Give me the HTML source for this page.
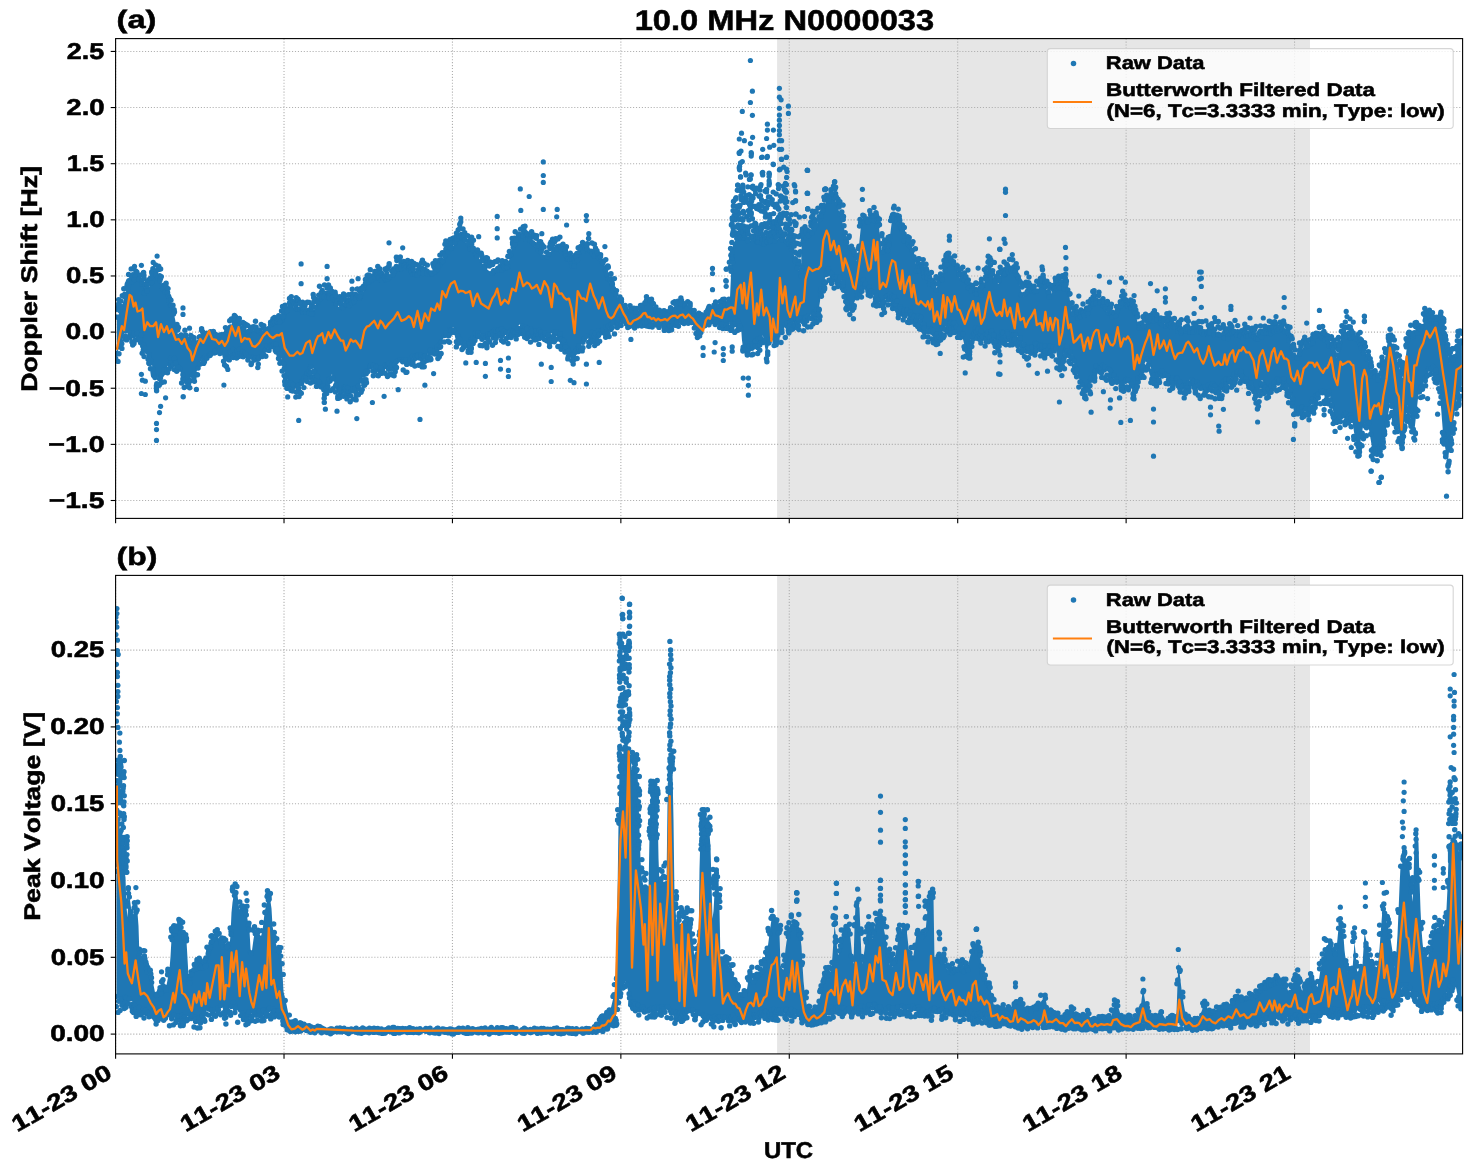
<!DOCTYPE html><html><head><meta charset="utf-8"><style>html,body{margin:0;padding:0;background:#fff;overflow:hidden}svg{display:block}</style></head><body><svg width="1472" height="1172" viewBox="0 0 1472 1172"><rect x="777.1" y="38.6" width="532.9" height="479.8" fill="#e6e6e6"/>
<g stroke="#b0b0b0" stroke-width="1.1" stroke-dasharray="1.11 1.83"><line x1="115.60" y1="38.6" x2="115.60" y2="518.4"/><line x1="284.02" y1="38.6" x2="284.02" y2="518.4"/><line x1="452.44" y1="38.6" x2="452.44" y2="518.4"/><line x1="620.86" y1="38.6" x2="620.86" y2="518.4"/><line x1="789.28" y1="38.6" x2="789.28" y2="518.4"/><line x1="957.70" y1="38.6" x2="957.70" y2="518.4"/><line x1="1126.12" y1="38.6" x2="1126.12" y2="518.4"/><line x1="1294.54" y1="38.6" x2="1294.54" y2="518.4"/><line x1="115.6" y1="51.43" x2="1462.6" y2="51.43"/><line x1="115.6" y1="107.56" x2="1462.6" y2="107.56"/><line x1="115.6" y1="163.70" x2="1462.6" y2="163.70"/><line x1="115.6" y1="219.83" x2="1462.6" y2="219.83"/><line x1="115.6" y1="275.97" x2="1462.6" y2="275.97"/><line x1="115.6" y1="332.10" x2="1462.6" y2="332.10"/><line x1="115.6" y1="388.24" x2="1462.6" y2="388.24"/><line x1="115.6" y1="444.37" x2="1462.6" y2="444.37"/><line x1="115.6" y1="500.50" x2="1462.6" y2="500.50"/></g>
<svg x="115.6" y="38.6" width="1347" height="479.8" overflow="hidden"><g transform="translate(-115.6,-38.6)">
<polygon points="116.9,318.4 117.9,316.0 118.9,313.6 119.9,311.2 120.9,308.8 121.9,306.3 122.9,302.7 123.9,299.2 124.9,295.6 125.9,292.1 126.9,288.9 127.9,287.6 128.9,286.2 129.9,284.9 130.9,283.7 131.9,282.5 132.9,281.3 133.9,280.1 134.9,279.3 135.9,279.1 136.9,279.0 137.9,278.9 138.9,278.7 139.9,278.6 140.9,278.4 141.9,279.9 142.9,283.3 143.9,286.7 144.9,290.1 145.9,293.5 146.9,293.5 147.9,290.6 148.9,287.7 149.9,284.9 150.9,282.0 151.9,279.2 152.9,276.3 153.9,275.1 154.9,274.6 155.9,274.1 156.9,273.6 157.9,275.1 158.9,277.2 159.9,279.4 160.9,281.5 161.9,283.6 162.9,285.8 163.9,287.9 164.9,290.3 165.9,292.7 166.9,295.1 167.9,297.5 168.9,299.9 169.9,302.1 170.9,304.4 171.9,306.6 172.9,309.0 173.9,313.7 174.9,318.4 175.9,323.3 176.9,329.6 177.9,334.7 178.9,336.0 179.9,337.6 180.9,339.3 181.9,341.0 182.9,342.2 183.9,342.6 184.9,342.9 185.9,343.2 186.9,343.6 187.9,343.9 188.9,344.6 189.9,345.6 190.9,345.9 191.9,346.2 192.9,346.0 193.9,345.3 194.9,344.5 195.9,343.7 196.9,342.6 197.9,341.0 198.9,339.5 199.9,338.0 200.9,336.5 201.9,335.5 202.9,335.2 203.9,335.0 204.9,334.8 205.9,334.6 206.9,334.5 207.9,334.3 208.9,334.1 209.9,333.9 210.9,334.1 211.9,334.4 212.9,334.6 213.9,334.9 214.9,335.1 215.9,335.4 216.9,335.6 217.9,335.9 218.9,336.1 219.9,336.4 220.9,336.3 221.9,336.3 222.9,336.2 223.9,336.1 224.9,334.7 225.9,333.3 226.9,331.9 227.9,330.6 228.9,329.2 229.9,327.9 230.9,326.5 231.9,325.2 232.9,324.3 233.9,323.7 234.9,324.0 235.9,324.4 236.9,324.8 237.9,325.2 238.9,325.6 239.9,326.1 240.9,326.8 241.9,327.5 242.9,328.2 243.9,328.9 244.9,329.6 245.9,330.3 246.9,331.0 247.9,331.3 248.9,331.1 249.9,331.0 250.9,330.9 251.9,330.8 252.9,330.6 253.9,330.5 254.9,330.4 255.9,330.5 256.9,330.8 257.9,331.2 258.9,331.5 259.9,331.8 260.9,332.1 261.9,332.1 262.9,331.9 263.9,331.2 264.9,330.3 265.9,329.5 266.9,328.6 267.9,328.3 268.9,328.0 269.9,327.1 270.9,326.2 271.9,325.2 272.9,324.2 273.9,323.4 274.9,322.6 275.9,322.4 276.9,322.2 277.9,322.0 278.9,321.9 279.9,321.7 280.9,321.4 281.9,319.8 282.9,317.3 283.9,314.8 284.9,312.3 285.9,309.8 286.9,307.3 287.9,304.8 288.9,303.1 289.9,303.9 290.9,304.7 291.9,305.5 292.9,306.4 293.9,307.2 294.9,308.0 295.9,308.8 296.9,309.6 297.9,310.2 298.9,310.6 299.9,310.9 300.9,311.2 301.9,311.6 302.9,311.9 303.9,312.2 304.9,312.6 305.9,312.9 306.9,313.2 307.9,313.6 308.9,313.9 309.9,314.2 310.9,314.6 311.9,314.9 312.9,313.3 313.9,310.3 314.9,307.3 315.9,304.3 316.9,301.3 317.9,299.7 318.9,299.1 319.9,298.4 320.9,297.7 321.9,297.1 322.9,296.4 323.9,295.7 324.9,295.4 325.9,296.0 326.9,296.7 327.9,297.4 328.9,298.0 329.9,298.7 330.9,299.4 331.9,300.0 332.9,301.0 333.9,302.0 334.9,303.0 335.9,304.0 336.9,305.0 337.9,306.0 338.9,307.0 339.9,307.5 340.9,307.1 341.9,306.8 342.9,306.5 343.9,306.1 344.9,305.8 345.9,305.5 346.9,305.1 347.9,304.5 348.9,303.8 349.9,303.2 350.9,302.5 351.9,301.8 352.9,301.2 353.9,300.5 354.9,299.8 355.9,299.2 356.9,298.5 357.9,297.8 358.9,297.2 359.9,296.5 360.9,295.8 361.9,295.0 362.9,292.5 363.9,290.0 364.9,287.5 365.9,285.0 366.9,282.8 367.9,282.1 368.9,281.4 369.9,280.8 370.9,280.1 371.9,279.4 372.9,278.8 373.9,278.1 374.9,278.1 375.9,278.3 376.9,278.6 377.9,278.8 378.9,279.1 379.9,279.3 380.9,279.6 381.9,279.8 382.9,280.1 383.9,280.3 384.9,279.8 385.9,279.0 386.9,278.3 387.9,277.5 388.9,276.8 389.9,276.0 390.9,275.3 391.9,274.5 392.9,273.8 393.9,273.0 394.9,272.3 395.9,271.5 396.9,270.8 397.9,270.0 398.9,269.3 399.9,268.5 400.9,267.8 401.9,267.0 402.9,266.3 403.9,265.5 404.9,266.5 405.9,267.5 406.9,268.5 407.9,269.5 408.9,270.5 409.9,271.5 410.9,272.5 411.9,273.5 412.9,274.5 413.9,275.4 414.9,275.1 415.9,274.9 416.9,274.6 417.9,274.4 418.9,274.1 419.9,273.9 420.9,273.6 421.9,273.4 422.9,273.1 423.9,273.0 424.9,273.3 425.9,273.7 426.9,274.0 427.9,274.3 428.9,274.7 429.9,275.0 430.9,275.3 431.9,274.7 432.9,273.7 433.9,272.7 434.9,271.7 435.9,270.7 436.9,269.7 437.9,268.7 438.9,267.3 439.9,265.3 440.9,263.3 441.9,261.3 442.9,259.3 443.9,257.3 444.9,255.3 445.9,253.3 446.9,252.2 447.9,251.2 448.9,250.2 449.9,249.2 450.9,248.2 451.9,247.2 452.9,246.2 453.9,245.1 454.9,243.8 455.9,242.4 456.9,241.1 457.9,239.8 458.9,238.4 459.9,237.1 460.9,235.8 461.9,237.2 462.9,238.5 463.9,239.8 464.9,241.2 465.9,242.5 466.9,243.8 467.9,245.2 468.9,246.4 469.9,247.4 470.9,248.5 471.9,249.6 472.9,250.7 473.9,251.8 474.9,252.8 475.9,253.9 476.9,255.0 477.9,256.3 478.9,258.0 479.9,259.7 480.9,261.3 481.9,263.0 482.9,264.7 483.9,266.3 484.9,268.0 485.9,268.7 486.9,269.3 487.9,270.0 488.9,270.7 489.9,271.3 490.9,272.0 491.9,272.7 492.9,272.7 493.9,272.4 494.9,272.1 495.9,271.7 496.9,271.4 497.9,271.1 498.9,270.7 499.9,270.4 500.9,270.1 501.9,269.7 502.9,269.4 503.9,269.1 504.9,268.7 505.9,268.4 506.9,268.1 507.9,265.1 508.9,261.1 509.9,257.1 510.9,253.1 511.9,249.1 512.9,246.9 513.9,245.2 514.9,243.5 515.9,241.9 516.9,240.2 517.9,238.5 518.9,236.9 519.9,236.0 520.9,236.5 521.9,237.0 522.9,237.5 523.9,238.0 524.9,238.5 525.9,239.0 526.9,239.5 527.9,240.0 528.9,240.5 529.9,241.2 530.9,242.2 531.9,243.2 532.9,244.2 533.9,245.2 534.9,246.2 535.9,247.2 536.9,248.2 537.9,249.5 538.9,250.9 539.9,252.2 540.9,253.5 541.9,254.9 542.9,256.2 543.9,257.5 544.9,257.5 545.9,256.5 546.9,255.5 547.9,254.5 548.9,253.5 549.9,252.5 550.9,251.5 551.9,250.6 552.9,250.3 553.9,249.9 554.9,249.6 555.9,249.3 556.9,248.9 557.9,248.6 558.9,248.3 559.9,249.2 560.9,250.5 561.9,251.8 562.9,253.2 563.9,254.5 564.9,255.8 565.9,257.2 566.9,258.5 567.9,259.8 568.9,261.2 569.9,262.5 570.9,263.8 571.9,265.2 572.9,266.5 573.9,267.8 574.9,265.3 575.9,262.3 576.9,259.3 577.9,256.3 578.9,253.3 579.9,252.5 580.9,251.8 581.9,251.2 582.9,250.5 583.9,249.8 584.9,249.2 585.9,248.5 586.9,248.7 587.9,249.7 588.9,250.7 589.9,251.7 590.9,252.7 591.9,253.7 592.9,254.7 593.9,255.7 594.9,256.4 595.9,257.2 596.9,257.9 597.9,258.7 598.9,259.4 599.9,260.2 600.9,260.9 601.9,261.7 602.9,262.4 603.9,263.6 604.9,267.1 605.9,270.6 606.9,274.1 607.9,277.6 608.9,280.8 609.9,282.8 610.9,284.8 611.9,286.8 612.9,288.8 613.9,290.5 614.9,292.6 615.9,294.8 616.9,297.0 617.9,298.5 618.9,299.8 619.9,301.2 620.9,302.7 621.9,303.4 622.9,304.1 623.9,304.9 624.9,305.9 625.9,306.9 626.9,307.9 627.9,308.9 628.9,309.7 629.9,310.1 630.9,310.5 631.9,310.6 632.9,310.6 633.9,310.7 634.9,310.7 635.9,310.8 636.9,310.8 637.9,310.9 638.9,310.2 639.9,308.9 640.9,307.6 641.9,306.3 642.9,305.0 643.9,303.7 644.9,302.4 645.9,301.2 646.9,301.2 647.9,301.2 648.9,301.2 649.9,301.2 650.9,301.2 651.9,301.2 652.9,304.1 653.9,307.1 654.9,310.2 655.9,311.8 656.9,312.0 657.9,312.2 658.9,312.5 659.9,312.8 660.9,313.1 661.9,313.4 662.9,313.8 663.9,314.1 664.9,314.5 665.9,314.9 666.9,315.2 667.9,314.7 668.9,313.3 669.9,311.8 670.9,310.3 671.9,308.8 672.9,307.6 673.9,306.6 674.9,305.7 675.9,304.9 676.9,304.6 677.9,304.2 678.9,303.8 679.9,303.5 680.9,303.1 681.9,302.8 682.9,303.9 683.9,304.9 684.9,306.0 685.9,307.0 686.9,306.7 687.9,306.1 688.9,305.4 689.9,305.8 690.9,307.9 691.9,310.4 692.9,313.2 693.9,314.0 694.9,314.8 695.9,315.6 696.9,316.0 697.9,316.1 698.9,316.2 699.9,316.5 700.9,317.3 701.9,318.0 702.9,318.5 703.9,319.0 704.9,317.1 705.9,315.0 706.9,312.9 707.9,310.8 708.9,309.6 709.9,309.1 710.9,308.6 711.9,308.1 712.9,307.5 713.9,307.0 714.9,306.5 715.9,306.2 716.9,305.9 717.9,305.7 718.9,305.4 719.9,305.2 720.9,304.9 721.9,304.6 722.9,304.7 723.9,304.8 724.9,305.0 725.9,305.1 726.9,305.2 727.9,305.1 728.9,300.6 729.9,300.1 730.9,277.1 731.9,259.6 732.9,243.3 733.9,242.3 734.9,241.3 735.9,240.3 736.9,239.3 737.9,238.3 738.9,237.3 739.9,237.2 740.9,237.5 741.9,237.8 742.9,238.1 743.9,238.4 744.9,238.7 745.9,239.0 746.9,239.3 747.9,239.6 748.9,239.9 749.9,240.2 750.9,240.5 751.9,240.8 752.9,241.0 753.9,241.2 754.9,241.4 755.9,241.6 756.9,241.8 757.9,242.0 758.9,242.2 759.9,242.4 760.9,242.6 761.9,242.8 762.9,243.0 763.9,243.2 764.9,243.4 765.9,243.1 766.9,242.9 767.9,242.6 768.9,242.4 769.9,242.1 770.9,241.9 771.9,241.6 772.9,241.4 773.9,241.1 774.9,240.9 775.9,240.2 776.9,239.5 777.9,238.7 778.9,238.0 779.9,237.2 780.9,237.6 781.9,238.5 782.9,239.4 783.9,240.3 784.9,241.2 785.9,242.1 786.9,243.0 787.9,243.9 788.9,244.7 789.9,245.6 790.9,246.5 791.9,247.9 792.9,251.3 793.9,254.7 794.9,258.1 795.9,261.5 796.9,264.9 797.9,268.3 798.9,271.0 799.9,273.5 800.9,276.0 801.9,237.5 802.9,240.0 803.9,240.0 804.9,238.9 805.9,237.7 806.9,236.6 807.9,235.4 808.9,234.3 809.9,233.1 810.9,232.0 811.9,230.9 812.9,229.5 813.9,228.0 814.9,226.5 815.9,225.0 816.9,223.5 817.9,222.0 818.9,220.5 819.9,219.0 820.9,217.5 821.9,216.0 822.9,213.6 823.9,210.2 824.9,206.9 825.9,203.6 826.9,201.8 827.9,201.0 828.9,200.2 829.9,199.3 830.9,198.5 831.9,197.7 832.9,196.8 833.9,196.0 834.9,198.9 835.9,201.9 836.9,204.9 837.9,207.9 838.9,210.9 839.9,213.9 840.9,216.9 841.9,220.1 842.9,223.9 843.9,227.7 844.9,231.5 845.9,235.3 846.9,239.1 847.9,242.9 848.9,245.1 849.9,247.1 850.9,249.1 851.9,251.1 852.9,253.1 853.9,255.1 854.9,257.1 855.9,259.1 856.9,260.7 857.9,256.5 858.9,246.5 859.9,236.5 860.9,226.5 861.9,221.2 862.9,221.6 863.9,221.9 864.9,222.2 865.9,222.6 866.9,222.9 867.9,223.0 868.9,222.5 869.9,222.0 870.9,221.5 871.9,221.0 872.9,220.5 873.9,220.0 874.9,219.5 875.9,219.0 876.9,218.5 877.9,218.7 878.9,226.9 879.9,235.2 880.9,243.4 881.9,251.7 882.9,251.8 883.9,251.8 884.9,251.8 885.9,251.8 886.9,251.8 887.9,251.8 888.9,245.0 889.9,237.0 890.9,229.0 891.9,221.0 892.9,219.5 893.9,220.2 894.9,220.9 895.9,221.5 896.9,222.2 897.9,222.9 898.9,224.7 899.9,227.2 900.9,229.7 901.9,232.2 902.9,234.7 903.9,237.2 904.9,239.7 905.9,242.2 906.9,244.1 907.9,245.4 908.9,246.6 909.9,247.9 910.9,249.1 911.9,250.4 912.9,251.6 913.9,252.9 914.9,255.7 915.9,263.7 916.9,270.3 917.9,270.6 918.9,270.9 919.9,271.3 920.9,271.6 921.9,271.9 922.9,272.3 923.9,273.7 924.9,275.0 925.9,276.3 926.9,277.7 927.9,279.0 928.9,280.3 929.9,282.0 930.9,283.6 931.9,285.3 932.9,287.0 933.9,288.6 934.9,290.3 935.9,289.2 936.9,287.2 937.9,285.2 938.9,283.2 939.9,281.2 940.9,279.2 941.9,276.5 942.9,273.5 943.9,270.5 944.9,267.5 945.9,264.5 946.9,261.5 947.9,260.2 948.9,260.7 949.9,261.2 950.9,261.7 951.9,262.2 952.9,262.7 953.9,263.2 954.9,263.7 955.9,265.1 956.9,268.6 957.9,272.1 958.9,275.6 959.9,278.5 960.9,278.8 961.9,279.1 962.9,279.5 963.9,279.8 964.9,280.1 965.9,280.6 966.9,282.6 967.9,284.6 968.9,286.6 969.9,288.6 970.9,290.6 971.9,292.6 972.9,293.0 973.9,293.2 974.9,293.1 975.9,292.7 976.9,293.1 977.9,293.7 978.9,294.4 979.9,294.7 980.9,292.6 981.9,289.6 982.9,286.6 983.9,283.6 984.9,280.6 985.9,277.6 986.9,273.2 987.9,267.9 988.9,262.6 989.9,262.0 990.9,266.0 991.9,270.0 992.9,274.0 993.9,278.0 994.9,280.8 995.9,281.6 996.9,282.4 997.9,283.2 998.9,284.0 999.9,277.8 1000.9,274.7 1001.9,274.7 1002.9,274.7 1003.9,274.7 1004.9,274.7 1005.9,274.7 1006.9,274.0 1007.9,273.0 1008.9,272.0 1009.9,271.0 1010.9,270.0 1011.9,269.0 1012.9,269.5 1013.9,271.2 1014.9,272.9 1015.9,274.5 1016.9,276.2 1017.9,277.9 1018.9,280.8 1019.9,285.3 1020.9,289.8 1021.9,294.3 1022.9,296.8 1023.9,295.4 1024.9,294.1 1025.9,292.8 1026.9,291.4 1027.9,290.1 1028.9,289.1 1029.9,289.3 1030.9,289.6 1031.9,289.8 1032.9,290.1 1033.9,290.3 1034.9,290.6 1035.9,290.8 1036.9,291.0 1037.9,289.4 1038.9,287.7 1039.9,286.0 1040.9,284.4 1041.9,282.7 1042.9,281.0 1043.9,283.2 1044.9,285.9 1045.9,288.5 1046.9,291.2 1047.9,293.9 1048.9,296.5 1049.9,296.0 1050.9,294.3 1051.9,292.7 1052.9,291.0 1053.9,289.3 1054.9,287.7 1055.9,287.2 1056.9,287.5 1057.9,287.9 1058.9,288.2 1059.9,288.5 1060.9,288.9 1061.9,288.7 1062.9,288.1 1063.9,287.4 1064.9,286.7 1065.9,286.1 1066.9,285.4 1067.9,287.0 1068.9,293.5 1069.9,300.0 1070.9,306.5 1071.9,311.8 1072.9,312.8 1073.9,313.8 1074.9,314.8 1075.9,315.8 1076.9,316.8 1077.9,317.7 1078.9,317.4 1079.9,317.2 1080.9,316.9 1081.9,316.7 1082.9,316.4 1083.9,316.2 1084.9,315.9 1085.9,315.7 1086.9,313.9 1087.9,311.9 1088.9,309.9 1089.9,307.9 1090.9,305.9 1091.9,303.9 1092.9,303.4 1093.9,303.4 1094.9,303.4 1095.9,303.4 1096.9,303.4 1097.9,303.4 1098.9,303.4 1099.9,303.4 1100.9,304.1 1101.9,305.5 1102.9,306.8 1103.9,308.1 1104.9,309.5 1105.9,310.8 1106.9,311.9 1107.9,312.6 1108.9,313.4 1109.9,314.1 1110.9,314.9 1111.9,315.6 1112.9,316.4 1113.9,317.1 1114.9,317.3 1115.9,315.5 1116.9,313.8 1117.9,312.0 1118.9,310.3 1119.9,308.5 1120.9,306.8 1121.9,305.0 1122.9,303.4 1123.9,304.1 1124.9,304.9 1125.9,305.6 1126.9,306.4 1127.9,307.1 1128.9,307.9 1129.9,308.6 1130.9,309.4 1131.9,309.9 1132.9,310.4 1133.9,310.9 1134.9,311.4 1135.9,315.0 1136.9,319.5 1137.9,324.0 1138.9,328.5 1139.9,329.3 1140.9,328.3 1141.9,327.3 1142.9,326.3 1143.9,325.3 1144.9,324.3 1145.9,323.3 1146.9,322.3 1147.9,321.7 1148.9,321.4 1149.9,321.2 1150.9,320.9 1151.9,320.7 1152.9,320.4 1153.9,320.2 1154.9,319.9 1155.9,320.0 1156.9,320.7 1157.9,321.5 1158.9,322.2 1159.9,323.0 1160.9,323.7 1161.9,324.5 1162.9,325.2 1163.9,325.9 1164.9,325.9 1165.9,325.9 1166.9,325.9 1167.9,325.9 1168.9,325.9 1169.9,325.9 1170.9,325.9 1171.9,325.9 1172.9,326.6 1173.9,327.3 1174.9,328.1 1175.9,328.8 1176.9,329.6 1177.9,330.3 1178.9,331.1 1179.9,331.8 1180.9,331.8 1181.9,331.6 1182.9,331.3 1183.9,331.1 1184.9,330.8 1185.9,330.6 1186.9,330.3 1187.9,330.1 1188.9,331.1 1189.9,333.3 1190.9,333.0 1191.9,332.4 1192.9,331.7 1193.9,331.0 1194.9,330.4 1195.9,329.7 1196.9,330.0 1197.9,330.7 1198.9,331.3 1199.9,332.0 1200.9,332.7 1201.9,333.3 1202.9,333.6 1203.9,333.6 1204.9,333.6 1205.9,333.6 1206.9,333.6 1207.9,333.6 1208.9,333.6 1209.9,333.6 1210.9,333.6 1211.9,333.6 1212.9,333.6 1213.9,333.6 1214.9,333.6 1215.9,333.6 1216.9,333.6 1217.9,333.6 1218.9,333.7 1219.9,334.2 1220.9,334.7 1221.9,335.2 1222.9,335.7 1223.9,336.2 1224.9,336.7 1225.9,337.2 1226.9,337.7 1227.9,336.7 1228.9,335.7 1229.9,334.7 1230.9,333.7 1231.9,332.7 1232.9,331.7 1233.9,332.2 1234.9,333.0 1235.9,333.7 1236.9,334.5 1237.9,335.1 1238.9,335.5 1239.9,336.3 1240.9,337.2 1241.9,337.5 1242.9,337.3 1243.9,337.0 1244.9,336.8 1245.9,336.5 1246.9,336.3 1247.9,336.0 1248.9,335.8 1249.9,335.9 1250.9,336.4 1251.9,336.9 1252.9,337.4 1253.9,337.9 1254.9,338.4 1255.9,338.9 1256.9,339.4 1257.9,339.4 1258.9,338.4 1259.9,337.4 1260.9,336.4 1261.9,335.4 1262.9,334.4 1263.9,333.6 1264.9,333.6 1265.9,333.6 1266.9,333.6 1267.9,333.6 1268.9,333.6 1269.9,333.6 1270.9,333.6 1271.9,333.6 1272.9,333.1 1273.9,332.6 1274.9,332.1 1275.9,331.6 1276.9,331.1 1277.9,330.6 1278.9,330.1 1279.9,329.6 1280.9,329.9 1281.9,330.4 1282.9,330.9 1283.9,331.4 1284.9,331.9 1285.9,332.4 1286.9,332.9 1287.9,333.4 1288.9,336.0 1289.9,340.0 1290.9,344.0 1291.9,348.0 1292.9,351.3 1293.9,353.8 1294.9,356.3 1295.9,358.8 1296.9,359.4 1297.9,357.4 1298.9,355.4 1299.9,353.4 1300.9,351.4 1301.9,349.4 1302.9,347.9 1303.9,347.6 1304.9,347.4 1305.9,347.1 1306.9,346.9 1307.9,346.6 1308.9,346.4 1309.9,346.1 1310.9,345.7 1311.9,344.1 1312.9,342.4 1313.9,340.7 1314.9,339.1 1315.9,337.4 1316.9,335.7 1317.9,336.1 1318.9,336.6 1319.9,337.1 1320.9,337.6 1321.9,338.1 1322.9,338.6 1323.9,339.1 1324.9,339.6 1325.9,340.9 1326.9,342.4 1327.9,343.9 1328.9,345.4 1329.9,346.9 1330.9,348.4 1331.9,349.9 1332.9,351.4 1333.9,352.9 1334.9,354.4 1335.9,355.9 1336.9,357.4 1337.9,355.3 1338.9,349.3 1339.9,343.3 1340.9,337.3 1341.9,333.8 1342.9,334.3 1343.9,334.8 1344.9,335.3 1345.9,335.8 1346.9,336.3 1347.9,336.8 1348.9,337.3 1349.9,337.7 1350.9,337.6 1351.9,337.5 1352.9,337.4 1353.9,337.3 1354.9,337.8 1355.9,339.1 1356.9,340.4 1357.9,341.8 1358.9,343.1 1359.9,344.4 1360.9,345.8 1361.9,347.4 1362.9,349.0 1363.9,350.7 1364.9,352.4 1365.9,354.0 1366.9,355.7 1367.9,357.7 1368.9,361.7 1369.9,365.7 1370.9,369.7 1371.9,373.7 1372.9,375.6 1373.9,376.6 1374.9,377.6 1375.9,378.6 1376.9,379.6 1377.9,380.6 1378.9,381.5 1379.9,378.5 1380.9,375.5 1381.9,372.5 1382.9,369.5 1383.9,364.7 1384.9,358.7 1385.9,352.7 1386.9,346.7 1387.9,340.7 1388.9,335.1 1389.9,337.9 1390.9,340.7 1391.9,343.5 1392.9,346.3 1393.9,349.1 1394.9,352.3 1395.9,355.8 1396.9,359.3 1397.9,362.8 1398.9,366.2 1399.9,369.2 1400.9,372.2 1401.9,375.2 1402.9,378.2 1403.9,373.7 1404.9,364.7 1405.9,355.7 1406.9,346.7 1407.9,339.3 1408.9,338.6 1409.9,338.0 1410.9,337.3 1411.9,336.6 1412.9,336.0 1413.9,335.3 1414.9,334.4 1415.9,333.4 1416.9,332.4 1417.9,331.4 1418.9,330.4 1419.9,329.4 1420.9,328.4 1421.9,326.6 1422.9,324.6 1423.9,322.6 1424.9,320.6 1425.9,318.6 1426.9,317.5 1427.9,318.4 1428.9,319.2 1429.9,320.1 1430.9,321.0 1431.9,321.8 1432.9,322.7 1433.9,323.5 1434.9,323.9 1435.9,323.9 1436.9,323.9 1437.9,323.9 1438.9,323.9 1439.9,323.9 1440.9,323.9 1441.9,326.7 1442.9,329.7 1443.9,332.7 1444.9,335.7 1445.9,340.1 1446.9,346.1 1447.9,352.1 1448.9,358.1 1449.9,363.8 1450.9,362.3 1451.9,360.8 1452.9,359.3 1453.9,357.8 1454.9,354.5 1455.9,350.2 1456.9,345.9 1457.9,342.8 1458.9,343.1 1459.9,343.3 1460.9,343.5 1461.9,343.8 1461.9,385.6 1460.9,388.3 1459.9,391.0 1458.9,393.7 1457.9,396.4 1456.9,399.1 1455.9,404.1 1454.9,410.6 1453.9,417.1 1452.9,423.6 1451.9,430.3 1450.9,437.8 1449.9,445.3 1448.9,452.8 1447.9,460.3 1446.9,457.9 1445.9,451.9 1444.9,445.9 1443.9,439.9 1442.9,431.8 1441.9,418.8 1440.9,405.8 1439.9,392.8 1438.9,379.8 1437.9,376.2 1436.9,374.2 1435.9,372.2 1434.9,370.2 1433.9,368.2 1432.9,366.2 1431.9,365.1 1430.9,367.1 1429.9,369.1 1428.9,371.1 1427.9,373.1 1426.9,375.1 1425.9,377.1 1424.9,379.1 1423.9,381.1 1422.9,383.1 1421.9,385.1 1420.9,387.1 1419.9,389.1 1418.9,391.1 1417.9,399.3 1416.9,408.3 1415.9,417.3 1414.9,426.3 1413.9,429.4 1412.9,425.4 1411.9,421.4 1410.9,417.4 1409.9,413.4 1408.9,409.4 1407.9,405.4 1406.9,408.9 1405.9,414.2 1404.9,419.5 1403.9,424.9 1402.9,430.2 1401.9,435.5 1400.9,439.5 1399.9,435.5 1398.9,431.5 1397.9,427.5 1396.9,423.5 1395.9,419.5 1394.9,415.5 1393.9,412.2 1392.9,409.7 1391.9,407.2 1390.9,404.7 1389.9,402.8 1388.9,409.8 1387.9,416.8 1386.9,423.8 1385.9,430.8 1384.9,434.9 1383.9,437.2 1382.9,439.5 1381.9,441.9 1380.9,444.2 1379.9,446.5 1378.9,448.9 1377.9,449.0 1376.9,449.0 1375.9,449.0 1374.9,449.0 1373.9,449.0 1372.9,449.0 1371.9,447.1 1370.9,441.1 1369.9,435.1 1368.9,429.1 1367.9,423.1 1366.9,422.8 1365.9,423.3 1364.9,423.8 1363.9,424.3 1362.9,427.2 1361.9,433.2 1360.9,439.2 1359.9,445.2 1358.9,451.2 1357.9,447.7 1356.9,444.2 1355.9,440.7 1354.9,437.2 1353.9,431.6 1352.9,424.4 1351.9,417.2 1350.9,415.9 1349.9,415.7 1348.9,415.4 1347.9,415.2 1346.9,414.9 1345.9,414.7 1344.9,414.4 1343.9,414.2 1342.9,415.2 1341.9,416.9 1340.9,418.5 1339.9,420.2 1338.9,421.9 1337.9,423.5 1336.9,422.8 1335.9,419.8 1334.9,416.8 1333.9,413.8 1332.9,409.9 1331.9,404.9 1330.9,399.9 1329.9,394.9 1328.9,391.6 1327.9,391.6 1326.9,391.6 1325.9,391.6 1324.9,391.6 1323.9,391.6 1322.9,391.6 1321.9,391.6 1320.9,391.7 1319.9,392.4 1318.9,393.2 1317.9,393.9 1316.9,394.7 1315.9,395.4 1314.9,396.2 1313.9,396.9 1312.9,397.7 1311.9,401.5 1310.9,405.5 1309.9,409.5 1308.9,413.5 1307.9,413.2 1306.9,412.2 1305.9,411.2 1304.9,410.2 1303.9,409.2 1302.9,408.2 1301.9,407.2 1300.9,406.2 1299.9,406.8 1298.9,408.1 1297.9,409.5 1296.9,410.8 1295.9,412.1 1294.9,413.5 1293.9,411.2 1292.9,405.7 1291.9,400.2 1290.9,394.7 1289.9,390.7 1288.9,388.7 1287.9,386.7 1286.9,384.7 1285.9,382.7 1284.9,380.7 1283.9,379.3 1282.9,379.3 1281.9,379.3 1280.9,379.3 1279.9,379.3 1278.9,379.3 1277.9,379.3 1276.9,379.3 1275.9,379.4 1274.9,380.7 1273.9,381.9 1272.9,383.2 1271.9,384.4 1270.9,385.7 1269.9,386.9 1268.9,388.2 1267.9,389.4 1266.9,388.0 1265.9,386.3 1264.9,384.7 1263.9,383.0 1262.9,381.3 1261.9,379.7 1260.9,383.2 1259.9,388.2 1258.9,393.2 1257.9,398.2 1256.9,397.9 1255.9,395.3 1254.9,392.6 1253.9,389.9 1252.9,387.3 1251.9,384.6 1250.9,383.0 1249.9,382.4 1248.9,381.7 1247.9,381.0 1246.9,380.4 1245.9,379.7 1244.9,378.6 1243.9,377.0 1242.9,375.3 1241.9,373.6 1240.9,372.2 1239.9,370.7 1238.9,369.8 1237.9,370.4 1236.9,371.3 1235.9,372.3 1234.9,373.3 1233.9,374.3 1232.9,375.3 1231.9,376.3 1230.9,377.3 1229.9,378.0 1228.9,378.6 1227.9,379.3 1226.9,380.0 1225.9,380.6 1224.9,381.3 1223.9,382.9 1222.9,384.6 1221.9,386.2 1220.9,387.9 1219.9,389.6 1218.9,391.2 1217.9,390.8 1216.9,389.8 1215.9,388.8 1214.9,387.8 1213.9,386.8 1212.9,385.8 1211.9,384.8 1210.9,383.8 1209.9,383.8 1208.9,384.6 1207.9,385.3 1206.9,386.1 1205.9,386.8 1204.9,387.6 1203.9,388.3 1202.9,389.1 1201.9,388.9 1200.9,387.4 1199.9,385.9 1198.9,384.4 1197.9,383.2 1196.9,382.7 1195.9,382.2 1194.9,381.7 1193.9,381.2 1192.9,380.7 1191.9,380.2 1190.9,379.7 1189.9,379.5 1188.9,381.0 1187.9,382.5 1186.9,384.0 1185.9,385.5 1184.9,387.0 1183.9,387.3 1182.9,385.7 1181.9,384.0 1180.9,382.3 1179.9,380.7 1178.9,379.0 1177.9,377.7 1176.9,377.7 1175.9,377.7 1174.9,377.7 1173.9,377.7 1172.9,377.7 1171.9,377.7 1170.9,377.7 1169.9,377.7 1168.9,376.9 1167.9,376.2 1166.9,375.4 1165.9,374.7 1164.9,373.9 1163.9,373.2 1162.9,372.4 1161.9,371.7 1160.9,372.0 1159.9,372.5 1158.9,373.0 1157.9,373.5 1156.9,374.0 1155.9,374.5 1154.9,375.0 1153.9,375.5 1152.9,373.7 1151.9,370.7 1150.9,367.7 1149.9,364.7 1148.9,361.7 1147.9,358.7 1146.9,358.5 1145.9,360.8 1144.9,363.1 1143.9,365.5 1142.9,367.8 1141.9,370.1 1140.9,372.7 1139.9,375.7 1138.9,378.7 1137.9,381.7 1136.9,384.7 1135.9,387.7 1134.9,389.6 1133.9,388.1 1132.9,386.6 1131.9,385.1 1130.9,383.6 1129.9,382.1 1128.9,380.6 1127.9,379.1 1126.9,377.8 1125.9,379.1 1124.9,380.5 1123.9,381.8 1122.9,383.1 1121.9,384.5 1120.9,385.8 1119.9,384.6 1118.9,383.2 1117.9,381.8 1116.9,380.4 1115.9,379.0 1114.9,377.6 1113.9,376.2 1112.9,374.8 1111.9,373.4 1110.9,372.0 1109.9,370.9 1108.9,369.9 1107.9,368.9 1106.9,367.9 1105.9,366.9 1104.9,365.9 1103.9,365.6 1102.9,365.8 1101.9,366.1 1100.9,366.3 1099.9,366.6 1098.9,366.8 1097.9,367.1 1096.9,367.3 1095.9,368.4 1094.9,371.1 1093.9,373.7 1092.9,376.4 1091.9,379.1 1090.9,381.7 1089.9,384.1 1088.9,385.1 1087.9,386.1 1086.9,387.1 1085.9,388.1 1084.9,389.1 1083.9,389.9 1082.9,387.5 1081.9,385.2 1080.9,382.9 1079.9,380.5 1078.9,378.2 1077.9,375.9 1076.9,372.3 1075.9,368.6 1074.9,365.0 1073.9,361.3 1072.9,357.6 1071.9,354.0 1070.9,352.4 1069.9,351.4 1068.9,350.4 1067.9,349.4 1066.9,348.4 1065.9,347.4 1064.9,349.6 1063.9,353.6 1062.9,357.6 1061.9,361.6 1060.9,365.6 1059.9,369.6 1058.9,368.4 1057.9,361.9 1056.9,355.4 1055.9,348.9 1054.9,345.1 1053.9,345.3 1052.9,345.6 1051.9,345.8 1050.9,346.1 1049.9,346.3 1048.9,346.6 1047.9,346.8 1046.9,346.9 1045.9,346.5 1044.9,346.1 1043.9,345.7 1042.9,345.3 1041.9,344.9 1040.9,344.5 1039.9,344.1 1038.9,343.7 1037.9,343.3 1036.9,342.9 1035.9,343.7 1034.9,344.4 1033.9,345.2 1032.9,345.9 1031.9,346.7 1030.9,347.4 1029.9,348.2 1028.9,348.9 1027.9,348.3 1026.9,347.3 1025.9,346.3 1024.9,345.3 1023.9,344.3 1022.9,343.3 1021.9,342.1 1020.9,340.7 1019.9,339.4 1018.9,338.1 1017.9,336.7 1016.9,335.4 1015.9,334.6 1014.9,334.4 1013.9,334.1 1012.9,333.9 1011.9,333.6 1010.9,333.4 1009.9,333.1 1008.9,332.9 1007.9,332.7 1006.9,332.7 1005.9,332.7 1004.9,332.7 1003.9,332.7 1002.9,332.7 1001.9,332.7 1000.9,332.7 999.9,337.7 998.9,347.2 997.9,345.2 996.9,343.2 995.9,341.2 994.9,339.2 993.9,337.2 992.9,335.2 991.9,333.2 990.9,331.2 989.9,330.6 988.9,331.4 987.9,332.1 986.9,332.9 985.9,333.6 984.9,334.4 983.9,335.1 982.9,335.9 981.9,335.7 980.9,333.7 979.9,331.7 978.9,329.8 977.9,328.2 976.9,326.6 975.9,325.7 974.9,328.0 973.9,330.6 972.9,333.6 971.9,336.6 970.9,339.6 969.9,342.6 968.9,344.6 967.9,346.6 966.9,348.6 965.9,350.6 964.9,346.9 963.9,342.9 962.9,338.9 961.9,334.9 960.9,332.6 959.9,330.6 958.9,328.6 957.9,326.6 956.9,324.6 955.9,322.6 954.9,322.2 953.9,322.5 952.9,322.7 951.9,323.0 950.9,323.2 949.9,323.5 948.9,323.7 947.9,324.0 946.9,324.9 945.9,326.4 944.9,327.9 943.9,329.4 942.9,330.9 941.9,332.4 940.9,333.9 939.9,335.4 938.9,336.1 937.9,335.4 936.9,334.6 935.9,333.9 934.9,333.1 933.9,332.4 932.9,331.6 931.9,330.9 930.9,330.2 929.9,329.9 928.9,329.5 927.9,329.2 926.9,328.9 925.9,328.5 924.9,328.2 923.9,326.2 922.9,324.2 921.9,322.2 920.9,320.2 919.9,318.2 918.9,316.2 917.9,315.9 916.9,315.9 915.9,315.9 914.9,315.9 913.9,315.9 912.9,315.9 911.9,315.2 910.9,314.2 909.9,313.2 908.9,312.2 907.9,311.2 906.9,310.2 905.9,309.6 904.9,309.2 903.9,308.9 902.9,308.6 901.9,308.2 900.9,307.9 899.9,307.0 898.9,305.3 897.9,303.7 896.9,302.0 895.9,300.3 894.9,298.7 893.9,297.3 892.9,296.6 891.9,296.0 890.9,295.3 889.9,294.6 888.9,294.0 887.9,293.7 886.9,295.7 885.9,297.7 884.9,299.7 883.9,301.7 882.9,303.7 881.9,305.6 880.9,303.6 879.9,301.6 878.9,299.6 877.9,297.6 876.9,296.6 875.9,295.6 874.9,294.6 873.9,293.6 872.9,292.6 871.9,291.6 870.9,290.6 869.9,289.6 868.9,288.1 867.9,286.4 866.9,284.7 865.9,283.1 864.9,281.4 863.9,279.7 862.9,280.4 861.9,282.8 860.9,285.1 859.9,287.4 858.9,289.8 857.9,292.1 856.9,295.2 855.9,297.7 854.9,300.7 853.9,303.7 852.9,306.7 851.9,309.7 850.9,311.1 849.9,308.8 848.9,306.4 847.9,304.1 846.9,301.8 845.9,299.4 844.9,296.7 843.9,292.2 842.9,287.7 841.9,283.2 840.9,279.0 839.9,278.5 838.9,278.0 837.9,277.5 836.9,277.0 835.9,276.5 834.9,276.0 833.9,275.5 832.9,275.0 831.9,273.6 830.9,272.1 829.9,270.5 828.9,269.0 827.9,267.4 826.9,270.6 825.9,274.6 824.9,278.6 823.9,282.3 822.9,285.8 821.9,289.3 820.9,292.9 819.9,301.9 818.9,308.4 817.9,309.2 816.9,310.0 815.9,310.8 814.9,311.6 813.9,312.4 812.9,313.2 811.9,314.0 810.9,314.8 809.9,315.4 808.9,315.9 807.9,316.4 806.9,316.9 805.9,317.4 804.9,317.9 803.9,318.4 802.9,318.4 801.9,318.4 800.9,318.4 799.9,318.4 798.9,318.4 797.9,318.4 796.9,318.4 795.9,318.4 794.9,318.4 793.9,318.4 792.9,319.0 791.9,319.8 790.9,320.6 789.9,321.4 788.9,322.2 787.9,323.0 786.9,323.8 785.9,324.6 784.9,325.4 783.9,326.4 782.9,327.4 781.9,328.4 780.9,329.4 779.9,330.4 778.9,331.4 777.9,332.4 776.9,333.4 775.9,334.0 774.9,334.3 773.9,334.6 772.9,335.0 771.9,335.3 770.9,337.4 769.9,341.1 768.9,344.7 767.9,348.4 766.9,352.1 765.9,352.0 764.9,346.5 763.9,341.0 762.9,335.5 761.9,336.4 760.9,337.4 759.9,338.4 758.9,339.4 757.9,340.4 756.9,341.4 755.9,342.4 754.9,342.9 753.9,343.4 752.9,343.9 751.9,344.4 750.9,344.9 749.9,345.4 748.9,345.8 747.9,346.0 746.9,346.3 745.9,346.5 744.9,346.8 743.9,347.0 742.9,347.3 741.9,339.6 740.9,324.6 739.9,321.4 738.9,320.9 737.9,320.4 736.9,319.9 735.9,319.4 734.9,318.9 733.9,318.4 732.9,318.9 731.9,319.4 730.9,319.9 729.9,320.4 728.9,325.2 727.9,326.8 726.9,327.1 725.9,326.7 724.9,326.3 723.9,325.9 722.9,325.5 721.9,325.2 720.9,324.9 719.9,324.6 718.9,324.1 717.9,323.7 716.9,323.3 715.9,322.9 714.9,322.6 713.9,322.6 712.9,322.5 711.9,322.5 710.9,322.5 709.9,322.4 708.9,322.4 707.9,322.9 706.9,324.2 705.9,325.5 704.9,326.8 703.9,328.8 702.9,330.1 701.9,331.4 700.9,331.9 699.9,331.9 698.9,332.1 697.9,332.3 696.9,332.5 695.9,331.7 694.9,329.6 693.9,327.4 692.9,325.3 691.9,322.6 690.9,320.6 689.9,320.2 688.9,320.3 687.9,320.7 686.9,321.0 685.9,321.3 684.9,321.2 683.9,321.0 682.9,320.8 681.9,320.7 680.9,320.9 679.9,321.1 678.9,321.3 677.9,321.5 676.9,321.8 675.9,322.0 674.9,322.3 673.9,322.8 672.9,323.7 671.9,324.7 670.9,325.7 669.9,326.8 668.9,327.8 667.9,328.5 666.9,328.3 665.9,327.9 664.9,327.5 663.9,327.0 662.9,326.6 661.9,326.2 660.9,325.8 659.9,325.4 658.9,324.9 657.9,324.5 656.9,324.2 655.9,324.3 654.9,324.0 653.9,323.2 652.9,322.5 651.9,321.7 650.9,321.6 649.9,321.4 648.9,321.2 647.9,321.0 646.9,320.8 645.9,320.7 644.9,321.0 643.9,321.3 642.9,321.7 641.9,322.1 640.9,322.4 639.9,322.8 638.9,323.2 637.9,323.6 636.9,324.1 635.9,324.5 634.9,325.0 633.9,325.4 632.9,325.9 631.9,326.4 630.9,326.8 629.9,325.9 628.9,325.1 627.9,324.2 626.9,323.2 625.9,322.2 624.9,321.2 623.9,320.2 622.9,319.9 621.9,320.1 620.9,320.2 619.9,320.2 618.9,320.1 617.9,320.9 616.9,321.8 615.9,322.7 614.9,323.5 613.9,324.3 612.9,324.4 611.9,324.7 610.9,325.1 609.9,325.4 608.9,325.7 607.9,326.1 606.9,326.4 605.9,326.8 604.9,327.5 603.9,328.2 602.9,328.8 601.9,329.5 600.9,330.2 599.9,330.8 598.9,331.5 597.9,331.9 596.9,332.2 595.9,332.6 594.9,332.9 593.9,333.2 592.9,333.6 591.9,333.9 590.9,334.4 589.9,335.0 588.9,335.7 587.9,336.4 586.9,337.0 585.9,337.7 584.9,338.4 583.9,339.1 582.9,340.7 581.9,342.4 580.9,344.1 579.9,345.7 578.9,347.4 577.9,349.1 576.9,350.7 575.9,352.0 574.9,353.0 573.9,354.0 572.9,355.0 571.9,356.0 570.9,355.1 569.9,353.1 568.9,351.1 567.9,349.1 566.9,347.1 565.9,345.1 564.9,343.1 563.9,341.2 562.9,339.9 561.9,338.5 560.9,337.2 559.9,335.9 558.9,334.5 557.9,333.2 556.9,331.9 555.9,331.9 554.9,332.2 553.9,332.5 552.9,332.9 551.9,333.2 550.9,333.5 549.9,333.9 548.9,333.9 547.9,333.6 546.9,333.3 545.9,332.9 544.9,332.6 543.9,332.3 542.9,331.9 541.9,331.6 540.9,331.6 539.9,331.6 538.9,331.6 537.9,331.6 536.9,331.6 535.9,331.6 534.9,331.6 533.9,331.4 532.9,331.1 531.9,330.8 530.9,330.4 529.9,330.1 528.9,329.8 527.9,329.4 526.9,329.1 525.9,328.4 524.9,327.7 523.9,327.1 522.9,326.4 521.9,325.7 520.9,325.1 519.9,324.4 518.9,325.1 517.9,326.6 516.9,328.1 515.9,329.6 514.9,331.1 513.9,331.6 512.9,331.6 511.9,331.6 510.9,331.6 509.9,331.6 508.9,331.6 507.9,331.6 506.9,331.5 505.9,331.2 504.9,330.8 503.9,330.5 502.9,330.2 501.9,329.8 500.9,329.5 499.9,329.2 498.9,329.4 497.9,329.7 496.9,330.1 495.9,330.4 494.9,330.7 493.9,331.1 492.9,331.4 491.9,331.9 490.9,332.5 489.9,333.2 488.9,333.9 487.9,334.5 486.9,335.2 485.9,335.9 484.9,336.5 483.9,335.9 482.9,335.2 481.9,334.6 480.9,333.9 479.9,333.2 478.9,332.6 477.9,331.9 476.9,332.3 475.9,333.7 474.9,335.0 473.9,336.4 472.9,337.7 471.9,339.1 470.9,340.4 469.9,341.8 468.9,343.1 467.9,343.8 466.9,343.5 465.9,343.2 464.9,342.8 463.9,342.5 462.9,342.2 461.9,341.8 460.9,341.5 459.9,339.6 458.9,337.6 457.9,335.6 456.9,333.6 455.9,331.6 454.9,329.6 453.9,327.6 452.9,327.2 451.9,328.2 450.9,329.2 449.9,330.2 448.9,331.2 447.9,332.2 446.9,333.2 445.9,334.2 444.9,335.9 443.9,337.6 442.9,339.2 441.9,340.9 440.9,342.6 439.9,344.2 438.9,345.9 437.9,346.9 436.9,347.6 435.9,348.2 434.9,348.9 433.9,349.6 432.9,350.2 431.9,350.9 430.9,351.6 429.9,352.2 428.9,352.9 427.9,353.6 426.9,354.2 425.9,354.9 424.9,355.6 423.9,356.2 422.9,356.1 421.9,355.7 420.9,355.4 419.9,355.1 418.9,354.7 417.9,354.4 416.9,354.1 415.9,354.3 414.9,355.3 413.9,356.3 412.9,357.3 411.9,358.3 410.9,359.3 409.9,360.3 408.9,361.3 407.9,361.0 406.9,360.6 405.9,360.3 404.9,360.0 403.9,359.6 402.9,359.3 401.9,359.0 400.9,359.2 399.9,359.9 398.9,360.5 397.9,361.2 396.9,361.9 395.9,362.5 394.9,363.2 393.9,363.8 392.9,363.8 391.9,363.8 390.9,363.8 389.9,363.8 388.9,363.8 387.9,363.8 386.9,363.8 385.9,364.2 384.9,364.9 383.9,365.6 382.9,366.2 381.9,366.9 380.9,367.6 379.9,368.2 378.9,368.6 377.9,367.9 376.9,367.2 375.9,366.6 374.9,365.9 373.9,365.2 372.9,364.6 371.9,363.9 370.9,364.9 369.9,366.2 368.9,367.6 367.9,368.9 366.9,370.2 365.9,371.6 364.9,372.9 363.9,374.7 362.9,377.2 361.9,379.7 360.9,382.2 359.9,384.7 358.9,386.4 357.9,387.0 356.9,387.7 355.9,388.4 354.9,389.0 353.9,389.7 352.9,390.4 351.9,391.0 350.9,390.3 349.9,389.7 348.9,389.0 347.9,388.3 346.9,387.7 345.9,387.0 344.9,386.3 343.9,386.7 342.9,387.7 341.9,388.7 340.9,389.7 339.9,390.7 338.9,391.7 337.9,392.7 336.9,392.8 335.9,388.8 334.9,384.8 333.9,380.8 332.9,376.8 331.9,374.2 330.9,376.5 329.9,378.9 328.9,381.2 327.9,383.5 326.9,385.9 325.9,388.2 324.9,390.5 323.9,389.4 322.9,387.4 321.9,385.4 320.9,383.4 319.9,381.4 318.9,379.4 317.9,377.4 316.9,375.4 315.9,373.4 314.9,371.4 313.9,369.4 312.9,367.4 311.9,366.8 310.9,368.1 309.9,369.5 308.9,370.8 307.9,372.1 306.9,373.5 305.9,374.8 304.9,376.1 303.9,377.8 302.9,379.5 301.9,381.1 300.9,382.8 299.9,384.5 298.9,386.1 297.9,387.8 296.9,388.1 295.9,387.2 294.9,386.3 293.9,385.4 292.9,384.6 291.9,383.7 290.9,382.8 289.9,382.0 288.9,381.1 287.9,379.7 286.9,378.2 285.9,376.7 284.9,375.2 283.9,370.4 282.9,364.9 281.9,359.4 280.9,354.8 279.9,352.8 278.9,350.9 277.9,349.0 276.9,347.2 275.9,345.3 274.9,343.5 273.9,343.7 272.9,344.0 271.9,344.2 270.9,344.5 269.9,344.8 268.9,345.0 267.9,345.1 266.9,345.5 265.9,347.7 264.9,349.8 263.9,352.0 262.9,354.1 261.9,356.1 260.9,357.5 259.9,357.7 258.9,357.8 257.9,358.0 256.9,358.1 255.9,358.3 254.9,358.2 253.9,357.7 252.9,357.2 251.9,356.7 250.9,356.2 249.9,355.7 248.9,355.2 247.9,354.6 246.9,354.1 245.9,353.6 244.9,353.0 243.9,352.5 242.9,351.9 241.9,351.3 240.9,350.8 239.9,350.2 238.9,350.0 237.9,349.9 236.9,349.8 235.9,349.7 234.9,349.5 233.9,349.4 232.9,349.6 231.9,349.9 230.9,351.4 229.9,353.3 228.9,355.1 227.9,356.9 226.9,358.1 225.9,359.2 224.9,360.3 223.9,361.4 222.9,357.9 221.9,354.3 220.9,350.7 219.9,347.4 218.9,348.1 217.9,348.7 216.9,349.4 215.9,350.0 214.9,350.7 213.9,351.3 212.9,352.0 211.9,352.6 210.9,353.1 209.9,353.6 208.9,354.2 207.9,354.8 206.9,355.5 205.9,356.1 204.9,356.7 203.9,357.3 202.9,358.0 201.9,359.2 200.9,361.4 199.9,363.7 198.9,366.0 197.9,368.4 196.9,370.7 195.9,372.0 194.9,372.2 193.9,372.4 192.9,372.7 191.9,374.4 190.9,377.2 189.9,380.0 188.9,383.4 187.9,384.8 186.9,384.8 185.9,384.8 184.9,384.8 183.9,382.4 182.9,379.1 181.9,376.0 180.9,373.1 179.9,370.3 178.9,367.4 177.9,365.8 176.9,363.4 175.9,361.4 174.9,360.1 173.9,358.7 172.9,357.4 171.9,358.9 170.9,360.6 169.9,362.3 168.9,363.9 167.9,365.6 166.9,367.2 165.9,368.2 164.9,369.2 163.9,370.2 162.9,371.2 161.9,372.2 160.9,373.2 159.9,374.2 158.9,375.2 157.9,376.2 156.9,377.2 155.9,378.2 154.9,377.7 153.9,373.4 152.9,369.1 151.9,364.7 150.9,360.4 149.9,356.1 148.9,352.9 147.9,351.6 146.9,350.2 145.9,348.9 144.9,347.6 143.9,346.2 142.9,344.1 141.9,341.1 140.9,338.1 139.9,335.1 138.9,333.8 137.9,333.8 136.9,333.8 135.9,333.8 134.9,333.8 133.9,333.8 132.9,333.8 131.9,333.8 130.9,333.1 129.9,332.1 128.9,331.1 127.9,330.1 126.9,329.1 125.9,328.1 124.9,330.9 123.9,334.4 122.9,338.0 121.9,341.5 120.9,344.0 119.9,346.4 118.9,348.8 117.9,351.2 116.9,353.6" fill="#1f77b4"/>
<g fill="#1f77b4"><circle cx="117.8" cy="307.6" r="2.7"/><circle cx="116.9" cy="309.2" r="2.7"/><circle cx="115.6" cy="316.9" r="2.7"/><circle cx="117.6" cy="317.2" r="2.7"/><circle cx="118.0" cy="361.4" r="2.7"/><circle cx="115.6" cy="358.3" r="2.7"/><circle cx="116.1" cy="353.4" r="2.7"/><circle cx="118.7" cy="299.6" r="2.7"/><circle cx="118.8" cy="303.7" r="2.7"/><circle cx="118.9" cy="305.5" r="2.7"/><circle cx="119.8" cy="310.5" r="2.7"/><circle cx="119.0" cy="353.8" r="2.7"/><circle cx="120.3" cy="346.8" r="2.7"/><circle cx="122.3" cy="295.8" r="2.7"/><circle cx="120.9" cy="301.1" r="2.7"/><circle cx="121.2" cy="306.4" r="2.7"/><circle cx="121.9" cy="348.4" r="2.7"/><circle cx="121.8" cy="343.8" r="2.7"/><circle cx="120.9" cy="342.0" r="2.7"/><circle cx="123.8" cy="288.7" r="2.7"/><circle cx="124.8" cy="294.1" r="2.7"/><circle cx="124.7" cy="296.7" r="2.7"/><circle cx="124.8" cy="338.9" r="2.7"/><circle cx="125.4" cy="336.3" r="2.7"/><circle cx="125.5" cy="331.0" r="2.7"/><circle cx="128.2" cy="282.1" r="2.7"/><circle cx="127.3" cy="284.2" r="2.7"/><circle cx="126.9" cy="286.7" r="2.7"/><circle cx="127.6" cy="288.8" r="2.7"/><circle cx="126.6" cy="339.9" r="2.7"/><circle cx="126.6" cy="329.9" r="2.7"/><circle cx="128.6" cy="274.5" r="2.7"/><circle cx="128.9" cy="280.6" r="2.7"/><circle cx="128.8" cy="281.8" r="2.7"/><circle cx="129.0" cy="284.4" r="2.7"/><circle cx="129.8" cy="337.9" r="2.7"/><circle cx="129.7" cy="336.0" r="2.7"/><circle cx="130.9" cy="334.4" r="2.7"/><circle cx="130.1" cy="332.8" r="2.7"/><circle cx="131.2" cy="268.9" r="2.7"/><circle cx="133.0" cy="274.8" r="2.7"/><circle cx="131.7" cy="277.8" r="2.7"/><circle cx="131.8" cy="281.7" r="2.7"/><circle cx="132.7" cy="345.0" r="2.7"/><circle cx="131.9" cy="341.9" r="2.7"/><circle cx="133.4" cy="335.7" r="2.7"/><circle cx="133.1" cy="333.6" r="2.7"/><circle cx="133.8" cy="268.6" r="2.7"/><circle cx="135.9" cy="271.1" r="2.7"/><circle cx="136.0" cy="275.8" r="2.7"/><circle cx="135.1" cy="276.7" r="2.7"/><circle cx="134.3" cy="279.7" r="2.7"/><circle cx="134.0" cy="343.5" r="2.7"/><circle cx="135.1" cy="340.3" r="2.7"/><circle cx="134.3" cy="333.4" r="2.7"/><circle cx="136.9" cy="272.3" r="2.7"/><circle cx="138.7" cy="279.3" r="2.7"/><circle cx="138.3" cy="339.7" r="2.7"/><circle cx="138.7" cy="337.7" r="2.7"/><circle cx="137.9" cy="336.9" r="2.7"/><circle cx="137.3" cy="333.3" r="2.7"/><circle cx="140.4" cy="275.3" r="2.7"/><circle cx="139.2" cy="279.5" r="2.7"/><circle cx="140.6" cy="342.7" r="2.7"/><circle cx="140.5" cy="339.0" r="2.7"/><circle cx="139.7" cy="338.3" r="2.7"/><circle cx="141.4" cy="335.0" r="2.7"/><circle cx="143.6" cy="272.5" r="2.7"/><circle cx="143.3" cy="273.1" r="2.7"/><circle cx="143.9" cy="275.3" r="2.7"/><circle cx="144.1" cy="278.5" r="2.7"/><circle cx="142.0" cy="280.4" r="2.7"/><circle cx="141.8" cy="284.3" r="2.7"/><circle cx="144.1" cy="356.6" r="2.7"/><circle cx="142.2" cy="353.3" r="2.7"/><circle cx="143.3" cy="349.9" r="2.7"/><circle cx="144.1" cy="348.2" r="2.7"/><circle cx="142.7" cy="345.9" r="2.7"/><circle cx="143.9" cy="345.2" r="2.7"/><circle cx="144.7" cy="284.5" r="2.7"/><circle cx="146.0" cy="289.3" r="2.7"/><circle cx="145.6" cy="290.7" r="2.7"/><circle cx="144.4" cy="293.0" r="2.7"/><circle cx="145.0" cy="348.5" r="2.7"/><circle cx="149.0" cy="279.9" r="2.7"/><circle cx="147.6" cy="281.4" r="2.7"/><circle cx="147.4" cy="284.8" r="2.7"/><circle cx="147.0" cy="288.4" r="2.7"/><circle cx="147.0" cy="290.9" r="2.7"/><circle cx="148.8" cy="363.1" r="2.7"/><circle cx="148.1" cy="359.2" r="2.7"/><circle cx="149.2" cy="355.4" r="2.7"/><circle cx="149.3" cy="354.7" r="2.7"/><circle cx="147.0" cy="351.6" r="2.7"/><circle cx="151.7" cy="271.9" r="2.7"/><circle cx="150.2" cy="278.4" r="2.7"/><circle cx="151.6" cy="282.6" r="2.7"/><circle cx="150.5" cy="368.8" r="2.7"/><circle cx="149.5" cy="363.8" r="2.7"/><circle cx="150.8" cy="360.5" r="2.7"/><circle cx="152.9" cy="268.8" r="2.7"/><circle cx="153.7" cy="271.5" r="2.7"/><circle cx="152.1" cy="273.6" r="2.7"/><circle cx="152.3" cy="275.7" r="2.7"/><circle cx="153.6" cy="375.4" r="2.7"/><circle cx="153.3" cy="373.7" r="2.7"/><circle cx="153.1" cy="371.8" r="2.7"/><circle cx="152.6" cy="369.0" r="2.7"/><circle cx="155.6" cy="264.9" r="2.7"/><circle cx="156.3" cy="270.7" r="2.7"/><circle cx="155.9" cy="275.0" r="2.7"/><circle cx="156.6" cy="390.7" r="2.7"/><circle cx="156.4" cy="388.3" r="2.7"/><circle cx="156.4" cy="385.7" r="2.7"/><circle cx="156.8" cy="383.8" r="2.7"/><circle cx="155.0" cy="377.6" r="2.7"/><circle cx="158.7" cy="266.2" r="2.7"/><circle cx="158.9" cy="268.5" r="2.7"/><circle cx="158.5" cy="269.4" r="2.7"/><circle cx="159.7" cy="275.6" r="2.7"/><circle cx="157.9" cy="278.2" r="2.7"/><circle cx="159.2" cy="385.3" r="2.7"/><circle cx="159.6" cy="378.7" r="2.7"/><circle cx="159.3" cy="375.1" r="2.7"/><circle cx="160.6" cy="269.0" r="2.7"/><circle cx="161.3" cy="276.6" r="2.7"/><circle cx="160.5" cy="278.6" r="2.7"/><circle cx="159.8" cy="280.8" r="2.7"/><circle cx="161.4" cy="382.8" r="2.7"/><circle cx="160.5" cy="378.0" r="2.7"/><circle cx="161.3" cy="374.9" r="2.7"/><circle cx="161.8" cy="374.0" r="2.7"/><circle cx="163.9" cy="285.3" r="2.7"/><circle cx="162.7" cy="288.7" r="2.7"/><circle cx="164.3" cy="381.9" r="2.7"/><circle cx="163.7" cy="372.7" r="2.7"/><circle cx="163.7" cy="369.9" r="2.7"/><circle cx="166.1" cy="283.3" r="2.7"/><circle cx="166.0" cy="286.4" r="2.7"/><circle cx="166.7" cy="290.1" r="2.7"/><circle cx="165.0" cy="292.2" r="2.7"/><circle cx="167.5" cy="372.8" r="2.7"/><circle cx="166.9" cy="369.4" r="2.7"/><circle cx="168.0" cy="288.6" r="2.7"/><circle cx="167.6" cy="292.7" r="2.7"/><circle cx="168.6" cy="296.1" r="2.7"/><circle cx="169.5" cy="298.5" r="2.7"/><circle cx="168.9" cy="300.5" r="2.7"/><circle cx="169.2" cy="368.9" r="2.7"/><circle cx="169.8" cy="364.6" r="2.7"/><circle cx="170.9" cy="300.2" r="2.7"/><circle cx="170.6" cy="305.1" r="2.7"/><circle cx="171.4" cy="305.6" r="2.7"/><circle cx="171.1" cy="366.3" r="2.7"/><circle cx="171.5" cy="364.6" r="2.7"/><circle cx="171.2" cy="361.7" r="2.7"/><circle cx="170.7" cy="358.2" r="2.7"/><circle cx="173.0" cy="305.2" r="2.7"/><circle cx="174.1" cy="309.6" r="2.7"/><circle cx="174.5" cy="311.9" r="2.7"/><circle cx="173.5" cy="314.0" r="2.7"/><circle cx="174.2" cy="369.6" r="2.7"/><circle cx="173.3" cy="364.5" r="2.7"/><circle cx="175.0" cy="359.9" r="2.7"/><circle cx="174.4" cy="358.3" r="2.7"/><circle cx="177.0" cy="324.4" r="2.7"/><circle cx="177.7" cy="330.1" r="2.7"/><circle cx="176.7" cy="371.3" r="2.7"/><circle cx="177.2" cy="369.7" r="2.7"/><circle cx="177.2" cy="366.1" r="2.7"/><circle cx="175.6" cy="363.2" r="2.7"/><circle cx="178.5" cy="327.5" r="2.7"/><circle cx="178.1" cy="336.5" r="2.7"/><circle cx="180.1" cy="369.0" r="2.7"/><circle cx="178.2" cy="367.2" r="2.7"/><circle cx="181.2" cy="334.9" r="2.7"/><circle cx="182.1" cy="335.8" r="2.7"/><circle cx="181.4" cy="338.9" r="2.7"/><circle cx="183.2" cy="339.9" r="2.7"/><circle cx="181.6" cy="383.0" r="2.7"/><circle cx="182.9" cy="378.9" r="2.7"/><circle cx="182.9" cy="374.8" r="2.7"/><circle cx="184.9" cy="330.2" r="2.7"/><circle cx="184.4" cy="336.8" r="2.7"/><circle cx="183.3" cy="341.4" r="2.7"/><circle cx="183.9" cy="342.0" r="2.7"/><circle cx="183.2" cy="396.8" r="2.7"/><circle cx="184.2" cy="387.5" r="2.7"/><circle cx="185.9" cy="335.3" r="2.7"/><circle cx="187.3" cy="339.1" r="2.7"/><circle cx="185.9" cy="340.9" r="2.7"/><circle cx="186.3" cy="344.5" r="2.7"/><circle cx="187.7" cy="386.5" r="2.7"/><circle cx="190.8" cy="335.4" r="2.7"/><circle cx="188.6" cy="339.7" r="2.7"/><circle cx="189.3" cy="342.4" r="2.7"/><circle cx="189.8" cy="343.3" r="2.7"/><circle cx="189.4" cy="346.1" r="2.7"/><circle cx="189.7" cy="387.8" r="2.7"/><circle cx="188.5" cy="384.1" r="2.7"/><circle cx="189.2" cy="381.3" r="2.7"/><circle cx="190.5" cy="380.8" r="2.7"/><circle cx="192.1" cy="336.9" r="2.7"/><circle cx="191.9" cy="342.6" r="2.7"/><circle cx="191.2" cy="346.6" r="2.7"/><circle cx="192.4" cy="375.3" r="2.7"/><circle cx="194.0" cy="337.8" r="2.7"/><circle cx="193.8" cy="339.9" r="2.7"/><circle cx="193.7" cy="343.1" r="2.7"/><circle cx="194.4" cy="344.0" r="2.7"/><circle cx="194.4" cy="381.3" r="2.7"/><circle cx="194.0" cy="377.5" r="2.7"/><circle cx="194.4" cy="373.3" r="2.7"/><circle cx="198.6" cy="342.0" r="2.7"/><circle cx="197.5" cy="374.8" r="2.7"/><circle cx="198.1" cy="368.1" r="2.7"/><circle cx="200.0" cy="336.6" r="2.7"/><circle cx="199.2" cy="337.1" r="2.7"/><circle cx="199.8" cy="364.2" r="2.7"/><circle cx="201.6" cy="328.7" r="2.7"/><circle cx="201.6" cy="330.2" r="2.7"/><circle cx="202.7" cy="332.0" r="2.7"/><circle cx="203.6" cy="335.5" r="2.7"/><circle cx="203.6" cy="363.4" r="2.7"/><circle cx="203.6" cy="362.8" r="2.7"/><circle cx="203.7" cy="360.4" r="2.7"/><circle cx="203.7" cy="357.8" r="2.7"/><circle cx="205.9" cy="335.6" r="2.7"/><circle cx="204.5" cy="361.5" r="2.7"/><circle cx="205.2" cy="356.5" r="2.7"/><circle cx="206.7" cy="333.2" r="2.7"/><circle cx="207.1" cy="333.8" r="2.7"/><circle cx="206.9" cy="358.2" r="2.7"/><circle cx="209.1" cy="355.0" r="2.7"/><circle cx="210.5" cy="331.7" r="2.7"/><circle cx="211.6" cy="333.9" r="2.7"/><circle cx="210.0" cy="355.6" r="2.7"/><circle cx="210.6" cy="354.2" r="2.7"/><circle cx="213.4" cy="331.4" r="2.7"/><circle cx="212.7" cy="334.4" r="2.7"/><circle cx="214.1" cy="353.0" r="2.7"/><circle cx="215.6" cy="334.4" r="2.7"/><circle cx="216.3" cy="335.3" r="2.7"/><circle cx="215.6" cy="352.5" r="2.7"/><circle cx="215.5" cy="350.5" r="2.7"/><circle cx="215.0" cy="350.9" r="2.7"/><circle cx="219.6" cy="335.3" r="2.7"/><circle cx="218.8" cy="348.6" r="2.7"/><circle cx="221.4" cy="334.7" r="2.7"/><circle cx="219.9" cy="353.5" r="2.7"/><circle cx="219.6" cy="350.1" r="2.7"/><circle cx="224.1" cy="334.4" r="2.7"/><circle cx="223.8" cy="337.3" r="2.7"/><circle cx="224.6" cy="365.0" r="2.7"/><circle cx="223.6" cy="361.2" r="2.7"/><circle cx="225.5" cy="327.6" r="2.7"/><circle cx="226.8" cy="331.6" r="2.7"/><circle cx="226.5" cy="332.3" r="2.7"/><circle cx="226.5" cy="366.4" r="2.7"/><circle cx="227.0" cy="358.2" r="2.7"/><circle cx="229.7" cy="320.7" r="2.7"/><circle cx="229.7" cy="327.8" r="2.7"/><circle cx="228.7" cy="330.2" r="2.7"/><circle cx="229.3" cy="359.9" r="2.7"/><circle cx="227.4" cy="358.8" r="2.7"/><circle cx="229.8" cy="356.2" r="2.7"/><circle cx="231.4" cy="319.0" r="2.7"/><circle cx="230.7" cy="327.0" r="2.7"/><circle cx="230.5" cy="356.5" r="2.7"/><circle cx="232.5" cy="354.0" r="2.7"/><circle cx="230.4" cy="351.2" r="2.7"/><circle cx="234.4" cy="315.4" r="2.7"/><circle cx="233.5" cy="318.4" r="2.7"/><circle cx="234.1" cy="320.3" r="2.7"/><circle cx="234.4" cy="323.7" r="2.7"/><circle cx="233.4" cy="357.6" r="2.7"/><circle cx="233.4" cy="349.4" r="2.7"/><circle cx="235.5" cy="316.6" r="2.7"/><circle cx="235.4" cy="320.0" r="2.7"/><circle cx="237.0" cy="324.2" r="2.7"/><circle cx="236.6" cy="358.1" r="2.7"/><circle cx="235.2" cy="353.5" r="2.7"/><circle cx="236.8" cy="351.2" r="2.7"/><circle cx="236.9" cy="350.9" r="2.7"/><circle cx="239.3" cy="318.5" r="2.7"/><circle cx="238.6" cy="320.0" r="2.7"/><circle cx="239.8" cy="323.6" r="2.7"/><circle cx="238.0" cy="326.1" r="2.7"/><circle cx="238.6" cy="356.6" r="2.7"/><circle cx="237.9" cy="353.9" r="2.7"/><circle cx="240.2" cy="352.7" r="2.7"/><circle cx="239.5" cy="349.4" r="2.7"/><circle cx="242.8" cy="322.5" r="2.7"/><circle cx="242.6" cy="327.7" r="2.7"/><circle cx="242.1" cy="356.3" r="2.7"/><circle cx="241.8" cy="353.8" r="2.7"/><circle cx="242.7" cy="351.7" r="2.7"/><circle cx="244.3" cy="323.5" r="2.7"/><circle cx="244.1" cy="326.7" r="2.7"/><circle cx="243.7" cy="328.9" r="2.7"/><circle cx="243.2" cy="356.7" r="2.7"/><circle cx="244.4" cy="354.8" r="2.7"/><circle cx="244.9" cy="352.9" r="2.7"/><circle cx="246.4" cy="324.7" r="2.7"/><circle cx="247.9" cy="325.6" r="2.7"/><circle cx="247.8" cy="331.8" r="2.7"/><circle cx="247.9" cy="360.0" r="2.7"/><circle cx="246.7" cy="355.4" r="2.7"/><circle cx="246.3" cy="354.5" r="2.7"/><circle cx="250.6" cy="329.6" r="2.7"/><circle cx="249.2" cy="331.2" r="2.7"/><circle cx="249.3" cy="356.7" r="2.7"/><circle cx="252.0" cy="327.1" r="2.7"/><circle cx="250.8" cy="329.7" r="2.7"/><circle cx="251.1" cy="364.5" r="2.7"/><circle cx="251.5" cy="363.0" r="2.7"/><circle cx="252.9" cy="357.4" r="2.7"/><circle cx="255.5" cy="321.2" r="2.7"/><circle cx="253.8" cy="326.8" r="2.7"/><circle cx="255.7" cy="330.0" r="2.7"/><circle cx="254.5" cy="360.0" r="2.7"/><circle cx="255.5" cy="358.0" r="2.7"/><circle cx="256.1" cy="327.1" r="2.7"/><circle cx="257.6" cy="330.8" r="2.7"/><circle cx="257.8" cy="367.6" r="2.7"/><circle cx="258.3" cy="364.1" r="2.7"/><circle cx="257.8" cy="359.2" r="2.7"/><circle cx="258.5" cy="358.5" r="2.7"/><circle cx="259.9" cy="329.9" r="2.7"/><circle cx="259.1" cy="331.6" r="2.7"/><circle cx="259.0" cy="357.4" r="2.7"/><circle cx="261.2" cy="324.5" r="2.7"/><circle cx="263.2" cy="328.0" r="2.7"/><circle cx="261.6" cy="333.0" r="2.7"/><circle cx="262.2" cy="356.5" r="2.7"/><circle cx="263.5" cy="354.2" r="2.7"/><circle cx="263.8" cy="325.8" r="2.7"/><circle cx="265.5" cy="330.0" r="2.7"/><circle cx="265.8" cy="356.2" r="2.7"/><circle cx="265.3" cy="349.9" r="2.7"/><circle cx="268.3" cy="328.8" r="2.7"/><circle cx="267.0" cy="345.8" r="2.7"/><circle cx="270.6" cy="322.3" r="2.7"/><circle cx="270.6" cy="324.8" r="2.7"/><circle cx="269.0" cy="350.4" r="2.7"/><circle cx="269.7" cy="346.8" r="2.7"/><circle cx="271.5" cy="345.3" r="2.7"/><circle cx="273.0" cy="318.7" r="2.7"/><circle cx="272.7" cy="320.7" r="2.7"/><circle cx="272.6" cy="323.5" r="2.7"/><circle cx="272.0" cy="346.8" r="2.7"/><circle cx="273.6" cy="344.2" r="2.7"/><circle cx="274.5" cy="317.5" r="2.7"/><circle cx="274.9" cy="320.2" r="2.7"/><circle cx="274.5" cy="321.8" r="2.7"/><circle cx="276.3" cy="352.0" r="2.7"/><circle cx="275.3" cy="350.6" r="2.7"/><circle cx="275.6" cy="347.2" r="2.7"/><circle cx="275.8" cy="344.3" r="2.7"/><circle cx="278.7" cy="315.6" r="2.7"/><circle cx="277.1" cy="320.1" r="2.7"/><circle cx="277.4" cy="321.8" r="2.7"/><circle cx="278.5" cy="358.4" r="2.7"/><circle cx="279.0" cy="354.5" r="2.7"/><circle cx="278.2" cy="350.1" r="2.7"/><circle cx="277.3" cy="348.9" r="2.7"/><circle cx="281.5" cy="310.9" r="2.7"/><circle cx="279.5" cy="317.9" r="2.7"/><circle cx="281.5" cy="320.4" r="2.7"/><circle cx="279.6" cy="322.3" r="2.7"/><circle cx="279.9" cy="363.3" r="2.7"/><circle cx="281.7" cy="361.7" r="2.7"/><circle cx="281.8" cy="356.0" r="2.7"/><circle cx="280.0" cy="353.6" r="2.7"/><circle cx="282.5" cy="306.4" r="2.7"/><circle cx="283.6" cy="309.8" r="2.7"/><circle cx="283.7" cy="313.7" r="2.7"/><circle cx="284.2" cy="316.1" r="2.7"/><circle cx="283.1" cy="316.8" r="2.7"/><circle cx="284.1" cy="375.6" r="2.7"/><circle cx="282.1" cy="371.1" r="2.7"/><circle cx="284.4" cy="368.2" r="2.7"/><circle cx="283.7" cy="363.8" r="2.7"/><circle cx="285.1" cy="305.2" r="2.7"/><circle cx="285.1" cy="307.2" r="2.7"/><circle cx="287.1" cy="310.5" r="2.7"/><circle cx="286.9" cy="388.2" r="2.7"/><circle cx="285.0" cy="384.7" r="2.7"/><circle cx="284.7" cy="381.4" r="2.7"/><circle cx="285.6" cy="377.9" r="2.7"/><circle cx="289.5" cy="298.4" r="2.7"/><circle cx="289.5" cy="303.0" r="2.7"/><circle cx="287.6" cy="388.3" r="2.7"/><circle cx="289.4" cy="384.1" r="2.7"/><circle cx="288.3" cy="382.3" r="2.7"/><circle cx="291.3" cy="296.6" r="2.7"/><circle cx="290.7" cy="302.5" r="2.7"/><circle cx="291.3" cy="304.7" r="2.7"/><circle cx="291.1" cy="390.5" r="2.7"/><circle cx="290.2" cy="387.1" r="2.7"/><circle cx="292.1" cy="384.3" r="2.7"/><circle cx="290.6" cy="382.9" r="2.7"/><circle cx="292.5" cy="301.5" r="2.7"/><circle cx="294.5" cy="304.3" r="2.7"/><circle cx="292.8" cy="391.1" r="2.7"/><circle cx="292.6" cy="387.2" r="2.7"/><circle cx="293.1" cy="384.8" r="2.7"/><circle cx="296.2" cy="297.8" r="2.7"/><circle cx="297.2" cy="300.7" r="2.7"/><circle cx="295.8" cy="305.2" r="2.7"/><circle cx="296.1" cy="308.5" r="2.7"/><circle cx="295.8" cy="397.1" r="2.7"/><circle cx="296.5" cy="392.2" r="2.7"/><circle cx="297.5" cy="386.5" r="2.7"/><circle cx="297.9" cy="299.2" r="2.7"/><circle cx="298.3" cy="300.5" r="2.7"/><circle cx="300.1" cy="303.2" r="2.7"/><circle cx="298.1" cy="309.3" r="2.7"/><circle cx="300.1" cy="309.4" r="2.7"/><circle cx="299.0" cy="396.6" r="2.7"/><circle cx="299.7" cy="392.0" r="2.7"/><circle cx="298.1" cy="390.3" r="2.7"/><circle cx="298.5" cy="388.2" r="2.7"/><circle cx="298.1" cy="385.4" r="2.7"/><circle cx="302.6" cy="302.1" r="2.7"/><circle cx="300.2" cy="303.4" r="2.7"/><circle cx="301.8" cy="307.3" r="2.7"/><circle cx="302.0" cy="311.2" r="2.7"/><circle cx="301.3" cy="393.2" r="2.7"/><circle cx="301.6" cy="383.5" r="2.7"/><circle cx="301.9" cy="381.3" r="2.7"/><circle cx="304.9" cy="305.7" r="2.7"/><circle cx="304.2" cy="308.3" r="2.7"/><circle cx="303.4" cy="309.4" r="2.7"/><circle cx="302.9" cy="312.1" r="2.7"/><circle cx="303.9" cy="387.6" r="2.7"/><circle cx="303.8" cy="380.0" r="2.7"/><circle cx="303.7" cy="378.5" r="2.7"/><circle cx="307.3" cy="302.2" r="2.7"/><circle cx="305.4" cy="303.6" r="2.7"/><circle cx="305.6" cy="312.3" r="2.7"/><circle cx="307.2" cy="381.5" r="2.7"/><circle cx="306.0" cy="379.2" r="2.7"/><circle cx="305.8" cy="376.4" r="2.7"/><circle cx="306.9" cy="373.1" r="2.7"/><circle cx="309.1" cy="302.4" r="2.7"/><circle cx="308.5" cy="310.3" r="2.7"/><circle cx="309.6" cy="311.9" r="2.7"/><circle cx="309.0" cy="313.2" r="2.7"/><circle cx="310.5" cy="383.0" r="2.7"/><circle cx="309.8" cy="377.3" r="2.7"/><circle cx="309.7" cy="374.3" r="2.7"/><circle cx="309.4" cy="374.0" r="2.7"/><circle cx="308.8" cy="371.1" r="2.7"/><circle cx="312.0" cy="305.1" r="2.7"/><circle cx="311.4" cy="306.9" r="2.7"/><circle cx="311.9" cy="311.1" r="2.7"/><circle cx="312.5" cy="313.7" r="2.7"/><circle cx="311.5" cy="314.2" r="2.7"/><circle cx="311.9" cy="378.4" r="2.7"/><circle cx="313.0" cy="377.2" r="2.7"/><circle cx="310.6" cy="372.7" r="2.7"/><circle cx="310.6" cy="366.9" r="2.7"/><circle cx="313.2" cy="294.5" r="2.7"/><circle cx="313.7" cy="297.5" r="2.7"/><circle cx="313.8" cy="301.9" r="2.7"/><circle cx="314.6" cy="307.1" r="2.7"/><circle cx="314.2" cy="381.9" r="2.7"/><circle cx="314.8" cy="381.3" r="2.7"/><circle cx="313.6" cy="379.4" r="2.7"/><circle cx="315.2" cy="377.0" r="2.7"/><circle cx="315.3" cy="372.9" r="2.7"/><circle cx="313.9" cy="371.1" r="2.7"/><circle cx="316.3" cy="299.5" r="2.7"/><circle cx="318.2" cy="302.0" r="2.7"/><circle cx="316.5" cy="386.4" r="2.7"/><circle cx="315.9" cy="381.8" r="2.7"/><circle cx="316.7" cy="380.0" r="2.7"/><circle cx="317.4" cy="376.3" r="2.7"/><circle cx="319.5" cy="286.2" r="2.7"/><circle cx="318.7" cy="295.1" r="2.7"/><circle cx="320.7" cy="298.5" r="2.7"/><circle cx="319.6" cy="385.7" r="2.7"/><circle cx="319.6" cy="382.6" r="2.7"/><circle cx="318.8" cy="381.6" r="2.7"/><circle cx="322.2" cy="290.4" r="2.7"/><circle cx="321.2" cy="292.7" r="2.7"/><circle cx="322.6" cy="294.0" r="2.7"/><circle cx="321.8" cy="296.9" r="2.7"/><circle cx="321.2" cy="387.0" r="2.7"/><circle cx="323.5" cy="386.0" r="2.7"/><circle cx="324.5" cy="284.9" r="2.7"/><circle cx="325.2" cy="293.4" r="2.7"/><circle cx="323.9" cy="296.4" r="2.7"/><circle cx="324.3" cy="402.4" r="2.7"/><circle cx="324.2" cy="398.3" r="2.7"/><circle cx="324.6" cy="394.8" r="2.7"/><circle cx="326.0" cy="393.3" r="2.7"/><circle cx="323.8" cy="389.7" r="2.7"/><circle cx="328.5" cy="284.9" r="2.7"/><circle cx="327.0" cy="288.1" r="2.7"/><circle cx="328.5" cy="292.8" r="2.7"/><circle cx="328.4" cy="295.2" r="2.7"/><circle cx="327.5" cy="297.0" r="2.7"/><circle cx="326.7" cy="393.4" r="2.7"/><circle cx="326.7" cy="389.7" r="2.7"/><circle cx="326.3" cy="387.8" r="2.7"/><circle cx="327.9" cy="386.7" r="2.7"/><circle cx="327.8" cy="382.8" r="2.7"/><circle cx="330.3" cy="287.9" r="2.7"/><circle cx="329.6" cy="294.0" r="2.7"/><circle cx="328.9" cy="296.1" r="2.7"/><circle cx="329.1" cy="297.7" r="2.7"/><circle cx="330.7" cy="390.6" r="2.7"/><circle cx="330.0" cy="381.0" r="2.7"/><circle cx="328.9" cy="379.2" r="2.7"/><circle cx="331.8" cy="291.3" r="2.7"/><circle cx="333.5" cy="293.4" r="2.7"/><circle cx="332.6" cy="297.4" r="2.7"/><circle cx="333.0" cy="297.6" r="2.7"/><circle cx="333.8" cy="300.3" r="2.7"/><circle cx="333.1" cy="388.6" r="2.7"/><circle cx="332.3" cy="378.9" r="2.7"/><circle cx="332.8" cy="377.7" r="2.7"/><circle cx="335.1" cy="292.2" r="2.7"/><circle cx="335.9" cy="295.4" r="2.7"/><circle cx="335.3" cy="300.8" r="2.7"/><circle cx="336.4" cy="303.7" r="2.7"/><circle cx="335.4" cy="391.9" r="2.7"/><circle cx="335.5" cy="386.1" r="2.7"/><circle cx="336.1" cy="384.7" r="2.7"/><circle cx="336.8" cy="299.6" r="2.7"/><circle cx="337.0" cy="301.2" r="2.7"/><circle cx="337.8" cy="398.4" r="2.7"/><circle cx="338.8" cy="396.2" r="2.7"/><circle cx="337.9" cy="396.2" r="2.7"/><circle cx="339.9" cy="296.7" r="2.7"/><circle cx="339.6" cy="298.9" r="2.7"/><circle cx="340.6" cy="302.3" r="2.7"/><circle cx="340.6" cy="304.0" r="2.7"/><circle cx="341.7" cy="307.4" r="2.7"/><circle cx="339.6" cy="397.8" r="2.7"/><circle cx="340.2" cy="394.7" r="2.7"/><circle cx="340.8" cy="391.8" r="2.7"/><circle cx="340.3" cy="390.5" r="2.7"/><circle cx="343.6" cy="293.9" r="2.7"/><circle cx="342.2" cy="299.4" r="2.7"/><circle cx="342.3" cy="305.3" r="2.7"/><circle cx="342.8" cy="307.5" r="2.7"/><circle cx="343.3" cy="396.2" r="2.7"/><circle cx="343.8" cy="391.3" r="2.7"/><circle cx="344.0" cy="387.5" r="2.7"/><circle cx="344.5" cy="296.1" r="2.7"/><circle cx="345.7" cy="300.0" r="2.7"/><circle cx="345.5" cy="304.1" r="2.7"/><circle cx="345.6" cy="304.6" r="2.7"/><circle cx="346.9" cy="398.9" r="2.7"/><circle cx="346.5" cy="395.6" r="2.7"/><circle cx="346.7" cy="393.0" r="2.7"/><circle cx="344.5" cy="390.8" r="2.7"/><circle cx="345.2" cy="388.8" r="2.7"/><circle cx="345.6" cy="386.9" r="2.7"/><circle cx="348.5" cy="294.8" r="2.7"/><circle cx="348.2" cy="299.7" r="2.7"/><circle cx="348.4" cy="302.3" r="2.7"/><circle cx="349.1" cy="305.6" r="2.7"/><circle cx="348.5" cy="392.9" r="2.7"/><circle cx="348.0" cy="390.7" r="2.7"/><circle cx="347.6" cy="387.6" r="2.7"/><circle cx="351.6" cy="294.2" r="2.7"/><circle cx="352.0" cy="297.5" r="2.7"/><circle cx="351.1" cy="300.6" r="2.7"/><circle cx="351.6" cy="303.4" r="2.7"/><circle cx="350.2" cy="401.7" r="2.7"/><circle cx="350.6" cy="395.9" r="2.7"/><circle cx="351.6" cy="391.1" r="2.7"/><circle cx="352.3" cy="289.2" r="2.7"/><circle cx="353.3" cy="296.6" r="2.7"/><circle cx="353.2" cy="297.4" r="2.7"/><circle cx="354.1" cy="301.7" r="2.7"/><circle cx="353.3" cy="399.1" r="2.7"/><circle cx="352.7" cy="388.9" r="2.7"/><circle cx="357.3" cy="289.0" r="2.7"/><circle cx="355.1" cy="294.1" r="2.7"/><circle cx="356.6" cy="296.4" r="2.7"/><circle cx="355.7" cy="298.4" r="2.7"/><circle cx="356.1" cy="399.9" r="2.7"/><circle cx="356.2" cy="395.5" r="2.7"/><circle cx="355.7" cy="392.1" r="2.7"/><circle cx="354.9" cy="388.3" r="2.7"/><circle cx="359.7" cy="291.3" r="2.7"/><circle cx="357.5" cy="295.6" r="2.7"/><circle cx="359.4" cy="297.9" r="2.7"/><circle cx="358.4" cy="394.7" r="2.7"/><circle cx="359.1" cy="389.1" r="2.7"/><circle cx="358.3" cy="386.0" r="2.7"/><circle cx="361.4" cy="288.2" r="2.7"/><circle cx="360.6" cy="290.1" r="2.7"/><circle cx="361.2" cy="293.8" r="2.7"/><circle cx="360.1" cy="296.6" r="2.7"/><circle cx="361.1" cy="392.2" r="2.7"/><circle cx="362.2" cy="389.6" r="2.7"/><circle cx="361.5" cy="381.1" r="2.7"/><circle cx="363.5" cy="286.2" r="2.7"/><circle cx="364.2" cy="287.6" r="2.7"/><circle cx="362.6" cy="289.2" r="2.7"/><circle cx="363.8" cy="385.2" r="2.7"/><circle cx="364.6" cy="385.1" r="2.7"/><circle cx="363.8" cy="381.9" r="2.7"/><circle cx="364.0" cy="379.8" r="2.7"/><circle cx="364.0" cy="374.5" r="2.7"/><circle cx="367.1" cy="275.7" r="2.7"/><circle cx="366.7" cy="279.0" r="2.7"/><circle cx="365.4" cy="279.5" r="2.7"/><circle cx="365.5" cy="283.1" r="2.7"/><circle cx="366.5" cy="382.8" r="2.7"/><circle cx="366.0" cy="379.8" r="2.7"/><circle cx="366.2" cy="373.8" r="2.7"/><circle cx="365.9" cy="372.8" r="2.7"/><circle cx="365.9" cy="371.4" r="2.7"/><circle cx="370.3" cy="269.8" r="2.7"/><circle cx="368.2" cy="275.0" r="2.7"/><circle cx="369.3" cy="276.0" r="2.7"/><circle cx="369.5" cy="279.7" r="2.7"/><circle cx="368.8" cy="281.9" r="2.7"/><circle cx="367.9" cy="371.4" r="2.7"/><circle cx="369.9" cy="367.0" r="2.7"/><circle cx="370.6" cy="276.0" r="2.7"/><circle cx="371.5" cy="280.0" r="2.7"/><circle cx="372.9" cy="370.9" r="2.7"/><circle cx="370.5" cy="366.1" r="2.7"/><circle cx="371.1" cy="365.0" r="2.7"/><circle cx="374.8" cy="271.4" r="2.7"/><circle cx="374.8" cy="274.5" r="2.7"/><circle cx="374.6" cy="275.8" r="2.7"/><circle cx="374.7" cy="277.3" r="2.7"/><circle cx="373.3" cy="375.7" r="2.7"/><circle cx="375.0" cy="371.4" r="2.7"/><circle cx="375.2" cy="368.9" r="2.7"/><circle cx="374.8" cy="367.7" r="2.7"/><circle cx="373.3" cy="365.4" r="2.7"/><circle cx="377.8" cy="266.4" r="2.7"/><circle cx="377.2" cy="271.1" r="2.7"/><circle cx="376.7" cy="274.7" r="2.7"/><circle cx="377.6" cy="275.1" r="2.7"/><circle cx="377.7" cy="278.4" r="2.7"/><circle cx="377.9" cy="375.4" r="2.7"/><circle cx="378.0" cy="369.2" r="2.7"/><circle cx="376.4" cy="366.5" r="2.7"/><circle cx="380.0" cy="268.9" r="2.7"/><circle cx="380.0" cy="273.3" r="2.7"/><circle cx="379.0" cy="277.7" r="2.7"/><circle cx="380.8" cy="280.3" r="2.7"/><circle cx="378.3" cy="375.8" r="2.7"/><circle cx="380.4" cy="372.0" r="2.7"/><circle cx="380.5" cy="368.7" r="2.7"/><circle cx="381.4" cy="273.0" r="2.7"/><circle cx="381.7" cy="275.5" r="2.7"/><circle cx="383.1" cy="277.3" r="2.7"/><circle cx="381.9" cy="280.4" r="2.7"/><circle cx="381.1" cy="373.4" r="2.7"/><circle cx="382.4" cy="370.8" r="2.7"/><circle cx="382.3" cy="368.7" r="2.7"/><circle cx="381.0" cy="367.6" r="2.7"/><circle cx="385.2" cy="268.9" r="2.7"/><circle cx="385.1" cy="276.1" r="2.7"/><circle cx="384.6" cy="278.1" r="2.7"/><circle cx="385.5" cy="279.5" r="2.7"/><circle cx="384.9" cy="373.3" r="2.7"/><circle cx="385.6" cy="366.6" r="2.7"/><circle cx="385.5" cy="364.7" r="2.7"/><circle cx="387.7" cy="267.6" r="2.7"/><circle cx="387.6" cy="268.6" r="2.7"/><circle cx="386.2" cy="270.2" r="2.7"/><circle cx="386.8" cy="273.7" r="2.7"/><circle cx="388.2" cy="276.8" r="2.7"/><circle cx="387.6" cy="279.2" r="2.7"/><circle cx="387.5" cy="376.6" r="2.7"/><circle cx="388.6" cy="369.2" r="2.7"/><circle cx="386.8" cy="364.9" r="2.7"/><circle cx="388.2" cy="364.5" r="2.7"/><circle cx="389.2" cy="263.6" r="2.7"/><circle cx="389.1" cy="265.9" r="2.7"/><circle cx="389.4" cy="277.0" r="2.7"/><circle cx="388.7" cy="374.7" r="2.7"/><circle cx="389.1" cy="368.7" r="2.7"/><circle cx="390.6" cy="366.0" r="2.7"/><circle cx="388.8" cy="363.1" r="2.7"/><circle cx="393.6" cy="269.0" r="2.7"/><circle cx="391.7" cy="270.8" r="2.7"/><circle cx="392.7" cy="274.8" r="2.7"/><circle cx="392.1" cy="374.9" r="2.7"/><circle cx="391.2" cy="373.7" r="2.7"/><circle cx="391.4" cy="368.3" r="2.7"/><circle cx="391.8" cy="367.0" r="2.7"/><circle cx="391.7" cy="364.8" r="2.7"/><circle cx="396.3" cy="266.5" r="2.7"/><circle cx="395.0" cy="270.8" r="2.7"/><circle cx="393.8" cy="271.4" r="2.7"/><circle cx="394.1" cy="375.8" r="2.7"/><circle cx="395.2" cy="371.7" r="2.7"/><circle cx="394.5" cy="369.6" r="2.7"/><circle cx="396.0" cy="367.9" r="2.7"/><circle cx="394.5" cy="364.7" r="2.7"/><circle cx="394.8" cy="364.2" r="2.7"/><circle cx="396.4" cy="257.3" r="2.7"/><circle cx="396.9" cy="260.5" r="2.7"/><circle cx="398.5" cy="268.6" r="2.7"/><circle cx="398.2" cy="269.1" r="2.7"/><circle cx="396.5" cy="367.4" r="2.7"/><circle cx="396.4" cy="361.4" r="2.7"/><circle cx="400.3" cy="257.0" r="2.7"/><circle cx="399.2" cy="259.2" r="2.7"/><circle cx="401.2" cy="262.5" r="2.7"/><circle cx="401.1" cy="264.7" r="2.7"/><circle cx="400.5" cy="266.1" r="2.7"/><circle cx="401.1" cy="268.7" r="2.7"/><circle cx="399.8" cy="359.8" r="2.7"/><circle cx="403.8" cy="261.5" r="2.7"/><circle cx="404.2" cy="266.4" r="2.7"/><circle cx="403.2" cy="370.0" r="2.7"/><circle cx="402.7" cy="361.8" r="2.7"/><circle cx="403.6" cy="360.3" r="2.7"/><circle cx="405.5" cy="263.8" r="2.7"/><circle cx="404.9" cy="265.4" r="2.7"/><circle cx="406.4" cy="266.6" r="2.7"/><circle cx="406.0" cy="372.4" r="2.7"/><circle cx="406.7" cy="364.4" r="2.7"/><circle cx="404.2" cy="361.6" r="2.7"/><circle cx="405.9" cy="359.6" r="2.7"/><circle cx="407.7" cy="260.5" r="2.7"/><circle cx="408.9" cy="264.8" r="2.7"/><circle cx="408.9" cy="267.3" r="2.7"/><circle cx="409.2" cy="268.4" r="2.7"/><circle cx="406.9" cy="372.1" r="2.7"/><circle cx="409.0" cy="362.7" r="2.7"/><circle cx="411.6" cy="261.4" r="2.7"/><circle cx="410.7" cy="263.0" r="2.7"/><circle cx="410.4" cy="267.1" r="2.7"/><circle cx="410.8" cy="270.5" r="2.7"/><circle cx="411.5" cy="271.8" r="2.7"/><circle cx="411.6" cy="364.2" r="2.7"/><circle cx="410.4" cy="361.6" r="2.7"/><circle cx="410.2" cy="360.3" r="2.7"/><circle cx="414.1" cy="263.5" r="2.7"/><circle cx="413.1" cy="266.0" r="2.7"/><circle cx="413.3" cy="269.1" r="2.7"/><circle cx="412.7" cy="274.1" r="2.7"/><circle cx="412.9" cy="362.0" r="2.7"/><circle cx="412.6" cy="356.1" r="2.7"/><circle cx="416.9" cy="264.8" r="2.7"/><circle cx="414.6" cy="273.3" r="2.7"/><circle cx="415.0" cy="274.6" r="2.7"/><circle cx="414.8" cy="366.0" r="2.7"/><circle cx="414.7" cy="358.8" r="2.7"/><circle cx="415.1" cy="356.8" r="2.7"/><circle cx="416.9" cy="355.2" r="2.7"/><circle cx="419.3" cy="267.0" r="2.7"/><circle cx="418.3" cy="270.0" r="2.7"/><circle cx="418.3" cy="271.3" r="2.7"/><circle cx="417.3" cy="275.3" r="2.7"/><circle cx="418.7" cy="365.2" r="2.7"/><circle cx="419.0" cy="357.9" r="2.7"/><circle cx="417.7" cy="355.8" r="2.7"/><circle cx="421.4" cy="263.0" r="2.7"/><circle cx="422.0" cy="268.1" r="2.7"/><circle cx="421.0" cy="271.8" r="2.7"/><circle cx="420.0" cy="273.3" r="2.7"/><circle cx="422.1" cy="366.9" r="2.7"/><circle cx="422.0" cy="363.4" r="2.7"/><circle cx="421.4" cy="358.4" r="2.7"/><circle cx="421.2" cy="355.3" r="2.7"/><circle cx="422.4" cy="260.3" r="2.7"/><circle cx="424.2" cy="263.5" r="2.7"/><circle cx="424.9" cy="269.4" r="2.7"/><circle cx="423.4" cy="269.7" r="2.7"/><circle cx="423.0" cy="273.5" r="2.7"/><circle cx="424.2" cy="366.7" r="2.7"/><circle cx="424.4" cy="361.7" r="2.7"/><circle cx="423.5" cy="356.4" r="2.7"/><circle cx="427.3" cy="265.1" r="2.7"/><circle cx="427.1" cy="271.2" r="2.7"/><circle cx="426.7" cy="273.5" r="2.7"/><circle cx="427.3" cy="360.2" r="2.7"/><circle cx="427.0" cy="356.9" r="2.7"/><circle cx="425.1" cy="355.9" r="2.7"/><circle cx="429.1" cy="272.9" r="2.7"/><circle cx="430.1" cy="274.1" r="2.7"/><circle cx="430.0" cy="359.7" r="2.7"/><circle cx="428.0" cy="357.3" r="2.7"/><circle cx="429.9" cy="353.3" r="2.7"/><circle cx="431.2" cy="272.9" r="2.7"/><circle cx="432.1" cy="273.8" r="2.7"/><circle cx="430.9" cy="359.6" r="2.7"/><circle cx="430.5" cy="358.3" r="2.7"/><circle cx="432.6" cy="353.1" r="2.7"/><circle cx="430.3" cy="349.9" r="2.7"/><circle cx="432.9" cy="263.8" r="2.7"/><circle cx="433.8" cy="266.5" r="2.7"/><circle cx="435.0" cy="269.0" r="2.7"/><circle cx="434.9" cy="271.8" r="2.7"/><circle cx="434.9" cy="354.0" r="2.7"/><circle cx="434.8" cy="352.3" r="2.7"/><circle cx="435.0" cy="350.6" r="2.7"/><circle cx="435.4" cy="260.6" r="2.7"/><circle cx="435.6" cy="263.6" r="2.7"/><circle cx="436.1" cy="264.6" r="2.7"/><circle cx="437.4" cy="269.6" r="2.7"/><circle cx="437.9" cy="358.5" r="2.7"/><circle cx="437.7" cy="353.3" r="2.7"/><circle cx="437.2" cy="348.9" r="2.7"/><circle cx="437.1" cy="347.0" r="2.7"/><circle cx="439.9" cy="255.1" r="2.7"/><circle cx="438.6" cy="260.7" r="2.7"/><circle cx="440.2" cy="262.4" r="2.7"/><circle cx="439.7" cy="264.9" r="2.7"/><circle cx="438.3" cy="266.3" r="2.7"/><circle cx="439.3" cy="356.8" r="2.7"/><circle cx="440.1" cy="354.6" r="2.7"/><circle cx="440.2" cy="354.1" r="2.7"/><circle cx="440.0" cy="347.3" r="2.7"/><circle cx="438.7" cy="345.2" r="2.7"/><circle cx="442.3" cy="252.8" r="2.7"/><circle cx="441.3" cy="259.8" r="2.7"/><circle cx="442.5" cy="261.5" r="2.7"/><circle cx="441.1" cy="353.5" r="2.7"/><circle cx="440.6" cy="346.6" r="2.7"/><circle cx="441.2" cy="341.9" r="2.7"/><circle cx="445.0" cy="244.2" r="2.7"/><circle cx="445.7" cy="251.7" r="2.7"/><circle cx="444.0" cy="253.7" r="2.7"/><circle cx="444.7" cy="255.8" r="2.7"/><circle cx="444.1" cy="341.9" r="2.7"/><circle cx="444.4" cy="335.5" r="2.7"/><circle cx="445.8" cy="240.9" r="2.7"/><circle cx="447.7" cy="245.9" r="2.7"/><circle cx="448.0" cy="247.4" r="2.7"/><circle cx="445.9" cy="249.1" r="2.7"/><circle cx="448.0" cy="252.2" r="2.7"/><circle cx="447.8" cy="341.1" r="2.7"/><circle cx="446.3" cy="335.0" r="2.7"/><circle cx="445.9" cy="332.7" r="2.7"/><circle cx="450.1" cy="239.5" r="2.7"/><circle cx="449.2" cy="241.9" r="2.7"/><circle cx="449.2" cy="245.6" r="2.7"/><circle cx="449.7" cy="246.4" r="2.7"/><circle cx="450.4" cy="248.8" r="2.7"/><circle cx="449.4" cy="342.2" r="2.7"/><circle cx="448.8" cy="335.7" r="2.7"/><circle cx="449.9" cy="333.6" r="2.7"/><circle cx="449.7" cy="329.7" r="2.7"/><circle cx="452.6" cy="238.4" r="2.7"/><circle cx="451.0" cy="239.7" r="2.7"/><circle cx="452.1" cy="243.1" r="2.7"/><circle cx="451.1" cy="243.8" r="2.7"/><circle cx="451.4" cy="248.0" r="2.7"/><circle cx="453.0" cy="332.3" r="2.7"/><circle cx="451.1" cy="330.2" r="2.7"/><circle cx="454.7" cy="237.8" r="2.7"/><circle cx="455.1" cy="241.4" r="2.7"/><circle cx="454.9" cy="242.8" r="2.7"/><circle cx="456.0" cy="333.1" r="2.7"/><circle cx="453.8" cy="329.9" r="2.7"/><circle cx="458.2" cy="229.9" r="2.7"/><circle cx="456.4" cy="233.1" r="2.7"/><circle cx="457.0" cy="236.9" r="2.7"/><circle cx="456.6" cy="239.2" r="2.7"/><circle cx="456.3" cy="346.9" r="2.7"/><circle cx="457.5" cy="343.7" r="2.7"/><circle cx="456.4" cy="341.7" r="2.7"/><circle cx="458.2" cy="338.3" r="2.7"/><circle cx="457.6" cy="336.1" r="2.7"/><circle cx="459.8" cy="224.3" r="2.7"/><circle cx="459.9" cy="228.1" r="2.7"/><circle cx="461.2" cy="234.5" r="2.7"/><circle cx="459.2" cy="236.1" r="2.7"/><circle cx="460.3" cy="342.7" r="2.7"/><circle cx="459.5" cy="339.0" r="2.7"/><circle cx="463.0" cy="228.9" r="2.7"/><circle cx="461.9" cy="234.7" r="2.7"/><circle cx="461.4" cy="235.5" r="2.7"/><circle cx="462.2" cy="237.7" r="2.7"/><circle cx="462.0" cy="349.5" r="2.7"/><circle cx="463.4" cy="347.7" r="2.7"/><circle cx="463.8" cy="344.0" r="2.7"/><circle cx="462.4" cy="343.0" r="2.7"/><circle cx="464.7" cy="232.8" r="2.7"/><circle cx="464.4" cy="234.4" r="2.7"/><circle cx="464.1" cy="236.0" r="2.7"/><circle cx="464.5" cy="239.7" r="2.7"/><circle cx="464.8" cy="240.0" r="2.7"/><circle cx="464.9" cy="343.1" r="2.7"/><circle cx="467.7" cy="235.6" r="2.7"/><circle cx="468.5" cy="241.0" r="2.7"/><circle cx="468.4" cy="244.3" r="2.7"/><circle cx="468.2" cy="352.2" r="2.7"/><circle cx="468.4" cy="350.5" r="2.7"/><circle cx="466.8" cy="345.8" r="2.7"/><circle cx="468.7" cy="344.7" r="2.7"/><circle cx="471.6" cy="237.1" r="2.7"/><circle cx="470.5" cy="239.7" r="2.7"/><circle cx="471.7" cy="244.0" r="2.7"/><circle cx="469.9" cy="247.0" r="2.7"/><circle cx="470.0" cy="249.0" r="2.7"/><circle cx="471.0" cy="352.3" r="2.7"/><circle cx="471.3" cy="348.7" r="2.7"/><circle cx="471.2" cy="347.7" r="2.7"/><circle cx="470.2" cy="345.9" r="2.7"/><circle cx="469.3" cy="342.8" r="2.7"/><circle cx="470.9" cy="339.8" r="2.7"/><circle cx="473.4" cy="240.2" r="2.7"/><circle cx="473.3" cy="248.1" r="2.7"/><circle cx="473.1" cy="249.9" r="2.7"/><circle cx="473.2" cy="343.4" r="2.7"/><circle cx="472.1" cy="341.0" r="2.7"/><circle cx="472.7" cy="337.6" r="2.7"/><circle cx="476.8" cy="252.8" r="2.7"/><circle cx="475.6" cy="254.3" r="2.7"/><circle cx="474.9" cy="340.6" r="2.7"/><circle cx="474.9" cy="338.6" r="2.7"/><circle cx="476.5" cy="335.0" r="2.7"/><circle cx="475.5" cy="333.0" r="2.7"/><circle cx="477.5" cy="249.9" r="2.7"/><circle cx="477.7" cy="251.0" r="2.7"/><circle cx="478.9" cy="253.6" r="2.7"/><circle cx="477.2" cy="256.4" r="2.7"/><circle cx="478.3" cy="336.5" r="2.7"/><circle cx="478.1" cy="335.2" r="2.7"/><circle cx="478.1" cy="333.0" r="2.7"/><circle cx="481.2" cy="253.2" r="2.7"/><circle cx="481.8" cy="255.6" r="2.7"/><circle cx="481.8" cy="260.6" r="2.7"/><circle cx="480.2" cy="345.5" r="2.7"/><circle cx="482.0" cy="339.3" r="2.7"/><circle cx="479.7" cy="336.0" r="2.7"/><circle cx="482.7" cy="258.2" r="2.7"/><circle cx="484.0" cy="260.4" r="2.7"/><circle cx="484.3" cy="265.7" r="2.7"/><circle cx="482.5" cy="345.8" r="2.7"/><circle cx="482.4" cy="338.3" r="2.7"/><circle cx="483.6" cy="335.7" r="2.7"/><circle cx="486.2" cy="257.8" r="2.7"/><circle cx="487.2" cy="262.7" r="2.7"/><circle cx="487.3" cy="263.3" r="2.7"/><circle cx="487.0" cy="265.3" r="2.7"/><circle cx="484.8" cy="268.0" r="2.7"/><circle cx="486.9" cy="347.8" r="2.7"/><circle cx="486.8" cy="345.8" r="2.7"/><circle cx="485.2" cy="343.4" r="2.7"/><circle cx="485.6" cy="337.8" r="2.7"/><circle cx="487.4" cy="258.3" r="2.7"/><circle cx="489.4" cy="266.1" r="2.7"/><circle cx="489.7" cy="342.0" r="2.7"/><circle cx="488.1" cy="339.4" r="2.7"/><circle cx="488.4" cy="335.7" r="2.7"/><circle cx="488.0" cy="333.9" r="2.7"/><circle cx="490.0" cy="261.9" r="2.7"/><circle cx="492.4" cy="272.9" r="2.7"/><circle cx="492.5" cy="345.3" r="2.7"/><circle cx="490.3" cy="334.0" r="2.7"/><circle cx="492.5" cy="331.8" r="2.7"/><circle cx="494.9" cy="261.7" r="2.7"/><circle cx="492.7" cy="262.6" r="2.7"/><circle cx="492.6" cy="264.6" r="2.7"/><circle cx="493.8" cy="270.6" r="2.7"/><circle cx="493.4" cy="271.5" r="2.7"/><circle cx="493.3" cy="338.0" r="2.7"/><circle cx="493.2" cy="334.2" r="2.7"/><circle cx="494.6" cy="330.1" r="2.7"/><circle cx="497.2" cy="261.5" r="2.7"/><circle cx="497.7" cy="268.4" r="2.7"/><circle cx="496.8" cy="270.6" r="2.7"/><circle cx="495.4" cy="342.6" r="2.7"/><circle cx="496.1" cy="338.4" r="2.7"/><circle cx="495.7" cy="335.4" r="2.7"/><circle cx="497.2" cy="332.9" r="2.7"/><circle cx="496.1" cy="331.0" r="2.7"/><circle cx="498.0" cy="260.0" r="2.7"/><circle cx="500.4" cy="265.9" r="2.7"/><circle cx="499.5" cy="267.8" r="2.7"/><circle cx="498.7" cy="270.3" r="2.7"/><circle cx="500.1" cy="336.0" r="2.7"/><circle cx="498.1" cy="331.3" r="2.7"/><circle cx="498.6" cy="329.8" r="2.7"/><circle cx="502.2" cy="260.7" r="2.7"/><circle cx="501.9" cy="261.7" r="2.7"/><circle cx="501.9" cy="268.5" r="2.7"/><circle cx="501.8" cy="269.9" r="2.7"/><circle cx="501.6" cy="340.4" r="2.7"/><circle cx="502.3" cy="335.4" r="2.7"/><circle cx="500.7" cy="333.3" r="2.7"/><circle cx="501.5" cy="328.8" r="2.7"/><circle cx="504.8" cy="263.7" r="2.7"/><circle cx="503.6" cy="266.8" r="2.7"/><circle cx="504.4" cy="268.3" r="2.7"/><circle cx="503.5" cy="342.1" r="2.7"/><circle cx="503.0" cy="332.9" r="2.7"/><circle cx="503.8" cy="331.1" r="2.7"/><circle cx="507.9" cy="256.3" r="2.7"/><circle cx="505.7" cy="261.5" r="2.7"/><circle cx="507.2" cy="263.0" r="2.7"/><circle cx="508.1" cy="266.6" r="2.7"/><circle cx="506.6" cy="267.6" r="2.7"/><circle cx="508.0" cy="343.5" r="2.7"/><circle cx="506.1" cy="338.8" r="2.7"/><circle cx="507.9" cy="337.2" r="2.7"/><circle cx="506.3" cy="332.4" r="2.7"/><circle cx="509.4" cy="251.4" r="2.7"/><circle cx="510.7" cy="255.3" r="2.7"/><circle cx="508.7" cy="256.6" r="2.7"/><circle cx="510.4" cy="334.5" r="2.7"/><circle cx="510.6" cy="330.4" r="2.7"/><circle cx="512.1" cy="238.5" r="2.7"/><circle cx="512.6" cy="242.5" r="2.7"/><circle cx="512.6" cy="244.1" r="2.7"/><circle cx="513.2" cy="247.5" r="2.7"/><circle cx="511.1" cy="337.5" r="2.7"/><circle cx="511.2" cy="336.4" r="2.7"/><circle cx="512.1" cy="334.9" r="2.7"/><circle cx="513.2" cy="331.1" r="2.7"/><circle cx="515.2" cy="231.8" r="2.7"/><circle cx="514.3" cy="238.2" r="2.7"/><circle cx="514.6" cy="244.5" r="2.7"/><circle cx="515.6" cy="334.7" r="2.7"/><circle cx="515.1" cy="332.1" r="2.7"/><circle cx="518.3" cy="235.0" r="2.7"/><circle cx="517.8" cy="238.7" r="2.7"/><circle cx="516.0" cy="240.0" r="2.7"/><circle cx="516.2" cy="338.9" r="2.7"/><circle cx="518.0" cy="334.4" r="2.7"/><circle cx="516.7" cy="332.3" r="2.7"/><circle cx="517.9" cy="329.9" r="2.7"/><circle cx="517.8" cy="328.3" r="2.7"/><circle cx="520.6" cy="229.1" r="2.7"/><circle cx="518.7" cy="234.0" r="2.7"/><circle cx="521.1" cy="235.5" r="2.7"/><circle cx="521.1" cy="328.5" r="2.7"/><circle cx="523.3" cy="226.8" r="2.7"/><circle cx="523.7" cy="227.9" r="2.7"/><circle cx="523.3" cy="229.7" r="2.7"/><circle cx="523.7" cy="231.7" r="2.7"/><circle cx="522.6" cy="235.0" r="2.7"/><circle cx="523.3" cy="236.3" r="2.7"/><circle cx="521.5" cy="333.5" r="2.7"/><circle cx="522.2" cy="331.0" r="2.7"/><circle cx="522.7" cy="329.5" r="2.7"/><circle cx="522.6" cy="325.7" r="2.7"/><circle cx="525.0" cy="226.3" r="2.7"/><circle cx="524.9" cy="231.6" r="2.7"/><circle cx="526.1" cy="235.3" r="2.7"/><circle cx="525.9" cy="239.4" r="2.7"/><circle cx="524.7" cy="337.2" r="2.7"/><circle cx="525.5" cy="335.6" r="2.7"/><circle cx="524.6" cy="333.3" r="2.7"/><circle cx="524.0" cy="330.6" r="2.7"/><circle cx="525.3" cy="326.7" r="2.7"/><circle cx="527.3" cy="233.7" r="2.7"/><circle cx="527.6" cy="234.6" r="2.7"/><circle cx="528.5" cy="236.5" r="2.7"/><circle cx="528.1" cy="239.1" r="2.7"/><circle cx="527.0" cy="338.6" r="2.7"/><circle cx="528.7" cy="336.4" r="2.7"/><circle cx="528.0" cy="334.7" r="2.7"/><circle cx="528.1" cy="332.2" r="2.7"/><circle cx="527.1" cy="328.5" r="2.7"/><circle cx="531.0" cy="236.4" r="2.7"/><circle cx="530.0" cy="239.2" r="2.7"/><circle cx="529.9" cy="240.5" r="2.7"/><circle cx="530.5" cy="342.1" r="2.7"/><circle cx="531.0" cy="335.1" r="2.7"/><circle cx="529.1" cy="333.2" r="2.7"/><circle cx="530.7" cy="329.1" r="2.7"/><circle cx="531.6" cy="231.6" r="2.7"/><circle cx="533.8" cy="235.0" r="2.7"/><circle cx="534.2" cy="237.1" r="2.7"/><circle cx="532.5" cy="242.7" r="2.7"/><circle cx="533.7" cy="338.1" r="2.7"/><circle cx="531.6" cy="336.1" r="2.7"/><circle cx="533.6" cy="333.7" r="2.7"/><circle cx="531.7" cy="331.5" r="2.7"/><circle cx="536.7" cy="235.6" r="2.7"/><circle cx="536.3" cy="238.2" r="2.7"/><circle cx="534.3" cy="244.1" r="2.7"/><circle cx="534.6" cy="339.9" r="2.7"/><circle cx="535.9" cy="339.6" r="2.7"/><circle cx="535.5" cy="337.2" r="2.7"/><circle cx="536.5" cy="334.3" r="2.7"/><circle cx="536.2" cy="330.8" r="2.7"/><circle cx="539.2" cy="241.9" r="2.7"/><circle cx="538.4" cy="244.4" r="2.7"/><circle cx="537.6" cy="246.9" r="2.7"/><circle cx="538.2" cy="250.6" r="2.7"/><circle cx="538.9" cy="344.4" r="2.7"/><circle cx="537.0" cy="339.2" r="2.7"/><circle cx="538.4" cy="335.3" r="2.7"/><circle cx="539.3" cy="330.4" r="2.7"/><circle cx="540.6" cy="241.6" r="2.7"/><circle cx="541.9" cy="244.4" r="2.7"/><circle cx="541.4" cy="249.2" r="2.7"/><circle cx="541.2" cy="251.8" r="2.7"/><circle cx="540.6" cy="252.5" r="2.7"/><circle cx="539.5" cy="338.4" r="2.7"/><circle cx="541.5" cy="334.8" r="2.7"/><circle cx="541.0" cy="331.9" r="2.7"/><circle cx="542.5" cy="245.6" r="2.7"/><circle cx="544.1" cy="247.0" r="2.7"/><circle cx="542.8" cy="257.0" r="2.7"/><circle cx="544.5" cy="339.6" r="2.7"/><circle cx="542.8" cy="337.3" r="2.7"/><circle cx="542.9" cy="335.2" r="2.7"/><circle cx="546.6" cy="252.3" r="2.7"/><circle cx="547.0" cy="257.0" r="2.7"/><circle cx="546.8" cy="340.8" r="2.7"/><circle cx="544.7" cy="334.6" r="2.7"/><circle cx="544.9" cy="332.7" r="2.7"/><circle cx="549.7" cy="246.6" r="2.7"/><circle cx="549.0" cy="254.1" r="2.7"/><circle cx="549.6" cy="346.5" r="2.7"/><circle cx="549.4" cy="343.0" r="2.7"/><circle cx="549.4" cy="338.6" r="2.7"/><circle cx="548.4" cy="337.1" r="2.7"/><circle cx="548.4" cy="334.9" r="2.7"/><circle cx="551.1" cy="242.0" r="2.7"/><circle cx="550.3" cy="243.6" r="2.7"/><circle cx="550.9" cy="246.3" r="2.7"/><circle cx="550.0" cy="248.5" r="2.7"/><circle cx="551.9" cy="341.6" r="2.7"/><circle cx="550.1" cy="340.3" r="2.7"/><circle cx="552.2" cy="338.2" r="2.7"/><circle cx="552.6" cy="239.1" r="2.7"/><circle cx="553.6" cy="241.0" r="2.7"/><circle cx="554.6" cy="241.8" r="2.7"/><circle cx="552.5" cy="244.7" r="2.7"/><circle cx="553.8" cy="249.3" r="2.7"/><circle cx="554.3" cy="341.8" r="2.7"/><circle cx="553.7" cy="338.1" r="2.7"/><circle cx="553.5" cy="335.9" r="2.7"/><circle cx="554.4" cy="332.3" r="2.7"/><circle cx="555.7" cy="238.8" r="2.7"/><circle cx="555.3" cy="240.3" r="2.7"/><circle cx="557.2" cy="246.6" r="2.7"/><circle cx="557.0" cy="248.5" r="2.7"/><circle cx="555.9" cy="339.4" r="2.7"/><circle cx="556.9" cy="333.9" r="2.7"/><circle cx="556.0" cy="331.7" r="2.7"/><circle cx="559.9" cy="237.1" r="2.7"/><circle cx="557.9" cy="238.9" r="2.7"/><circle cx="559.1" cy="246.2" r="2.7"/><circle cx="559.7" cy="247.9" r="2.7"/><circle cx="557.9" cy="346.5" r="2.7"/><circle cx="559.6" cy="337.3" r="2.7"/><circle cx="560.2" cy="333.8" r="2.7"/><circle cx="561.8" cy="245.7" r="2.7"/><circle cx="560.4" cy="246.6" r="2.7"/><circle cx="561.4" cy="248.4" r="2.7"/><circle cx="561.5" cy="251.4" r="2.7"/><circle cx="561.2" cy="349.2" r="2.7"/><circle cx="561.4" cy="345.6" r="2.7"/><circle cx="562.6" cy="342.4" r="2.7"/><circle cx="560.6" cy="339.8" r="2.7"/><circle cx="561.0" cy="339.1" r="2.7"/><circle cx="563.0" cy="244.1" r="2.7"/><circle cx="563.5" cy="249.4" r="2.7"/><circle cx="565.0" cy="253.1" r="2.7"/><circle cx="564.7" cy="253.6" r="2.7"/><circle cx="564.9" cy="352.1" r="2.7"/><circle cx="564.9" cy="347.6" r="2.7"/><circle cx="565.3" cy="344.9" r="2.7"/><circle cx="563.5" cy="340.4" r="2.7"/><circle cx="566.4" cy="246.8" r="2.7"/><circle cx="565.4" cy="250.2" r="2.7"/><circle cx="565.7" cy="253.0" r="2.7"/><circle cx="565.8" cy="255.7" r="2.7"/><circle cx="567.4" cy="258.9" r="2.7"/><circle cx="567.8" cy="358.9" r="2.7"/><circle cx="566.6" cy="351.5" r="2.7"/><circle cx="567.8" cy="349.0" r="2.7"/><circle cx="565.6" cy="346.8" r="2.7"/><circle cx="570.3" cy="253.2" r="2.7"/><circle cx="570.3" cy="256.5" r="2.7"/><circle cx="568.2" cy="259.1" r="2.7"/><circle cx="570.2" cy="260.2" r="2.7"/><circle cx="568.3" cy="356.7" r="2.7"/><circle cx="569.1" cy="354.0" r="2.7"/><circle cx="568.4" cy="351.2" r="2.7"/><circle cx="572.2" cy="257.3" r="2.7"/><circle cx="572.2" cy="260.3" r="2.7"/><circle cx="571.6" cy="263.6" r="2.7"/><circle cx="571.7" cy="265.8" r="2.7"/><circle cx="571.8" cy="360.6" r="2.7"/><circle cx="572.2" cy="355.1" r="2.7"/><circle cx="575.2" cy="255.3" r="2.7"/><circle cx="574.0" cy="259.6" r="2.7"/><circle cx="574.8" cy="261.9" r="2.7"/><circle cx="574.2" cy="266.2" r="2.7"/><circle cx="573.2" cy="364.0" r="2.7"/><circle cx="574.2" cy="359.5" r="2.7"/><circle cx="573.5" cy="357.8" r="2.7"/><circle cx="573.5" cy="354.5" r="2.7"/><circle cx="575.5" cy="352.3" r="2.7"/><circle cx="578.2" cy="247.7" r="2.7"/><circle cx="576.9" cy="253.5" r="2.7"/><circle cx="576.4" cy="256.7" r="2.7"/><circle cx="577.4" cy="260.4" r="2.7"/><circle cx="577.1" cy="358.5" r="2.7"/><circle cx="576.1" cy="350.8" r="2.7"/><circle cx="580.7" cy="246.5" r="2.7"/><circle cx="580.9" cy="249.2" r="2.7"/><circle cx="579.5" cy="252.3" r="2.7"/><circle cx="578.4" cy="351.6" r="2.7"/><circle cx="579.2" cy="349.7" r="2.7"/><circle cx="578.6" cy="347.3" r="2.7"/><circle cx="579.0" cy="345.6" r="2.7"/><circle cx="582.6" cy="242.5" r="2.7"/><circle cx="581.1" cy="249.2" r="2.7"/><circle cx="583.3" cy="251.4" r="2.7"/><circle cx="582.2" cy="350.9" r="2.7"/><circle cx="581.2" cy="350.4" r="2.7"/><circle cx="583.0" cy="347.7" r="2.7"/><circle cx="583.0" cy="342.3" r="2.7"/><circle cx="584.5" cy="245.7" r="2.7"/><circle cx="585.2" cy="248.4" r="2.7"/><circle cx="584.2" cy="339.5" r="2.7"/><circle cx="584.2" cy="338.7" r="2.7"/><circle cx="588.6" cy="238.4" r="2.7"/><circle cx="587.5" cy="243.7" r="2.7"/><circle cx="586.4" cy="244.2" r="2.7"/><circle cx="586.6" cy="246.2" r="2.7"/><circle cx="587.3" cy="249.3" r="2.7"/><circle cx="588.7" cy="342.1" r="2.7"/><circle cx="586.8" cy="336.3" r="2.7"/><circle cx="590.4" cy="251.1" r="2.7"/><circle cx="588.8" cy="346.3" r="2.7"/><circle cx="589.6" cy="343.2" r="2.7"/><circle cx="589.4" cy="342.5" r="2.7"/><circle cx="590.6" cy="340.7" r="2.7"/><circle cx="590.3" cy="336.6" r="2.7"/><circle cx="590.7" cy="335.7" r="2.7"/><circle cx="591.9" cy="243.0" r="2.7"/><circle cx="591.6" cy="251.4" r="2.7"/><circle cx="592.3" cy="253.8" r="2.7"/><circle cx="592.1" cy="341.4" r="2.7"/><circle cx="593.5" cy="337.3" r="2.7"/><circle cx="592.4" cy="335.8" r="2.7"/><circle cx="591.9" cy="332.5" r="2.7"/><circle cx="594.4" cy="244.2" r="2.7"/><circle cx="595.5" cy="248.3" r="2.7"/><circle cx="595.0" cy="250.8" r="2.7"/><circle cx="595.2" cy="254.5" r="2.7"/><circle cx="594.5" cy="256.0" r="2.7"/><circle cx="594.7" cy="345.6" r="2.7"/><circle cx="595.5" cy="343.2" r="2.7"/><circle cx="594.8" cy="338.9" r="2.7"/><circle cx="596.4" cy="337.5" r="2.7"/><circle cx="594.1" cy="335.7" r="2.7"/><circle cx="595.3" cy="333.5" r="2.7"/><circle cx="597.0" cy="250.8" r="2.7"/><circle cx="597.5" cy="253.3" r="2.7"/><circle cx="597.7" cy="256.2" r="2.7"/><circle cx="598.7" cy="257.7" r="2.7"/><circle cx="597.6" cy="343.2" r="2.7"/><circle cx="598.5" cy="335.5" r="2.7"/><circle cx="598.5" cy="331.2" r="2.7"/><circle cx="600.6" cy="254.8" r="2.7"/><circle cx="600.5" cy="256.8" r="2.7"/><circle cx="601.7" cy="261.5" r="2.7"/><circle cx="599.6" cy="341.2" r="2.7"/><circle cx="599.3" cy="333.8" r="2.7"/><circle cx="601.5" cy="331.2" r="2.7"/><circle cx="603.7" cy="261.1" r="2.7"/><circle cx="602.8" cy="263.0" r="2.7"/><circle cx="602.3" cy="332.6" r="2.7"/><circle cx="604.2" cy="332.3" r="2.7"/><circle cx="602.9" cy="329.9" r="2.7"/><circle cx="605.8" cy="259.6" r="2.7"/><circle cx="606.4" cy="267.3" r="2.7"/><circle cx="605.6" cy="270.3" r="2.7"/><circle cx="605.7" cy="337.2" r="2.7"/><circle cx="605.1" cy="333.7" r="2.7"/><circle cx="606.8" cy="330.2" r="2.7"/><circle cx="605.7" cy="326.7" r="2.7"/><circle cx="607.9" cy="266.0" r="2.7"/><circle cx="608.3" cy="267.2" r="2.7"/><circle cx="607.2" cy="274.8" r="2.7"/><circle cx="608.4" cy="278.8" r="2.7"/><circle cx="609.1" cy="336.6" r="2.7"/><circle cx="607.9" cy="333.4" r="2.7"/><circle cx="608.3" cy="326.0" r="2.7"/><circle cx="611.0" cy="273.8" r="2.7"/><circle cx="611.0" cy="278.6" r="2.7"/><circle cx="610.3" cy="280.0" r="2.7"/><circle cx="611.8" cy="282.0" r="2.7"/><circle cx="612.1" cy="285.9" r="2.7"/><circle cx="610.9" cy="329.4" r="2.7"/><circle cx="611.0" cy="324.0" r="2.7"/><circle cx="614.4" cy="278.6" r="2.7"/><circle cx="612.4" cy="283.9" r="2.7"/><circle cx="613.5" cy="288.7" r="2.7"/><circle cx="612.9" cy="290.7" r="2.7"/><circle cx="614.5" cy="333.9" r="2.7"/><circle cx="612.3" cy="327.6" r="2.7"/><circle cx="612.6" cy="323.2" r="2.7"/><circle cx="616.5" cy="290.6" r="2.7"/><circle cx="615.9" cy="294.4" r="2.7"/><circle cx="617.3" cy="327.6" r="2.7"/><circle cx="616.8" cy="325.2" r="2.7"/><circle cx="617.0" cy="322.2" r="2.7"/><circle cx="619.9" cy="296.9" r="2.7"/><circle cx="619.6" cy="298.7" r="2.7"/><circle cx="618.2" cy="322.6" r="2.7"/><circle cx="618.6" cy="319.8" r="2.7"/><circle cx="621.4" cy="299.2" r="2.7"/><circle cx="621.5" cy="301.8" r="2.7"/><circle cx="621.1" cy="325.5" r="2.7"/><circle cx="622.0" cy="319.9" r="2.7"/><circle cx="623.1" cy="321.3" r="2.7"/><circle cx="623.5" cy="320.0" r="2.7"/><circle cx="625.2" cy="305.5" r="2.7"/><circle cx="625.8" cy="308.9" r="2.7"/><circle cx="626.5" cy="323.9" r="2.7"/><circle cx="626.7" cy="323.7" r="2.7"/><circle cx="630.1" cy="305.8" r="2.7"/><circle cx="629.3" cy="310.7" r="2.7"/><circle cx="627.8" cy="327.6" r="2.7"/><circle cx="629.9" cy="326.2" r="2.7"/><circle cx="629.9" cy="324.5" r="2.7"/><circle cx="631.4" cy="309.8" r="2.7"/><circle cx="630.5" cy="325.5" r="2.7"/><circle cx="633.9" cy="308.3" r="2.7"/><circle cx="635.3" cy="311.8" r="2.7"/><circle cx="634.6" cy="328.1" r="2.7"/><circle cx="635.6" cy="324.9" r="2.7"/><circle cx="636.2" cy="308.5" r="2.7"/><circle cx="636.1" cy="312.0" r="2.7"/><circle cx="637.7" cy="325.9" r="2.7"/><circle cx="638.0" cy="324.6" r="2.7"/><circle cx="640.5" cy="305.5" r="2.7"/><circle cx="639.2" cy="308.2" r="2.7"/><circle cx="639.0" cy="323.7" r="2.7"/><circle cx="639.3" cy="322.9" r="2.7"/><circle cx="642.3" cy="305.3" r="2.7"/><circle cx="641.8" cy="326.0" r="2.7"/><circle cx="642.1" cy="324.6" r="2.7"/><circle cx="643.0" cy="322.3" r="2.7"/><circle cx="645.0" cy="302.8" r="2.7"/><circle cx="645.4" cy="325.5" r="2.7"/><circle cx="644.5" cy="321.7" r="2.7"/><circle cx="646.5" cy="296.8" r="2.7"/><circle cx="647.7" cy="299.1" r="2.7"/><circle cx="646.6" cy="300.1" r="2.7"/><circle cx="647.0" cy="326.1" r="2.7"/><circle cx="646.7" cy="322.8" r="2.7"/><circle cx="646.8" cy="321.7" r="2.7"/><circle cx="650.2" cy="299.6" r="2.7"/><circle cx="650.3" cy="300.9" r="2.7"/><circle cx="649.2" cy="326.6" r="2.7"/><circle cx="650.6" cy="323.9" r="2.7"/><circle cx="650.3" cy="320.5" r="2.7"/><circle cx="651.5" cy="299.2" r="2.7"/><circle cx="652.2" cy="302.8" r="2.7"/><circle cx="653.4" cy="303.6" r="2.7"/><circle cx="652.2" cy="327.0" r="2.7"/><circle cx="651.4" cy="325.2" r="2.7"/><circle cx="655.9" cy="307.0" r="2.7"/><circle cx="655.8" cy="309.9" r="2.7"/><circle cx="655.9" cy="311.1" r="2.7"/><circle cx="655.0" cy="324.4" r="2.7"/><circle cx="656.1" cy="325.0" r="2.7"/><circle cx="658.3" cy="312.0" r="2.7"/><circle cx="656.5" cy="323.8" r="2.7"/><circle cx="659.4" cy="310.3" r="2.7"/><circle cx="660.3" cy="313.8" r="2.7"/><circle cx="659.0" cy="327.4" r="2.7"/><circle cx="659.5" cy="324.2" r="2.7"/><circle cx="663.9" cy="310.6" r="2.7"/><circle cx="662.3" cy="313.8" r="2.7"/><circle cx="663.8" cy="326.5" r="2.7"/><circle cx="664.7" cy="311.1" r="2.7"/><circle cx="665.0" cy="314.5" r="2.7"/><circle cx="664.3" cy="330.4" r="2.7"/><circle cx="664.6" cy="328.9" r="2.7"/><circle cx="668.6" cy="311.6" r="2.7"/><circle cx="669.3" cy="313.2" r="2.7"/><circle cx="667.3" cy="314.8" r="2.7"/><circle cx="668.9" cy="330.5" r="2.7"/><circle cx="669.2" cy="330.1" r="2.7"/><circle cx="667.6" cy="329.7" r="2.7"/><circle cx="670.6" cy="307.6" r="2.7"/><circle cx="669.9" cy="310.5" r="2.7"/><circle cx="671.6" cy="329.8" r="2.7"/><circle cx="670.0" cy="325.7" r="2.7"/><circle cx="673.1" cy="302.6" r="2.7"/><circle cx="672.1" cy="325.6" r="2.7"/><circle cx="673.6" cy="324.1" r="2.7"/><circle cx="674.7" cy="301.7" r="2.7"/><circle cx="675.8" cy="302.7" r="2.7"/><circle cx="675.6" cy="304.0" r="2.7"/><circle cx="675.2" cy="325.3" r="2.7"/><circle cx="676.3" cy="325.1" r="2.7"/><circle cx="676.6" cy="321.5" r="2.7"/><circle cx="678.0" cy="301.1" r="2.7"/><circle cx="679.7" cy="302.7" r="2.7"/><circle cx="678.4" cy="326.3" r="2.7"/><circle cx="677.2" cy="322.4" r="2.7"/><circle cx="680.9" cy="297.9" r="2.7"/><circle cx="681.6" cy="300.8" r="2.7"/><circle cx="680.7" cy="304.1" r="2.7"/><circle cx="682.0" cy="322.4" r="2.7"/><circle cx="681.0" cy="321.2" r="2.7"/><circle cx="684.9" cy="303.6" r="2.7"/><circle cx="684.9" cy="306.1" r="2.7"/><circle cx="684.0" cy="323.6" r="2.7"/><circle cx="684.2" cy="321.0" r="2.7"/><circle cx="685.1" cy="305.5" r="2.7"/><circle cx="687.1" cy="308.1" r="2.7"/><circle cx="685.9" cy="320.9" r="2.7"/><circle cx="687.7" cy="301.8" r="2.7"/><circle cx="690.1" cy="303.4" r="2.7"/><circle cx="690.1" cy="306.0" r="2.7"/><circle cx="688.2" cy="323.2" r="2.7"/><circle cx="690.0" cy="320.8" r="2.7"/><circle cx="691.9" cy="310.5" r="2.7"/><circle cx="691.7" cy="322.6" r="2.7"/><circle cx="694.2" cy="310.5" r="2.7"/><circle cx="694.6" cy="314.3" r="2.7"/><circle cx="694.3" cy="328.1" r="2.7"/><circle cx="697.4" cy="314.9" r="2.7"/><circle cx="697.4" cy="337.6" r="2.7"/><circle cx="697.6" cy="333.4" r="2.7"/><circle cx="696.0" cy="333.5" r="2.7"/><circle cx="698.9" cy="313.2" r="2.7"/><circle cx="699.3" cy="315.3" r="2.7"/><circle cx="699.6" cy="335.9" r="2.7"/><circle cx="699.1" cy="332.4" r="2.7"/><circle cx="701.5" cy="314.7" r="2.7"/><circle cx="703.1" cy="316.3" r="2.7"/><circle cx="701.6" cy="317.9" r="2.7"/><circle cx="700.9" cy="332.4" r="2.7"/><circle cx="705.2" cy="316.5" r="2.7"/><circle cx="704.1" cy="316.0" r="2.7"/><circle cx="704.8" cy="325.7" r="2.7"/><circle cx="707.7" cy="310.3" r="2.7"/><circle cx="706.1" cy="312.2" r="2.7"/><circle cx="706.2" cy="323.5" r="2.7"/><circle cx="709.2" cy="306.5" r="2.7"/><circle cx="709.9" cy="308.3" r="2.7"/><circle cx="708.5" cy="308.2" r="2.7"/><circle cx="708.9" cy="324.8" r="2.7"/><circle cx="709.7" cy="322.5" r="2.7"/><circle cx="712.8" cy="308.2" r="2.7"/><circle cx="712.4" cy="321.6" r="2.7"/><circle cx="715.6" cy="301.9" r="2.7"/><circle cx="714.0" cy="305.1" r="2.7"/><circle cx="715.9" cy="306.8" r="2.7"/><circle cx="715.2" cy="324.5" r="2.7"/><circle cx="715.9" cy="321.8" r="2.7"/><circle cx="717.3" cy="306.1" r="2.7"/><circle cx="718.2" cy="323.1" r="2.7"/><circle cx="720.4" cy="301.5" r="2.7"/><circle cx="719.0" cy="306.0" r="2.7"/><circle cx="719.6" cy="327.6" r="2.7"/><circle cx="720.4" cy="324.1" r="2.7"/><circle cx="722.7" cy="299.4" r="2.7"/><circle cx="723.4" cy="301.2" r="2.7"/><circle cx="721.6" cy="302.9" r="2.7"/><circle cx="721.5" cy="305.6" r="2.7"/><circle cx="722.8" cy="328.6" r="2.7"/><circle cx="722.3" cy="324.5" r="2.7"/><circle cx="724.4" cy="299.1" r="2.7"/><circle cx="725.7" cy="304.0" r="2.7"/><circle cx="724.9" cy="305.8" r="2.7"/><circle cx="726.2" cy="328.4" r="2.7"/><circle cx="726.3" cy="325.4" r="2.7"/><circle cx="728.9" cy="299.2" r="2.7"/><circle cx="728.1" cy="303.2" r="2.7"/><circle cx="728.5" cy="304.9" r="2.7"/><circle cx="727.4" cy="328.3" r="2.7"/><circle cx="728.7" cy="328.0" r="2.7"/><circle cx="731.4" cy="225.0" r="2.7"/><circle cx="730.6" cy="248.5" r="2.7"/><circle cx="730.9" cy="255.2" r="2.7"/><circle cx="731.6" cy="256.8" r="2.7"/><circle cx="731.7" cy="259.2" r="2.7"/><circle cx="729.4" cy="262.3" r="2.7"/><circle cx="730.2" cy="267.3" r="2.7"/><circle cx="731.1" cy="271.2" r="2.7"/><circle cx="730.8" cy="330.4" r="2.7"/><circle cx="731.3" cy="326.4" r="2.7"/><circle cx="731.7" cy="322.7" r="2.7"/><circle cx="729.7" cy="319.2" r="2.7"/><circle cx="733.5" cy="201.4" r="2.7"/><circle cx="733.4" cy="205.9" r="2.7"/><circle cx="733.1" cy="210.6" r="2.7"/><circle cx="734.3" cy="215.3" r="2.7"/><circle cx="732.4" cy="219.8" r="2.7"/><circle cx="732.1" cy="223.9" r="2.7"/><circle cx="733.1" cy="227.8" r="2.7"/><circle cx="733.3" cy="231.2" r="2.7"/><circle cx="732.9" cy="233.3" r="2.7"/><circle cx="733.0" cy="235.2" r="2.7"/><circle cx="731.9" cy="242.4" r="2.7"/><circle cx="732.1" cy="329.9" r="2.7"/><circle cx="732.7" cy="325.6" r="2.7"/><circle cx="733.4" cy="319.2" r="2.7"/><circle cx="736.1" cy="197.8" r="2.7"/><circle cx="735.4" cy="199.3" r="2.7"/><circle cx="735.4" cy="211.6" r="2.7"/><circle cx="736.4" cy="215.2" r="2.7"/><circle cx="736.4" cy="217.0" r="2.7"/><circle cx="735.3" cy="219.8" r="2.7"/><circle cx="735.4" cy="226.9" r="2.7"/><circle cx="736.1" cy="233.0" r="2.7"/><circle cx="735.7" cy="234.8" r="2.7"/><circle cx="736.8" cy="238.4" r="2.7"/><circle cx="736.5" cy="324.7" r="2.7"/><circle cx="735.1" cy="322.6" r="2.7"/><circle cx="735.3" cy="318.8" r="2.7"/><circle cx="737.4" cy="190.3" r="2.7"/><circle cx="738.3" cy="205.9" r="2.7"/><circle cx="738.0" cy="211.9" r="2.7"/><circle cx="739.2" cy="213.4" r="2.7"/><circle cx="739.0" cy="219.2" r="2.7"/><circle cx="738.1" cy="225.0" r="2.7"/><circle cx="738.8" cy="227.8" r="2.7"/><circle cx="739.0" cy="233.4" r="2.7"/><circle cx="737.2" cy="330.5" r="2.7"/><circle cx="738.7" cy="327.6" r="2.7"/><circle cx="739.0" cy="324.2" r="2.7"/><circle cx="737.9" cy="321.3" r="2.7"/><circle cx="740.7" cy="191.1" r="2.7"/><circle cx="741.0" cy="195.7" r="2.7"/><circle cx="740.0" cy="205.3" r="2.7"/><circle cx="740.2" cy="218.6" r="2.7"/><circle cx="742.0" cy="219.6" r="2.7"/><circle cx="741.3" cy="225.4" r="2.7"/><circle cx="741.1" cy="231.0" r="2.7"/><circle cx="740.6" cy="231.5" r="2.7"/><circle cx="739.6" cy="234.2" r="2.7"/><circle cx="740.5" cy="237.5" r="2.7"/><circle cx="740.3" cy="329.2" r="2.7"/><circle cx="741.3" cy="328.1" r="2.7"/><circle cx="739.8" cy="325.7" r="2.7"/><circle cx="742.8" cy="185.3" r="2.7"/><circle cx="743.7" cy="192.1" r="2.7"/><circle cx="744.5" cy="198.2" r="2.7"/><circle cx="743.1" cy="200.0" r="2.7"/><circle cx="743.8" cy="202.4" r="2.7"/><circle cx="743.3" cy="211.4" r="2.7"/><circle cx="743.5" cy="213.3" r="2.7"/><circle cx="742.7" cy="218.6" r="2.7"/><circle cx="742.8" cy="220.2" r="2.7"/><circle cx="743.5" cy="226.0" r="2.7"/><circle cx="742.3" cy="227.4" r="2.7"/><circle cx="744.4" cy="231.6" r="2.7"/><circle cx="742.8" cy="232.3" r="2.7"/><circle cx="744.2" cy="236.3" r="2.7"/><circle cx="743.6" cy="237.8" r="2.7"/><circle cx="742.9" cy="351.0" r="2.7"/><circle cx="743.0" cy="349.5" r="2.7"/><circle cx="743.2" cy="347.1" r="2.7"/><circle cx="746.0" cy="195.7" r="2.7"/><circle cx="745.9" cy="199.2" r="2.7"/><circle cx="746.7" cy="216.8" r="2.7"/><circle cx="746.9" cy="226.9" r="2.7"/><circle cx="746.9" cy="229.0" r="2.7"/><circle cx="746.2" cy="232.1" r="2.7"/><circle cx="745.9" cy="233.7" r="2.7"/><circle cx="744.9" cy="235.4" r="2.7"/><circle cx="746.7" cy="238.9" r="2.7"/><circle cx="747.3" cy="355.1" r="2.7"/><circle cx="747.1" cy="353.0" r="2.7"/><circle cx="745.4" cy="349.3" r="2.7"/><circle cx="747.1" cy="346.7" r="2.7"/><circle cx="749.2" cy="194.6" r="2.7"/><circle cx="747.8" cy="202.6" r="2.7"/><circle cx="748.4" cy="210.7" r="2.7"/><circle cx="749.1" cy="215.0" r="2.7"/><circle cx="748.9" cy="220.0" r="2.7"/><circle cx="748.4" cy="227.6" r="2.7"/><circle cx="747.8" cy="231.0" r="2.7"/><circle cx="748.3" cy="234.1" r="2.7"/><circle cx="747.7" cy="240.7" r="2.7"/><circle cx="748.1" cy="354.2" r="2.7"/><circle cx="748.8" cy="349.5" r="2.7"/><circle cx="747.9" cy="348.4" r="2.7"/><circle cx="749.2" cy="346.0" r="2.7"/><circle cx="751.7" cy="187.2" r="2.7"/><circle cx="751.5" cy="196.4" r="2.7"/><circle cx="751.6" cy="200.9" r="2.7"/><circle cx="751.4" cy="205.2" r="2.7"/><circle cx="750.3" cy="208.8" r="2.7"/><circle cx="751.2" cy="212.7" r="2.7"/><circle cx="751.1" cy="214.5" r="2.7"/><circle cx="752.4" cy="218.8" r="2.7"/><circle cx="750.9" cy="225.9" r="2.7"/><circle cx="751.6" cy="236.3" r="2.7"/><circle cx="750.7" cy="238.1" r="2.7"/><circle cx="751.7" cy="354.9" r="2.7"/><circle cx="751.9" cy="348.2" r="2.7"/><circle cx="751.8" cy="343.8" r="2.7"/><circle cx="755.1" cy="190.0" r="2.7"/><circle cx="753.0" cy="197.9" r="2.7"/><circle cx="754.2" cy="206.4" r="2.7"/><circle cx="755.1" cy="223.1" r="2.7"/><circle cx="753.4" cy="225.4" r="2.7"/><circle cx="753.6" cy="230.8" r="2.7"/><circle cx="753.7" cy="236.1" r="2.7"/><circle cx="753.0" cy="237.7" r="2.7"/><circle cx="753.4" cy="241.4" r="2.7"/><circle cx="753.0" cy="354.2" r="2.7"/><circle cx="753.2" cy="346.9" r="2.7"/><circle cx="753.0" cy="345.6" r="2.7"/><circle cx="754.9" cy="342.2" r="2.7"/><circle cx="756.8" cy="188.2" r="2.7"/><circle cx="755.4" cy="206.5" r="2.7"/><circle cx="756.7" cy="208.5" r="2.7"/><circle cx="755.9" cy="224.3" r="2.7"/><circle cx="755.6" cy="227.8" r="2.7"/><circle cx="756.9" cy="229.7" r="2.7"/><circle cx="756.3" cy="232.5" r="2.7"/><circle cx="756.3" cy="236.9" r="2.7"/><circle cx="756.4" cy="239.9" r="2.7"/><circle cx="757.3" cy="242.0" r="2.7"/><circle cx="757.7" cy="353.5" r="2.7"/><circle cx="757.6" cy="347.5" r="2.7"/><circle cx="755.3" cy="346.2" r="2.7"/><circle cx="757.5" cy="342.8" r="2.7"/><circle cx="755.3" cy="341.0" r="2.7"/><circle cx="759.2" cy="196.2" r="2.7"/><circle cx="758.9" cy="204.7" r="2.7"/><circle cx="758.7" cy="208.2" r="2.7"/><circle cx="759.3" cy="209.6" r="2.7"/><circle cx="758.3" cy="227.9" r="2.7"/><circle cx="757.9" cy="229.1" r="2.7"/><circle cx="758.9" cy="232.1" r="2.7"/><circle cx="758.3" cy="235.6" r="2.7"/><circle cx="758.0" cy="238.0" r="2.7"/><circle cx="759.5" cy="238.9" r="2.7"/><circle cx="758.3" cy="242.0" r="2.7"/><circle cx="759.8" cy="350.2" r="2.7"/><circle cx="759.8" cy="345.1" r="2.7"/><circle cx="759.7" cy="341.1" r="2.7"/><circle cx="757.9" cy="338.8" r="2.7"/><circle cx="760.5" cy="195.7" r="2.7"/><circle cx="761.3" cy="211.1" r="2.7"/><circle cx="761.7" cy="224.8" r="2.7"/><circle cx="761.7" cy="226.7" r="2.7"/><circle cx="761.3" cy="229.4" r="2.7"/><circle cx="761.1" cy="233.3" r="2.7"/><circle cx="762.9" cy="234.9" r="2.7"/><circle cx="762.4" cy="238.9" r="2.7"/><circle cx="762.3" cy="239.3" r="2.7"/><circle cx="761.6" cy="243.6" r="2.7"/><circle cx="761.7" cy="342.4" r="2.7"/><circle cx="761.4" cy="340.4" r="2.7"/><circle cx="760.5" cy="337.9" r="2.7"/><circle cx="765.2" cy="202.5" r="2.7"/><circle cx="764.7" cy="208.0" r="2.7"/><circle cx="763.9" cy="211.2" r="2.7"/><circle cx="764.9" cy="212.6" r="2.7"/><circle cx="765.4" cy="216.9" r="2.7"/><circle cx="764.6" cy="223.8" r="2.7"/><circle cx="764.8" cy="224.9" r="2.7"/><circle cx="764.6" cy="237.6" r="2.7"/><circle cx="764.9" cy="239.8" r="2.7"/><circle cx="764.2" cy="244.0" r="2.7"/><circle cx="763.2" cy="342.5" r="2.7"/><circle cx="764.5" cy="340.3" r="2.7"/><circle cx="766.6" cy="189.5" r="2.7"/><circle cx="765.9" cy="201.4" r="2.7"/><circle cx="768.0" cy="202.4" r="2.7"/><circle cx="766.7" cy="214.9" r="2.7"/><circle cx="766.3" cy="225.4" r="2.7"/><circle cx="766.0" cy="226.9" r="2.7"/><circle cx="766.1" cy="232.4" r="2.7"/><circle cx="767.9" cy="234.8" r="2.7"/><circle cx="767.2" cy="238.7" r="2.7"/><circle cx="768.0" cy="240.2" r="2.7"/><circle cx="767.0" cy="241.7" r="2.7"/><circle cx="766.9" cy="361.7" r="2.7"/><circle cx="766.5" cy="358.7" r="2.7"/><circle cx="767.7" cy="354.8" r="2.7"/><circle cx="767.7" cy="352.0" r="2.7"/><circle cx="768.5" cy="197.0" r="2.7"/><circle cx="768.3" cy="202.6" r="2.7"/><circle cx="768.2" cy="204.8" r="2.7"/><circle cx="770.0" cy="214.7" r="2.7"/><circle cx="769.7" cy="217.5" r="2.7"/><circle cx="769.9" cy="220.4" r="2.7"/><circle cx="768.2" cy="223.1" r="2.7"/><circle cx="768.3" cy="227.6" r="2.7"/><circle cx="769.9" cy="232.7" r="2.7"/><circle cx="769.5" cy="233.9" r="2.7"/><circle cx="768.9" cy="236.2" r="2.7"/><circle cx="768.7" cy="239.8" r="2.7"/><circle cx="770.1" cy="241.5" r="2.7"/><circle cx="768.8" cy="343.0" r="2.7"/><circle cx="769.1" cy="341.7" r="2.7"/><circle cx="773.2" cy="192.1" r="2.7"/><circle cx="772.2" cy="199.6" r="2.7"/><circle cx="773.2" cy="204.4" r="2.7"/><circle cx="772.1" cy="224.0" r="2.7"/><circle cx="771.8" cy="227.0" r="2.7"/><circle cx="772.9" cy="229.8" r="2.7"/><circle cx="772.6" cy="231.9" r="2.7"/><circle cx="770.9" cy="235.3" r="2.7"/><circle cx="773.0" cy="237.8" r="2.7"/><circle cx="770.9" cy="240.5" r="2.7"/><circle cx="773.0" cy="337.8" r="2.7"/><circle cx="771.0" cy="336.1" r="2.7"/><circle cx="775.3" cy="207.0" r="2.7"/><circle cx="773.6" cy="213.6" r="2.7"/><circle cx="773.9" cy="221.7" r="2.7"/><circle cx="774.4" cy="222.8" r="2.7"/><circle cx="775.8" cy="226.8" r="2.7"/><circle cx="773.6" cy="227.6" r="2.7"/><circle cx="774.4" cy="231.7" r="2.7"/><circle cx="773.8" cy="232.6" r="2.7"/><circle cx="775.2" cy="235.5" r="2.7"/><circle cx="774.7" cy="241.0" r="2.7"/><circle cx="774.1" cy="345.6" r="2.7"/><circle cx="775.9" cy="343.4" r="2.7"/><circle cx="775.1" cy="342.0" r="2.7"/><circle cx="775.2" cy="339.5" r="2.7"/><circle cx="775.3" cy="337.2" r="2.7"/><circle cx="773.9" cy="333.9" r="2.7"/><circle cx="776.2" cy="193.9" r="2.7"/><circle cx="776.8" cy="204.2" r="2.7"/><circle cx="777.5" cy="207.0" r="2.7"/><circle cx="778.5" cy="209.0" r="2.7"/><circle cx="778.6" cy="217.3" r="2.7"/><circle cx="777.5" cy="219.1" r="2.7"/><circle cx="776.9" cy="222.7" r="2.7"/><circle cx="777.4" cy="223.9" r="2.7"/><circle cx="777.2" cy="229.1" r="2.7"/><circle cx="778.1" cy="232.3" r="2.7"/><circle cx="778.5" cy="235.5" r="2.7"/><circle cx="776.4" cy="237.1" r="2.7"/><circle cx="776.1" cy="344.7" r="2.7"/><circle cx="777.0" cy="342.3" r="2.7"/><circle cx="777.0" cy="339.1" r="2.7"/><circle cx="777.9" cy="335.4" r="2.7"/><circle cx="776.0" cy="334.1" r="2.7"/><circle cx="780.6" cy="196.0" r="2.7"/><circle cx="780.3" cy="201.1" r="2.7"/><circle cx="780.3" cy="214.5" r="2.7"/><circle cx="781.1" cy="218.2" r="2.7"/><circle cx="779.9" cy="220.0" r="2.7"/><circle cx="780.2" cy="221.4" r="2.7"/><circle cx="778.6" cy="225.0" r="2.7"/><circle cx="779.5" cy="229.3" r="2.7"/><circle cx="779.4" cy="232.6" r="2.7"/><circle cx="779.4" cy="234.6" r="2.7"/><circle cx="781.0" cy="342.5" r="2.7"/><circle cx="780.2" cy="332.5" r="2.7"/><circle cx="778.9" cy="330.4" r="2.7"/><circle cx="783.1" cy="186.1" r="2.7"/><circle cx="783.4" cy="213.2" r="2.7"/><circle cx="781.3" cy="217.0" r="2.7"/><circle cx="781.3" cy="223.6" r="2.7"/><circle cx="781.2" cy="232.0" r="2.7"/><circle cx="782.6" cy="236.9" r="2.7"/><circle cx="782.7" cy="240.2" r="2.7"/><circle cx="782.0" cy="332.6" r="2.7"/><circle cx="781.8" cy="330.1" r="2.7"/><circle cx="781.6" cy="326.9" r="2.7"/><circle cx="784.3" cy="189.6" r="2.7"/><circle cx="785.7" cy="191.8" r="2.7"/><circle cx="785.3" cy="198.0" r="2.7"/><circle cx="785.1" cy="200.3" r="2.7"/><circle cx="785.2" cy="202.5" r="2.7"/><circle cx="785.3" cy="215.2" r="2.7"/><circle cx="785.7" cy="224.3" r="2.7"/><circle cx="785.7" cy="228.2" r="2.7"/><circle cx="785.1" cy="233.7" r="2.7"/><circle cx="784.1" cy="235.1" r="2.7"/><circle cx="786.3" cy="241.5" r="2.7"/><circle cx="785.3" cy="337.5" r="2.7"/><circle cx="785.1" cy="324.7" r="2.7"/><circle cx="786.7" cy="201.8" r="2.7"/><circle cx="786.7" cy="213.4" r="2.7"/><circle cx="788.3" cy="218.7" r="2.7"/><circle cx="787.8" cy="225.9" r="2.7"/><circle cx="786.6" cy="228.2" r="2.7"/><circle cx="788.8" cy="230.2" r="2.7"/><circle cx="788.9" cy="236.8" r="2.7"/><circle cx="788.0" cy="239.4" r="2.7"/><circle cx="788.8" cy="244.5" r="2.7"/><circle cx="788.8" cy="332.9" r="2.7"/><circle cx="788.4" cy="330.4" r="2.7"/><circle cx="788.1" cy="327.0" r="2.7"/><circle cx="787.4" cy="326.1" r="2.7"/><circle cx="787.0" cy="322.9" r="2.7"/><circle cx="791.2" cy="214.8" r="2.7"/><circle cx="789.3" cy="219.5" r="2.7"/><circle cx="789.9" cy="223.6" r="2.7"/><circle cx="791.4" cy="229.3" r="2.7"/><circle cx="789.4" cy="229.6" r="2.7"/><circle cx="789.8" cy="234.3" r="2.7"/><circle cx="789.4" cy="236.7" r="2.7"/><circle cx="790.7" cy="238.9" r="2.7"/><circle cx="791.0" cy="240.9" r="2.7"/><circle cx="789.0" cy="243.8" r="2.7"/><circle cx="791.0" cy="245.3" r="2.7"/><circle cx="789.1" cy="331.6" r="2.7"/><circle cx="791.0" cy="327.6" r="2.7"/><circle cx="789.5" cy="326.1" r="2.7"/><circle cx="790.4" cy="324.5" r="2.7"/><circle cx="790.4" cy="321.7" r="2.7"/><circle cx="792.8" cy="202.6" r="2.7"/><circle cx="794.1" cy="221.6" r="2.7"/><circle cx="791.8" cy="230.1" r="2.7"/><circle cx="791.6" cy="234.4" r="2.7"/><circle cx="793.6" cy="235.8" r="2.7"/><circle cx="791.7" cy="238.0" r="2.7"/><circle cx="793.1" cy="240.2" r="2.7"/><circle cx="792.6" cy="244.9" r="2.7"/><circle cx="793.1" cy="245.9" r="2.7"/><circle cx="791.6" cy="248.9" r="2.7"/><circle cx="792.5" cy="329.3" r="2.7"/><circle cx="793.9" cy="325.7" r="2.7"/><circle cx="791.7" cy="320.4" r="2.7"/><circle cx="793.2" cy="319.3" r="2.7"/><circle cx="796.0" cy="223.4" r="2.7"/><circle cx="795.6" cy="225.4" r="2.7"/><circle cx="795.4" cy="236.2" r="2.7"/><circle cx="796.4" cy="243.2" r="2.7"/><circle cx="794.2" cy="245.9" r="2.7"/><circle cx="794.9" cy="252.3" r="2.7"/><circle cx="796.6" cy="253.3" r="2.7"/><circle cx="795.3" cy="258.6" r="2.7"/><circle cx="795.3" cy="261.4" r="2.7"/><circle cx="795.7" cy="327.1" r="2.7"/><circle cx="795.2" cy="324.4" r="2.7"/><circle cx="795.8" cy="321.9" r="2.7"/><circle cx="796.6" cy="320.5" r="2.7"/><circle cx="796.1" cy="318.8" r="2.7"/><circle cx="799.4" cy="217.1" r="2.7"/><circle cx="798.7" cy="236.8" r="2.7"/><circle cx="797.8" cy="243.6" r="2.7"/><circle cx="798.8" cy="253.4" r="2.7"/><circle cx="799.2" cy="255.1" r="2.7"/><circle cx="798.7" cy="261.1" r="2.7"/><circle cx="798.3" cy="263.7" r="2.7"/><circle cx="799.2" cy="264.7" r="2.7"/><circle cx="797.0" cy="268.3" r="2.7"/><circle cx="799.0" cy="329.6" r="2.7"/><circle cx="797.3" cy="327.9" r="2.7"/><circle cx="798.4" cy="325.4" r="2.7"/><circle cx="797.2" cy="322.1" r="2.7"/><circle cx="798.6" cy="320.8" r="2.7"/><circle cx="798.3" cy="319.2" r="2.7"/><circle cx="800.8" cy="235.3" r="2.7"/><circle cx="800.2" cy="244.2" r="2.7"/><circle cx="800.3" cy="251.8" r="2.7"/><circle cx="801.7" cy="267.7" r="2.7"/><circle cx="801.0" cy="270.9" r="2.7"/><circle cx="801.0" cy="273.5" r="2.7"/><circle cx="801.3" cy="276.0" r="2.7"/><circle cx="801.9" cy="317.8" r="2.7"/><circle cx="802.4" cy="228.9" r="2.7"/><circle cx="802.1" cy="231.7" r="2.7"/><circle cx="803.3" cy="235.3" r="2.7"/><circle cx="803.3" cy="237.2" r="2.7"/><circle cx="803.2" cy="240.8" r="2.7"/><circle cx="803.6" cy="330.8" r="2.7"/><circle cx="804.6" cy="324.3" r="2.7"/><circle cx="802.7" cy="321.4" r="2.7"/><circle cx="804.0" cy="317.5" r="2.7"/><circle cx="805.0" cy="226.7" r="2.7"/><circle cx="807.2" cy="230.0" r="2.7"/><circle cx="806.2" cy="232.0" r="2.7"/><circle cx="806.8" cy="235.1" r="2.7"/><circle cx="806.2" cy="238.2" r="2.7"/><circle cx="806.6" cy="320.9" r="2.7"/><circle cx="804.9" cy="318.5" r="2.7"/><circle cx="805.2" cy="318.0" r="2.7"/><circle cx="809.7" cy="231.7" r="2.7"/><circle cx="808.5" cy="235.5" r="2.7"/><circle cx="807.7" cy="327.0" r="2.7"/><circle cx="808.2" cy="317.7" r="2.7"/><circle cx="807.7" cy="316.3" r="2.7"/><circle cx="810.8" cy="222.3" r="2.7"/><circle cx="811.0" cy="225.6" r="2.7"/><circle cx="811.9" cy="233.0" r="2.7"/><circle cx="810.9" cy="326.8" r="2.7"/><circle cx="811.6" cy="318.4" r="2.7"/><circle cx="810.0" cy="318.1" r="2.7"/><circle cx="812.9" cy="215.5" r="2.7"/><circle cx="813.4" cy="219.7" r="2.7"/><circle cx="813.9" cy="219.8" r="2.7"/><circle cx="814.3" cy="222.8" r="2.7"/><circle cx="812.6" cy="226.6" r="2.7"/><circle cx="813.9" cy="229.1" r="2.7"/><circle cx="812.9" cy="323.9" r="2.7"/><circle cx="813.2" cy="319.3" r="2.7"/><circle cx="814.2" cy="316.5" r="2.7"/><circle cx="813.4" cy="315.6" r="2.7"/><circle cx="814.5" cy="311.7" r="2.7"/><circle cx="815.0" cy="219.6" r="2.7"/><circle cx="815.2" cy="221.5" r="2.7"/><circle cx="815.5" cy="225.4" r="2.7"/><circle cx="816.7" cy="322.4" r="2.7"/><circle cx="817.1" cy="321.0" r="2.7"/><circle cx="815.6" cy="316.5" r="2.7"/><circle cx="815.0" cy="313.7" r="2.7"/><circle cx="816.5" cy="310.1" r="2.7"/><circle cx="817.9" cy="208.1" r="2.7"/><circle cx="819.1" cy="216.6" r="2.7"/><circle cx="819.6" cy="219.8" r="2.7"/><circle cx="819.5" cy="319.9" r="2.7"/><circle cx="820.0" cy="316.5" r="2.7"/><circle cx="818.6" cy="313.9" r="2.7"/><circle cx="819.1" cy="310.0" r="2.7"/><circle cx="819.1" cy="309.2" r="2.7"/><circle cx="821.5" cy="205.5" r="2.7"/><circle cx="821.6" cy="212.9" r="2.7"/><circle cx="821.2" cy="216.2" r="2.7"/><circle cx="821.4" cy="296.3" r="2.7"/><circle cx="821.0" cy="294.5" r="2.7"/><circle cx="820.5" cy="291.4" r="2.7"/><circle cx="821.0" cy="289.0" r="2.7"/><circle cx="824.6" cy="200.1" r="2.7"/><circle cx="824.0" cy="205.4" r="2.7"/><circle cx="822.8" cy="208.2" r="2.7"/><circle cx="822.9" cy="210.1" r="2.7"/><circle cx="823.5" cy="291.0" r="2.7"/><circle cx="824.6" cy="289.1" r="2.7"/><circle cx="824.6" cy="287.6" r="2.7"/><circle cx="823.7" cy="284.6" r="2.7"/><circle cx="823.9" cy="281.4" r="2.7"/><circle cx="825.8" cy="189.1" r="2.7"/><circle cx="826.7" cy="195.1" r="2.7"/><circle cx="826.7" cy="197.3" r="2.7"/><circle cx="827.9" cy="200.8" r="2.7"/><circle cx="825.4" cy="282.8" r="2.7"/><circle cx="825.7" cy="274.6" r="2.7"/><circle cx="827.9" cy="273.8" r="2.7"/><circle cx="827.0" cy="270.6" r="2.7"/><circle cx="828.1" cy="198.9" r="2.7"/><circle cx="829.2" cy="201.2" r="2.7"/><circle cx="829.0" cy="280.2" r="2.7"/><circle cx="828.5" cy="271.6" r="2.7"/><circle cx="828.4" cy="269.0" r="2.7"/><circle cx="830.9" cy="189.7" r="2.7"/><circle cx="831.1" cy="192.9" r="2.7"/><circle cx="831.2" cy="195.4" r="2.7"/><circle cx="831.6" cy="196.6" r="2.7"/><circle cx="831.6" cy="283.5" r="2.7"/><circle cx="832.4" cy="279.8" r="2.7"/><circle cx="832.3" cy="277.1" r="2.7"/><circle cx="831.5" cy="273.4" r="2.7"/><circle cx="833.5" cy="186.2" r="2.7"/><circle cx="834.8" cy="189.3" r="2.7"/><circle cx="835.6" cy="193.8" r="2.7"/><circle cx="834.3" cy="197.5" r="2.7"/><circle cx="835.4" cy="198.1" r="2.7"/><circle cx="834.1" cy="288.1" r="2.7"/><circle cx="834.0" cy="279.2" r="2.7"/><circle cx="834.3" cy="277.0" r="2.7"/><circle cx="836.3" cy="197.0" r="2.7"/><circle cx="838.0" cy="199.1" r="2.7"/><circle cx="838.1" cy="202.0" r="2.7"/><circle cx="837.5" cy="204.2" r="2.7"/><circle cx="837.8" cy="286.6" r="2.7"/><circle cx="836.9" cy="282.8" r="2.7"/><circle cx="837.9" cy="280.1" r="2.7"/><circle cx="836.6" cy="276.9" r="2.7"/><circle cx="839.9" cy="201.6" r="2.7"/><circle cx="839.9" cy="204.8" r="2.7"/><circle cx="839.1" cy="207.1" r="2.7"/><circle cx="839.7" cy="214.1" r="2.7"/><circle cx="839.4" cy="284.8" r="2.7"/><circle cx="838.8" cy="284.3" r="2.7"/><circle cx="839.0" cy="280.2" r="2.7"/><circle cx="840.2" cy="277.5" r="2.7"/><circle cx="841.8" cy="212.0" r="2.7"/><circle cx="843.5" cy="216.4" r="2.7"/><circle cx="842.5" cy="216.9" r="2.7"/><circle cx="843.2" cy="219.5" r="2.7"/><circle cx="843.5" cy="290.3" r="2.7"/><circle cx="842.2" cy="288.0" r="2.7"/><circle cx="842.6" cy="285.6" r="2.7"/><circle cx="843.3" cy="282.4" r="2.7"/><circle cx="844.0" cy="225.8" r="2.7"/><circle cx="845.2" cy="232.7" r="2.7"/><circle cx="845.9" cy="308.7" r="2.7"/><circle cx="845.7" cy="301.4" r="2.7"/><circle cx="844.1" cy="296.8" r="2.7"/><circle cx="846.3" cy="239.5" r="2.7"/><circle cx="846.5" cy="242.5" r="2.7"/><circle cx="846.7" cy="309.7" r="2.7"/><circle cx="846.9" cy="307.3" r="2.7"/><circle cx="847.1" cy="303.0" r="2.7"/><circle cx="849.2" cy="235.9" r="2.7"/><circle cx="848.8" cy="237.6" r="2.7"/><circle cx="850.3" cy="247.5" r="2.7"/><circle cx="849.8" cy="314.5" r="2.7"/><circle cx="849.6" cy="308.0" r="2.7"/><circle cx="851.5" cy="246.1" r="2.7"/><circle cx="852.8" cy="249.3" r="2.7"/><circle cx="853.5" cy="251.1" r="2.7"/><circle cx="853.8" cy="253.6" r="2.7"/><circle cx="853.4" cy="318.8" r="2.7"/><circle cx="852.4" cy="310.2" r="2.7"/><circle cx="853.9" cy="307.9" r="2.7"/><circle cx="853.8" cy="306.1" r="2.7"/><circle cx="854.2" cy="251.8" r="2.7"/><circle cx="856.4" cy="257.6" r="2.7"/><circle cx="854.2" cy="305.6" r="2.7"/><circle cx="859.0" cy="246.1" r="2.7"/><circle cx="858.3" cy="248.5" r="2.7"/><circle cx="858.2" cy="255.1" r="2.7"/><circle cx="857.4" cy="255.7" r="2.7"/><circle cx="857.1" cy="297.9" r="2.7"/><circle cx="858.0" cy="295.4" r="2.7"/><circle cx="856.8" cy="291.4" r="2.7"/><circle cx="860.0" cy="219.4" r="2.7"/><circle cx="860.5" cy="223.1" r="2.7"/><circle cx="859.5" cy="226.1" r="2.7"/><circle cx="861.5" cy="297.1" r="2.7"/><circle cx="859.8" cy="293.8" r="2.7"/><circle cx="860.8" cy="290.3" r="2.7"/><circle cx="860.5" cy="288.2" r="2.7"/><circle cx="861.7" cy="284.3" r="2.7"/><circle cx="862.8" cy="215.1" r="2.7"/><circle cx="864.1" cy="216.0" r="2.7"/><circle cx="863.9" cy="221.4" r="2.7"/><circle cx="861.9" cy="291.3" r="2.7"/><circle cx="862.3" cy="287.9" r="2.7"/><circle cx="862.8" cy="283.2" r="2.7"/><circle cx="863.3" cy="279.6" r="2.7"/><circle cx="865.0" cy="218.6" r="2.7"/><circle cx="866.9" cy="221.9" r="2.7"/><circle cx="866.8" cy="287.6" r="2.7"/><circle cx="864.8" cy="286.5" r="2.7"/><circle cx="865.3" cy="283.9" r="2.7"/><circle cx="868.1" cy="219.0" r="2.7"/><circle cx="869.5" cy="219.5" r="2.7"/><circle cx="867.8" cy="222.0" r="2.7"/><circle cx="868.2" cy="295.0" r="2.7"/><circle cx="869.0" cy="294.2" r="2.7"/><circle cx="868.1" cy="291.4" r="2.7"/><circle cx="868.0" cy="289.8" r="2.7"/><circle cx="869.3" cy="286.8" r="2.7"/><circle cx="869.8" cy="210.7" r="2.7"/><circle cx="870.6" cy="214.5" r="2.7"/><circle cx="871.7" cy="218.3" r="2.7"/><circle cx="871.5" cy="220.3" r="2.7"/><circle cx="870.5" cy="296.1" r="2.7"/><circle cx="870.1" cy="293.4" r="2.7"/><circle cx="871.0" cy="291.3" r="2.7"/><circle cx="874.0" cy="207.4" r="2.7"/><circle cx="874.4" cy="215.5" r="2.7"/><circle cx="873.4" cy="217.0" r="2.7"/><circle cx="873.6" cy="220.6" r="2.7"/><circle cx="873.6" cy="304.9" r="2.7"/><circle cx="874.0" cy="292.4" r="2.7"/><circle cx="876.0" cy="212.6" r="2.7"/><circle cx="876.1" cy="214.4" r="2.7"/><circle cx="876.7" cy="216.1" r="2.7"/><circle cx="877.2" cy="219.7" r="2.7"/><circle cx="876.5" cy="306.1" r="2.7"/><circle cx="875.3" cy="302.4" r="2.7"/><circle cx="875.5" cy="299.0" r="2.7"/><circle cx="875.8" cy="297.4" r="2.7"/><circle cx="876.0" cy="295.8" r="2.7"/><circle cx="878.5" cy="218.7" r="2.7"/><circle cx="879.4" cy="219.3" r="2.7"/><circle cx="878.5" cy="223.4" r="2.7"/><circle cx="879.5" cy="224.7" r="2.7"/><circle cx="877.4" cy="226.3" r="2.7"/><circle cx="879.2" cy="305.6" r="2.7"/><circle cx="877.6" cy="305.3" r="2.7"/><circle cx="877.6" cy="301.1" r="2.7"/><circle cx="878.1" cy="299.7" r="2.7"/><circle cx="882.0" cy="233.6" r="2.7"/><circle cx="881.7" cy="235.9" r="2.7"/><circle cx="881.4" cy="243.7" r="2.7"/><circle cx="881.9" cy="314.5" r="2.7"/><circle cx="882.2" cy="305.4" r="2.7"/><circle cx="882.4" cy="302.9" r="2.7"/><circle cx="884.6" cy="239.9" r="2.7"/><circle cx="884.0" cy="243.9" r="2.7"/><circle cx="884.3" cy="248.3" r="2.7"/><circle cx="883.1" cy="251.9" r="2.7"/><circle cx="884.5" cy="312.4" r="2.7"/><circle cx="883.6" cy="308.4" r="2.7"/><circle cx="882.9" cy="304.0" r="2.7"/><circle cx="884.1" cy="302.2" r="2.7"/><circle cx="887.5" cy="240.7" r="2.7"/><circle cx="887.2" cy="245.2" r="2.7"/><circle cx="887.2" cy="250.5" r="2.7"/><circle cx="887.7" cy="250.6" r="2.7"/><circle cx="886.8" cy="296.9" r="2.7"/><circle cx="886.6" cy="296.5" r="2.7"/><circle cx="890.2" cy="236.5" r="2.7"/><circle cx="888.3" cy="237.3" r="2.7"/><circle cx="888.7" cy="243.1" r="2.7"/><circle cx="888.6" cy="245.3" r="2.7"/><circle cx="887.9" cy="304.9" r="2.7"/><circle cx="888.1" cy="299.7" r="2.7"/><circle cx="889.0" cy="299.7" r="2.7"/><circle cx="890.1" cy="296.2" r="2.7"/><circle cx="889.6" cy="294.2" r="2.7"/><circle cx="892.5" cy="215.0" r="2.7"/><circle cx="891.6" cy="217.5" r="2.7"/><circle cx="890.6" cy="220.6" r="2.7"/><circle cx="892.6" cy="308.5" r="2.7"/><circle cx="892.1" cy="304.6" r="2.7"/><circle cx="893.0" cy="300.8" r="2.7"/><circle cx="891.9" cy="297.8" r="2.7"/><circle cx="892.1" cy="296.4" r="2.7"/><circle cx="893.6" cy="208.1" r="2.7"/><circle cx="893.6" cy="214.1" r="2.7"/><circle cx="893.8" cy="215.7" r="2.7"/><circle cx="893.7" cy="218.1" r="2.7"/><circle cx="894.3" cy="221.3" r="2.7"/><circle cx="894.4" cy="304.4" r="2.7"/><circle cx="894.5" cy="303.0" r="2.7"/><circle cx="895.4" cy="299.2" r="2.7"/><circle cx="894.3" cy="296.6" r="2.7"/><circle cx="897.0" cy="215.3" r="2.7"/><circle cx="897.9" cy="217.9" r="2.7"/><circle cx="897.1" cy="219.2" r="2.7"/><circle cx="897.2" cy="221.5" r="2.7"/><circle cx="897.8" cy="310.8" r="2.7"/><circle cx="896.2" cy="308.8" r="2.7"/><circle cx="896.9" cy="305.7" r="2.7"/><circle cx="895.6" cy="304.2" r="2.7"/><circle cx="897.0" cy="301.1" r="2.7"/><circle cx="899.2" cy="216.3" r="2.7"/><circle cx="899.1" cy="218.8" r="2.7"/><circle cx="899.8" cy="220.2" r="2.7"/><circle cx="899.5" cy="222.8" r="2.7"/><circle cx="898.4" cy="224.5" r="2.7"/><circle cx="899.9" cy="226.9" r="2.7"/><circle cx="898.3" cy="317.7" r="2.7"/><circle cx="898.6" cy="314.2" r="2.7"/><circle cx="900.0" cy="306.6" r="2.7"/><circle cx="902.4" cy="224.9" r="2.7"/><circle cx="901.3" cy="228.1" r="2.7"/><circle cx="902.3" cy="229.5" r="2.7"/><circle cx="902.4" cy="231.4" r="2.7"/><circle cx="903.2" cy="319.9" r="2.7"/><circle cx="901.8" cy="314.0" r="2.7"/><circle cx="901.2" cy="312.2" r="2.7"/><circle cx="903.2" cy="311.4" r="2.7"/><circle cx="901.1" cy="308.6" r="2.7"/><circle cx="904.3" cy="227.4" r="2.7"/><circle cx="904.1" cy="233.9" r="2.7"/><circle cx="904.7" cy="238.0" r="2.7"/><circle cx="904.0" cy="240.8" r="2.7"/><circle cx="904.6" cy="316.3" r="2.7"/><circle cx="903.9" cy="314.0" r="2.7"/><circle cx="904.7" cy="312.1" r="2.7"/><circle cx="903.9" cy="310.1" r="2.7"/><circle cx="907.7" cy="236.6" r="2.7"/><circle cx="908.3" cy="242.1" r="2.7"/><circle cx="908.2" cy="244.3" r="2.7"/><circle cx="907.7" cy="322.3" r="2.7"/><circle cx="907.0" cy="314.0" r="2.7"/><circle cx="907.3" cy="310.3" r="2.7"/><circle cx="909.2" cy="237.6" r="2.7"/><circle cx="908.7" cy="240.0" r="2.7"/><circle cx="910.8" cy="243.9" r="2.7"/><circle cx="909.6" cy="246.6" r="2.7"/><circle cx="909.1" cy="322.6" r="2.7"/><circle cx="909.6" cy="319.1" r="2.7"/><circle cx="911.1" cy="316.8" r="2.7"/><circle cx="910.9" cy="316.4" r="2.7"/><circle cx="910.2" cy="312.0" r="2.7"/><circle cx="913.0" cy="241.6" r="2.7"/><circle cx="911.9" cy="243.9" r="2.7"/><circle cx="912.2" cy="250.5" r="2.7"/><circle cx="912.1" cy="250.6" r="2.7"/><circle cx="911.5" cy="322.1" r="2.7"/><circle cx="912.9" cy="320.9" r="2.7"/><circle cx="911.6" cy="317.0" r="2.7"/><circle cx="912.1" cy="314.8" r="2.7"/><circle cx="915.4" cy="248.7" r="2.7"/><circle cx="914.0" cy="256.9" r="2.7"/><circle cx="915.3" cy="324.4" r="2.7"/><circle cx="916.3" cy="320.9" r="2.7"/><circle cx="916.1" cy="318.1" r="2.7"/><circle cx="914.0" cy="316.3" r="2.7"/><circle cx="918.5" cy="258.8" r="2.7"/><circle cx="917.4" cy="260.4" r="2.7"/><circle cx="918.4" cy="264.4" r="2.7"/><circle cx="917.9" cy="267.8" r="2.7"/><circle cx="916.5" cy="271.2" r="2.7"/><circle cx="917.7" cy="326.5" r="2.7"/><circle cx="916.6" cy="319.8" r="2.7"/><circle cx="917.5" cy="317.1" r="2.7"/><circle cx="918.7" cy="315.9" r="2.7"/><circle cx="919.4" cy="259.0" r="2.7"/><circle cx="920.8" cy="264.8" r="2.7"/><circle cx="920.0" cy="267.3" r="2.7"/><circle cx="921.2" cy="269.9" r="2.7"/><circle cx="919.1" cy="270.7" r="2.7"/><circle cx="919.5" cy="329.1" r="2.7"/><circle cx="919.1" cy="324.7" r="2.7"/><circle cx="920.3" cy="321.6" r="2.7"/><circle cx="920.7" cy="317.3" r="2.7"/><circle cx="923.2" cy="259.6" r="2.7"/><circle cx="922.1" cy="264.2" r="2.7"/><circle cx="922.2" cy="266.8" r="2.7"/><circle cx="923.0" cy="269.8" r="2.7"/><circle cx="923.9" cy="272.9" r="2.7"/><circle cx="923.1" cy="336.9" r="2.7"/><circle cx="924.0" cy="330.8" r="2.7"/><circle cx="921.8" cy="329.5" r="2.7"/><circle cx="922.6" cy="326.6" r="2.7"/><circle cx="923.8" cy="324.5" r="2.7"/><circle cx="926.0" cy="264.2" r="2.7"/><circle cx="926.3" cy="268.6" r="2.7"/><circle cx="925.8" cy="272.5" r="2.7"/><circle cx="924.3" cy="276.8" r="2.7"/><circle cx="924.6" cy="336.4" r="2.7"/><circle cx="924.5" cy="332.0" r="2.7"/><circle cx="924.5" cy="327.9" r="2.7"/><circle cx="926.9" cy="270.6" r="2.7"/><circle cx="927.1" cy="273.2" r="2.7"/><circle cx="929.2" cy="275.5" r="2.7"/><circle cx="927.2" cy="277.9" r="2.7"/><circle cx="928.0" cy="341.9" r="2.7"/><circle cx="928.0" cy="337.0" r="2.7"/><circle cx="928.2" cy="331.8" r="2.7"/><circle cx="928.8" cy="329.0" r="2.7"/><circle cx="931.4" cy="272.5" r="2.7"/><circle cx="929.8" cy="278.2" r="2.7"/><circle cx="930.2" cy="280.6" r="2.7"/><circle cx="929.6" cy="284.2" r="2.7"/><circle cx="931.8" cy="339.0" r="2.7"/><circle cx="931.0" cy="332.1" r="2.7"/><circle cx="931.6" cy="329.4" r="2.7"/><circle cx="932.9" cy="280.7" r="2.7"/><circle cx="934.5" cy="283.4" r="2.7"/><circle cx="932.9" cy="285.0" r="2.7"/><circle cx="933.5" cy="286.4" r="2.7"/><circle cx="933.3" cy="342.7" r="2.7"/><circle cx="933.6" cy="340.2" r="2.7"/><circle cx="933.7" cy="333.5" r="2.7"/><circle cx="932.9" cy="330.4" r="2.7"/><circle cx="936.1" cy="278.2" r="2.7"/><circle cx="936.3" cy="290.3" r="2.7"/><circle cx="936.1" cy="344.5" r="2.7"/><circle cx="935.0" cy="342.8" r="2.7"/><circle cx="935.5" cy="338.3" r="2.7"/><circle cx="935.7" cy="337.0" r="2.7"/><circle cx="937.0" cy="334.0" r="2.7"/><circle cx="938.7" cy="278.2" r="2.7"/><circle cx="939.5" cy="279.9" r="2.7"/><circle cx="937.5" cy="283.8" r="2.7"/><circle cx="937.7" cy="343.9" r="2.7"/><circle cx="939.1" cy="340.5" r="2.7"/><circle cx="937.3" cy="338.5" r="2.7"/><circle cx="938.8" cy="337.1" r="2.7"/><circle cx="941.0" cy="267.1" r="2.7"/><circle cx="940.6" cy="273.9" r="2.7"/><circle cx="940.5" cy="277.9" r="2.7"/><circle cx="942.3" cy="279.6" r="2.7"/><circle cx="940.6" cy="339.9" r="2.7"/><circle cx="941.2" cy="334.1" r="2.7"/><circle cx="944.0" cy="260.5" r="2.7"/><circle cx="944.5" cy="264.7" r="2.7"/><circle cx="944.9" cy="267.3" r="2.7"/><circle cx="945.0" cy="270.6" r="2.7"/><circle cx="943.2" cy="337.7" r="2.7"/><circle cx="944.0" cy="336.2" r="2.7"/><circle cx="944.0" cy="335.2" r="2.7"/><circle cx="942.4" cy="328.5" r="2.7"/><circle cx="947.5" cy="253.4" r="2.7"/><circle cx="946.1" cy="254.9" r="2.7"/><circle cx="946.1" cy="256.6" r="2.7"/><circle cx="945.7" cy="259.4" r="2.7"/><circle cx="946.7" cy="261.3" r="2.7"/><circle cx="946.9" cy="264.6" r="2.7"/><circle cx="947.2" cy="332.1" r="2.7"/><circle cx="945.0" cy="329.4" r="2.7"/><circle cx="948.8" cy="253.1" r="2.7"/><circle cx="947.9" cy="255.4" r="2.7"/><circle cx="950.1" cy="334.6" r="2.7"/><circle cx="950.0" cy="333.3" r="2.7"/><circle cx="947.7" cy="330.3" r="2.7"/><circle cx="948.7" cy="327.3" r="2.7"/><circle cx="948.5" cy="325.7" r="2.7"/><circle cx="949.7" cy="322.9" r="2.7"/><circle cx="950.9" cy="258.0" r="2.7"/><circle cx="950.5" cy="259.2" r="2.7"/><circle cx="951.4" cy="261.3" r="2.7"/><circle cx="950.9" cy="330.5" r="2.7"/><circle cx="951.1" cy="328.3" r="2.7"/><circle cx="950.3" cy="324.7" r="2.7"/><circle cx="950.6" cy="322.5" r="2.7"/><circle cx="954.6" cy="255.9" r="2.7"/><circle cx="953.5" cy="261.8" r="2.7"/><circle cx="953.9" cy="263.6" r="2.7"/><circle cx="953.8" cy="332.5" r="2.7"/><circle cx="953.8" cy="327.8" r="2.7"/><circle cx="952.9" cy="323.7" r="2.7"/><circle cx="954.4" cy="323.0" r="2.7"/><circle cx="957.3" cy="265.7" r="2.7"/><circle cx="956.9" cy="268.3" r="2.7"/><circle cx="957.6" cy="337.4" r="2.7"/><circle cx="955.5" cy="332.3" r="2.7"/><circle cx="957.7" cy="329.8" r="2.7"/><circle cx="956.3" cy="326.8" r="2.7"/><circle cx="959.4" cy="269.7" r="2.7"/><circle cx="960.0" cy="274.3" r="2.7"/><circle cx="959.1" cy="274.4" r="2.7"/><circle cx="960.5" cy="337.5" r="2.7"/><circle cx="960.1" cy="336.2" r="2.7"/><circle cx="959.2" cy="333.7" r="2.7"/><circle cx="960.0" cy="331.5" r="2.7"/><circle cx="959.5" cy="329.1" r="2.7"/><circle cx="962.8" cy="267.1" r="2.7"/><circle cx="960.9" cy="268.9" r="2.7"/><circle cx="960.9" cy="274.2" r="2.7"/><circle cx="961.8" cy="278.8" r="2.7"/><circle cx="963.0" cy="333.9" r="2.7"/><circle cx="964.4" cy="273.0" r="2.7"/><circle cx="963.3" cy="275.1" r="2.7"/><circle cx="963.3" cy="278.2" r="2.7"/><circle cx="964.5" cy="279.9" r="2.7"/><circle cx="963.3" cy="357.1" r="2.7"/><circle cx="964.7" cy="349.0" r="2.7"/><circle cx="964.1" cy="346.8" r="2.7"/><circle cx="967.9" cy="270.1" r="2.7"/><circle cx="965.9" cy="276.8" r="2.7"/><circle cx="968.3" cy="280.0" r="2.7"/><circle cx="967.3" cy="281.9" r="2.7"/><circle cx="968.4" cy="357.8" r="2.7"/><circle cx="965.8" cy="356.2" r="2.7"/><circle cx="967.6" cy="351.8" r="2.7"/><circle cx="966.4" cy="349.4" r="2.7"/><circle cx="969.8" cy="284.7" r="2.7"/><circle cx="969.5" cy="287.4" r="2.7"/><circle cx="968.4" cy="288.3" r="2.7"/><circle cx="969.5" cy="354.5" r="2.7"/><circle cx="969.7" cy="351.8" r="2.7"/><circle cx="969.8" cy="348.1" r="2.7"/><circle cx="969.2" cy="345.9" r="2.7"/><circle cx="969.0" cy="343.7" r="2.7"/><circle cx="972.8" cy="285.4" r="2.7"/><circle cx="972.2" cy="288.7" r="2.7"/><circle cx="971.5" cy="291.1" r="2.7"/><circle cx="971.8" cy="346.6" r="2.7"/><circle cx="971.1" cy="343.0" r="2.7"/><circle cx="971.9" cy="342.1" r="2.7"/><circle cx="973.5" cy="338.8" r="2.7"/><circle cx="972.5" cy="335.9" r="2.7"/><circle cx="975.9" cy="283.0" r="2.7"/><circle cx="975.8" cy="289.5" r="2.7"/><circle cx="975.3" cy="291.5" r="2.7"/><circle cx="975.6" cy="293.0" r="2.7"/><circle cx="974.1" cy="334.5" r="2.7"/><circle cx="974.5" cy="333.0" r="2.7"/><circle cx="974.8" cy="329.6" r="2.7"/><circle cx="975.9" cy="327.6" r="2.7"/><circle cx="976.4" cy="283.5" r="2.7"/><circle cx="977.2" cy="291.0" r="2.7"/><circle cx="976.7" cy="293.9" r="2.7"/><circle cx="977.1" cy="338.2" r="2.7"/><circle cx="978.6" cy="335.4" r="2.7"/><circle cx="976.4" cy="331.7" r="2.7"/><circle cx="978.6" cy="331.6" r="2.7"/><circle cx="978.3" cy="329.2" r="2.7"/><circle cx="981.2" cy="282.7" r="2.7"/><circle cx="980.0" cy="288.2" r="2.7"/><circle cx="980.4" cy="290.7" r="2.7"/><circle cx="980.8" cy="292.8" r="2.7"/><circle cx="981.4" cy="295.4" r="2.7"/><circle cx="980.9" cy="343.1" r="2.7"/><circle cx="979.8" cy="339.6" r="2.7"/><circle cx="980.4" cy="336.8" r="2.7"/><circle cx="980.5" cy="334.6" r="2.7"/><circle cx="981.2" cy="330.9" r="2.7"/><circle cx="981.5" cy="279.3" r="2.7"/><circle cx="983.1" cy="285.4" r="2.7"/><circle cx="981.5" cy="286.4" r="2.7"/><circle cx="981.8" cy="338.5" r="2.7"/><circle cx="982.6" cy="336.7" r="2.7"/><circle cx="984.4" cy="269.6" r="2.7"/><circle cx="986.2" cy="272.4" r="2.7"/><circle cx="985.7" cy="276.6" r="2.7"/><circle cx="986.5" cy="279.6" r="2.7"/><circle cx="985.1" cy="346.1" r="2.7"/><circle cx="986.3" cy="341.8" r="2.7"/><circle cx="985.8" cy="339.1" r="2.7"/><circle cx="986.0" cy="336.5" r="2.7"/><circle cx="985.7" cy="334.2" r="2.7"/><circle cx="988.2" cy="256.3" r="2.7"/><circle cx="988.5" cy="261.4" r="2.7"/><circle cx="988.1" cy="262.3" r="2.7"/><circle cx="986.8" cy="267.6" r="2.7"/><circle cx="988.2" cy="341.8" r="2.7"/><circle cx="988.3" cy="336.0" r="2.7"/><circle cx="986.9" cy="334.3" r="2.7"/><circle cx="988.2" cy="331.6" r="2.7"/><circle cx="989.9" cy="257.7" r="2.7"/><circle cx="990.9" cy="260.3" r="2.7"/><circle cx="990.5" cy="265.1" r="2.7"/><circle cx="990.0" cy="337.6" r="2.7"/><circle cx="989.8" cy="336.9" r="2.7"/><circle cx="991.4" cy="332.7" r="2.7"/><circle cx="991.4" cy="330.7" r="2.7"/><circle cx="994.3" cy="262.4" r="2.7"/><circle cx="992.7" cy="270.6" r="2.7"/><circle cx="992.6" cy="274.0" r="2.7"/><circle cx="994.2" cy="343.3" r="2.7"/><circle cx="991.9" cy="340.9" r="2.7"/><circle cx="993.8" cy="336.9" r="2.7"/><circle cx="993.7" cy="334.9" r="2.7"/><circle cx="996.5" cy="276.7" r="2.7"/><circle cx="995.4" cy="279.4" r="2.7"/><circle cx="994.9" cy="281.2" r="2.7"/><circle cx="994.8" cy="352.8" r="2.7"/><circle cx="995.3" cy="346.4" r="2.7"/><circle cx="995.7" cy="342.8" r="2.7"/><circle cx="995.6" cy="341.4" r="2.7"/><circle cx="998.6" cy="272.8" r="2.7"/><circle cx="997.3" cy="276.4" r="2.7"/><circle cx="998.7" cy="277.7" r="2.7"/><circle cx="998.9" cy="280.7" r="2.7"/><circle cx="998.8" cy="351.1" r="2.7"/><circle cx="997.7" cy="348.3" r="2.7"/><circle cx="999.1" cy="346.2" r="2.7"/><circle cx="1000.2" cy="267.1" r="2.7"/><circle cx="1001.1" cy="270.4" r="2.7"/><circle cx="1001.4" cy="272.9" r="2.7"/><circle cx="1000.5" cy="341.4" r="2.7"/><circle cx="1002.1" cy="339.5" r="2.7"/><circle cx="1000.7" cy="336.9" r="2.7"/><circle cx="1001.9" cy="335.7" r="2.7"/><circle cx="1002.0" cy="332.0" r="2.7"/><circle cx="1004.1" cy="262.0" r="2.7"/><circle cx="1004.5" cy="269.7" r="2.7"/><circle cx="1002.4" cy="272.5" r="2.7"/><circle cx="1004.3" cy="274.5" r="2.7"/><circle cx="1004.4" cy="343.5" r="2.7"/><circle cx="1002.8" cy="342.8" r="2.7"/><circle cx="1003.1" cy="336.5" r="2.7"/><circle cx="1002.7" cy="334.5" r="2.7"/><circle cx="1003.4" cy="332.9" r="2.7"/><circle cx="1006.8" cy="264.1" r="2.7"/><circle cx="1007.2" cy="265.6" r="2.7"/><circle cx="1005.9" cy="270.4" r="2.7"/><circle cx="1005.1" cy="273.0" r="2.7"/><circle cx="1004.9" cy="273.7" r="2.7"/><circle cx="1005.9" cy="344.8" r="2.7"/><circle cx="1004.9" cy="339.8" r="2.7"/><circle cx="1005.7" cy="337.7" r="2.7"/><circle cx="1005.6" cy="336.2" r="2.7"/><circle cx="1007.2" cy="332.3" r="2.7"/><circle cx="1009.6" cy="259.2" r="2.7"/><circle cx="1007.5" cy="265.9" r="2.7"/><circle cx="1008.1" cy="270.6" r="2.7"/><circle cx="1008.1" cy="271.7" r="2.7"/><circle cx="1009.9" cy="345.0" r="2.7"/><circle cx="1007.5" cy="339.4" r="2.7"/><circle cx="1009.3" cy="337.6" r="2.7"/><circle cx="1009.1" cy="336.3" r="2.7"/><circle cx="1007.7" cy="333.6" r="2.7"/><circle cx="1010.9" cy="268.3" r="2.7"/><circle cx="1011.1" cy="270.5" r="2.7"/><circle cx="1012.5" cy="344.7" r="2.7"/><circle cx="1011.4" cy="342.4" r="2.7"/><circle cx="1012.2" cy="340.2" r="2.7"/><circle cx="1011.8" cy="334.8" r="2.7"/><circle cx="1012.7" cy="259.7" r="2.7"/><circle cx="1014.2" cy="266.7" r="2.7"/><circle cx="1014.9" cy="267.7" r="2.7"/><circle cx="1013.2" cy="270.2" r="2.7"/><circle cx="1014.3" cy="340.0" r="2.7"/><circle cx="1014.1" cy="337.6" r="2.7"/><circle cx="1013.0" cy="335.3" r="2.7"/><circle cx="1013.7" cy="334.8" r="2.7"/><circle cx="1016.2" cy="263.6" r="2.7"/><circle cx="1017.3" cy="267.7" r="2.7"/><circle cx="1015.6" cy="271.0" r="2.7"/><circle cx="1016.8" cy="274.7" r="2.7"/><circle cx="1016.5" cy="275.4" r="2.7"/><circle cx="1015.9" cy="343.6" r="2.7"/><circle cx="1016.0" cy="343.5" r="2.7"/><circle cx="1015.2" cy="338.4" r="2.7"/><circle cx="1015.6" cy="334.6" r="2.7"/><circle cx="1018.2" cy="276.7" r="2.7"/><circle cx="1018.5" cy="278.6" r="2.7"/><circle cx="1019.7" cy="281.1" r="2.7"/><circle cx="1018.5" cy="350.5" r="2.7"/><circle cx="1017.8" cy="345.7" r="2.7"/><circle cx="1019.8" cy="342.5" r="2.7"/><circle cx="1019.0" cy="339.3" r="2.7"/><circle cx="1020.3" cy="337.9" r="2.7"/><circle cx="1020.7" cy="282.6" r="2.7"/><circle cx="1022.1" cy="287.0" r="2.7"/><circle cx="1021.2" cy="294.7" r="2.7"/><circle cx="1021.9" cy="352.6" r="2.7"/><circle cx="1021.9" cy="352.1" r="2.7"/><circle cx="1022.8" cy="349.7" r="2.7"/><circle cx="1022.1" cy="346.7" r="2.7"/><circle cx="1022.3" cy="344.9" r="2.7"/><circle cx="1023.1" cy="283.9" r="2.7"/><circle cx="1023.7" cy="285.1" r="2.7"/><circle cx="1024.6" cy="294.2" r="2.7"/><circle cx="1024.5" cy="356.6" r="2.7"/><circle cx="1024.4" cy="345.4" r="2.7"/><circle cx="1024.1" cy="344.8" r="2.7"/><circle cx="1026.0" cy="282.1" r="2.7"/><circle cx="1027.8" cy="283.8" r="2.7"/><circle cx="1027.0" cy="286.1" r="2.7"/><circle cx="1027.3" cy="291.5" r="2.7"/><circle cx="1026.8" cy="359.0" r="2.7"/><circle cx="1026.4" cy="351.2" r="2.7"/><circle cx="1025.8" cy="350.0" r="2.7"/><circle cx="1027.6" cy="347.0" r="2.7"/><circle cx="1029.0" cy="277.1" r="2.7"/><circle cx="1028.7" cy="282.8" r="2.7"/><circle cx="1030.3" cy="285.1" r="2.7"/><circle cx="1028.8" cy="286.9" r="2.7"/><circle cx="1030.3" cy="289.3" r="2.7"/><circle cx="1028.4" cy="357.8" r="2.7"/><circle cx="1030.3" cy="351.7" r="2.7"/><circle cx="1029.3" cy="351.6" r="2.7"/><circle cx="1028.4" cy="347.7" r="2.7"/><circle cx="1032.3" cy="290.9" r="2.7"/><circle cx="1031.0" cy="353.3" r="2.7"/><circle cx="1032.1" cy="352.3" r="2.7"/><circle cx="1032.8" cy="349.6" r="2.7"/><circle cx="1032.0" cy="347.2" r="2.7"/><circle cx="1034.2" cy="286.3" r="2.7"/><circle cx="1033.4" cy="288.0" r="2.7"/><circle cx="1034.5" cy="291.6" r="2.7"/><circle cx="1034.9" cy="355.0" r="2.7"/><circle cx="1035.9" cy="350.9" r="2.7"/><circle cx="1035.9" cy="350.1" r="2.7"/><circle cx="1035.7" cy="345.5" r="2.7"/><circle cx="1035.3" cy="343.3" r="2.7"/><circle cx="1036.8" cy="281.2" r="2.7"/><circle cx="1036.5" cy="290.9" r="2.7"/><circle cx="1037.4" cy="346.6" r="2.7"/><circle cx="1036.3" cy="346.4" r="2.7"/><circle cx="1036.4" cy="344.0" r="2.7"/><circle cx="1040.4" cy="278.4" r="2.7"/><circle cx="1039.8" cy="282.2" r="2.7"/><circle cx="1039.3" cy="284.9" r="2.7"/><circle cx="1040.7" cy="355.9" r="2.7"/><circle cx="1040.3" cy="349.5" r="2.7"/><circle cx="1039.0" cy="345.9" r="2.7"/><circle cx="1040.3" cy="344.9" r="2.7"/><circle cx="1042.5" cy="269.8" r="2.7"/><circle cx="1043.1" cy="275.2" r="2.7"/><circle cx="1042.8" cy="277.4" r="2.7"/><circle cx="1043.3" cy="278.8" r="2.7"/><circle cx="1042.2" cy="281.3" r="2.7"/><circle cx="1043.4" cy="352.5" r="2.7"/><circle cx="1043.6" cy="349.5" r="2.7"/><circle cx="1042.1" cy="347.3" r="2.7"/><circle cx="1042.0" cy="345.6" r="2.7"/><circle cx="1044.9" cy="282.0" r="2.7"/><circle cx="1045.4" cy="282.6" r="2.7"/><circle cx="1045.6" cy="286.7" r="2.7"/><circle cx="1044.7" cy="357.9" r="2.7"/><circle cx="1044.0" cy="355.3" r="2.7"/><circle cx="1045.7" cy="354.2" r="2.7"/><circle cx="1045.3" cy="351.2" r="2.7"/><circle cx="1045.2" cy="345.9" r="2.7"/><circle cx="1046.9" cy="281.1" r="2.7"/><circle cx="1048.9" cy="284.1" r="2.7"/><circle cx="1048.2" cy="291.6" r="2.7"/><circle cx="1048.9" cy="293.2" r="2.7"/><circle cx="1048.4" cy="353.3" r="2.7"/><circle cx="1048.9" cy="352.5" r="2.7"/><circle cx="1048.4" cy="349.3" r="2.7"/><circle cx="1048.9" cy="346.3" r="2.7"/><circle cx="1050.9" cy="285.4" r="2.7"/><circle cx="1050.0" cy="288.0" r="2.7"/><circle cx="1049.0" cy="297.2" r="2.7"/><circle cx="1050.3" cy="352.1" r="2.7"/><circle cx="1051.6" cy="350.8" r="2.7"/><circle cx="1051.5" cy="347.5" r="2.7"/><circle cx="1050.2" cy="346.3" r="2.7"/><circle cx="1052.7" cy="285.6" r="2.7"/><circle cx="1053.7" cy="289.8" r="2.7"/><circle cx="1052.3" cy="356.1" r="2.7"/><circle cx="1051.9" cy="355.6" r="2.7"/><circle cx="1052.8" cy="348.7" r="2.7"/><circle cx="1053.2" cy="346.7" r="2.7"/><circle cx="1055.2" cy="278.1" r="2.7"/><circle cx="1055.7" cy="280.6" r="2.7"/><circle cx="1055.3" cy="284.1" r="2.7"/><circle cx="1055.5" cy="287.8" r="2.7"/><circle cx="1056.2" cy="359.9" r="2.7"/><circle cx="1054.2" cy="351.0" r="2.7"/><circle cx="1055.9" cy="348.1" r="2.7"/><circle cx="1058.7" cy="276.3" r="2.7"/><circle cx="1059.0" cy="279.0" r="2.7"/><circle cx="1056.9" cy="281.2" r="2.7"/><circle cx="1056.8" cy="283.3" r="2.7"/><circle cx="1058.3" cy="284.7" r="2.7"/><circle cx="1056.8" cy="288.4" r="2.7"/><circle cx="1056.9" cy="368.0" r="2.7"/><circle cx="1058.3" cy="362.0" r="2.7"/><circle cx="1061.7" cy="276.9" r="2.7"/><circle cx="1060.7" cy="283.7" r="2.7"/><circle cx="1061.3" cy="287.2" r="2.7"/><circle cx="1059.6" cy="288.1" r="2.7"/><circle cx="1061.8" cy="375.6" r="2.7"/><circle cx="1059.8" cy="369.7" r="2.7"/><circle cx="1059.4" cy="368.7" r="2.7"/><circle cx="1060.8" cy="364.8" r="2.7"/><circle cx="1062.4" cy="275.7" r="2.7"/><circle cx="1062.1" cy="282.0" r="2.7"/><circle cx="1062.6" cy="284.6" r="2.7"/><circle cx="1064.2" cy="285.3" r="2.7"/><circle cx="1064.2" cy="289.1" r="2.7"/><circle cx="1064.5" cy="368.7" r="2.7"/><circle cx="1062.2" cy="366.7" r="2.7"/><circle cx="1062.0" cy="365.5" r="2.7"/><circle cx="1063.4" cy="361.5" r="2.7"/><circle cx="1064.0" cy="358.2" r="2.7"/><circle cx="1065.6" cy="274.1" r="2.7"/><circle cx="1065.2" cy="277.4" r="2.7"/><circle cx="1065.3" cy="279.2" r="2.7"/><circle cx="1066.4" cy="281.0" r="2.7"/><circle cx="1066.0" cy="283.5" r="2.7"/><circle cx="1065.7" cy="285.0" r="2.7"/><circle cx="1065.5" cy="355.4" r="2.7"/><circle cx="1064.9" cy="351.1" r="2.7"/><circle cx="1066.3" cy="349.1" r="2.7"/><circle cx="1066.8" cy="346.5" r="2.7"/><circle cx="1067.8" cy="289.9" r="2.7"/><circle cx="1069.6" cy="294.0" r="2.7"/><circle cx="1068.8" cy="361.5" r="2.7"/><circle cx="1069.1" cy="355.6" r="2.7"/><circle cx="1069.3" cy="353.7" r="2.7"/><circle cx="1067.4" cy="350.6" r="2.7"/><circle cx="1069.9" cy="293.8" r="2.7"/><circle cx="1072.1" cy="302.7" r="2.7"/><circle cx="1069.9" cy="303.8" r="2.7"/><circle cx="1070.4" cy="363.6" r="2.7"/><circle cx="1071.4" cy="358.5" r="2.7"/><circle cx="1071.5" cy="357.5" r="2.7"/><circle cx="1070.3" cy="352.0" r="2.7"/><circle cx="1072.9" cy="307.6" r="2.7"/><circle cx="1074.1" cy="308.5" r="2.7"/><circle cx="1074.6" cy="311.6" r="2.7"/><circle cx="1073.3" cy="314.1" r="2.7"/><circle cx="1074.9" cy="372.8" r="2.7"/><circle cx="1073.4" cy="370.3" r="2.7"/><circle cx="1074.5" cy="366.3" r="2.7"/><circle cx="1074.2" cy="361.0" r="2.7"/><circle cx="1076.2" cy="306.5" r="2.7"/><circle cx="1077.4" cy="311.8" r="2.7"/><circle cx="1077.2" cy="312.6" r="2.7"/><circle cx="1076.8" cy="316.3" r="2.7"/><circle cx="1076.6" cy="376.7" r="2.7"/><circle cx="1076.5" cy="371.5" r="2.7"/><circle cx="1076.9" cy="369.2" r="2.7"/><circle cx="1077.7" cy="312.5" r="2.7"/><circle cx="1078.8" cy="314.7" r="2.7"/><circle cx="1077.9" cy="318.1" r="2.7"/><circle cx="1078.8" cy="387.1" r="2.7"/><circle cx="1080.0" cy="381.9" r="2.7"/><circle cx="1081.0" cy="310.0" r="2.7"/><circle cx="1082.1" cy="312.7" r="2.7"/><circle cx="1081.3" cy="313.6" r="2.7"/><circle cx="1080.3" cy="316.6" r="2.7"/><circle cx="1082.3" cy="393.4" r="2.7"/><circle cx="1082.2" cy="384.9" r="2.7"/><circle cx="1083.0" cy="304.0" r="2.7"/><circle cx="1084.1" cy="311.4" r="2.7"/><circle cx="1083.3" cy="312.9" r="2.7"/><circle cx="1084.1" cy="315.4" r="2.7"/><circle cx="1084.7" cy="397.8" r="2.7"/><circle cx="1085.1" cy="395.7" r="2.7"/><circle cx="1083.5" cy="391.3" r="2.7"/><circle cx="1083.6" cy="390.0" r="2.7"/><circle cx="1086.5" cy="308.1" r="2.7"/><circle cx="1087.2" cy="308.3" r="2.7"/><circle cx="1086.6" cy="310.9" r="2.7"/><circle cx="1087.7" cy="313.4" r="2.7"/><circle cx="1086.0" cy="398.8" r="2.7"/><circle cx="1085.5" cy="390.5" r="2.7"/><circle cx="1087.0" cy="387.5" r="2.7"/><circle cx="1088.1" cy="301.9" r="2.7"/><circle cx="1090.1" cy="306.5" r="2.7"/><circle cx="1088.5" cy="309.0" r="2.7"/><circle cx="1090.5" cy="393.7" r="2.7"/><circle cx="1089.9" cy="391.7" r="2.7"/><circle cx="1088.1" cy="388.5" r="2.7"/><circle cx="1090.0" cy="385.8" r="2.7"/><circle cx="1092.8" cy="291.4" r="2.7"/><circle cx="1093.2" cy="296.6" r="2.7"/><circle cx="1091.1" cy="299.2" r="2.7"/><circle cx="1090.7" cy="300.6" r="2.7"/><circle cx="1092.2" cy="302.7" r="2.7"/><circle cx="1090.6" cy="380.2" r="2.7"/><circle cx="1090.8" cy="378.5" r="2.7"/><circle cx="1094.1" cy="290.8" r="2.7"/><circle cx="1094.6" cy="295.4" r="2.7"/><circle cx="1094.8" cy="299.5" r="2.7"/><circle cx="1093.3" cy="300.0" r="2.7"/><circle cx="1093.3" cy="304.1" r="2.7"/><circle cx="1094.6" cy="381.0" r="2.7"/><circle cx="1094.8" cy="378.1" r="2.7"/><circle cx="1094.5" cy="376.4" r="2.7"/><circle cx="1094.8" cy="373.2" r="2.7"/><circle cx="1095.4" cy="370.7" r="2.7"/><circle cx="1096.2" cy="300.2" r="2.7"/><circle cx="1095.8" cy="303.1" r="2.7"/><circle cx="1097.7" cy="370.8" r="2.7"/><circle cx="1098.3" cy="369.0" r="2.7"/><circle cx="1096.3" cy="366.3" r="2.7"/><circle cx="1098.9" cy="292.3" r="2.7"/><circle cx="1098.7" cy="295.5" r="2.7"/><circle cx="1100.2" cy="301.0" r="2.7"/><circle cx="1100.5" cy="303.3" r="2.7"/><circle cx="1099.9" cy="371.8" r="2.7"/><circle cx="1099.3" cy="368.4" r="2.7"/><circle cx="1100.0" cy="367.7" r="2.7"/><circle cx="1103.0" cy="298.7" r="2.7"/><circle cx="1103.4" cy="303.6" r="2.7"/><circle cx="1103.4" cy="305.7" r="2.7"/><circle cx="1101.7" cy="377.4" r="2.7"/><circle cx="1101.4" cy="373.1" r="2.7"/><circle cx="1101.2" cy="368.3" r="2.7"/><circle cx="1102.5" cy="365.4" r="2.7"/><circle cx="1103.8" cy="302.2" r="2.7"/><circle cx="1105.0" cy="306.9" r="2.7"/><circle cx="1106.0" cy="308.8" r="2.7"/><circle cx="1104.3" cy="377.9" r="2.7"/><circle cx="1104.2" cy="370.1" r="2.7"/><circle cx="1105.7" cy="368.6" r="2.7"/><circle cx="1104.9" cy="366.9" r="2.7"/><circle cx="1107.4" cy="301.4" r="2.7"/><circle cx="1107.0" cy="302.2" r="2.7"/><circle cx="1107.7" cy="307.0" r="2.7"/><circle cx="1108.4" cy="313.2" r="2.7"/><circle cx="1106.5" cy="380.2" r="2.7"/><circle cx="1106.9" cy="375.2" r="2.7"/><circle cx="1108.6" cy="368.7" r="2.7"/><circle cx="1108.8" cy="304.4" r="2.7"/><circle cx="1110.6" cy="307.5" r="2.7"/><circle cx="1109.1" cy="310.6" r="2.7"/><circle cx="1111.2" cy="314.0" r="2.7"/><circle cx="1111.1" cy="381.4" r="2.7"/><circle cx="1110.4" cy="378.2" r="2.7"/><circle cx="1110.7" cy="375.2" r="2.7"/><circle cx="1111.2" cy="372.1" r="2.7"/><circle cx="1110.3" cy="370.2" r="2.7"/><circle cx="1111.4" cy="304.3" r="2.7"/><circle cx="1112.4" cy="312.1" r="2.7"/><circle cx="1112.0" cy="317.2" r="2.7"/><circle cx="1111.9" cy="383.3" r="2.7"/><circle cx="1112.5" cy="382.7" r="2.7"/><circle cx="1112.3" cy="380.4" r="2.7"/><circle cx="1113.8" cy="375.5" r="2.7"/><circle cx="1116.5" cy="306.4" r="2.7"/><circle cx="1114.3" cy="313.6" r="2.7"/><circle cx="1115.7" cy="316.2" r="2.7"/><circle cx="1115.8" cy="388.6" r="2.7"/><circle cx="1116.3" cy="378.8" r="2.7"/><circle cx="1118.1" cy="308.2" r="2.7"/><circle cx="1117.4" cy="310.3" r="2.7"/><circle cx="1117.2" cy="311.2" r="2.7"/><circle cx="1116.9" cy="382.3" r="2.7"/><circle cx="1121.7" cy="296.3" r="2.7"/><circle cx="1120.3" cy="301.7" r="2.7"/><circle cx="1120.7" cy="304.2" r="2.7"/><circle cx="1120.7" cy="305.9" r="2.7"/><circle cx="1119.6" cy="397.9" r="2.7"/><circle cx="1121.4" cy="390.1" r="2.7"/><circle cx="1121.6" cy="388.9" r="2.7"/><circle cx="1121.1" cy="386.2" r="2.7"/><circle cx="1122.7" cy="291.2" r="2.7"/><circle cx="1123.1" cy="295.8" r="2.7"/><circle cx="1123.6" cy="298.8" r="2.7"/><circle cx="1123.9" cy="301.1" r="2.7"/><circle cx="1122.4" cy="303.4" r="2.7"/><circle cx="1123.6" cy="391.2" r="2.7"/><circle cx="1122.7" cy="388.3" r="2.7"/><circle cx="1122.4" cy="385.4" r="2.7"/><circle cx="1121.9" cy="383.2" r="2.7"/><circle cx="1124.7" cy="294.6" r="2.7"/><circle cx="1125.6" cy="299.8" r="2.7"/><circle cx="1126.2" cy="300.6" r="2.7"/><circle cx="1126.9" cy="302.3" r="2.7"/><circle cx="1126.5" cy="304.6" r="2.7"/><circle cx="1126.7" cy="386.9" r="2.7"/><circle cx="1125.4" cy="381.3" r="2.7"/><circle cx="1126.0" cy="379.4" r="2.7"/><circle cx="1127.9" cy="304.3" r="2.7"/><circle cx="1127.8" cy="306.4" r="2.7"/><circle cx="1128.5" cy="389.8" r="2.7"/><circle cx="1127.3" cy="387.8" r="2.7"/><circle cx="1129.5" cy="381.1" r="2.7"/><circle cx="1127.9" cy="379.7" r="2.7"/><circle cx="1130.6" cy="300.0" r="2.7"/><circle cx="1132.0" cy="303.4" r="2.7"/><circle cx="1130.0" cy="305.0" r="2.7"/><circle cx="1130.6" cy="307.4" r="2.7"/><circle cx="1131.3" cy="308.2" r="2.7"/><circle cx="1131.1" cy="385.9" r="2.7"/><circle cx="1131.5" cy="384.1" r="2.7"/><circle cx="1133.3" cy="301.2" r="2.7"/><circle cx="1132.2" cy="303.9" r="2.7"/><circle cx="1133.4" cy="305.3" r="2.7"/><circle cx="1133.6" cy="308.5" r="2.7"/><circle cx="1134.1" cy="311.5" r="2.7"/><circle cx="1134.0" cy="398.9" r="2.7"/><circle cx="1133.0" cy="398.3" r="2.7"/><circle cx="1133.6" cy="395.6" r="2.7"/><circle cx="1133.1" cy="393.7" r="2.7"/><circle cx="1134.7" cy="390.2" r="2.7"/><circle cx="1134.0" cy="387.0" r="2.7"/><circle cx="1134.9" cy="306.3" r="2.7"/><circle cx="1135.8" cy="309.9" r="2.7"/><circle cx="1135.3" cy="312.9" r="2.7"/><circle cx="1137.2" cy="313.8" r="2.7"/><circle cx="1135.3" cy="391.5" r="2.7"/><circle cx="1136.2" cy="388.9" r="2.7"/><circle cx="1137.3" cy="386.5" r="2.7"/><circle cx="1137.5" cy="316.7" r="2.7"/><circle cx="1139.2" cy="323.9" r="2.7"/><circle cx="1138.7" cy="327.2" r="2.7"/><circle cx="1139.6" cy="328.0" r="2.7"/><circle cx="1138.2" cy="381.9" r="2.7"/><circle cx="1138.0" cy="377.9" r="2.7"/><circle cx="1142.1" cy="323.0" r="2.7"/><circle cx="1142.5" cy="328.1" r="2.7"/><circle cx="1140.6" cy="377.6" r="2.7"/><circle cx="1142.4" cy="375.8" r="2.7"/><circle cx="1141.5" cy="371.8" r="2.7"/><circle cx="1143.0" cy="316.8" r="2.7"/><circle cx="1144.4" cy="319.9" r="2.7"/><circle cx="1143.6" cy="326.4" r="2.7"/><circle cx="1144.0" cy="377.4" r="2.7"/><circle cx="1143.4" cy="370.0" r="2.7"/><circle cx="1143.8" cy="367.2" r="2.7"/><circle cx="1143.4" cy="366.4" r="2.7"/><circle cx="1145.5" cy="314.3" r="2.7"/><circle cx="1147.4" cy="317.6" r="2.7"/><circle cx="1147.7" cy="321.9" r="2.7"/><circle cx="1146.1" cy="370.0" r="2.7"/><circle cx="1146.3" cy="368.9" r="2.7"/><circle cx="1147.1" cy="359.2" r="2.7"/><circle cx="1150.3" cy="315.5" r="2.7"/><circle cx="1150.0" cy="315.8" r="2.7"/><circle cx="1147.9" cy="318.0" r="2.7"/><circle cx="1149.6" cy="320.5" r="2.7"/><circle cx="1147.8" cy="368.9" r="2.7"/><circle cx="1148.5" cy="365.0" r="2.7"/><circle cx="1149.0" cy="360.9" r="2.7"/><circle cx="1152.9" cy="313.5" r="2.7"/><circle cx="1153.0" cy="316.5" r="2.7"/><circle cx="1150.7" cy="319.4" r="2.7"/><circle cx="1150.9" cy="382.6" r="2.7"/><circle cx="1151.8" cy="379.2" r="2.7"/><circle cx="1152.6" cy="378.1" r="2.7"/><circle cx="1152.8" cy="374.7" r="2.7"/><circle cx="1152.1" cy="373.3" r="2.7"/><circle cx="1151.5" cy="371.1" r="2.7"/><circle cx="1154.4" cy="310.8" r="2.7"/><circle cx="1154.4" cy="312.3" r="2.7"/><circle cx="1155.4" cy="314.4" r="2.7"/><circle cx="1154.5" cy="318.6" r="2.7"/><circle cx="1153.7" cy="321.2" r="2.7"/><circle cx="1153.8" cy="383.6" r="2.7"/><circle cx="1154.7" cy="382.7" r="2.7"/><circle cx="1153.0" cy="381.3" r="2.7"/><circle cx="1154.7" cy="377.8" r="2.7"/><circle cx="1153.9" cy="375.3" r="2.7"/><circle cx="1156.9" cy="314.8" r="2.7"/><circle cx="1157.4" cy="317.5" r="2.7"/><circle cx="1157.2" cy="319.6" r="2.7"/><circle cx="1156.5" cy="385.9" r="2.7"/><circle cx="1156.7" cy="382.9" r="2.7"/><circle cx="1157.8" cy="380.4" r="2.7"/><circle cx="1156.8" cy="376.3" r="2.7"/><circle cx="1158.0" cy="374.2" r="2.7"/><circle cx="1159.8" cy="322.7" r="2.7"/><circle cx="1159.5" cy="382.5" r="2.7"/><circle cx="1159.0" cy="379.9" r="2.7"/><circle cx="1159.8" cy="374.2" r="2.7"/><circle cx="1160.6" cy="372.7" r="2.7"/><circle cx="1160.9" cy="317.9" r="2.7"/><circle cx="1161.4" cy="320.0" r="2.7"/><circle cx="1160.8" cy="323.0" r="2.7"/><circle cx="1162.1" cy="324.6" r="2.7"/><circle cx="1162.2" cy="376.0" r="2.7"/><circle cx="1161.9" cy="370.8" r="2.7"/><circle cx="1164.3" cy="318.4" r="2.7"/><circle cx="1163.8" cy="320.9" r="2.7"/><circle cx="1165.9" cy="325.9" r="2.7"/><circle cx="1165.4" cy="375.4" r="2.7"/><circle cx="1165.4" cy="374.5" r="2.7"/><circle cx="1166.9" cy="313.6" r="2.7"/><circle cx="1168.4" cy="317.0" r="2.7"/><circle cx="1167.6" cy="317.9" r="2.7"/><circle cx="1168.4" cy="320.7" r="2.7"/><circle cx="1167.3" cy="322.4" r="2.7"/><circle cx="1168.4" cy="324.8" r="2.7"/><circle cx="1167.6" cy="383.6" r="2.7"/><circle cx="1166.0" cy="383.5" r="2.7"/><circle cx="1168.5" cy="380.0" r="2.7"/><circle cx="1168.0" cy="376.0" r="2.7"/><circle cx="1169.5" cy="313.2" r="2.7"/><circle cx="1169.3" cy="324.7" r="2.7"/><circle cx="1170.8" cy="326.5" r="2.7"/><circle cx="1169.8" cy="390.3" r="2.7"/><circle cx="1168.6" cy="383.8" r="2.7"/><circle cx="1170.4" cy="381.5" r="2.7"/><circle cx="1170.6" cy="378.7" r="2.7"/><circle cx="1171.9" cy="319.3" r="2.7"/><circle cx="1171.8" cy="323.1" r="2.7"/><circle cx="1171.4" cy="323.7" r="2.7"/><circle cx="1172.8" cy="326.0" r="2.7"/><circle cx="1172.6" cy="388.2" r="2.7"/><circle cx="1172.7" cy="387.0" r="2.7"/><circle cx="1173.3" cy="384.8" r="2.7"/><circle cx="1173.1" cy="381.4" r="2.7"/><circle cx="1171.5" cy="379.8" r="2.7"/><circle cx="1172.6" cy="377.9" r="2.7"/><circle cx="1174.4" cy="318.5" r="2.7"/><circle cx="1174.2" cy="325.0" r="2.7"/><circle cx="1174.7" cy="327.4" r="2.7"/><circle cx="1176.2" cy="379.3" r="2.7"/><circle cx="1178.1" cy="322.8" r="2.7"/><circle cx="1178.8" cy="325.0" r="2.7"/><circle cx="1178.4" cy="327.8" r="2.7"/><circle cx="1177.8" cy="331.4" r="2.7"/><circle cx="1178.3" cy="386.0" r="2.7"/><circle cx="1177.1" cy="382.5" r="2.7"/><circle cx="1177.8" cy="379.7" r="2.7"/><circle cx="1177.1" cy="378.2" r="2.7"/><circle cx="1181.3" cy="319.8" r="2.7"/><circle cx="1179.1" cy="322.0" r="2.7"/><circle cx="1179.4" cy="323.7" r="2.7"/><circle cx="1180.1" cy="328.3" r="2.7"/><circle cx="1180.4" cy="329.1" r="2.7"/><circle cx="1181.3" cy="332.7" r="2.7"/><circle cx="1180.2" cy="392.1" r="2.7"/><circle cx="1180.3" cy="388.9" r="2.7"/><circle cx="1179.9" cy="388.1" r="2.7"/><circle cx="1181.5" cy="385.0" r="2.7"/><circle cx="1179.1" cy="383.9" r="2.7"/><circle cx="1179.7" cy="381.6" r="2.7"/><circle cx="1184.1" cy="329.1" r="2.7"/><circle cx="1181.7" cy="330.8" r="2.7"/><circle cx="1183.7" cy="392.8" r="2.7"/><circle cx="1182.3" cy="386.4" r="2.7"/><circle cx="1186.4" cy="319.4" r="2.7"/><circle cx="1185.5" cy="327.2" r="2.7"/><circle cx="1186.2" cy="331.2" r="2.7"/><circle cx="1184.2" cy="397.9" r="2.7"/><circle cx="1185.6" cy="393.5" r="2.7"/><circle cx="1185.6" cy="388.4" r="2.7"/><circle cx="1185.7" cy="385.4" r="2.7"/><circle cx="1187.2" cy="318.0" r="2.7"/><circle cx="1188.3" cy="321.3" r="2.7"/><circle cx="1187.5" cy="325.9" r="2.7"/><circle cx="1187.6" cy="328.4" r="2.7"/><circle cx="1187.7" cy="329.4" r="2.7"/><circle cx="1188.9" cy="391.6" r="2.7"/><circle cx="1189.0" cy="387.9" r="2.7"/><circle cx="1187.6" cy="385.9" r="2.7"/><circle cx="1188.7" cy="382.9" r="2.7"/><circle cx="1189.9" cy="331.9" r="2.7"/><circle cx="1191.4" cy="383.7" r="2.7"/><circle cx="1191.9" cy="379.6" r="2.7"/><circle cx="1193.6" cy="323.1" r="2.7"/><circle cx="1192.4" cy="328.0" r="2.7"/><circle cx="1194.2" cy="328.2" r="2.7"/><circle cx="1193.1" cy="332.3" r="2.7"/><circle cx="1193.9" cy="386.9" r="2.7"/><circle cx="1193.4" cy="384.2" r="2.7"/><circle cx="1194.2" cy="384.1" r="2.7"/><circle cx="1193.6" cy="381.4" r="2.7"/><circle cx="1196.0" cy="323.1" r="2.7"/><circle cx="1195.0" cy="324.6" r="2.7"/><circle cx="1197.0" cy="330.6" r="2.7"/><circle cx="1195.4" cy="393.0" r="2.7"/><circle cx="1195.5" cy="392.0" r="2.7"/><circle cx="1195.3" cy="390.1" r="2.7"/><circle cx="1194.8" cy="387.5" r="2.7"/><circle cx="1197.2" cy="382.2" r="2.7"/><circle cx="1198.9" cy="321.5" r="2.7"/><circle cx="1198.5" cy="327.1" r="2.7"/><circle cx="1199.4" cy="328.6" r="2.7"/><circle cx="1199.1" cy="331.9" r="2.7"/><circle cx="1198.3" cy="395.2" r="2.7"/><circle cx="1199.4" cy="386.7" r="2.7"/><circle cx="1198.8" cy="385.5" r="2.7"/><circle cx="1202.0" cy="321.8" r="2.7"/><circle cx="1200.6" cy="327.8" r="2.7"/><circle cx="1201.1" cy="331.3" r="2.7"/><circle cx="1202.0" cy="332.8" r="2.7"/><circle cx="1200.2" cy="398.5" r="2.7"/><circle cx="1200.5" cy="388.3" r="2.7"/><circle cx="1203.9" cy="331.6" r="2.7"/><circle cx="1203.7" cy="334.4" r="2.7"/><circle cx="1203.6" cy="395.1" r="2.7"/><circle cx="1205.0" cy="392.4" r="2.7"/><circle cx="1202.5" cy="388.0" r="2.7"/><circle cx="1205.9" cy="320.9" r="2.7"/><circle cx="1207.0" cy="331.7" r="2.7"/><circle cx="1207.1" cy="333.7" r="2.7"/><circle cx="1205.2" cy="394.9" r="2.7"/><circle cx="1206.4" cy="390.9" r="2.7"/><circle cx="1206.2" cy="389.1" r="2.7"/><circle cx="1205.1" cy="386.7" r="2.7"/><circle cx="1208.4" cy="325.2" r="2.7"/><circle cx="1209.5" cy="327.8" r="2.7"/><circle cx="1210.0" cy="329.6" r="2.7"/><circle cx="1208.0" cy="332.1" r="2.7"/><circle cx="1208.9" cy="332.9" r="2.7"/><circle cx="1208.7" cy="396.7" r="2.7"/><circle cx="1210.1" cy="389.6" r="2.7"/><circle cx="1209.8" cy="387.6" r="2.7"/><circle cx="1207.8" cy="385.3" r="2.7"/><circle cx="1211.7" cy="323.8" r="2.7"/><circle cx="1211.4" cy="326.7" r="2.7"/><circle cx="1211.5" cy="329.4" r="2.7"/><circle cx="1212.1" cy="331.6" r="2.7"/><circle cx="1210.2" cy="332.5" r="2.7"/><circle cx="1211.3" cy="397.1" r="2.7"/><circle cx="1212.5" cy="390.9" r="2.7"/><circle cx="1211.0" cy="388.8" r="2.7"/><circle cx="1211.2" cy="387.0" r="2.7"/><circle cx="1212.6" cy="383.9" r="2.7"/><circle cx="1215.3" cy="321.4" r="2.7"/><circle cx="1214.9" cy="329.1" r="2.7"/><circle cx="1213.7" cy="331.2" r="2.7"/><circle cx="1213.8" cy="334.6" r="2.7"/><circle cx="1215.0" cy="398.8" r="2.7"/><circle cx="1214.6" cy="391.1" r="2.7"/><circle cx="1214.6" cy="385.6" r="2.7"/><circle cx="1217.9" cy="334.6" r="2.7"/><circle cx="1216.1" cy="392.7" r="2.7"/><circle cx="1216.0" cy="389.7" r="2.7"/><circle cx="1218.4" cy="321.5" r="2.7"/><circle cx="1218.1" cy="326.8" r="2.7"/><circle cx="1220.2" cy="328.2" r="2.7"/><circle cx="1218.3" cy="334.1" r="2.7"/><circle cx="1219.2" cy="398.4" r="2.7"/><circle cx="1219.5" cy="396.5" r="2.7"/><circle cx="1219.2" cy="392.0" r="2.7"/><circle cx="1220.7" cy="335.3" r="2.7"/><circle cx="1221.6" cy="398.6" r="2.7"/><circle cx="1222.1" cy="395.7" r="2.7"/><circle cx="1220.7" cy="387.8" r="2.7"/><circle cx="1221.6" cy="385.6" r="2.7"/><circle cx="1223.2" cy="324.7" r="2.7"/><circle cx="1223.6" cy="327.3" r="2.7"/><circle cx="1225.4" cy="329.6" r="2.7"/><circle cx="1224.8" cy="332.2" r="2.7"/><circle cx="1223.5" cy="334.6" r="2.7"/><circle cx="1224.4" cy="337.8" r="2.7"/><circle cx="1224.5" cy="390.1" r="2.7"/><circle cx="1225.2" cy="386.5" r="2.7"/><circle cx="1223.7" cy="384.8" r="2.7"/><circle cx="1223.5" cy="381.4" r="2.7"/><circle cx="1227.0" cy="329.0" r="2.7"/><circle cx="1227.1" cy="330.3" r="2.7"/><circle cx="1227.4" cy="332.5" r="2.7"/><circle cx="1228.3" cy="336.1" r="2.7"/><circle cx="1228.0" cy="338.6" r="2.7"/><circle cx="1226.6" cy="391.0" r="2.7"/><circle cx="1227.1" cy="388.2" r="2.7"/><circle cx="1226.8" cy="386.7" r="2.7"/><circle cx="1225.9" cy="384.1" r="2.7"/><circle cx="1226.6" cy="382.3" r="2.7"/><circle cx="1226.0" cy="379.3" r="2.7"/><circle cx="1229.7" cy="323.8" r="2.7"/><circle cx="1230.6" cy="324.5" r="2.7"/><circle cx="1230.0" cy="328.2" r="2.7"/><circle cx="1230.7" cy="332.3" r="2.7"/><circle cx="1230.4" cy="334.3" r="2.7"/><circle cx="1229.6" cy="381.5" r="2.7"/><circle cx="1229.2" cy="380.7" r="2.7"/><circle cx="1228.9" cy="379.1" r="2.7"/><circle cx="1232.0" cy="326.7" r="2.7"/><circle cx="1232.3" cy="332.9" r="2.7"/><circle cx="1231.5" cy="387.2" r="2.7"/><circle cx="1231.5" cy="382.8" r="2.7"/><circle cx="1231.7" cy="381.3" r="2.7"/><circle cx="1233.4" cy="376.7" r="2.7"/><circle cx="1235.0" cy="320.4" r="2.7"/><circle cx="1233.9" cy="331.2" r="2.7"/><circle cx="1233.8" cy="332.1" r="2.7"/><circle cx="1233.6" cy="385.0" r="2.7"/><circle cx="1235.2" cy="382.5" r="2.7"/><circle cx="1233.9" cy="378.1" r="2.7"/><circle cx="1234.9" cy="375.2" r="2.7"/><circle cx="1233.7" cy="374.4" r="2.7"/><circle cx="1237.7" cy="325.6" r="2.7"/><circle cx="1237.6" cy="331.6" r="2.7"/><circle cx="1236.6" cy="335.2" r="2.7"/><circle cx="1236.2" cy="379.1" r="2.7"/><circle cx="1237.3" cy="374.4" r="2.7"/><circle cx="1237.0" cy="371.9" r="2.7"/><circle cx="1237.9" cy="371.4" r="2.7"/><circle cx="1240.1" cy="332.8" r="2.7"/><circle cx="1240.8" cy="334.5" r="2.7"/><circle cx="1240.3" cy="336.3" r="2.7"/><circle cx="1240.2" cy="383.0" r="2.7"/><circle cx="1241.2" cy="376.3" r="2.7"/><circle cx="1240.8" cy="375.5" r="2.7"/><circle cx="1240.2" cy="372.6" r="2.7"/><circle cx="1240.8" cy="371.4" r="2.7"/><circle cx="1241.7" cy="330.7" r="2.7"/><circle cx="1243.1" cy="332.7" r="2.7"/><circle cx="1243.7" cy="335.6" r="2.7"/><circle cx="1243.1" cy="338.4" r="2.7"/><circle cx="1241.4" cy="380.6" r="2.7"/><circle cx="1243.2" cy="377.4" r="2.7"/><circle cx="1242.3" cy="376.4" r="2.7"/><circle cx="1244.8" cy="324.2" r="2.7"/><circle cx="1245.0" cy="328.4" r="2.7"/><circle cx="1244.7" cy="330.5" r="2.7"/><circle cx="1244.6" cy="333.5" r="2.7"/><circle cx="1246.3" cy="336.2" r="2.7"/><circle cx="1244.4" cy="381.3" r="2.7"/><circle cx="1246.0" cy="378.7" r="2.7"/><circle cx="1247.6" cy="327.6" r="2.7"/><circle cx="1248.3" cy="327.9" r="2.7"/><circle cx="1247.5" cy="333.5" r="2.7"/><circle cx="1248.0" cy="336.3" r="2.7"/><circle cx="1248.6" cy="393.4" r="2.7"/><circle cx="1248.9" cy="387.2" r="2.7"/><circle cx="1248.5" cy="384.6" r="2.7"/><circle cx="1248.2" cy="382.5" r="2.7"/><circle cx="1246.9" cy="381.6" r="2.7"/><circle cx="1250.9" cy="329.3" r="2.7"/><circle cx="1251.7" cy="332.1" r="2.7"/><circle cx="1251.1" cy="335.5" r="2.7"/><circle cx="1251.2" cy="388.2" r="2.7"/><circle cx="1249.6" cy="384.8" r="2.7"/><circle cx="1251.0" cy="383.0" r="2.7"/><circle cx="1252.2" cy="328.3" r="2.7"/><circle cx="1253.0" cy="329.6" r="2.7"/><circle cx="1253.9" cy="334.1" r="2.7"/><circle cx="1253.5" cy="336.6" r="2.7"/><circle cx="1253.8" cy="391.4" r="2.7"/><circle cx="1253.1" cy="389.2" r="2.7"/><circle cx="1251.9" cy="387.8" r="2.7"/><circle cx="1256.0" cy="326.4" r="2.7"/><circle cx="1254.7" cy="329.4" r="2.7"/><circle cx="1256.3" cy="337.7" r="2.7"/><circle cx="1255.9" cy="338.8" r="2.7"/><circle cx="1256.0" cy="403.0" r="2.7"/><circle cx="1254.7" cy="398.4" r="2.7"/><circle cx="1255.6" cy="395.6" r="2.7"/><circle cx="1258.8" cy="333.4" r="2.7"/><circle cx="1259.3" cy="335.2" r="2.7"/><circle cx="1259.5" cy="337.1" r="2.7"/><circle cx="1258.0" cy="339.0" r="2.7"/><circle cx="1257.4" cy="409.0" r="2.7"/><circle cx="1258.4" cy="406.3" r="2.7"/><circle cx="1259.1" cy="401.6" r="2.7"/><circle cx="1260.5" cy="326.0" r="2.7"/><circle cx="1260.2" cy="331.5" r="2.7"/><circle cx="1259.6" cy="335.1" r="2.7"/><circle cx="1261.5" cy="336.7" r="2.7"/><circle cx="1260.1" cy="395.5" r="2.7"/><circle cx="1260.7" cy="391.0" r="2.7"/><circle cx="1261.5" cy="385.4" r="2.7"/><circle cx="1261.1" cy="383.7" r="2.7"/><circle cx="1262.7" cy="331.3" r="2.7"/><circle cx="1263.5" cy="333.2" r="2.7"/><circle cx="1264.0" cy="393.5" r="2.7"/><circle cx="1264.0" cy="388.7" r="2.7"/><circle cx="1264.2" cy="385.1" r="2.7"/><circle cx="1263.0" cy="384.2" r="2.7"/><circle cx="1264.9" cy="326.3" r="2.7"/><circle cx="1265.0" cy="330.2" r="2.7"/><circle cx="1266.5" cy="333.3" r="2.7"/><circle cx="1266.8" cy="398.0" r="2.7"/><circle cx="1265.8" cy="391.8" r="2.7"/><circle cx="1265.1" cy="389.4" r="2.7"/><circle cx="1265.1" cy="387.5" r="2.7"/><circle cx="1269.3" cy="321.1" r="2.7"/><circle cx="1268.2" cy="327.4" r="2.7"/><circle cx="1268.9" cy="331.3" r="2.7"/><circle cx="1268.7" cy="333.2" r="2.7"/><circle cx="1268.5" cy="397.1" r="2.7"/><circle cx="1268.7" cy="393.0" r="2.7"/><circle cx="1269.8" cy="390.4" r="2.7"/><circle cx="1268.3" cy="388.7" r="2.7"/><circle cx="1271.8" cy="322.2" r="2.7"/><circle cx="1270.3" cy="327.4" r="2.7"/><circle cx="1271.5" cy="331.3" r="2.7"/><circle cx="1270.7" cy="333.6" r="2.7"/><circle cx="1271.1" cy="392.3" r="2.7"/><circle cx="1272.3" cy="389.0" r="2.7"/><circle cx="1271.3" cy="386.1" r="2.7"/><circle cx="1274.8" cy="321.8" r="2.7"/><circle cx="1273.4" cy="325.6" r="2.7"/><circle cx="1273.0" cy="327.9" r="2.7"/><circle cx="1272.9" cy="330.7" r="2.7"/><circle cx="1274.1" cy="331.5" r="2.7"/><circle cx="1274.1" cy="386.8" r="2.7"/><circle cx="1274.0" cy="383.5" r="2.7"/><circle cx="1274.5" cy="382.3" r="2.7"/><circle cx="1275.8" cy="324.0" r="2.7"/><circle cx="1277.4" cy="327.3" r="2.7"/><circle cx="1276.0" cy="328.1" r="2.7"/><circle cx="1277.0" cy="331.3" r="2.7"/><circle cx="1276.7" cy="390.7" r="2.7"/><circle cx="1277.5" cy="382.5" r="2.7"/><circle cx="1277.5" cy="378.7" r="2.7"/><circle cx="1280.2" cy="322.3" r="2.7"/><circle cx="1279.0" cy="326.9" r="2.7"/><circle cx="1278.8" cy="329.4" r="2.7"/><circle cx="1279.4" cy="389.5" r="2.7"/><circle cx="1278.3" cy="383.0" r="2.7"/><circle cx="1279.3" cy="382.0" r="2.7"/><circle cx="1279.2" cy="380.2" r="2.7"/><circle cx="1281.7" cy="326.0" r="2.7"/><circle cx="1281.7" cy="327.3" r="2.7"/><circle cx="1282.6" cy="330.0" r="2.7"/><circle cx="1282.3" cy="387.3" r="2.7"/><circle cx="1282.7" cy="382.5" r="2.7"/><circle cx="1281.7" cy="379.9" r="2.7"/><circle cx="1283.5" cy="321.0" r="2.7"/><circle cx="1284.1" cy="323.9" r="2.7"/><circle cx="1284.7" cy="331.7" r="2.7"/><circle cx="1283.6" cy="387.4" r="2.7"/><circle cx="1283.7" cy="384.4" r="2.7"/><circle cx="1283.9" cy="381.0" r="2.7"/><circle cx="1283.6" cy="378.6" r="2.7"/><circle cx="1287.6" cy="326.4" r="2.7"/><circle cx="1288.1" cy="328.9" r="2.7"/><circle cx="1286.8" cy="331.3" r="2.7"/><circle cx="1288.0" cy="332.8" r="2.7"/><circle cx="1287.0" cy="395.5" r="2.7"/><circle cx="1287.2" cy="392.6" r="2.7"/><circle cx="1285.8" cy="388.6" r="2.7"/><circle cx="1286.5" cy="385.7" r="2.7"/><circle cx="1290.0" cy="327.2" r="2.7"/><circle cx="1289.5" cy="335.5" r="2.7"/><circle cx="1288.8" cy="340.4" r="2.7"/><circle cx="1288.6" cy="402.8" r="2.7"/><circle cx="1289.0" cy="396.5" r="2.7"/><circle cx="1288.3" cy="394.9" r="2.7"/><circle cx="1289.6" cy="392.4" r="2.7"/><circle cx="1290.5" cy="389.9" r="2.7"/><circle cx="1291.2" cy="336.1" r="2.7"/><circle cx="1292.2" cy="338.7" r="2.7"/><circle cx="1292.7" cy="346.4" r="2.7"/><circle cx="1292.0" cy="347.7" r="2.7"/><circle cx="1292.3" cy="406.0" r="2.7"/><circle cx="1292.5" cy="402.0" r="2.7"/><circle cx="1292.6" cy="399.0" r="2.7"/><circle cx="1293.5" cy="344.5" r="2.7"/><circle cx="1293.7" cy="347.1" r="2.7"/><circle cx="1295.1" cy="349.9" r="2.7"/><circle cx="1293.7" cy="355.3" r="2.7"/><circle cx="1294.7" cy="426.1" r="2.7"/><circle cx="1294.7" cy="423.8" r="2.7"/><circle cx="1293.7" cy="414.6" r="2.7"/><circle cx="1294.7" cy="413.7" r="2.7"/><circle cx="1296.8" cy="357.4" r="2.7"/><circle cx="1297.3" cy="358.2" r="2.7"/><circle cx="1297.4" cy="413.9" r="2.7"/><circle cx="1298.5" cy="410.4" r="2.7"/><circle cx="1299.5" cy="342.9" r="2.7"/><circle cx="1301.0" cy="346.6" r="2.7"/><circle cx="1299.6" cy="350.3" r="2.7"/><circle cx="1299.5" cy="353.9" r="2.7"/><circle cx="1299.4" cy="411.6" r="2.7"/><circle cx="1299.9" cy="408.4" r="2.7"/><circle cx="1299.2" cy="408.0" r="2.7"/><circle cx="1303.6" cy="340.4" r="2.7"/><circle cx="1301.7" cy="342.7" r="2.7"/><circle cx="1302.2" cy="417.6" r="2.7"/><circle cx="1301.7" cy="414.0" r="2.7"/><circle cx="1302.9" cy="413.4" r="2.7"/><circle cx="1301.4" cy="410.0" r="2.7"/><circle cx="1302.0" cy="407.3" r="2.7"/><circle cx="1304.7" cy="337.1" r="2.7"/><circle cx="1305.4" cy="343.8" r="2.7"/><circle cx="1306.2" cy="345.3" r="2.7"/><circle cx="1306.2" cy="346.7" r="2.7"/><circle cx="1304.1" cy="416.3" r="2.7"/><circle cx="1304.8" cy="414.5" r="2.7"/><circle cx="1305.6" cy="409.0" r="2.7"/><circle cx="1306.8" cy="340.7" r="2.7"/><circle cx="1306.4" cy="343.4" r="2.7"/><circle cx="1308.3" cy="346.1" r="2.7"/><circle cx="1309.0" cy="419.7" r="2.7"/><circle cx="1308.3" cy="415.1" r="2.7"/><circle cx="1306.8" cy="413.6" r="2.7"/><circle cx="1309.3" cy="339.9" r="2.7"/><circle cx="1311.1" cy="344.1" r="2.7"/><circle cx="1311.3" cy="411.4" r="2.7"/><circle cx="1309.9" cy="408.5" r="2.7"/><circle cx="1313.0" cy="334.4" r="2.7"/><circle cx="1312.2" cy="338.1" r="2.7"/><circle cx="1313.2" cy="340.2" r="2.7"/><circle cx="1312.8" cy="343.3" r="2.7"/><circle cx="1313.4" cy="410.2" r="2.7"/><circle cx="1313.1" cy="406.8" r="2.7"/><circle cx="1311.6" cy="401.7" r="2.7"/><circle cx="1312.6" cy="398.6" r="2.7"/><circle cx="1316.0" cy="333.2" r="2.7"/><circle cx="1314.4" cy="335.4" r="2.7"/><circle cx="1315.1" cy="336.4" r="2.7"/><circle cx="1315.1" cy="407.5" r="2.7"/><circle cx="1316.4" cy="403.6" r="2.7"/><circle cx="1315.6" cy="402.5" r="2.7"/><circle cx="1315.6" cy="400.5" r="2.7"/><circle cx="1316.1" cy="398.1" r="2.7"/><circle cx="1315.6" cy="395.5" r="2.7"/><circle cx="1317.8" cy="333.5" r="2.7"/><circle cx="1318.9" cy="335.0" r="2.7"/><circle cx="1318.3" cy="397.8" r="2.7"/><circle cx="1316.8" cy="395.4" r="2.7"/><circle cx="1318.3" cy="393.9" r="2.7"/><circle cx="1319.4" cy="327.0" r="2.7"/><circle cx="1319.5" cy="327.5" r="2.7"/><circle cx="1321.5" cy="333.7" r="2.7"/><circle cx="1320.4" cy="335.6" r="2.7"/><circle cx="1321.2" cy="337.1" r="2.7"/><circle cx="1320.4" cy="403.8" r="2.7"/><circle cx="1321.3" cy="391.2" r="2.7"/><circle cx="1322.6" cy="326.4" r="2.7"/><circle cx="1323.9" cy="331.4" r="2.7"/><circle cx="1323.2" cy="333.3" r="2.7"/><circle cx="1324.4" cy="336.9" r="2.7"/><circle cx="1322.0" cy="337.9" r="2.7"/><circle cx="1324.6" cy="403.6" r="2.7"/><circle cx="1324.1" cy="401.5" r="2.7"/><circle cx="1322.5" cy="392.8" r="2.7"/><circle cx="1323.5" cy="391.2" r="2.7"/><circle cx="1324.7" cy="333.7" r="2.7"/><circle cx="1325.6" cy="338.7" r="2.7"/><circle cx="1324.9" cy="340.2" r="2.7"/><circle cx="1324.8" cy="403.4" r="2.7"/><circle cx="1326.4" cy="399.4" r="2.7"/><circle cx="1327.1" cy="395.5" r="2.7"/><circle cx="1326.4" cy="393.2" r="2.7"/><circle cx="1326.4" cy="392.0" r="2.7"/><circle cx="1327.6" cy="335.7" r="2.7"/><circle cx="1327.5" cy="339.0" r="2.7"/><circle cx="1327.6" cy="342.5" r="2.7"/><circle cx="1328.9" cy="345.9" r="2.7"/><circle cx="1328.4" cy="403.7" r="2.7"/><circle cx="1328.8" cy="394.3" r="2.7"/><circle cx="1329.3" cy="391.1" r="2.7"/><circle cx="1331.4" cy="336.6" r="2.7"/><circle cx="1331.2" cy="338.7" r="2.7"/><circle cx="1331.9" cy="344.0" r="2.7"/><circle cx="1331.5" cy="346.7" r="2.7"/><circle cx="1332.2" cy="347.4" r="2.7"/><circle cx="1330.3" cy="411.3" r="2.7"/><circle cx="1331.5" cy="406.3" r="2.7"/><circle cx="1332.0" cy="404.9" r="2.7"/><circle cx="1330.2" cy="399.9" r="2.7"/><circle cx="1334.1" cy="340.2" r="2.7"/><circle cx="1334.1" cy="343.3" r="2.7"/><circle cx="1333.1" cy="345.2" r="2.7"/><circle cx="1334.0" cy="347.4" r="2.7"/><circle cx="1333.1" cy="350.0" r="2.7"/><circle cx="1333.9" cy="353.2" r="2.7"/><circle cx="1333.2" cy="423.6" r="2.7"/><circle cx="1334.6" cy="420.5" r="2.7"/><circle cx="1333.4" cy="417.5" r="2.7"/><circle cx="1333.5" cy="416.6" r="2.7"/><circle cx="1332.5" cy="413.9" r="2.7"/><circle cx="1336.2" cy="344.4" r="2.7"/><circle cx="1337.1" cy="346.8" r="2.7"/><circle cx="1337.3" cy="355.0" r="2.7"/><circle cx="1335.1" cy="431.4" r="2.7"/><circle cx="1336.6" cy="422.4" r="2.7"/><circle cx="1337.1" cy="420.7" r="2.7"/><circle cx="1338.5" cy="337.5" r="2.7"/><circle cx="1337.8" cy="339.0" r="2.7"/><circle cx="1339.7" cy="343.0" r="2.7"/><circle cx="1338.9" cy="345.6" r="2.7"/><circle cx="1339.3" cy="346.2" r="2.7"/><circle cx="1338.3" cy="349.6" r="2.7"/><circle cx="1340.0" cy="427.6" r="2.7"/><circle cx="1338.5" cy="421.3" r="2.7"/><circle cx="1342.0" cy="325.7" r="2.7"/><circle cx="1341.4" cy="331.2" r="2.7"/><circle cx="1340.4" cy="421.7" r="2.7"/><circle cx="1340.5" cy="417.2" r="2.7"/><circle cx="1345.3" cy="322.1" r="2.7"/><circle cx="1344.4" cy="327.3" r="2.7"/><circle cx="1343.6" cy="330.8" r="2.7"/><circle cx="1343.0" cy="332.7" r="2.7"/><circle cx="1343.5" cy="335.0" r="2.7"/><circle cx="1345.1" cy="424.7" r="2.7"/><circle cx="1344.2" cy="415.8" r="2.7"/><circle cx="1344.6" cy="413.4" r="2.7"/><circle cx="1347.5" cy="327.5" r="2.7"/><circle cx="1346.0" cy="334.5" r="2.7"/><circle cx="1345.7" cy="336.5" r="2.7"/><circle cx="1345.4" cy="422.0" r="2.7"/><circle cx="1346.3" cy="420.4" r="2.7"/><circle cx="1347.9" cy="416.1" r="2.7"/><circle cx="1345.8" cy="414.0" r="2.7"/><circle cx="1348.7" cy="326.6" r="2.7"/><circle cx="1350.3" cy="326.9" r="2.7"/><circle cx="1349.2" cy="332.9" r="2.7"/><circle cx="1349.8" cy="334.1" r="2.7"/><circle cx="1350.4" cy="337.9" r="2.7"/><circle cx="1348.5" cy="423.0" r="2.7"/><circle cx="1348.5" cy="419.1" r="2.7"/><circle cx="1348.7" cy="416.8" r="2.7"/><circle cx="1350.5" cy="414.7" r="2.7"/><circle cx="1351.3" cy="330.4" r="2.7"/><circle cx="1351.8" cy="335.1" r="2.7"/><circle cx="1350.9" cy="337.9" r="2.7"/><circle cx="1351.2" cy="426.7" r="2.7"/><circle cx="1351.4" cy="420.4" r="2.7"/><circle cx="1351.0" cy="418.1" r="2.7"/><circle cx="1353.2" cy="332.9" r="2.7"/><circle cx="1353.6" cy="336.9" r="2.7"/><circle cx="1353.9" cy="439.4" r="2.7"/><circle cx="1353.7" cy="436.4" r="2.7"/><circle cx="1357.8" cy="334.8" r="2.7"/><circle cx="1356.5" cy="339.3" r="2.7"/><circle cx="1357.8" cy="456.1" r="2.7"/><circle cx="1355.9" cy="451.9" r="2.7"/><circle cx="1358.3" cy="446.8" r="2.7"/><circle cx="1356.7" cy="444.0" r="2.7"/><circle cx="1360.1" cy="332.4" r="2.7"/><circle cx="1360.2" cy="339.0" r="2.7"/><circle cx="1359.5" cy="342.4" r="2.7"/><circle cx="1360.5" cy="344.8" r="2.7"/><circle cx="1358.8" cy="455.8" r="2.7"/><circle cx="1359.0" cy="455.2" r="2.7"/><circle cx="1359.5" cy="452.0" r="2.7"/><circle cx="1359.1" cy="450.8" r="2.7"/><circle cx="1359.4" cy="448.2" r="2.7"/><circle cx="1359.8" cy="444.3" r="2.7"/><circle cx="1361.5" cy="340.1" r="2.7"/><circle cx="1363.1" cy="344.3" r="2.7"/><circle cx="1361.1" cy="348.2" r="2.7"/><circle cx="1362.0" cy="445.7" r="2.7"/><circle cx="1363.4" cy="438.8" r="2.7"/><circle cx="1361.4" cy="435.8" r="2.7"/><circle cx="1362.2" cy="433.3" r="2.7"/><circle cx="1364.6" cy="342.8" r="2.7"/><circle cx="1365.2" cy="346.4" r="2.7"/><circle cx="1365.4" cy="346.6" r="2.7"/><circle cx="1363.9" cy="349.5" r="2.7"/><circle cx="1363.6" cy="353.2" r="2.7"/><circle cx="1365.0" cy="426.1" r="2.7"/><circle cx="1368.4" cy="351.6" r="2.7"/><circle cx="1368.3" cy="355.5" r="2.7"/><circle cx="1367.4" cy="358.9" r="2.7"/><circle cx="1366.3" cy="435.7" r="2.7"/><circle cx="1366.5" cy="427.8" r="2.7"/><circle cx="1366.5" cy="425.1" r="2.7"/><circle cx="1368.8" cy="423.2" r="2.7"/><circle cx="1370.2" cy="358.6" r="2.7"/><circle cx="1370.9" cy="362.2" r="2.7"/><circle cx="1371.2" cy="365.3" r="2.7"/><circle cx="1370.7" cy="434.3" r="2.7"/><circle cx="1371.5" cy="366.4" r="2.7"/><circle cx="1371.9" cy="371.7" r="2.7"/><circle cx="1373.6" cy="373.2" r="2.7"/><circle cx="1371.4" cy="376.2" r="2.7"/><circle cx="1373.2" cy="459.6" r="2.7"/><circle cx="1371.5" cy="456.2" r="2.7"/><circle cx="1373.2" cy="453.9" r="2.7"/><circle cx="1371.5" cy="450.2" r="2.7"/><circle cx="1373.2" cy="448.7" r="2.7"/><circle cx="1375.0" cy="370.8" r="2.7"/><circle cx="1375.1" cy="372.1" r="2.7"/><circle cx="1374.7" cy="376.4" r="2.7"/><circle cx="1375.1" cy="377.1" r="2.7"/><circle cx="1375.2" cy="451.0" r="2.7"/><circle cx="1376.2" cy="448.9" r="2.7"/><circle cx="1378.3" cy="375.5" r="2.7"/><circle cx="1378.1" cy="377.7" r="2.7"/><circle cx="1377.8" cy="380.3" r="2.7"/><circle cx="1377.2" cy="460.8" r="2.7"/><circle cx="1377.0" cy="454.3" r="2.7"/><circle cx="1378.5" cy="451.3" r="2.7"/><circle cx="1377.8" cy="448.6" r="2.7"/><circle cx="1379.3" cy="364.9" r="2.7"/><circle cx="1380.1" cy="365.9" r="2.7"/><circle cx="1381.1" cy="372.7" r="2.7"/><circle cx="1381.1" cy="455.5" r="2.7"/><circle cx="1380.1" cy="451.5" r="2.7"/><circle cx="1380.1" cy="448.2" r="2.7"/><circle cx="1379.7" cy="446.8" r="2.7"/><circle cx="1381.3" cy="444.6" r="2.7"/><circle cx="1382.0" cy="357.2" r="2.7"/><circle cx="1382.4" cy="360.9" r="2.7"/><circle cx="1382.4" cy="361.5" r="2.7"/><circle cx="1383.3" cy="364.0" r="2.7"/><circle cx="1382.5" cy="367.0" r="2.7"/><circle cx="1382.4" cy="368.8" r="2.7"/><circle cx="1382.4" cy="447.8" r="2.7"/><circle cx="1383.6" cy="447.1" r="2.7"/><circle cx="1383.0" cy="443.2" r="2.7"/><circle cx="1383.2" cy="441.7" r="2.7"/><circle cx="1382.9" cy="438.7" r="2.7"/><circle cx="1384.7" cy="348.6" r="2.7"/><circle cx="1386.2" cy="349.9" r="2.7"/><circle cx="1385.5" cy="352.4" r="2.7"/><circle cx="1384.5" cy="434.4" r="2.7"/><circle cx="1384.6" cy="433.8" r="2.7"/><circle cx="1384.5" cy="431.2" r="2.7"/><circle cx="1388.4" cy="335.6" r="2.7"/><circle cx="1388.3" cy="338.0" r="2.7"/><circle cx="1388.9" cy="340.9" r="2.7"/><circle cx="1387.3" cy="425.1" r="2.7"/><circle cx="1387.2" cy="422.5" r="2.7"/><circle cx="1387.9" cy="417.9" r="2.7"/><circle cx="1389.0" cy="417.0" r="2.7"/><circle cx="1390.1" cy="329.2" r="2.7"/><circle cx="1390.8" cy="334.9" r="2.7"/><circle cx="1390.6" cy="335.6" r="2.7"/><circle cx="1389.7" cy="339.5" r="2.7"/><circle cx="1390.6" cy="339.8" r="2.7"/><circle cx="1391.5" cy="415.4" r="2.7"/><circle cx="1392.0" cy="412.5" r="2.7"/><circle cx="1391.6" cy="406.3" r="2.7"/><circle cx="1391.9" cy="404.6" r="2.7"/><circle cx="1392.8" cy="336.8" r="2.7"/><circle cx="1394.3" cy="339.9" r="2.7"/><circle cx="1393.1" cy="346.2" r="2.7"/><circle cx="1392.9" cy="350.2" r="2.7"/><circle cx="1394.0" cy="423.3" r="2.7"/><circle cx="1394.5" cy="419.5" r="2.7"/><circle cx="1393.7" cy="416.0" r="2.7"/><circle cx="1394.0" cy="414.7" r="2.7"/><circle cx="1392.3" cy="412.4" r="2.7"/><circle cx="1395.0" cy="346.6" r="2.7"/><circle cx="1396.8" cy="347.9" r="2.7"/><circle cx="1396.7" cy="354.0" r="2.7"/><circle cx="1396.2" cy="356.5" r="2.7"/><circle cx="1395.0" cy="432.1" r="2.7"/><circle cx="1396.5" cy="427.6" r="2.7"/><circle cx="1394.9" cy="424.0" r="2.7"/><circle cx="1397.4" cy="422.8" r="2.7"/><circle cx="1395.2" cy="418.3" r="2.7"/><circle cx="1399.3" cy="355.6" r="2.7"/><circle cx="1399.9" cy="360.6" r="2.7"/><circle cx="1398.4" cy="364.4" r="2.7"/><circle cx="1399.0" cy="365.1" r="2.7"/><circle cx="1398.1" cy="441.4" r="2.7"/><circle cx="1399.3" cy="438.4" r="2.7"/><circle cx="1397.5" cy="431.6" r="2.7"/><circle cx="1401.2" cy="363.8" r="2.7"/><circle cx="1402.5" cy="364.9" r="2.7"/><circle cx="1402.2" cy="367.2" r="2.7"/><circle cx="1402.3" cy="372.7" r="2.7"/><circle cx="1402.1" cy="448.6" r="2.7"/><circle cx="1402.2" cy="447.4" r="2.7"/><circle cx="1401.5" cy="444.8" r="2.7"/><circle cx="1402.3" cy="442.6" r="2.7"/><circle cx="1402.3" cy="439.5" r="2.7"/><circle cx="1402.8" cy="362.6" r="2.7"/><circle cx="1403.5" cy="363.4" r="2.7"/><circle cx="1402.6" cy="370.0" r="2.7"/><circle cx="1403.2" cy="370.2" r="2.7"/><circle cx="1403.7" cy="374.2" r="2.7"/><circle cx="1403.5" cy="436.5" r="2.7"/><circle cx="1403.3" cy="431.4" r="2.7"/><circle cx="1404.3" cy="430.0" r="2.7"/><circle cx="1404.9" cy="427.6" r="2.7"/><circle cx="1404.7" cy="426.0" r="2.7"/><circle cx="1406.1" cy="338.7" r="2.7"/><circle cx="1407.3" cy="341.2" r="2.7"/><circle cx="1406.0" cy="345.2" r="2.7"/><circle cx="1406.4" cy="346.9" r="2.7"/><circle cx="1407.1" cy="421.2" r="2.7"/><circle cx="1405.4" cy="418.9" r="2.7"/><circle cx="1407.3" cy="416.3" r="2.7"/><circle cx="1405.7" cy="410.1" r="2.7"/><circle cx="1407.6" cy="409.1" r="2.7"/><circle cx="1409.1" cy="332.3" r="2.7"/><circle cx="1408.4" cy="333.5" r="2.7"/><circle cx="1410.0" cy="336.1" r="2.7"/><circle cx="1407.9" cy="339.2" r="2.7"/><circle cx="1408.1" cy="417.6" r="2.7"/><circle cx="1408.6" cy="416.3" r="2.7"/><circle cx="1408.4" cy="411.6" r="2.7"/><circle cx="1408.2" cy="408.7" r="2.7"/><circle cx="1410.8" cy="325.3" r="2.7"/><circle cx="1410.8" cy="333.2" r="2.7"/><circle cx="1412.9" cy="336.6" r="2.7"/><circle cx="1411.8" cy="431.8" r="2.7"/><circle cx="1411.0" cy="426.2" r="2.7"/><circle cx="1410.6" cy="423.3" r="2.7"/><circle cx="1411.5" cy="420.7" r="2.7"/><circle cx="1415.1" cy="322.9" r="2.7"/><circle cx="1415.4" cy="325.9" r="2.7"/><circle cx="1414.3" cy="332.6" r="2.7"/><circle cx="1413.0" cy="334.5" r="2.7"/><circle cx="1414.7" cy="440.0" r="2.7"/><circle cx="1413.8" cy="438.1" r="2.7"/><circle cx="1415.4" cy="433.8" r="2.7"/><circle cx="1415.2" cy="432.8" r="2.7"/><circle cx="1413.3" cy="429.2" r="2.7"/><circle cx="1416.4" cy="322.4" r="2.7"/><circle cx="1416.6" cy="324.8" r="2.7"/><circle cx="1415.9" cy="326.8" r="2.7"/><circle cx="1417.8" cy="331.0" r="2.7"/><circle cx="1417.6" cy="333.1" r="2.7"/><circle cx="1416.9" cy="416.2" r="2.7"/><circle cx="1415.7" cy="412.8" r="2.7"/><circle cx="1417.9" cy="410.6" r="2.7"/><circle cx="1416.0" cy="409.0" r="2.7"/><circle cx="1418.7" cy="325.2" r="2.7"/><circle cx="1420.2" cy="328.2" r="2.7"/><circle cx="1420.2" cy="328.9" r="2.7"/><circle cx="1420.6" cy="397.6" r="2.7"/><circle cx="1419.4" cy="392.1" r="2.7"/><circle cx="1420.1" cy="389.9" r="2.7"/><circle cx="1421.7" cy="326.4" r="2.7"/><circle cx="1422.8" cy="396.7" r="2.7"/><circle cx="1422.4" cy="389.3" r="2.7"/><circle cx="1421.2" cy="386.9" r="2.7"/><circle cx="1422.5" cy="385.8" r="2.7"/><circle cx="1424.8" cy="308.4" r="2.7"/><circle cx="1423.5" cy="313.7" r="2.7"/><circle cx="1424.7" cy="314.8" r="2.7"/><circle cx="1425.8" cy="318.5" r="2.7"/><circle cx="1425.2" cy="320.4" r="2.7"/><circle cx="1425.6" cy="385.7" r="2.7"/><circle cx="1425.3" cy="380.7" r="2.7"/><circle cx="1424.8" cy="378.3" r="2.7"/><circle cx="1426.5" cy="311.4" r="2.7"/><circle cx="1427.3" cy="314.1" r="2.7"/><circle cx="1427.9" cy="315.8" r="2.7"/><circle cx="1426.1" cy="318.2" r="2.7"/><circle cx="1426.7" cy="376.2" r="2.7"/><circle cx="1427.3" cy="375.6" r="2.7"/><circle cx="1429.4" cy="310.3" r="2.7"/><circle cx="1429.2" cy="315.6" r="2.7"/><circle cx="1429.9" cy="318.3" r="2.7"/><circle cx="1431.0" cy="319.9" r="2.7"/><circle cx="1430.4" cy="374.2" r="2.7"/><circle cx="1428.6" cy="368.9" r="2.7"/><circle cx="1432.5" cy="312.7" r="2.7"/><circle cx="1433.0" cy="317.2" r="2.7"/><circle cx="1431.2" cy="320.6" r="2.7"/><circle cx="1431.7" cy="323.4" r="2.7"/><circle cx="1431.8" cy="370.3" r="2.7"/><circle cx="1431.4" cy="368.5" r="2.7"/><circle cx="1433.4" cy="366.5" r="2.7"/><circle cx="1436.2" cy="317.3" r="2.7"/><circle cx="1436.0" cy="319.7" r="2.7"/><circle cx="1433.9" cy="321.8" r="2.7"/><circle cx="1433.8" cy="323.6" r="2.7"/><circle cx="1435.3" cy="382.2" r="2.7"/><circle cx="1434.2" cy="378.7" r="2.7"/><circle cx="1435.9" cy="377.1" r="2.7"/><circle cx="1434.7" cy="374.2" r="2.7"/><circle cx="1435.7" cy="372.9" r="2.7"/><circle cx="1435.8" cy="370.0" r="2.7"/><circle cx="1436.9" cy="317.7" r="2.7"/><circle cx="1438.2" cy="320.2" r="2.7"/><circle cx="1436.7" cy="321.3" r="2.7"/><circle cx="1436.4" cy="323.8" r="2.7"/><circle cx="1438.7" cy="388.8" r="2.7"/><circle cx="1437.1" cy="383.0" r="2.7"/><circle cx="1437.0" cy="380.1" r="2.7"/><circle cx="1438.8" cy="379.1" r="2.7"/><circle cx="1437.5" cy="377.4" r="2.7"/><circle cx="1440.9" cy="312.2" r="2.7"/><circle cx="1440.5" cy="314.6" r="2.7"/><circle cx="1441.2" cy="317.3" r="2.7"/><circle cx="1440.4" cy="320.1" r="2.7"/><circle cx="1441.0" cy="321.8" r="2.7"/><circle cx="1441.2" cy="324.8" r="2.7"/><circle cx="1439.9" cy="403.2" r="2.7"/><circle cx="1441.0" cy="396.9" r="2.7"/><circle cx="1439.9" cy="392.1" r="2.7"/><circle cx="1442.9" cy="318.5" r="2.7"/><circle cx="1443.7" cy="319.2" r="2.7"/><circle cx="1443.7" cy="321.7" r="2.7"/><circle cx="1442.1" cy="325.0" r="2.7"/><circle cx="1444.1" cy="328.1" r="2.7"/><circle cx="1442.5" cy="330.8" r="2.7"/><circle cx="1444.1" cy="444.0" r="2.7"/><circle cx="1442.5" cy="442.1" r="2.7"/><circle cx="1442.4" cy="439.6" r="2.7"/><circle cx="1444.1" cy="436.5" r="2.7"/><circle cx="1443.6" cy="433.9" r="2.7"/><circle cx="1442.5" cy="432.4" r="2.7"/><circle cx="1444.3" cy="333.5" r="2.7"/><circle cx="1445.4" cy="335.8" r="2.7"/><circle cx="1445.2" cy="338.3" r="2.7"/><circle cx="1446.0" cy="339.7" r="2.7"/><circle cx="1445.6" cy="456.8" r="2.7"/><circle cx="1445.2" cy="452.8" r="2.7"/><circle cx="1447.7" cy="344.5" r="2.7"/><circle cx="1447.3" cy="347.3" r="2.7"/><circle cx="1448.4" cy="350.2" r="2.7"/><circle cx="1448.4" cy="353.2" r="2.7"/><circle cx="1448.1" cy="471.7" r="2.7"/><circle cx="1448.0" cy="466.2" r="2.7"/><circle cx="1448.1" cy="464.6" r="2.7"/><circle cx="1448.8" cy="463.6" r="2.7"/><circle cx="1449.1" cy="461.1" r="2.7"/><circle cx="1450.3" cy="352.4" r="2.7"/><circle cx="1450.9" cy="357.3" r="2.7"/><circle cx="1451.7" cy="359.3" r="2.7"/><circle cx="1451.3" cy="361.8" r="2.7"/><circle cx="1451.2" cy="450.4" r="2.7"/><circle cx="1449.8" cy="447.1" r="2.7"/><circle cx="1450.7" cy="444.3" r="2.7"/><circle cx="1451.6" cy="443.4" r="2.7"/><circle cx="1451.2" cy="440.2" r="2.7"/><circle cx="1450.5" cy="437.8" r="2.7"/><circle cx="1452.3" cy="348.7" r="2.7"/><circle cx="1452.6" cy="348.9" r="2.7"/><circle cx="1454.4" cy="356.8" r="2.7"/><circle cx="1453.1" cy="359.8" r="2.7"/><circle cx="1453.1" cy="433.2" r="2.7"/><circle cx="1452.8" cy="430.2" r="2.7"/><circle cx="1454.5" cy="429.1" r="2.7"/><circle cx="1453.1" cy="425.4" r="2.7"/><circle cx="1453.9" cy="422.8" r="2.7"/><circle cx="1457.2" cy="346.1" r="2.7"/><circle cx="1455.6" cy="347.9" r="2.7"/><circle cx="1456.7" cy="349.3" r="2.7"/><circle cx="1456.8" cy="413.9" r="2.7"/><circle cx="1456.0" cy="408.2" r="2.7"/><circle cx="1455.4" cy="406.0" r="2.7"/><circle cx="1457.2" cy="403.7" r="2.7"/><circle cx="1458.0" cy="331.5" r="2.7"/><circle cx="1457.8" cy="335.7" r="2.7"/><circle cx="1457.3" cy="340.7" r="2.7"/><circle cx="1459.3" cy="342.0" r="2.7"/><circle cx="1458.8" cy="405.5" r="2.7"/><circle cx="1459.0" cy="403.4" r="2.7"/><circle cx="1459.1" cy="400.0" r="2.7"/><circle cx="1457.5" cy="397.1" r="2.7"/><circle cx="1457.5" cy="393.8" r="2.7"/><circle cx="1460.0" cy="331.0" r="2.7"/><circle cx="1461.9" cy="333.3" r="2.7"/><circle cx="1461.0" cy="340.9" r="2.7"/><circle cx="1461.6" cy="342.7" r="2.7"/><circle cx="1461.4" cy="396.1" r="2.7"/><circle cx="1462.2" cy="389.8" r="2.7"/><circle cx="1461.0" cy="389.3" r="2.7"/></g>
<g fill="#1f77b4"><circle cx="141.4" cy="374.3" r="2.6"/><circle cx="142.4" cy="380.2" r="2.6"/><circle cx="145.3" cy="381.2" r="2.6"/><circle cx="141.4" cy="393.5" r="2.6"/><circle cx="145.3" cy="394.5" r="2.6"/><circle cx="160.6" cy="406.3" r="2.6"/><circle cx="159.5" cy="412.6" r="2.6"/><circle cx="156.5" cy="423.4" r="2.6"/><circle cx="156.5" cy="429.6" r="2.6"/><circle cx="156.5" cy="440.4" r="2.6"/><circle cx="183.0" cy="307.9" r="2.6"/><circle cx="183.0" cy="314.4" r="2.6"/><circle cx="189.5" cy="328.2" r="2.6"/><circle cx="196.4" cy="389.4" r="2.6"/><circle cx="223.9" cy="385.1" r="2.6"/><circle cx="227.8" cy="369.4" r="2.6"/><circle cx="287.7" cy="396.9" r="2.6"/><circle cx="165.6" cy="397.8" r="2.6"/><circle cx="157.1" cy="256.1" r="2.6"/><circle cx="153.2" cy="262.4" r="2.6"/><circle cx="141.4" cy="265.3" r="2.6"/><circle cx="134.5" cy="266.3" r="2.6"/><circle cx="301.1" cy="263.9" r="2.6"/><circle cx="327.1" cy="266.4" r="2.6"/><circle cx="389.0" cy="242.8" r="2.6"/><circle cx="402.7" cy="247.8" r="2.6"/><circle cx="460.8" cy="218.1" r="2.6"/><circle cx="460.8" cy="221.8" r="2.6"/><circle cx="298.7" cy="420.4" r="2.6"/><circle cx="325.4" cy="409.2" r="2.6"/><circle cx="337.0" cy="411.2" r="2.6"/><circle cx="356.8" cy="418.6" r="2.6"/><circle cx="372.4" cy="402.5" r="2.6"/><circle cx="384.1" cy="396.3" r="2.6"/><circle cx="398.2" cy="389.7" r="2.6"/><circle cx="420.0" cy="419.4" r="2.6"/><circle cx="424.9" cy="385.2" r="2.6"/><circle cx="433.6" cy="373.6" r="2.6"/><circle cx="465.8" cy="362.9" r="2.6"/><circle cx="301.1" cy="283.7" r="2.6"/><circle cx="327.1" cy="278.7" r="2.6"/><circle cx="358.1" cy="278.7" r="2.6"/><circle cx="351.9" cy="281.2" r="2.6"/><circle cx="543.3" cy="161.9" r="2.6"/><circle cx="543.3" cy="175.5" r="2.6"/><circle cx="543.3" cy="182.4" r="2.6"/><circle cx="520.3" cy="188.9" r="2.6"/><circle cx="529.2" cy="196.5" r="2.6"/><circle cx="520.8" cy="210.4" r="2.6"/><circle cx="497.2" cy="216.4" r="2.6"/><circle cx="497.2" cy="228.7" r="2.6"/><circle cx="543.3" cy="209.4" r="2.6"/><circle cx="557.2" cy="209.4" r="2.6"/><circle cx="586.4" cy="215.6" r="2.6"/><circle cx="586.4" cy="220.6" r="2.6"/><circle cx="566.6" cy="225.0" r="2.6"/><circle cx="476.2" cy="362.4" r="2.6"/><circle cx="485.4" cy="363.4" r="2.6"/><circle cx="485.4" cy="376.3" r="2.6"/><circle cx="500.5" cy="360.4" r="2.6"/><circle cx="500.5" cy="369.1" r="2.6"/><circle cx="508.4" cy="358.0" r="2.6"/><circle cx="508.4" cy="370.4" r="2.6"/><circle cx="508.4" cy="376.5" r="2.6"/><circle cx="541.3" cy="364.2" r="2.6"/><circle cx="551.2" cy="367.4" r="2.6"/><circle cx="551.2" cy="381.5" r="2.6"/><circle cx="570.3" cy="380.3" r="2.6"/><circle cx="574.0" cy="382.7" r="2.6"/><circle cx="586.4" cy="384.0" r="2.6"/><circle cx="586.4" cy="364.2" r="2.6"/><circle cx="599.2" cy="362.4" r="2.6"/><circle cx="630.9" cy="339.4" r="2.6"/><circle cx="497.2" cy="237.9" r="2.6"/><circle cx="478.7" cy="236.7" r="2.6"/><circle cx="541.8" cy="233.7" r="2.6"/><circle cx="556.7" cy="216.8" r="2.6"/><circle cx="588.8" cy="233.7" r="2.6"/><circle cx="604.9" cy="246.6" r="2.6"/><circle cx="750.4" cy="60.5" r="2.6"/><circle cx="752.4" cy="91.2" r="2.6"/><circle cx="750.4" cy="102.5" r="2.6"/><circle cx="752.4" cy="115.3" r="2.6"/><circle cx="742.3" cy="111.4" r="2.6"/><circle cx="779.4" cy="88.3" r="2.6"/><circle cx="779.4" cy="97.2" r="2.6"/><circle cx="781.1" cy="99.8" r="2.6"/><circle cx="788.4" cy="106.2" r="2.6"/><circle cx="788.4" cy="113.4" r="2.6"/><circle cx="779.4" cy="108.3" r="2.6"/><circle cx="779.4" cy="115.1" r="2.6"/><circle cx="779.4" cy="120.2" r="2.6"/><circle cx="779.4" cy="125.4" r="2.6"/><circle cx="779.4" cy="130.5" r="2.6"/><circle cx="779.4" cy="134.8" r="2.6"/><circle cx="779.4" cy="140.7" r="2.6"/><circle cx="781.6" cy="140.7" r="2.6"/><circle cx="779.4" cy="149.3" r="2.6"/><circle cx="781.6" cy="149.3" r="2.6"/><circle cx="767.4" cy="124.2" r="2.6"/><circle cx="767.4" cy="130.1" r="2.6"/><circle cx="773.4" cy="130.1" r="2.6"/><circle cx="741.5" cy="133.2" r="2.6"/><circle cx="739.3" cy="139.0" r="2.6"/><circle cx="744.4" cy="140.7" r="2.6"/><circle cx="752.6" cy="137.3" r="2.6"/><circle cx="750.4" cy="143.6" r="2.6"/><circle cx="766.6" cy="138.5" r="2.6"/><circle cx="769.7" cy="147.2" r="2.6"/><circle cx="773.8" cy="145.3" r="2.6"/><circle cx="762.7" cy="149.3" r="2.6"/><circle cx="741.0" cy="151.0" r="2.6"/><circle cx="739.3" cy="153.5" r="2.6"/><circle cx="751.2" cy="152.7" r="2.6"/><circle cx="751.2" cy="156.1" r="2.6"/><circle cx="761.5" cy="157.5" r="2.6"/><circle cx="766.9" cy="157.5" r="2.6"/><circle cx="742.3" cy="161.6" r="2.6"/><circle cx="739.6" cy="166.3" r="2.6"/><circle cx="739.6" cy="169.8" r="2.6"/><circle cx="773.4" cy="164.6" r="2.6"/><circle cx="786.2" cy="157.5" r="2.6"/><circle cx="781.6" cy="159.5" r="2.6"/><circle cx="779.4" cy="169.8" r="2.6"/><circle cx="783.7" cy="167.2" r="2.6"/><circle cx="787.1" cy="171.5" r="2.6"/><circle cx="807.2" cy="170.3" r="2.6"/><circle cx="740.6" cy="176.9" r="2.6"/><circle cx="746.1" cy="174.9" r="2.6"/><circle cx="751.2" cy="174.9" r="2.6"/><circle cx="750.4" cy="179.1" r="2.6"/><circle cx="762.7" cy="172.3" r="2.6"/><circle cx="762.7" cy="174.9" r="2.6"/><circle cx="769.1" cy="173.2" r="2.6"/><circle cx="769.1" cy="176.6" r="2.6"/><circle cx="769.1" cy="180.9" r="2.6"/><circle cx="769.1" cy="185.1" r="2.6"/><circle cx="786.6" cy="177.4" r="2.6"/><circle cx="778.5" cy="185.1" r="2.6"/><circle cx="785.4" cy="183.4" r="2.6"/><circle cx="794.8" cy="186.0" r="2.6"/><circle cx="807.2" cy="193.3" r="2.6"/><circle cx="834.5" cy="182.1" r="2.6"/><circle cx="825.5" cy="188.9" r="2.6"/><circle cx="835.7" cy="187.2" r="2.6"/><circle cx="737.6" cy="185.1" r="2.6"/><circle cx="741.0" cy="188.5" r="2.6"/><circle cx="747.8" cy="186.8" r="2.6"/><circle cx="752.9" cy="186.0" r="2.6"/><circle cx="760.6" cy="186.0" r="2.6"/><circle cx="759.8" cy="190.2" r="2.6"/><circle cx="766.6" cy="192.0" r="2.6"/><circle cx="778.5" cy="188.5" r="2.6"/><circle cx="785.4" cy="190.2" r="2.6"/><circle cx="795.6" cy="192.0" r="2.6"/><circle cx="795.6" cy="200.5" r="2.6"/><circle cx="783.7" cy="200.5" r="2.6"/><circle cx="782.0" cy="197.1" r="2.6"/><circle cx="770.0" cy="197.1" r="2.6"/><circle cx="773.4" cy="203.9" r="2.6"/><circle cx="761.5" cy="199.6" r="2.6"/><circle cx="755.5" cy="193.7" r="2.6"/><circle cx="741.0" cy="199.6" r="2.6"/><circle cx="751.2" cy="199.6" r="2.6"/><circle cx="749.5" cy="204.8" r="2.6"/><circle cx="761.5" cy="205.6" r="2.6"/><circle cx="766.6" cy="208.2" r="2.6"/><circle cx="786.2" cy="207.3" r="2.6"/><circle cx="807.6" cy="209.0" r="2.6"/><circle cx="815.2" cy="211.6" r="2.6"/><circle cx="823.8" cy="197.1" r="2.6"/><circle cx="831.5" cy="193.7" r="2.6"/><circle cx="795.6" cy="214.2" r="2.6"/><circle cx="732.4" cy="218.4" r="2.6"/><circle cx="732.4" cy="234.6" r="2.6"/><circle cx="739.3" cy="207.3" r="2.6"/><circle cx="735.9" cy="210.7" r="2.6"/><circle cx="739.2" cy="152.6" r="2.6"/><circle cx="751.4" cy="153.8" r="2.6"/><circle cx="762.2" cy="157.0" r="2.6"/><circle cx="767.4" cy="156.4" r="2.6"/><circle cx="740.5" cy="162.8" r="2.6"/><circle cx="739.2" cy="167.9" r="2.6"/><circle cx="773.1" cy="164.1" r="2.6"/><circle cx="781.4" cy="159.0" r="2.6"/><circle cx="786.5" cy="157.0" r="2.6"/><circle cx="780.1" cy="169.2" r="2.6"/><circle cx="786.5" cy="169.2" r="2.6"/><circle cx="745.6" cy="173.0" r="2.6"/><circle cx="750.7" cy="175.0" r="2.6"/><circle cx="762.2" cy="173.0" r="2.6"/><circle cx="769.3" cy="174.3" r="2.6"/><circle cx="740.5" cy="176.9" r="2.6"/><circle cx="749.4" cy="179.4" r="2.6"/><circle cx="769.3" cy="183.3" r="2.6"/><circle cx="761.0" cy="184.6" r="2.6"/><circle cx="737.9" cy="185.2" r="2.6"/><circle cx="743.0" cy="188.4" r="2.6"/><circle cx="753.3" cy="188.4" r="2.6"/><circle cx="764.8" cy="191.0" r="2.6"/><circle cx="778.2" cy="184.6" r="2.6"/><circle cx="786.5" cy="184.6" r="2.6"/><circle cx="794.2" cy="184.6" r="2.6"/><circle cx="786.5" cy="192.2" r="2.6"/><circle cx="781.4" cy="197.4" r="2.6"/><circle cx="795.5" cy="191.0" r="2.6"/><circle cx="795.5" cy="201.2" r="2.6"/><circle cx="807.7" cy="170.5" r="2.6"/><circle cx="807.7" cy="193.5" r="2.6"/><circle cx="834.5" cy="182.0" r="2.6"/><circle cx="824.9" cy="189.0" r="2.6"/><circle cx="741.8" cy="198.6" r="2.6"/><circle cx="750.7" cy="198.6" r="2.6"/><circle cx="762.2" cy="201.2" r="2.6"/><circle cx="771.2" cy="202.5" r="2.6"/><circle cx="736.6" cy="206.3" r="2.6"/><circle cx="732.2" cy="217.8" r="2.6"/><circle cx="786.5" cy="207.6" r="2.6"/><circle cx="778.9" cy="208.9" r="2.6"/><circle cx="807.7" cy="208.9" r="2.6"/><circle cx="814.7" cy="211.4" r="2.6"/><circle cx="842.9" cy="205.0" r="2.6"/><circle cx="796.1" cy="214.0" r="2.6"/><circle cx="804.5" cy="216.5" r="2.6"/><circle cx="811.5" cy="217.2" r="2.6"/><circle cx="726.4" cy="269.0" r="2.6"/><circle cx="725.8" cy="280.5" r="2.6"/><circle cx="732.2" cy="252.4" r="2.6"/><circle cx="732.8" cy="262.6" r="2.6"/><circle cx="712.5" cy="268.4" r="2.6"/><circle cx="712.5" cy="273.5" r="2.6"/><circle cx="726.2" cy="269.2" r="2.6"/><circle cx="712.5" cy="289.7" r="2.6"/><circle cx="703.1" cy="347.7" r="2.6"/><circle cx="703.1" cy="355.4" r="2.6"/><circle cx="715.1" cy="342.6" r="2.6"/><circle cx="714.2" cy="352.0" r="2.6"/><circle cx="723.3" cy="348.6" r="2.6"/><circle cx="723.3" cy="354.6" r="2.6"/><circle cx="723.3" cy="360.5" r="2.6"/><circle cx="732.2" cy="346.9" r="2.6"/><circle cx="732.2" cy="351.2" r="2.6"/><circle cx="743.2" cy="378.1" r="2.6"/><circle cx="748.4" cy="378.1" r="2.6"/><circle cx="748.4" cy="385.3" r="2.6"/><circle cx="748.4" cy="395.2" r="2.6"/><circle cx="734.7" cy="332.4" r="2.6"/><circle cx="726.2" cy="281.2" r="2.6"/><circle cx="726.2" cy="286.3" r="2.6"/><circle cx="807.4" cy="170.2" r="2.6"/><circle cx="807.4" cy="193.2" r="2.6"/><circle cx="807.8" cy="208.7" r="2.6"/><circle cx="862.4" cy="189.3" r="2.6"/><circle cx="862.4" cy="199.5" r="2.6"/><circle cx="949.4" cy="236.2" r="2.6"/><circle cx="949.4" cy="240.2" r="2.6"/><circle cx="989.4" cy="238.8" r="2.6"/><circle cx="978.1" cy="268.1" r="2.6"/><circle cx="936.1" cy="276.7" r="2.6"/><circle cx="999.6" cy="249.0" r="2.6"/><circle cx="940.2" cy="353.4" r="2.6"/><circle cx="965.2" cy="372.9" r="2.6"/><circle cx="998.6" cy="373.9" r="2.6"/><circle cx="969.9" cy="358.2" r="2.6"/><circle cx="812.3" cy="211.2" r="2.6"/><circle cx="816.4" cy="212.2" r="2.6"/><circle cx="824.6" cy="189.7" r="2.6"/><circle cx="834.8" cy="181.5" r="2.6"/><circle cx="843.0" cy="205.0" r="2.6"/><circle cx="894.2" cy="206.1" r="2.6"/><circle cx="898.3" cy="209.1" r="2.6"/><circle cx="1004.1" cy="239.2" r="2.6"/><circle cx="1005.1" cy="243.3" r="2.6"/><circle cx="1000.0" cy="249.4" r="2.6"/><circle cx="1065.5" cy="247.4" r="2.6"/><circle cx="1065.9" cy="257.6" r="2.6"/><circle cx="1065.9" cy="268.9" r="2.6"/><circle cx="1099.3" cy="276.1" r="2.6"/><circle cx="1109.5" cy="282.2" r="2.6"/><circle cx="1121.4" cy="278.1" r="2.6"/><circle cx="1125.3" cy="282.2" r="2.6"/><circle cx="1150.5" cy="283.6" r="2.6"/><circle cx="1157.2" cy="290.8" r="2.6"/><circle cx="1165.4" cy="288.8" r="2.6"/><circle cx="1165.4" cy="297.6" r="2.6"/><circle cx="1165.4" cy="302.1" r="2.6"/><circle cx="1194.5" cy="298.6" r="2.6"/><circle cx="1199.6" cy="272.0" r="2.6"/><circle cx="1199.6" cy="279.1" r="2.6"/><circle cx="1078.8" cy="296.1" r="2.6"/><circle cx="1134.1" cy="295.5" r="2.6"/><circle cx="1000.0" cy="354.9" r="2.6"/><circle cx="1000.0" cy="362.0" r="2.6"/><circle cx="1000.0" cy="374.3" r="2.6"/><circle cx="1028.7" cy="365.1" r="2.6"/><circle cx="1037.3" cy="373.3" r="2.6"/><circle cx="1047.5" cy="371.2" r="2.6"/><circle cx="1059.4" cy="402.0" r="2.6"/><circle cx="1091.1" cy="412.2" r="2.6"/><circle cx="1110.1" cy="408.1" r="2.6"/><circle cx="1120.8" cy="422.4" r="2.6"/><circle cx="1130.4" cy="420.4" r="2.6"/><circle cx="1153.5" cy="409.1" r="2.6"/><circle cx="1153.5" cy="422.0" r="2.6"/><circle cx="1153.5" cy="456.2" r="2.6"/><circle cx="1103.4" cy="391.7" r="2.6"/><circle cx="1110.5" cy="399.9" r="2.6"/><circle cx="1012.3" cy="254.6" r="2.6"/><circle cx="1042.0" cy="266.8" r="2.6"/><circle cx="1026.6" cy="273.0" r="2.6"/><circle cx="1201.3" cy="272.1" r="2.6"/><circle cx="1201.3" cy="278.2" r="2.6"/><circle cx="1201.3" cy="286.4" r="2.6"/><circle cx="1194.1" cy="298.7" r="2.6"/><circle cx="1201.3" cy="307.3" r="2.6"/><circle cx="1230.9" cy="306.3" r="2.6"/><circle cx="1230.9" cy="309.4" r="2.6"/><circle cx="1284.2" cy="297.5" r="2.6"/><circle cx="1284.2" cy="307.3" r="2.6"/><circle cx="1319.4" cy="310.4" r="2.6"/><circle cx="1346.2" cy="311.4" r="2.6"/><circle cx="1347.0" cy="316.5" r="2.6"/><circle cx="1364.4" cy="316.5" r="2.6"/><circle cx="1364.4" cy="321.6" r="2.6"/><circle cx="1306.7" cy="323.1" r="2.6"/><circle cx="1250.0" cy="318.0" r="2.6"/><circle cx="1263.3" cy="318.0" r="2.6"/><circle cx="1210.5" cy="407.2" r="2.6"/><circle cx="1210.5" cy="414.8" r="2.6"/><circle cx="1218.7" cy="426.0" r="2.6"/><circle cx="1219.1" cy="431.2" r="2.6"/><circle cx="1223.4" cy="409.3" r="2.6"/><circle cx="1236.7" cy="390.2" r="2.6"/><circle cx="1257.6" cy="422.0" r="2.6"/><circle cx="1293.4" cy="439.4" r="2.6"/><circle cx="1324.1" cy="409.7" r="2.6"/><circle cx="1324.1" cy="414.8" r="2.6"/><circle cx="1313.8" cy="413.2" r="2.6"/><circle cx="1347.6" cy="438.3" r="2.6"/><circle cx="1351.3" cy="447.5" r="2.6"/><circle cx="1371.2" cy="471.1" r="2.6"/><circle cx="1381.4" cy="477.2" r="2.6"/><circle cx="1379.4" cy="482.3" r="2.6"/><circle cx="1194.1" cy="313.5" r="2.6"/><circle cx="1214.6" cy="317.6" r="2.6"/><circle cx="1276.0" cy="316.5" r="2.6"/><circle cx="1364.4" cy="316.1" r="2.6"/><circle cx="1364.4" cy="321.0" r="2.6"/><circle cx="1371.1" cy="471.2" r="2.6"/><circle cx="1381.1" cy="477.4" r="2.6"/><circle cx="1378.8" cy="482.5" r="2.6"/><circle cx="1446.5" cy="496.2" r="2.6"/><circle cx="1427.6" cy="398.6" r="2.6"/><circle cx="1437.6" cy="414.2" r="2.6"/><circle cx="1350.0" cy="318.8" r="2.6"/><circle cx="1353.3" cy="322.1" r="2.6"/><circle cx="1005.5" cy="189.2" r="2.6"/><circle cx="1005.5" cy="192.3" r="2.6"/><circle cx="1005.5" cy="215.5" r="2.6"/></g>
<polyline points="116.9,349.7 118.8,339.9 121.8,326.2 124.1,330.1 126.7,312.4 129.6,294.8 131.6,296.7 133.6,306.6 135.5,302.6 137.5,311.5 140.4,310.5 142.4,308.5 144.4,330.1 147.3,322.3 150.2,326.2 153.2,326.2 156.1,322.3 158.1,337.0 161.0,324.2 164.0,332.1 166.9,326.2 168.9,333.1 171.8,329.1 175.8,339.9 178.7,339.0 181.7,343.9 184.6,339.0 187.5,347.8 190.5,351.7 192.4,360.5 196.4,347.8 200.3,339.0 203.2,342.9 206.2,337.0 209.1,331.1 212.1,339.0 216.0,339.9 219.0,343.9 221.9,340.9 224.8,345.8 227.8,340.9 231.7,326.2 235.6,336.0 238.6,327.2 241.5,341.9 244.5,338.0 246.9,339.0 249.4,339.0 252.3,345.8 255.3,346.8 259.2,342.9 263.1,336.0 267.0,332.1 270.0,336.1 272.9,338.0 276.9,335.0 279.3,335.3 281.8,333.1 284.7,347.8 287.7,352.7 289.7,355.6 291.7,355.6 293.7,355.5 297.4,351.8 299.9,354.3 302.4,353.0 306.1,343.1 309.8,340.6 312.3,353.0 316.0,340.6 318.1,336.1 320.1,335.5 322.2,333.2 324.7,343.1 328.4,332.0 330.9,338.2 334.6,329.5 338.3,336.9 340.8,340.7 343.2,340.6 345.7,350.5 348.2,345.6 350.7,339.4 353.1,341.8 355.6,340.6 359.3,345.6 360.6,348.1 364.3,330.7 366.8,326.6 369.2,325.8 371.7,323.2 374.2,320.8 377.9,328.3 380.4,320.8 382.8,323.4 385.3,328.3 389.0,323.3 391.5,321.0 394.0,318.4 397.7,312.2 401.4,320.8 403.9,319.9 406.4,318.4 408.8,316.2 411.3,318.4 413.8,327.0 417.5,310.9 421.2,328.3 424.9,313.4 428.6,320.8 431.1,308.5 434.8,310.9 437.3,303.5 439.8,309.7 442.3,291.1 446.0,297.3 448.5,289.3 450.9,283.7 454.6,281.2 458.4,292.4 460.8,290.8 463.3,291.1 465.5,293.0 467.8,292.3 470.0,291.1 473.0,306.0 475.2,298.3 477.4,293.6 481.1,303.5 484.9,306.0 488.6,308.5 492.3,298.6 494.8,294.9 497.2,288.6 500.9,304.7 504.7,299.8 508.4,303.5 512.1,288.6 515.8,291.1 519.5,272.6 523.2,286.2 526.9,282.5 529.4,284.0 531.9,288.6 534.4,287.3 536.8,284.9 540.6,293.6 544.3,281.2 548.0,287.4 551.7,307.2 554.2,283.7 556.7,287.0 559.1,293.6 561.6,293.3 564.1,297.3 566.6,299.6 569.0,298.6 571.5,308.5 574.5,333.2 577.7,291.1 581.4,298.6 583.9,298.5 586.4,301.0 590.1,283.7 593.8,296.1 596.3,301.0 598.7,308.5 602.5,297.3 606.2,310.9 608.6,316.8 611.1,318.4 613.6,316.3 616.1,310.9 619.8,304.7 623.5,313.4 626.0,317.4 628.5,323.3 630.9,324.1 633.4,320.8 635.9,319.8 638.4,318.4 640.8,316.7 643.3,313.4 645.4,313.0 647.4,317.1 649.5,316.9 651.6,319.0 653.7,317.9 655.9,320.5 658.2,318.7 660.5,320.4 662.8,319.8 665.0,319.0 667.3,320.4 670.7,317.0 673.0,315.8 675.3,315.7 677.5,317.9 680.1,315.3 682.7,314.5 685.2,317.9 688.6,314.5 690.8,317.1 692.9,318.7 696.3,323.9 699.7,327.3 703.1,330.7 705.7,320.4 707.8,317.4 710.0,318.7 712.5,310.2 715.1,315.3 718.5,316.2 721.9,317.9 724.5,309.4 726.6,309.7 728.7,308.5 730.9,307.4 733.0,307.6 734.7,313.6 737.3,289.7 740.7,284.6 742.4,303.4 744.1,282.9 746.7,308.5 748.8,289.7 750.9,272.7 754.3,323.9 756.9,303.4 758.6,315.3 761.2,289.7 763.7,315.3 766.3,307.6 769.7,317.0 771.4,340.9 773.1,318.7 775.7,332.4 777.4,332.4 779.9,277.8 782.5,303.4 785.1,286.3 787.6,310.2 790.2,317.0 792.7,306.8 795.3,296.6 797.0,315.3 800.4,303.4 803.8,301.7 805.5,279.5 808.9,267.5 812.4,271.0 815.8,269.2 818.3,268.9 820.9,265.8 823.4,240.2 826.6,230.6 828.7,235.7 830.7,250.1 833.8,240.9 836.8,254.2 838.9,246.0 840.9,256.2 843.0,270.5 845.0,258.3 847.1,264.3 849.1,270.5 851.2,277.9 853.2,286.9 855.3,289.0 857.3,276.7 859.9,259.2 862.4,241.9 865.5,256.2 868.6,270.5 870.6,268.5 873.7,239.8 875.7,260.3 877.4,241.9 879.8,289.0 882.9,282.8 886.0,286.9 888.0,278.9 890.1,267.2 892.1,260.3 895.2,262.4 898.3,280.8 900.3,289.0 902.4,270.5 904.4,293.1 906.4,284.9 909.5,276.7 911.6,297.2 913.6,284.9 916.7,303.3 918.7,304.4 920.8,301.2 922.8,303.3 925.9,306.4 927.9,301.2 930.0,309.4 932.0,299.2 934.1,321.7 937.2,311.5 940.2,323.8 943.3,295.1 945.3,317.6 947.4,297.2 950.5,303.3 951.5,311.5 954.6,296.1 957.6,309.4 959.7,310.4 961.7,315.6 964.8,323.8 966.8,318.7 968.9,311.5 970.9,307.9 973.0,301.2 976.0,315.6 978.1,303.3 981.2,323.8 984.2,317.6 986.8,302.7 989.4,292.0 991.4,302.0 993.4,309.4 996.5,315.6 1000.0,311.9 1002.0,316.0 1004.1,299.6 1007.2,316.0 1010.2,307.8 1012.3,318.0 1014.7,328.3 1017.4,303.7 1020.5,320.1 1023.5,318.0 1025.6,327.2 1028.7,320.1 1031.7,316.0 1034.8,309.8 1036.8,325.2 1038.9,323.6 1040.9,323.1 1043.0,330.3 1045.4,311.9 1048.1,330.3 1050.2,318.0 1052.8,330.3 1055.3,318.0 1057.7,320.1 1059.4,344.6 1062.4,332.4 1065.5,306.8 1068.6,328.3 1070.6,324.2 1073.7,342.6 1075.7,340.9 1077.8,338.5 1080.9,334.4 1083.9,350.8 1086.0,342.0 1088.0,337.5 1090.1,348.7 1092.1,338.5 1094.2,332.4 1096.2,329.9 1098.3,330.3 1100.3,342.5 1102.4,350.8 1104.4,341.3 1106.4,334.4 1108.5,340.6 1110.5,344.6 1112.6,345.5 1114.6,342.6 1117.7,327.2 1120.8,346.7 1123.8,338.5 1125.9,339.4 1127.9,336.4 1130.0,339.9 1132.0,344.6 1134.1,369.2 1137.2,354.9 1139.2,363.1 1141.2,355.3 1143.3,348.7 1145.3,342.7 1147.4,337.7 1149.4,330.3 1151.5,340.9 1153.5,354.9 1155.6,345.7 1157.6,334.4 1159.7,348.7 1161.7,345.9 1163.8,340.5 1166.8,350.8 1169.9,340.5 1172.5,351.3 1175.0,359.0 1177.6,353.9 1180.1,352.8 1182.2,352.7 1184.2,348.7 1186.3,343.3 1188.3,341.6 1190.0,344.2 1192.0,347.6 1194.1,352.4 1197.2,348.3 1200.2,358.5 1203.3,363.6 1206.4,356.4 1208.8,346.2 1211.5,356.4 1214.6,365.7 1216.6,364.1 1218.7,361.6 1220.7,364.9 1222.8,364.6 1224.8,354.4 1226.8,364.6 1229.9,354.4 1233.0,350.3 1235.0,361.6 1237.1,355.2 1239.1,350.3 1241.2,350.6 1243.2,347.2 1246.3,352.4 1249.4,352.4 1251.4,356.6 1253.5,360.5 1256.5,377.9 1259.6,356.4 1262.7,350.3 1265.7,360.5 1268.2,370.8 1271.9,352.4 1274.3,348.3 1277.0,362.6 1279.0,356.1 1281.1,351.3 1284.2,358.5 1286.2,358.7 1288.3,360.5 1291.3,376.9 1294.4,381.0 1297.5,370.8 1300.5,384.1 1303.6,368.7 1306.7,365.7 1308.7,362.7 1310.8,362.6 1312.8,362.8 1314.9,366.7 1316.9,362.6 1320.0,368.7 1323.1,372.8 1325.1,368.7 1327.2,367.7 1329.2,363.4 1331.2,357.5 1334.3,376.9 1337.4,385.1 1340.5,361.6 1342.5,364.8 1344.6,363.6 1347.6,361.6 1349.7,361.6 1351.7,364.6 1353.3,365.4 1355.5,387.5 1359.3,420.8 1362.2,378.7 1364.4,369.8 1366.6,376.4 1370.0,418.6 1372.2,409.9 1374.4,405.3 1376.6,406.3 1378.8,403.1 1381.1,414.2 1383.3,396.4 1386.6,378.7 1389.9,347.6 1393.3,365.4 1396.6,392.0 1398.8,396.4 1401.5,429.7 1404.3,383.1 1406.6,356.5 1408.8,380.9 1411.0,383.1 1412.1,396.4 1414.3,365.4 1416.5,365.4 1419.9,349.8 1423.2,343.2 1426.5,331.0 1429.9,337.6 1432.6,332.8 1435.4,327.6 1438.7,343.2 1440.9,358.3 1443.2,374.2 1445.4,387.5 1447.6,403.1 1450.9,420.8 1454.3,392.0 1456.5,369.8 1459.4,368.0 1462.2,365.4" fill="none" stroke="#ff7f0e" stroke-width="2.3" stroke-linejoin="round"/>
</g></svg>
<rect x="115.6" y="38.6" width="1347.0" height="479.8" fill="none" stroke="#000" stroke-width="1.1"/>
<g stroke="#000" stroke-width="1.1"><line x1="115.60" y1="518.4" x2="115.60" y2="523.3"/><line x1="284.02" y1="518.4" x2="284.02" y2="523.3"/><line x1="452.44" y1="518.4" x2="452.44" y2="523.3"/><line x1="620.86" y1="518.4" x2="620.86" y2="523.3"/><line x1="789.28" y1="518.4" x2="789.28" y2="523.3"/><line x1="957.70" y1="518.4" x2="957.70" y2="523.3"/><line x1="1126.12" y1="518.4" x2="1126.12" y2="523.3"/><line x1="1294.54" y1="518.4" x2="1294.54" y2="523.3"/><line x1="110.7" y1="51.43" x2="115.6" y2="51.43"/><line x1="110.7" y1="107.56" x2="115.6" y2="107.56"/><line x1="110.7" y1="163.70" x2="115.6" y2="163.70"/><line x1="110.7" y1="219.83" x2="115.6" y2="219.83"/><line x1="110.7" y1="275.97" x2="115.6" y2="275.97"/><line x1="110.7" y1="332.10" x2="115.6" y2="332.10"/><line x1="110.7" y1="388.24" x2="115.6" y2="388.24"/><line x1="110.7" y1="444.37" x2="115.6" y2="444.37"/><line x1="110.7" y1="500.50" x2="115.6" y2="500.50"/></g>
<rect x="1047.3" y="48.60" width="405.9" height="79.9" rx="3.2" ry="3.2" fill="#fff" fill-opacity="0.8" stroke="#cccccc" stroke-opacity="0.8" stroke-width="1.1"/>
<circle cx="1073.5" cy="63.50" r="2.75" fill="#1f77b4"/>
<line x1="1052.9" y1="102.00" x2="1092.0" y2="102.00" stroke="#ff7f0e" stroke-width="2.15"/>
<rect x="777.1" y="575.4" width="532.9" height="478.5" fill="#e6e6e6"/>
<g stroke="#b0b0b0" stroke-width="1.1" stroke-dasharray="1.11 1.83"><line x1="115.60" y1="575.4" x2="115.60" y2="1053.9"/><line x1="284.02" y1="575.4" x2="284.02" y2="1053.9"/><line x1="452.44" y1="575.4" x2="452.44" y2="1053.9"/><line x1="620.86" y1="575.4" x2="620.86" y2="1053.9"/><line x1="789.28" y1="575.4" x2="789.28" y2="1053.9"/><line x1="957.70" y1="575.4" x2="957.70" y2="1053.9"/><line x1="1126.12" y1="575.4" x2="1126.12" y2="1053.9"/><line x1="1294.54" y1="575.4" x2="1294.54" y2="1053.9"/><line x1="115.6" y1="1034.10" x2="1462.6" y2="1034.10"/><line x1="115.6" y1="957.30" x2="1462.6" y2="957.30"/><line x1="115.6" y1="880.50" x2="1462.6" y2="880.50"/><line x1="115.6" y1="803.70" x2="1462.6" y2="803.70"/><line x1="115.6" y1="726.90" x2="1462.6" y2="726.90"/><line x1="115.6" y1="650.10" x2="1462.6" y2="650.10"/></g>
<svg x="115.6" y="575.4" width="1347" height="478.5" overflow="hidden"><g transform="translate(-115.6,-575.4)">
<polygon points="116.5,791.0 117.5,811.0 118.5,831.0 119.5,842.8 120.5,848.6 121.5,854.3 122.5,860.0 123.5,865.7 124.5,871.4 125.5,877.4 126.5,907.2 127.5,917.2 128.5,895.7 129.5,896.2 130.5,903.8 131.5,911.4 132.5,919.0 133.5,915.1 134.5,908.1 135.5,901.1 136.5,903.1 137.5,912.4 138.5,926.1 139.5,958.1 140.5,958.8 141.5,959.4 142.5,960.1 143.5,960.8 144.5,962.5 145.5,965.5 146.5,968.4 147.5,970.9 148.5,973.5 149.5,975.8 150.5,978.1 151.5,980.4 152.5,982.6 153.5,984.9 154.5,989.7 155.5,994.9 156.5,995.0 157.5,995.0 158.5,995.0 159.5,995.0 160.5,992.9 161.5,983.9 162.5,982.7 163.5,986.4 164.5,990.1 165.5,990.4 166.5,985.2 167.5,980.1 168.5,974.9 169.5,969.1 170.5,956.7 171.5,938.7 172.5,935.9 173.5,934.9 174.5,933.9 175.5,932.9 176.5,931.9 177.5,928.9 178.5,925.9 179.5,922.9 180.5,919.9 181.5,926.7 182.5,933.7 183.5,937.5 184.5,938.7 185.5,939.9 186.5,941.1 187.5,958.6 188.5,975.7 189.5,983.1 190.5,979.0 191.5,974.9 192.5,970.1 193.5,969.0 194.5,968.6 195.5,968.3 196.5,968.0 197.5,967.6 198.5,967.9 199.5,968.1 200.5,968.4 201.5,968.6 202.5,968.9 203.5,969.1 204.5,967.1 205.5,962.6 206.5,958.1 207.5,954.1 208.5,951.8 209.5,949.4 210.5,947.1 211.5,944.8 212.5,942.3 213.5,939.5 214.5,936.7 215.5,933.9 216.5,932.7 217.5,935.1 218.5,937.5 219.5,939.9 220.5,942.1 221.5,943.4 222.5,944.7 223.5,946.1 224.5,947.4 225.5,948.0 226.5,947.7 227.5,947.4 228.5,947.0 229.5,946.7 230.5,934.5 231.5,912.5 232.5,902.6 233.5,896.1 234.5,895.3 235.5,894.5 236.5,893.7 237.5,895.1 238.5,903.1 239.5,911.1 240.5,912.5 241.5,912.5 242.5,912.5 243.5,912.5 244.5,912.5 245.5,912.5 246.5,914.2 247.5,919.2 248.5,924.2 249.5,930.5 250.5,948.5 251.5,954.3 252.5,946.8 253.5,939.3 254.5,933.8 255.5,934.8 256.5,935.8 257.5,936.8 258.5,939.8 259.5,940.6 260.5,937.6 261.5,934.6 262.5,930.8 263.5,922.1 264.5,913.5 265.5,907.9 266.5,903.7 267.5,899.4 268.5,897.9 269.5,899.7 270.5,901.4 271.5,908.5 272.5,926.1 273.5,931.6 274.5,937.1 275.5,942.3 276.5,945.8 277.5,949.3 278.5,952.8 279.5,954.4 280.5,955.9 281.5,957.4 282.5,973.5 283.5,991.6 284.5,995.9 285.5,1000.2 286.5,1004.5 287.5,1009.4 288.5,1014.5 289.5,1019.4 290.5,1021.8 291.5,1021.8 292.5,1021.8 293.5,1021.8 294.5,1021.8 295.5,1021.8 296.5,1021.8 297.5,1021.8 298.5,1021.8 299.5,1021.8 300.5,1022.4 301.5,1023.1 302.5,1023.7 303.5,1024.4 304.5,1025.1 305.5,1025.3 306.5,1025.4 307.5,1025.6 308.5,1025.8 309.5,1026.0 310.5,1026.2 311.5,1026.3 312.5,1026.5 313.5,1026.7 314.5,1026.9 315.5,1027.1 316.5,1027.2 317.5,1027.4 318.5,1027.6 319.5,1027.8 320.5,1028.0 321.5,1028.1 322.5,1028.3 323.5,1028.5 324.5,1028.7 325.5,1028.8 326.5,1029.0 327.5,1029.2 328.5,1029.4 329.5,1029.5 330.5,1029.5 331.5,1029.4 332.5,1029.4 333.5,1029.4 334.5,1029.4 335.5,1029.4 336.5,1029.4 337.5,1029.4 338.5,1029.4 339.5,1029.4 340.5,1029.4 341.5,1029.3 342.5,1029.3 343.5,1029.3 344.5,1029.3 345.5,1029.3 346.5,1029.3 347.5,1029.3 348.5,1029.3 349.5,1029.3 350.5,1029.3 351.5,1029.2 352.5,1029.2 353.5,1029.2 354.5,1029.2 355.5,1029.2 356.5,1029.2 357.5,1029.2 358.5,1029.2 359.5,1029.2 360.5,1029.2 361.5,1029.1 362.5,1029.1 363.5,1029.1 364.5,1029.1 365.5,1029.1 366.5,1029.1 367.5,1029.1 368.5,1029.1 369.5,1029.1 370.5,1029.1 371.5,1029.0 372.5,1029.0 373.5,1029.0 374.5,1029.0 375.5,1029.0 376.5,1029.0 377.5,1029.0 378.5,1029.0 379.5,1029.0 380.5,1029.0 381.5,1029.0 382.5,1029.0 383.5,1029.0 384.5,1029.0 385.5,1029.1 386.5,1029.1 387.5,1029.1 388.5,1029.1 389.5,1029.1 390.5,1029.1 391.5,1029.1 392.5,1029.1 393.5,1029.1 394.5,1029.1 395.5,1029.2 396.5,1029.2 397.5,1029.2 398.5,1029.2 399.5,1029.2 400.5,1029.2 401.5,1029.2 402.5,1029.2 403.5,1029.2 404.5,1029.2 405.5,1029.3 406.5,1029.3 407.5,1029.3 408.5,1029.3 409.5,1029.3 410.5,1029.3 411.5,1029.3 412.5,1029.3 413.5,1029.3 414.5,1029.3 415.5,1029.4 416.5,1029.4 417.5,1029.4 418.5,1029.4 419.5,1029.4 420.5,1029.4 421.5,1029.4 422.5,1029.4 423.5,1029.4 424.5,1029.4 425.5,1029.5 426.5,1029.5 427.5,1029.5 428.5,1029.4 429.5,1029.4 430.5,1029.4 431.5,1029.4 432.5,1029.4 433.5,1029.4 434.5,1029.3 435.5,1029.3 436.5,1029.3 437.5,1029.3 438.5,1029.3 439.5,1029.3 440.5,1029.3 441.5,1029.2 442.5,1029.2 443.5,1029.2 444.5,1029.2 445.5,1029.2 446.5,1029.2 447.5,1029.2 448.5,1029.1 449.5,1029.1 450.5,1029.1 451.5,1029.1 452.5,1029.1 453.5,1029.1 454.5,1029.0 455.5,1029.0 456.5,1029.0 457.5,1029.0 458.5,1029.0 459.5,1029.0 460.5,1029.0 461.5,1028.9 462.5,1028.9 463.5,1028.9 464.5,1028.9 465.5,1028.9 466.5,1028.9 467.5,1028.9 468.5,1028.8 469.5,1028.8 470.5,1028.8 471.5,1028.8 472.5,1028.8 473.5,1028.8 474.5,1028.7 475.5,1028.7 476.5,1028.7 477.5,1028.7 478.5,1028.7 479.5,1028.8 480.5,1028.8 481.5,1028.8 482.5,1028.8 483.5,1028.8 484.5,1028.8 485.5,1028.8 486.5,1028.8 487.5,1028.8 488.5,1028.8 489.5,1028.8 490.5,1028.8 491.5,1028.8 492.5,1028.8 493.5,1028.8 494.5,1028.8 495.5,1028.8 496.5,1028.8 497.5,1028.8 498.5,1028.8 499.5,1028.9 500.5,1028.9 501.5,1028.9 502.5,1028.9 503.5,1028.9 504.5,1028.9 505.5,1028.9 506.5,1028.9 507.5,1028.9 508.5,1028.9 509.5,1028.9 510.5,1028.9 511.5,1028.9 512.5,1028.9 513.5,1028.9 514.5,1028.9 515.5,1028.9 516.5,1028.9 517.5,1028.9 518.5,1028.9 519.5,1029.0 520.5,1029.0 521.5,1029.0 522.5,1029.0 523.5,1029.0 524.5,1029.0 525.5,1029.0 526.5,1029.0 527.5,1029.0 528.5,1029.0 529.5,1029.0 530.5,1029.0 531.5,1029.0 532.5,1029.1 533.5,1029.1 534.5,1029.1 535.5,1029.1 536.5,1029.1 537.5,1029.1 538.5,1029.1 539.5,1029.1 540.5,1029.1 541.5,1029.1 542.5,1029.2 543.5,1029.2 544.5,1029.2 545.5,1029.2 546.5,1029.2 547.5,1029.2 548.5,1029.2 549.5,1029.2 550.5,1029.2 551.5,1029.2 552.5,1029.3 553.5,1029.3 554.5,1029.3 555.5,1029.3 556.5,1029.3 557.5,1029.3 558.5,1029.3 559.5,1029.3 560.5,1029.3 561.5,1029.3 562.5,1029.4 563.5,1029.4 564.5,1029.4 565.5,1029.4 566.5,1029.4 567.5,1029.4 568.5,1029.4 569.5,1029.4 570.5,1029.4 571.5,1029.4 572.5,1029.5 573.5,1029.5 574.5,1029.5 575.5,1029.5 576.5,1029.5 577.5,1029.5 578.5,1029.5 579.5,1029.5 580.5,1029.5 581.5,1029.5 582.5,1029.5 583.5,1029.5 584.5,1029.5 585.5,1029.5 586.5,1029.5 587.5,1029.5 588.5,1029.5 589.5,1029.5 590.5,1029.5 591.5,1029.5 592.5,1029.5 593.5,1028.8 594.5,1027.4 595.5,1025.9 596.5,1024.4 597.5,1023.0 598.5,1021.5 599.5,1020.2 600.5,1019.1 601.5,1018.2 602.5,1017.4 603.5,1016.5 604.5,1015.6 605.5,1014.7 606.5,1013.8 607.5,1013.0 608.5,1012.1 609.5,1011.2 610.5,1009.5 611.5,1005.4 612.5,1001.2 613.5,997.1 614.5,992.9 615.5,984.3 616.5,936.6 617.5,895.1 618.5,823.7 619.5,772.0 620.5,772.0 621.5,772.0 622.5,772.0 623.5,772.0 624.5,772.0 625.5,772.0 626.5,772.0 627.5,772.0 628.5,772.0 629.5,772.0 630.5,772.0 631.5,772.0 632.5,772.0 633.5,772.0 634.5,772.0 635.5,772.0 636.5,772.0 637.5,772.0 638.5,799.7 639.5,829.7 640.5,859.7 641.5,876.8 642.5,881.5 643.5,886.1 644.5,890.8 645.5,892.4 646.5,892.4 647.5,892.4 648.5,892.4 649.5,834.4 650.5,802.7 651.5,802.7 652.5,802.7 653.5,802.7 654.5,802.7 655.5,802.7 656.5,802.7 657.5,802.7 658.5,858.1 659.5,884.5 660.5,884.1 661.5,883.8 662.5,883.5 663.5,883.1 664.5,882.8 665.5,882.5 666.5,882.1 667.5,804.6 668.5,772.0 669.5,772.0 670.5,772.0 671.5,772.0 672.5,772.0 673.5,820.0 674.5,897.5 675.5,909.5 676.5,921.5 677.5,925.6 678.5,925.6 679.5,925.6 680.5,925.6 681.5,925.6 682.5,925.1 683.5,924.1 684.5,923.1 685.5,922.1 686.5,921.1 687.5,920.5 688.5,920.5 689.5,920.5 690.5,920.5 691.5,926.6 692.5,937.3 693.5,948.0 694.5,958.6 695.5,959.5 696.5,956.9 697.5,954.2 698.5,951.5 699.5,869.2 700.5,833.5 701.5,833.5 702.5,833.5 703.5,833.5 704.5,833.5 705.5,833.5 706.5,833.5 707.5,833.5 708.5,833.5 709.5,833.5 710.5,846.7 711.5,882.7 712.5,918.7 713.5,911.1 714.5,893.1 715.5,879.6 716.5,879.6 717.5,879.6 718.5,879.6 719.5,908.7 720.5,961.8 721.5,962.1 722.5,962.5 723.5,962.8 724.5,963.1 725.5,963.5 726.5,963.8 727.5,964.1 728.5,965.2 729.5,967.2 730.5,969.2 731.5,971.2 732.5,973.2 733.5,975.5 734.5,979.1 735.5,982.6 736.5,986.2 737.5,989.8 738.5,993.4 739.5,996.9 740.5,996.9 741.5,996.5 742.5,996.2 743.5,995.8 744.5,995.5 745.5,995.1 746.5,991.9 747.5,985.8 748.5,979.8 749.5,973.8 750.5,973.6 751.5,976.4 752.5,979.1 753.5,981.8 754.5,981.1 755.5,979.7 756.5,978.3 757.5,976.9 758.5,975.5 759.5,974.2 760.5,972.8 761.5,971.2 762.5,968.5 763.5,965.5 764.5,962.5 765.5,959.5 766.5,956.4 767.5,948.9 768.5,941.4 769.5,933.9 770.5,926.4 771.5,918.9 772.5,918.5 773.5,918.8 774.5,919.2 775.5,919.5 776.5,919.8 777.5,920.2 778.5,920.5 779.5,934.0 780.5,965.4 781.5,967.4 782.5,969.0 783.5,969.8 784.5,959.8 785.5,949.1 786.5,941.7 787.5,937.3 788.5,932.9 789.5,928.5 790.5,925.1 791.5,925.1 792.5,925.1 793.5,925.1 794.5,925.1 795.5,925.1 796.5,925.1 797.5,925.1 798.5,925.1 799.5,930.4 800.5,937.7 801.5,946.6 802.5,964.6 803.5,981.0 804.5,990.7 805.5,996.8 806.5,1003.0 807.5,1008.1 808.5,1008.5 809.5,1008.8 810.5,1009.2 811.5,1009.6 812.5,1010.0 813.5,1010.4 814.5,1010.0 815.5,1008.1 816.5,1006.2 817.5,1004.3 818.5,1002.4 819.5,999.8 820.5,995.2 821.5,990.5 822.5,985.9 823.5,981.2 824.5,977.0 825.5,976.4 826.5,975.8 827.5,975.1 828.5,974.5 829.5,973.9 830.5,973.2 831.5,969.2 832.5,955.3 833.5,940.3 834.5,925.3 835.5,932.2 836.5,942.2 837.5,952.2 838.5,955.3 839.5,950.3 840.5,945.3 841.5,940.4 842.5,938.4 843.5,936.4 844.5,934.4 845.5,933.7 846.5,933.7 847.5,933.7 848.5,933.7 849.5,933.7 850.5,938.8 851.5,948.8 852.5,958.8 853.5,963.9 854.5,926.9 855.5,904.7 856.5,904.7 857.5,904.7 858.5,904.7 859.5,907.9 860.5,932.6 861.5,957.2 862.5,963.8 863.5,956.8 864.5,949.8 865.5,942.3 866.5,932.3 867.5,928.1 868.5,930.7 869.5,933.4 870.5,936.1 871.5,938.7 872.5,938.7 873.5,933.2 874.5,927.7 875.5,922.2 876.5,921.7 877.5,921.7 878.5,921.7 879.5,921.7 880.5,921.7 881.5,921.7 882.5,922.2 883.5,927.2 884.5,932.2 885.5,937.2 886.5,943.9 887.5,951.4 888.5,958.9 889.5,964.7 890.5,965.6 891.5,966.4 892.5,967.2 893.5,963.5 894.5,958.5 895.5,953.5 896.5,948.7 897.5,944.2 898.5,939.7 899.5,935.4 900.5,935.4 901.5,935.4 902.5,935.4 903.5,933.8 904.5,931.3 905.5,928.8 906.5,928.7 907.5,937.7 908.5,946.7 909.5,955.7 910.5,957.6 911.5,957.6 912.5,957.6 913.5,954.9 914.5,947.9 915.5,940.9 916.5,933.9 917.5,934.2 918.5,934.7 919.5,935.2 920.5,935.6 921.5,935.9 922.5,936.2 923.5,936.6 924.5,936.9 925.5,932.1 926.5,920.6 927.5,909.1 928.5,897.8 929.5,897.8 930.5,897.8 931.5,897.8 932.5,897.8 933.5,897.8 934.5,961.0 935.5,961.0 936.5,961.0 937.5,961.0 938.5,961.0 939.5,961.0 940.5,961.0 941.5,961.0 942.5,961.0 943.5,961.0 944.5,962.7 945.5,965.4 946.5,967.9 947.5,970.1 948.5,972.3 949.5,973.2 950.5,972.9 951.5,972.6 952.5,972.3 953.5,971.9 954.5,971.6 955.5,971.3 956.5,971.0 957.5,970.7 958.5,970.1 959.5,969.5 960.5,969.5 961.5,970.1 962.5,970.7 963.5,971.2 964.5,971.8 965.5,972.3 966.5,970.6 967.5,966.9 968.5,962.9 969.5,958.9 970.5,954.9 971.5,952.3 972.5,950.3 973.5,948.3 974.5,946.3 975.5,944.3 976.5,942.3 977.5,945.4 978.5,949.8 979.5,954.2 980.5,958.6 981.5,963.0 982.5,975.5 983.5,976.8 984.5,978.1 985.5,979.3 986.5,980.8 987.5,982.5 988.5,984.3 989.5,986.0 990.5,988.1 991.5,993.9 992.5,999.5 993.5,1003.6 994.5,1007.2 995.5,1007.2 996.5,1007.2 997.5,1007.3 998.5,1007.3 999.5,1007.3 1000.5,1007.3 1001.5,1007.3 1002.5,1007.2 1003.5,1007.2 1004.5,1007.2 1005.5,1007.2 1006.5,1007.2 1007.5,1007.4 1008.5,1008.0 1009.5,1008.7 1010.5,1009.4 1011.5,1010.1 1012.5,1009.0 1013.5,1005.8 1014.5,1002.5 1015.5,1001.0 1016.5,1001.1 1017.5,1001.1 1018.5,1001.2 1019.5,1001.2 1020.5,1001.2 1021.5,1002.1 1022.5,1003.5 1023.5,1004.8 1024.5,1006.2 1025.5,1007.6 1026.5,1008.9 1027.5,1009.5 1028.5,1009.7 1029.5,1010.0 1030.5,1010.3 1031.5,1010.6 1032.5,1010.8 1033.5,1010.2 1034.5,1009.3 1035.5,1008.5 1036.5,1007.7 1037.5,1006.4 1038.5,1005.0 1039.5,1003.6 1040.5,1002.3 1041.5,1000.9 1042.5,999.6 1043.5,999.0 1044.5,998.5 1045.5,998.5 1046.5,1003.4 1047.5,1008.4 1048.5,1012.5 1049.5,1012.5 1050.5,1012.5 1051.5,1012.5 1052.5,1012.5 1053.5,1012.5 1054.5,1012.5 1055.5,1012.5 1056.5,1012.9 1057.5,1014.1 1058.5,1015.3 1059.5,1016.6 1060.5,1017.2 1061.5,1016.7 1062.5,1016.2 1063.5,1015.8 1064.5,1015.3 1065.5,1014.9 1066.5,1014.4 1067.5,1013.2 1068.5,1011.2 1069.5,1009.2 1070.5,1007.3 1071.5,1005.3 1072.5,1006.6 1073.5,1009.9 1074.5,1013.1 1075.5,1014.7 1076.5,1015.4 1077.5,1016.1 1078.5,1016.9 1079.5,1017.6 1080.5,1018.3 1081.5,1019.1 1082.5,1017.8 1083.5,1016.2 1084.5,1014.6 1085.5,1012.9 1086.5,1011.3 1087.5,1009.7 1088.5,1012.5 1089.5,1015.8 1090.5,1019.1 1091.5,1019.3 1092.5,1019.3 1093.5,1019.3 1094.5,1019.3 1095.5,1019.3 1096.5,1019.3 1097.5,1019.2 1098.5,1018.8 1099.5,1018.4 1100.5,1018.0 1101.5,1017.6 1102.5,1017.1 1103.5,1016.7 1104.5,1016.3 1105.5,1016.0 1106.5,1016.3 1107.5,1016.6 1108.5,1016.8 1109.5,1017.1 1110.5,1017.4 1111.5,1016.1 1112.5,1012.0 1113.5,1007.9 1114.5,1003.8 1115.5,1002.1 1116.5,1003.7 1117.5,1005.4 1118.5,1007.8 1119.5,1011.1 1120.5,1014.4 1121.5,1017.7 1122.5,1018.9 1123.5,1018.2 1124.5,1017.7 1125.5,1017.2 1126.5,1016.6 1127.5,1016.1 1128.5,1016.3 1129.5,1017.0 1130.5,1017.6 1131.5,1018.3 1132.5,1019.1 1133.5,1018.3 1134.5,1017.2 1135.5,1016.1 1136.5,1015.0 1137.5,1013.9 1138.5,1012.7 1139.5,1012.6 1140.5,1008.6 1141.5,1000.4 1142.5,992.1 1143.5,991.6 1144.5,997.6 1145.5,1003.5 1146.5,1007.1 1147.5,1009.0 1148.5,1010.9 1149.5,1012.8 1150.5,1014.7 1151.5,1016.6 1152.5,1017.1 1153.5,1016.8 1154.5,1016.6 1155.5,1016.3 1156.5,1016.1 1157.5,1015.9 1158.5,1015.2 1159.5,1014.4 1160.5,1013.6 1161.5,1012.7 1162.5,1014.1 1163.5,1015.7 1164.5,1017.4 1165.5,1019.2 1166.5,1018.6 1167.5,1018.0 1168.5,1017.4 1169.5,1016.8 1170.5,1016.3 1171.5,1015.8 1172.5,1016.1 1173.5,1016.4 1174.5,1016.8 1175.5,1017.1 1176.5,1012.5 1177.5,984.6 1178.5,961.7 1179.5,971.7 1180.5,980.7 1181.5,988.9 1182.5,996.5 1183.5,1002.5 1184.5,1008.6 1185.5,1012.9 1186.5,1014.0 1187.5,1015.1 1188.5,1016.2 1189.5,1017.3 1190.5,1018.5 1191.5,1019.3 1192.5,1019.3 1193.5,1019.3 1194.5,1019.3 1195.5,1019.3 1196.5,1019.3 1197.5,1019.3 1198.5,1019.3 1199.5,1017.4 1200.5,1014.5 1201.5,1011.6 1202.5,1008.7 1203.5,1006.7 1204.5,1005.0 1205.5,1003.4 1206.5,1005.3 1207.5,1008.6 1208.5,1011.9 1209.5,1012.3 1210.5,1012.0 1211.5,1011.6 1212.5,1011.3 1213.5,1011.0 1214.5,1010.6 1215.5,1010.3 1216.5,1009.9 1217.5,1009.6 1218.5,1009.3 1219.5,1008.9 1220.5,1008.6 1221.5,1008.2 1222.5,1007.9 1223.5,1007.5 1224.5,1007.2 1225.5,1006.9 1226.5,1006.5 1227.5,1006.2 1228.5,1005.7 1229.5,1004.9 1230.5,1004.1 1231.5,1003.2 1232.5,1002.1 1233.5,1000.0 1234.5,998.0 1235.5,995.9 1236.5,994.8 1237.5,996.0 1238.5,997.3 1239.5,998.5 1240.5,999.2 1241.5,999.2 1242.5,999.2 1243.5,999.2 1244.5,999.1 1245.5,999.1 1246.5,999.1 1247.5,999.0 1248.5,998.7 1249.5,998.5 1250.5,998.2 1251.5,998.0 1252.5,997.7 1253.5,997.5 1254.5,996.6 1255.5,995.5 1256.5,994.4 1257.5,993.3 1258.5,992.2 1259.5,991.1 1260.5,990.4 1261.5,989.7 1262.5,989.1 1263.5,988.5 1264.5,987.9 1265.5,987.2 1266.5,986.6 1267.5,986.0 1268.5,985.6 1269.5,985.1 1270.5,984.7 1271.5,984.3 1272.5,983.9 1273.5,983.5 1274.5,983.0 1275.5,982.7 1276.5,982.9 1277.5,983.2 1278.5,983.5 1279.5,983.7 1280.5,984.0 1281.5,984.3 1282.5,984.6 1283.5,984.9 1284.5,985.2 1285.5,985.5 1286.5,986.5 1287.5,989.2 1288.5,991.9 1289.5,992.9 1290.5,990.2 1291.5,987.4 1292.5,984.7 1293.5,982.0 1294.5,979.2 1295.5,978.0 1296.5,978.8 1297.5,979.6 1298.5,980.4 1299.5,982.5 1300.5,985.7 1301.5,989.0 1302.5,992.3 1303.5,992.0 1304.5,989.1 1305.5,986.2 1306.5,983.4 1307.5,982.1 1308.5,981.7 1309.5,981.3 1310.5,980.8 1311.5,982.2 1312.5,984.2 1313.5,986.3 1314.5,988.3 1315.5,988.1 1316.5,987.3 1317.5,986.5 1318.5,982.4 1319.5,975.9 1320.5,969.3 1321.5,964.6 1322.5,960.2 1323.5,955.8 1324.5,951.4 1325.5,948.5 1326.5,947.9 1327.5,947.4 1328.5,946.8 1329.5,946.2 1330.5,945.7 1331.5,945.5 1332.5,947.9 1333.5,950.3 1334.5,952.7 1335.5,955.1 1336.5,949.0 1337.5,938.5 1338.5,928.0 1339.5,918.5 1340.5,921.5 1341.5,924.5 1342.5,927.5 1343.5,935.9 1344.5,949.9 1345.5,958.6 1346.5,965.1 1347.5,971.0 1348.5,975.6 1349.5,975.5 1350.5,975.4 1351.5,975.3 1352.5,969.1 1353.5,956.0 1354.5,942.0 1355.5,951.6 1356.5,965.4 1357.5,975.0 1358.5,974.7 1359.5,974.4 1360.5,974.0 1361.5,973.7 1362.5,964.7 1363.5,948.8 1364.5,932.8 1365.5,937.1 1366.5,941.6 1367.5,946.1 1368.5,950.8 1369.5,955.8 1370.5,960.8 1371.5,965.7 1372.5,968.3 1373.5,970.6 1374.5,972.9 1375.5,973.5 1376.5,968.9 1377.5,964.2 1378.5,959.5 1379.5,948.8 1380.5,935.3 1381.5,921.8 1382.5,909.6 1383.5,912.6 1384.5,915.6 1385.5,918.6 1386.5,921.8 1387.5,925.3 1388.5,928.8 1389.5,932.3 1390.5,938.5 1391.5,945.0 1392.5,951.5 1393.5,959.2 1394.5,967.5 1395.5,964.3 1396.5,950.3 1397.5,935.0 1398.5,911.7 1399.5,887.0 1400.5,866.1 1401.5,864.5 1402.5,862.9 1403.5,861.3 1404.5,859.7 1405.5,860.5 1406.5,862.5 1407.5,864.5 1408.5,866.5 1409.5,870.3 1410.5,880.8 1411.5,891.3 1412.5,901.8 1413.5,880.9 1414.5,840.9 1415.5,834.1 1416.5,834.1 1417.5,834.1 1418.5,843.2 1419.5,880.2 1420.5,909.5 1421.5,929.5 1422.5,942.2 1423.5,951.2 1424.5,954.9 1425.5,957.9 1426.5,960.9 1427.5,961.3 1428.5,955.3 1429.5,949.3 1430.5,943.3 1431.5,938.8 1432.5,934.8 1433.5,930.8 1434.5,927.4 1435.5,928.4 1436.5,929.4 1437.5,930.4 1438.5,930.8 1439.5,930.8 1440.5,930.8 1441.5,930.8 1442.5,930.8 1443.5,929.7 1444.5,922.7 1445.5,915.7 1446.5,908.7 1447.5,888.3 1448.5,858.3 1449.5,852.0 1450.5,852.0 1451.5,852.0 1452.5,852.0 1453.5,852.0 1454.5,852.0 1455.5,852.0 1456.5,852.0 1457.5,852.0 1458.5,852.0 1459.5,852.0 1460.5,852.0 1461.5,852.0 1461.5,1000.8 1460.5,999.7 1459.5,998.5 1458.5,997.4 1457.5,995.5 1456.5,990.0 1455.5,984.5 1454.5,979.0 1453.5,978.1 1452.5,980.4 1451.5,982.7 1450.5,985.1 1449.5,987.4 1448.5,989.6 1447.5,991.3 1446.5,993.1 1445.5,994.8 1444.5,996.6 1443.5,998.3 1442.5,1000.1 1441.5,1001.8 1440.5,1002.0 1439.5,1002.3 1438.5,1002.5 1437.5,1002.8 1436.5,1003.0 1435.5,1003.3 1434.5,1003.5 1433.5,1004.2 1432.5,1005.0 1431.5,1005.7 1430.5,1006.5 1429.5,1007.2 1428.5,1008.0 1427.5,1008.7 1426.5,1008.2 1425.5,1007.2 1424.5,1006.2 1423.5,1005.2 1422.5,1004.2 1421.5,1002.9 1420.5,1000.9 1419.5,998.9 1418.5,996.9 1417.5,994.9 1416.5,992.9 1415.5,993.8 1414.5,994.8 1413.5,995.8 1412.5,995.6 1411.5,993.6 1410.5,991.6 1409.5,989.6 1408.5,987.6 1407.5,985.6 1406.5,985.1 1405.5,984.6 1404.5,984.1 1403.5,984.7 1402.5,986.7 1401.5,988.7 1400.5,990.7 1399.5,992.7 1398.5,994.7 1397.5,996.7 1396.5,998.7 1395.5,1002.1 1394.5,1004.3 1393.5,1004.7 1392.5,1006.7 1391.5,1006.5 1390.5,1005.6 1389.5,1004.8 1388.5,1003.9 1387.5,1003.1 1386.5,1002.2 1385.5,1001.6 1384.5,1001.3 1383.5,1000.9 1382.5,1000.6 1381.5,1000.3 1380.5,1000.1 1379.5,1001.0 1378.5,1002.0 1377.5,1003.7 1376.5,1005.4 1375.5,1007.1 1374.5,1007.7 1373.5,1007.9 1372.5,1008.1 1371.5,1008.1 1370.5,1007.9 1369.5,1007.8 1368.5,1007.7 1367.5,1007.6 1366.5,1007.5 1365.5,1007.4 1364.5,1007.3 1363.5,1007.2 1362.5,1007.2 1361.5,1009.2 1360.5,1009.2 1359.5,1009.3 1358.5,1009.4 1357.5,1009.5 1356.5,1007.3 1355.5,1007.1 1354.5,1007.1 1353.5,1007.3 1352.5,1008.8 1351.5,1010.6 1350.5,1011.1 1349.5,1011.6 1348.5,1012.1 1347.5,1011.5 1346.5,1011.5 1345.5,1012.1 1344.5,1012.4 1343.5,1012.0 1342.5,1011.6 1341.5,1011.2 1340.5,1010.8 1339.5,1010.4 1338.5,1010.0 1337.5,1009.6 1336.5,1009.2 1335.5,1009.0 1334.5,1009.2 1333.5,1009.4 1332.5,1009.6 1331.5,1009.8 1330.5,1010.0 1329.5,1010.2 1328.5,1010.4 1327.5,1010.6 1326.5,1010.8 1325.5,1010.9 1324.5,1011.0 1323.5,1011.1 1322.5,1011.2 1321.5,1011.3 1320.5,1011.5 1319.5,1013.0 1318.5,1014.5 1317.5,1015.6 1316.5,1016.1 1315.5,1016.3 1314.5,1016.3 1313.5,1015.9 1312.5,1015.5 1311.5,1015.1 1310.5,1014.9 1309.5,1015.0 1308.5,1015.1 1307.5,1015.3 1306.5,1015.6 1305.5,1016.2 1304.5,1016.9 1303.5,1017.6 1302.5,1017.7 1301.5,1017.0 1300.5,1016.3 1299.5,1015.6 1298.5,1015.2 1297.5,1015.1 1296.5,1015.0 1295.5,1014.8 1294.5,1015.1 1293.5,1015.8 1292.5,1016.4 1291.5,1017.1 1290.5,1017.7 1289.5,1018.3 1288.5,1018.2 1287.5,1017.6 1286.5,1017.0 1285.5,1016.9 1284.5,1016.8 1283.5,1016.8 1282.5,1016.8 1281.5,1016.7 1280.5,1016.7 1279.5,1016.7 1278.5,1016.7 1277.5,1016.7 1276.5,1016.6 1275.5,1016.6 1274.5,1016.7 1273.5,1016.9 1272.5,1017.0 1271.5,1017.1 1270.5,1017.3 1269.5,1017.4 1268.5,1017.5 1267.5,1017.7 1266.5,1017.8 1265.5,1018.0 1264.5,1018.2 1263.5,1018.4 1262.5,1018.6 1261.5,1018.7 1260.5,1018.9 1259.5,1019.1 1258.5,1019.4 1257.5,1019.7 1256.5,1020.0 1255.5,1020.3 1254.5,1020.6 1253.5,1020.9 1252.5,1021.0 1251.5,1021.2 1250.5,1021.3 1249.5,1021.4 1248.5,1021.6 1247.5,1021.7 1246.5,1021.8 1245.5,1021.9 1244.5,1022.0 1243.5,1022.1 1242.5,1022.1 1241.5,1022.2 1240.5,1022.3 1239.5,1022.2 1238.5,1022.0 1237.5,1021.8 1236.5,1021.7 1235.5,1022.0 1234.5,1022.5 1233.5,1023.0 1232.5,1023.6 1231.5,1023.9 1230.5,1024.1 1229.5,1024.4 1228.5,1024.7 1227.5,1024.8 1226.5,1025.0 1225.5,1025.1 1224.5,1025.3 1223.5,1025.5 1222.5,1025.6 1221.5,1025.8 1220.5,1025.9 1219.5,1026.1 1218.5,1026.2 1217.5,1026.3 1216.5,1026.5 1215.5,1026.6 1214.5,1026.7 1213.5,1026.8 1212.5,1026.9 1211.5,1027.0 1210.5,1027.1 1209.5,1027.2 1208.5,1027.2 1207.5,1026.5 1206.5,1025.8 1205.5,1025.4 1204.5,1025.8 1203.5,1026.2 1202.5,1026.7 1201.5,1027.4 1200.5,1028.1 1199.5,1028.7 1198.5,1029.0 1197.5,1028.9 1196.5,1028.9 1195.5,1028.8 1194.5,1028.8 1193.5,1028.7 1192.5,1028.7 1191.5,1028.6 1190.5,1028.6 1189.5,1028.4 1188.5,1028.1 1187.5,1027.8 1186.5,1027.5 1185.5,1027.3 1184.5,1026.3 1183.5,1024.9 1182.5,1023.6 1181.5,1021.8 1180.5,1020.0 1179.5,1019.0 1178.5,1019.0 1177.5,1020.9 1176.5,1027.0 1175.5,1028.1 1174.5,1028.1 1173.5,1028.0 1172.5,1028.0 1171.5,1028.0 1170.5,1028.1 1169.5,1028.3 1168.5,1028.4 1167.5,1028.6 1166.5,1028.6 1165.5,1028.7 1164.5,1028.6 1163.5,1028.3 1162.5,1027.9 1161.5,1027.7 1160.5,1027.9 1159.5,1028.1 1158.5,1028.1 1157.5,1028.1 1156.5,1028.0 1155.5,1027.9 1154.5,1027.8 1153.5,1027.7 1152.5,1027.5 1151.5,1027.3 1150.5,1026.8 1149.5,1026.3 1148.5,1026.0 1147.5,1025.7 1146.5,1025.4 1145.5,1024.7 1144.5,1023.5 1143.5,1022.3 1142.5,1022.6 1141.5,1024.5 1140.5,1026.4 1139.5,1027.4 1138.5,1027.5 1137.5,1027.9 1136.5,1028.2 1135.5,1028.5 1134.5,1028.7 1133.5,1029.0 1132.5,1029.0 1131.5,1029.0 1130.5,1028.8 1129.5,1028.7 1128.5,1028.5 1127.5,1028.5 1126.5,1028.6 1125.5,1028.7 1124.5,1028.8 1123.5,1029.0 1122.5,1029.0 1121.5,1028.8 1120.5,1028.1 1119.5,1027.4 1118.5,1026.7 1117.5,1026.1 1116.5,1025.8 1115.5,1025.5 1114.5,1025.9 1113.5,1026.8 1112.5,1027.8 1111.5,1028.7 1110.5,1029.0 1109.5,1029.0 1108.5,1029.0 1107.5,1029.0 1106.5,1028.9 1105.5,1028.9 1104.5,1029.0 1103.5,1029.2 1102.5,1029.3 1101.5,1029.4 1100.5,1029.5 1099.5,1029.7 1098.5,1029.8 1097.5,1029.9 1096.5,1029.9 1095.5,1029.9 1094.5,1029.8 1093.5,1029.8 1092.5,1029.7 1091.5,1029.7 1090.5,1029.6 1089.5,1028.9 1088.5,1028.1 1087.5,1027.5 1086.5,1027.8 1085.5,1028.1 1084.5,1028.4 1083.5,1028.7 1082.5,1029.1 1081.5,1029.2 1080.5,1029.1 1079.5,1028.9 1078.5,1028.7 1077.5,1028.5 1076.5,1028.3 1075.5,1028.1 1074.5,1027.7 1073.5,1026.9 1072.5,1026.2 1071.5,1025.9 1070.5,1026.3 1069.5,1026.7 1068.5,1027.1 1067.5,1027.4 1066.5,1027.7 1065.5,1027.7 1064.5,1027.8 1063.5,1027.9 1062.5,1027.9 1061.5,1028.0 1060.5,1028.0 1059.5,1027.9 1058.5,1027.6 1057.5,1027.3 1056.5,1027.0 1055.5,1026.9 1054.5,1026.9 1053.5,1026.9 1052.5,1026.9 1051.5,1026.9 1050.5,1026.9 1049.5,1026.9 1048.5,1026.9 1047.5,1026.0 1046.5,1024.9 1045.5,1023.9 1044.5,1023.9 1043.5,1024.0 1042.5,1024.1 1041.5,1024.4 1040.5,1024.7 1039.5,1025.0 1038.5,1025.3 1037.5,1025.6 1036.5,1025.9 1035.5,1026.1 1034.5,1026.2 1033.5,1026.4 1032.5,1026.6 1031.5,1026.5 1030.5,1026.4 1029.5,1026.4 1028.5,1026.3 1027.5,1026.3 1026.5,1026.1 1025.5,1025.8 1024.5,1025.5 1023.5,1025.2 1022.5,1024.9 1021.5,1024.6 1020.5,1024.5 1019.5,1024.5 1018.5,1024.4 1017.5,1024.1 1016.5,1023.9 1015.5,1023.6 1014.5,1023.7 1013.5,1024.2 1012.5,1024.7 1011.5,1024.7 1010.5,1024.3 1009.5,1023.9 1008.5,1023.7 1007.5,1023.6 1006.5,1023.7 1005.5,1023.7 1004.5,1023.8 1003.5,1023.9 1002.5,1024.0 1001.5,1024.1 1000.5,1024.2 999.5,1024.2 998.5,1024.2 997.5,1024.1 996.5,1024.0 995.5,1023.9 994.5,1023.8 993.5,1022.9 992.5,1021.9 991.5,1020.6 990.5,1018.8 989.5,1017.8 988.5,1016.9 987.5,1016.0 986.5,1015.1 985.5,1014.3 984.5,1014.2 983.5,1014.1 982.5,1014.0 981.5,1013.1 980.5,1013.4 979.5,1013.6 978.5,1013.9 977.5,1014.0 976.5,1013.8 975.5,1013.5 974.5,1013.3 973.5,1013.0 972.5,1012.8 971.5,1012.5 970.5,1012.3 969.5,1012.1 968.5,1012.1 967.5,1012.0 966.5,1012.2 965.5,1012.5 964.5,1012.3 963.5,1012.1 962.5,1011.9 961.5,1011.7 960.5,1011.5 959.5,1011.5 958.5,1011.5 957.5,1011.5 956.5,1011.5 955.5,1011.5 954.5,1011.5 953.5,1011.5 952.5,1011.5 951.5,1011.5 950.5,1011.5 949.5,1011.5 948.5,1011.2 947.5,1010.6 946.5,1010.1 945.5,1009.8 944.5,1009.7 943.5,1009.6 942.5,1009.5 941.5,1009.4 940.5,1009.3 939.5,1009.2 938.5,1009.1 937.5,1009.0 936.5,1008.9 935.5,1008.8 934.5,1008.7 933.5,1008.7 932.5,1009.2 931.5,1009.7 930.5,1010.2 929.5,1010.7 928.5,1011.2 927.5,1011.7 926.5,1011.9 925.5,1011.4 924.5,1010.9 923.5,1010.4 922.5,1009.9 921.5,1009.4 920.5,1008.9 919.5,1008.4 918.5,1007.9 917.5,1007.4 916.5,1006.9 915.5,1006.9 914.5,1006.9 913.5,1006.9 912.5,1006.9 911.5,1006.9 910.5,1006.9 909.5,1006.9 908.5,1006.9 907.5,1006.9 906.5,1006.9 905.5,1006.9 904.5,1006.9 903.5,1006.9 902.5,1006.9 901.5,1006.9 900.5,1006.9 899.5,1006.9 898.5,1007.0 897.5,1007.1 896.5,1007.2 895.5,1007.3 894.5,1007.4 893.5,1007.5 892.5,1008.1 891.5,1008.0 890.5,1007.9 889.5,1007.9 888.5,1008.0 887.5,1008.1 886.5,1008.2 885.5,1008.3 884.5,1008.4 883.5,1008.5 882.5,1008.6 881.5,1008.2 880.5,1007.7 879.5,1007.2 878.5,1006.7 877.5,1006.2 876.5,1005.7 875.5,1005.2 874.5,1004.7 873.5,1004.5 872.5,1004.8 871.5,1005.1 870.5,1005.4 869.5,1005.7 868.5,1006.0 867.5,1006.3 866.5,1006.6 865.5,1006.9 864.5,1007.0 863.5,1007.1 862.5,1007.2 861.5,1007.3 860.5,1007.4 859.5,1007.5 858.5,1007.6 857.5,1007.7 856.5,1007.8 855.5,1007.9 854.5,1008.0 853.5,1008.1 852.5,1008.2 851.5,1008.3 850.5,1008.4 849.5,1008.5 848.5,1008.6 847.5,1008.6 846.5,1008.5 845.5,1008.4 844.5,1008.3 843.5,1008.2 842.5,1008.1 841.5,1008.0 840.5,1007.9 839.5,1007.8 838.5,1007.7 837.5,1007.6 836.5,1007.5 835.5,1007.4 834.5,1007.3 833.5,1007.2 832.5,1007.1 831.5,1008.1 830.5,1009.6 829.5,1010.7 828.5,1011.8 827.5,1012.9 826.5,1014.1 825.5,1015.2 824.5,1016.3 823.5,1017.3 822.5,1018.3 821.5,1019.4 820.5,1020.4 819.5,1021.4 818.5,1022.0 817.5,1022.4 816.5,1022.8 815.5,1023.2 814.5,1023.6 813.5,1023.8 812.5,1023.8 811.5,1023.7 810.5,1023.7 809.5,1023.7 808.5,1023.7 807.5,1023.6 806.5,1022.6 805.5,1021.3 804.5,1020.0 803.5,1017.7 802.5,1015.4 801.5,1014.8 800.5,1014.2 799.5,1013.6 798.5,1012.9 797.5,1012.3 796.5,1011.8 795.5,1011.4 794.5,1011.0 793.5,1010.6 792.5,1010.2 791.5,1009.8 790.5,1009.4 789.5,1009.0 788.5,1008.7 787.5,1008.9 786.5,1009.1 785.5,1009.3 784.5,1009.5 783.5,1010.3 782.5,1010.2 781.5,1010.1 780.5,1010.3 779.5,1009.7 778.5,1009.6 777.5,1009.8 776.5,1010.0 775.5,1010.2 774.5,1010.4 773.5,1010.6 772.5,1010.8 771.5,1011.0 770.5,1011.2 769.5,1011.4 768.5,1011.6 767.5,1011.8 766.5,1012.0 765.5,1012.1 764.5,1012.2 763.5,1012.3 762.5,1012.4 761.5,1012.8 760.5,1013.2 759.5,1013.6 758.5,1014.0 757.5,1014.4 756.5,1014.8 755.5,1015.1 754.5,1015.5 753.5,1015.8 752.5,1015.2 751.5,1014.7 750.5,1014.2 749.5,1014.3 748.5,1015.7 747.5,1017.1 746.5,1018.5 745.5,1019.3 744.5,1019.5 743.5,1019.6 742.5,1019.8 741.5,1019.9 740.5,1020.1 739.5,1020.3 738.5,1019.6 737.5,1019.0 736.5,1018.4 735.5,1017.8 734.5,1017.1 733.5,1016.5 732.5,1016.2 731.5,1016.4 730.5,1016.6 729.5,1016.8 728.5,1017.0 727.5,1017.1 726.5,1017.1 725.5,1017.1 724.5,1017.1 723.5,1017.1 722.5,1017.1 721.5,1017.1 720.5,1017.1 719.5,1017.1 718.5,1017.1 717.5,1017.1 716.5,1017.1 715.5,1017.1 714.5,1017.0 713.5,1016.8 712.5,1016.6 711.5,1016.4 710.5,1016.2 709.5,1016.0 708.5,1015.8 707.5,1015.6 706.5,1015.4 705.5,1015.2 704.5,1015.0 703.5,1014.8 702.5,1014.6 701.5,1014.2 700.5,1013.8 699.5,1013.4 698.5,1013.0 697.5,1012.6 696.5,1012.2 695.5,1011.8 694.5,1011.4 693.5,1011.0 692.5,1010.6 691.5,1010.2 690.5,1009.8 689.5,1009.5 688.5,1009.9 687.5,1010.3 686.5,1010.7 685.5,1011.1 684.5,1011.5 683.5,1011.9 682.5,1012.3 681.5,1012.7 680.5,1013.1 679.5,1013.5 678.5,1013.9 677.5,1014.3 676.5,1014.3 675.5,1013.6 674.5,1012.8 673.5,1012.1 672.5,1011.3 671.5,1010.6 670.5,1009.8 669.5,1009.1 668.5,1008.3 667.5,1007.6 666.5,1006.9 665.5,1006.9 664.5,1006.9 663.5,1006.9 662.5,1006.9 661.5,1006.9 660.5,1006.9 659.5,1006.9 658.5,1006.9 657.5,1006.9 656.5,1006.9 655.5,1007.1 654.5,1007.3 653.5,1007.6 652.5,1007.8 651.5,1008.1 650.5,1008.3 649.5,1008.6 648.5,1008.8 647.5,1009.1 646.5,1009.3 645.5,1009.0 644.5,1008.4 643.5,1007.7 642.5,1007.0 641.5,1006.4 640.5,1005.7 639.5,1005.0 638.5,1004.4 637.5,1004.0 636.5,1003.7 635.5,1003.3 634.5,1003.0 633.5,1002.7 632.5,1002.3 631.5,1002.0 630.5,1000.8 629.5,996.8 628.5,992.8 627.5,988.8 626.5,984.8 625.5,981.6 624.5,984.1 623.5,986.6 622.5,989.1 621.5,991.6 620.5,994.1 619.5,998.6 618.5,1003.1 617.5,1007.6 616.5,1012.1 615.5,1018.9 614.5,1021.4 613.5,1022.6 612.5,1023.8 611.5,1024.9 610.5,1026.1 609.5,1026.7 608.5,1027.2 607.5,1027.6 606.5,1028.1 605.5,1028.5 604.5,1029.0 603.5,1029.4 602.5,1029.9 601.5,1030.4 600.5,1030.8 599.5,1031.2 598.5,1031.5 597.5,1031.7 596.5,1031.9 595.5,1032.0 594.5,1032.0 593.5,1032.0 592.5,1032.1 591.5,1032.1 590.5,1032.1 589.5,1032.1 588.5,1032.1 587.5,1032.1 586.5,1032.1 585.5,1032.1 584.5,1032.1 583.5,1032.2 582.5,1032.2 581.5,1032.2 580.5,1032.2 579.5,1032.2 578.5,1032.2 577.5,1032.2 576.5,1032.2 575.5,1032.2 574.5,1032.3 573.5,1032.3 572.5,1032.3 571.5,1032.3 570.5,1032.3 569.5,1032.3 568.5,1032.2 567.5,1032.2 566.5,1032.2 565.5,1032.2 564.5,1032.2 563.5,1032.2 562.5,1032.2 561.5,1032.2 560.5,1032.2 559.5,1032.2 558.5,1032.2 557.5,1032.2 556.5,1032.2 555.5,1032.2 554.5,1032.2 553.5,1032.2 552.5,1032.2 551.5,1032.2 550.5,1032.2 549.5,1032.2 548.5,1032.1 547.5,1032.1 546.5,1032.1 545.5,1032.1 544.5,1032.1 543.5,1032.1 542.5,1032.1 541.5,1032.1 540.5,1032.1 539.5,1032.1 538.5,1032.1 537.5,1032.1 536.5,1032.1 535.5,1032.1 534.5,1032.1 533.5,1032.1 532.5,1032.1 531.5,1032.1 530.5,1032.1 529.5,1032.1 528.5,1032.0 527.5,1032.0 526.5,1032.0 525.5,1032.0 524.5,1032.0 523.5,1032.0 522.5,1032.0 521.5,1032.0 520.5,1032.0 519.5,1032.1 518.5,1032.1 517.5,1032.1 516.5,1032.1 515.5,1032.1 514.5,1032.1 513.5,1032.1 512.5,1032.1 511.5,1032.1 510.5,1032.1 509.5,1032.1 508.5,1032.1 507.5,1032.1 506.5,1032.1 505.5,1032.1 504.5,1032.1 503.5,1032.1 502.5,1032.1 501.5,1032.1 500.5,1032.1 499.5,1032.2 498.5,1032.2 497.5,1032.2 496.5,1032.2 495.5,1032.2 494.5,1032.2 493.5,1032.2 492.5,1032.2 491.5,1032.2 490.5,1032.2 489.5,1032.2 488.5,1032.2 487.5,1032.2 486.5,1032.2 485.5,1032.2 484.5,1032.2 483.5,1032.2 482.5,1032.2 481.5,1032.2 480.5,1032.2 479.5,1032.3 478.5,1032.3 477.5,1032.3 476.5,1032.3 475.5,1032.3 474.5,1032.3 473.5,1032.3 472.5,1032.3 471.5,1032.2 470.5,1032.2 469.5,1032.2 468.5,1032.2 467.5,1032.2 466.5,1032.2 465.5,1032.2 464.5,1032.2 463.5,1032.2 462.5,1032.2 461.5,1032.2 460.5,1032.2 459.5,1032.2 458.5,1032.2 457.5,1032.2 456.5,1032.2 455.5,1032.2 454.5,1032.2 453.5,1032.2 452.5,1032.2 451.5,1032.1 450.5,1032.1 449.5,1032.1 448.5,1032.1 447.5,1032.1 446.5,1032.1 445.5,1032.1 444.5,1032.1 443.5,1032.1 442.5,1032.1 441.5,1032.1 440.5,1032.1 439.5,1032.1 438.5,1032.1 437.5,1032.1 436.5,1032.1 435.5,1032.1 434.5,1032.1 433.5,1032.1 432.5,1032.1 431.5,1032.0 430.5,1032.0 429.5,1032.0 428.5,1032.0 427.5,1032.0 426.5,1032.0 425.5,1032.0 424.5,1032.0 423.5,1032.0 422.5,1032.0 421.5,1032.1 420.5,1032.1 419.5,1032.1 418.5,1032.1 417.5,1032.1 416.5,1032.1 415.5,1032.1 414.5,1032.1 413.5,1032.1 412.5,1032.1 411.5,1032.1 410.5,1032.1 409.5,1032.1 408.5,1032.1 407.5,1032.1 406.5,1032.1 405.5,1032.1 404.5,1032.1 403.5,1032.1 402.5,1032.1 401.5,1032.2 400.5,1032.2 399.5,1032.2 398.5,1032.2 397.5,1032.2 396.5,1032.2 395.5,1032.2 394.5,1032.2 393.5,1032.2 392.5,1032.2 391.5,1032.2 390.5,1032.2 389.5,1032.2 388.5,1032.2 387.5,1032.2 386.5,1032.2 385.5,1032.2 384.5,1032.2 383.5,1032.2 382.5,1032.2 381.5,1032.3 380.5,1032.3 379.5,1032.3 378.5,1032.3 377.5,1032.3 376.5,1032.3 375.5,1032.3 374.5,1032.3 373.5,1032.2 372.5,1032.2 371.5,1032.2 370.5,1032.2 369.5,1032.2 368.5,1032.2 367.5,1032.2 366.5,1032.2 365.5,1032.2 364.5,1032.2 363.5,1032.2 362.5,1032.2 361.5,1032.2 360.5,1032.2 359.5,1032.2 358.5,1032.2 357.5,1032.2 356.5,1032.2 355.5,1032.2 354.5,1032.2 353.5,1032.1 352.5,1032.1 351.5,1032.1 350.5,1032.1 349.5,1032.1 348.5,1032.1 347.5,1032.1 346.5,1032.1 345.5,1032.1 344.5,1032.1 343.5,1032.1 342.5,1032.1 341.5,1032.1 340.5,1032.1 339.5,1032.1 338.5,1032.1 337.5,1032.1 336.5,1032.1 335.5,1032.1 334.5,1032.1 333.5,1032.0 332.5,1032.0 331.5,1032.0 330.5,1032.0 329.5,1032.0 328.5,1032.0 327.5,1031.9 326.5,1031.9 325.5,1031.8 324.5,1031.7 323.5,1031.7 322.5,1031.6 321.5,1031.5 320.5,1031.5 319.5,1031.4 318.5,1031.3 317.5,1031.3 316.5,1031.2 315.5,1031.1 314.5,1031.1 313.5,1031.0 312.5,1030.9 311.5,1030.9 310.5,1030.8 309.5,1030.7 308.5,1030.7 307.5,1030.6 306.5,1030.6 305.5,1030.5 304.5,1030.4 303.5,1030.4 302.5,1030.4 301.5,1030.4 300.5,1030.4 299.5,1030.4 298.5,1030.4 297.5,1030.4 296.5,1030.4 295.5,1030.4 294.5,1030.4 293.5,1030.4 292.5,1030.4 291.5,1030.4 290.5,1030.4 289.5,1030.3 288.5,1029.3 287.5,1027.5 286.5,1025.7 285.5,1023.9 284.5,1022.2 283.5,1020.5 282.5,1015.7 281.5,1014.6 280.5,1013.6 279.5,1012.6 278.5,1011.7 277.5,1011.2 276.5,1010.7 275.5,1010.2 274.5,1009.7 273.5,1009.2 272.5,1008.7 271.5,1008.6 270.5,1008.9 269.5,1009.1 268.5,1009.4 267.5,1009.6 266.5,1009.9 265.5,1010.1 264.5,1010.4 263.5,1010.6 262.5,1010.9 261.5,1011.1 260.5,1011.4 259.5,1011.6 258.5,1011.7 257.5,1011.7 256.5,1011.7 255.5,1011.7 254.5,1011.7 253.5,1011.7 252.5,1011.7 251.5,1011.7 250.5,1012.1 249.5,1012.8 248.5,1013.6 247.5,1014.3 246.5,1015.1 245.5,1015.8 244.5,1016.5 243.5,1015.8 242.5,1015.0 241.5,1014.3 240.5,1013.5 239.5,1012.8 238.5,1012.0 237.5,1010.4 236.5,1008.1 235.5,1005.7 234.5,1003.4 233.5,1001.1 232.5,1001.7 231.5,1003.7 230.5,1005.7 229.5,1007.7 228.5,1009.7 227.5,1011.4 226.5,1013.0 225.5,1014.6 224.5,1016.2 223.5,1012.4 222.5,1007.1 221.5,1003.9 220.5,1004.9 219.5,1005.9 218.5,1006.9 217.5,1007.9 216.5,1008.9 215.5,1009.9 214.5,1010.1 213.5,1010.1 212.5,1010.1 211.5,1010.1 210.5,1010.1 209.5,1010.1 208.5,1010.1 207.5,1010.1 206.5,1010.8 205.5,1011.7 204.5,1012.6 203.5,1013.5 202.5,1014.4 201.5,1015.3 200.5,1016.2 199.5,1017.1 198.5,1018.0 197.5,1018.0 196.5,1017.8 195.5,1017.5 194.5,1017.3 193.5,1017.1 192.5,1016.9 191.5,1016.9 190.5,1017.7 189.5,1018.6 188.5,1017.0 187.5,1016.6 186.5,1016.6 185.5,1016.6 184.5,1016.6 183.5,1016.6 182.5,1016.5 181.5,1016.4 180.5,1016.3 179.5,1016.2 178.5,1016.1 177.5,1016.0 176.5,1015.9 175.5,1015.8 174.5,1015.7 173.5,1015.6 172.5,1015.6 171.5,1015.5 170.5,1015.4 169.5,1015.3 168.5,1015.7 167.5,1016.8 166.5,1017.9 165.5,1018.9 164.5,1018.8 163.5,1018.0 162.5,1017.2 161.5,1017.5 160.5,1019.5 159.5,1019.9 158.5,1019.9 157.5,1019.9 156.5,1019.8 155.5,1019.4 154.5,1018.0 153.5,1016.6 152.5,1015.8 151.5,1015.0 150.5,1014.2 149.5,1013.4 148.5,1012.5 147.5,1011.6 146.5,1010.6 145.5,1010.0 144.5,1009.5 143.5,1009.0 142.5,1008.5 141.5,1008.5 140.5,1008.5 139.5,1008.5 138.5,1008.5 137.5,1008.5 136.5,1008.5 135.5,1007.6 134.5,1005.6 133.5,1003.6 132.5,1001.8 131.5,1001.1 130.5,1000.3 129.5,999.6 128.5,998.8 127.5,998.1 126.5,997.3 125.5,997.5 124.5,998.0 123.5,998.5 122.5,999.0 121.5,999.5 120.5,1000.0 119.5,1000.1 118.5,999.1 117.5,998.1 116.5,997.1" fill="#1f77b4"/>
<g fill="#1f77b4"><circle cx="115.4" cy="787.0" r="2.7"/><circle cx="116.9" cy="788.1" r="2.7"/><circle cx="116.8" cy="791.2" r="2.7"/><circle cx="116.3" cy="1006.5" r="2.7"/><circle cx="116.3" cy="996.6" r="2.7"/><circle cx="117.9" cy="833.2" r="2.7"/><circle cx="118.8" cy="836.6" r="2.7"/><circle cx="119.2" cy="837.4" r="2.7"/><circle cx="118.6" cy="839.6" r="2.7"/><circle cx="120.4" cy="843.3" r="2.7"/><circle cx="120.1" cy="1010.4" r="2.7"/><circle cx="118.7" cy="1001.3" r="2.7"/><circle cx="122.3" cy="847.6" r="2.7"/><circle cx="121.8" cy="849.4" r="2.7"/><circle cx="122.5" cy="853.9" r="2.7"/><circle cx="121.9" cy="1005.3" r="2.7"/><circle cx="121.6" cy="1001.2" r="2.7"/><circle cx="122.2" cy="998.7" r="2.7"/><circle cx="125.4" cy="863.8" r="2.7"/><circle cx="124.3" cy="869.0" r="2.7"/><circle cx="124.5" cy="871.0" r="2.7"/><circle cx="124.3" cy="1008.6" r="2.7"/><circle cx="125.1" cy="1003.3" r="2.7"/><circle cx="124.9" cy="996.9" r="2.7"/><circle cx="126.2" cy="900.9" r="2.7"/><circle cx="126.9" cy="903.2" r="2.7"/><circle cx="126.1" cy="905.7" r="2.7"/><circle cx="127.4" cy="906.0" r="2.7"/><circle cx="126.0" cy="1007.3" r="2.7"/><circle cx="128.1" cy="1003.4" r="2.7"/><circle cx="126.2" cy="1000.5" r="2.7"/><circle cx="126.1" cy="997.8" r="2.7"/><circle cx="128.3" cy="887.8" r="2.7"/><circle cx="128.3" cy="888.7" r="2.7"/><circle cx="128.5" cy="893.5" r="2.7"/><circle cx="129.3" cy="896.9" r="2.7"/><circle cx="129.4" cy="998.9" r="2.7"/><circle cx="131.0" cy="911.7" r="2.7"/><circle cx="132.3" cy="916.4" r="2.7"/><circle cx="131.2" cy="920.1" r="2.7"/><circle cx="132.4" cy="1011.2" r="2.7"/><circle cx="132.2" cy="1008.2" r="2.7"/><circle cx="130.9" cy="1005.8" r="2.7"/><circle cx="132.4" cy="1004.2" r="2.7"/><circle cx="134.5" cy="902.7" r="2.7"/><circle cx="135.0" cy="906.4" r="2.7"/><circle cx="134.1" cy="907.9" r="2.7"/><circle cx="133.5" cy="1012.5" r="2.7"/><circle cx="135.3" cy="1009.7" r="2.7"/><circle cx="133.9" cy="1007.3" r="2.7"/><circle cx="134.7" cy="1005.5" r="2.7"/><circle cx="137.7" cy="902.1" r="2.7"/><circle cx="137.1" cy="910.0" r="2.7"/><circle cx="136.1" cy="912.2" r="2.7"/><circle cx="136.2" cy="1016.4" r="2.7"/><circle cx="137.3" cy="1014.3" r="2.7"/><circle cx="136.7" cy="1012.0" r="2.7"/><circle cx="136.0" cy="1008.9" r="2.7"/><circle cx="139.4" cy="949.3" r="2.7"/><circle cx="139.8" cy="953.1" r="2.7"/><circle cx="139.1" cy="955.9" r="2.7"/><circle cx="139.3" cy="957.8" r="2.7"/><circle cx="140.5" cy="1014.9" r="2.7"/><circle cx="139.8" cy="1011.5" r="2.7"/><circle cx="138.9" cy="1007.5" r="2.7"/><circle cx="143.4" cy="950.8" r="2.7"/><circle cx="142.9" cy="958.4" r="2.7"/><circle cx="142.5" cy="959.8" r="2.7"/><circle cx="142.6" cy="1013.2" r="2.7"/><circle cx="143.6" cy="1009.3" r="2.7"/><circle cx="144.4" cy="955.9" r="2.7"/><circle cx="144.9" cy="958.7" r="2.7"/><circle cx="145.9" cy="962.1" r="2.7"/><circle cx="146.4" cy="964.6" r="2.7"/><circle cx="144.0" cy="1018.1" r="2.7"/><circle cx="144.1" cy="1011.9" r="2.7"/><circle cx="145.5" cy="1010.4" r="2.7"/><circle cx="147.8" cy="967.5" r="2.7"/><circle cx="146.6" cy="968.7" r="2.7"/><circle cx="147.1" cy="971.9" r="2.7"/><circle cx="149.0" cy="1016.8" r="2.7"/><circle cx="146.8" cy="1013.7" r="2.7"/><circle cx="147.9" cy="1012.5" r="2.7"/><circle cx="150.3" cy="970.3" r="2.7"/><circle cx="150.8" cy="974.0" r="2.7"/><circle cx="151.5" cy="977.7" r="2.7"/><circle cx="149.6" cy="1014.5" r="2.7"/><circle cx="151.6" cy="982.5" r="2.7"/><circle cx="153.7" cy="1016.9" r="2.7"/><circle cx="153.5" cy="1016.1" r="2.7"/><circle cx="156.3" cy="995.6" r="2.7"/><circle cx="156.1" cy="1024.1" r="2.7"/><circle cx="156.3" cy="1020.8" r="2.7"/><circle cx="155.3" cy="1018.8" r="2.7"/><circle cx="157.3" cy="993.9" r="2.7"/><circle cx="156.8" cy="995.0" r="2.7"/><circle cx="158.0" cy="1020.4" r="2.7"/><circle cx="160.1" cy="987.8" r="2.7"/><circle cx="159.6" cy="990.9" r="2.7"/><circle cx="161.3" cy="993.6" r="2.7"/><circle cx="161.6" cy="1018.6" r="2.7"/><circle cx="163.0" cy="979.8" r="2.7"/><circle cx="162.0" cy="982.2" r="2.7"/><circle cx="163.4" cy="986.1" r="2.7"/><circle cx="163.7" cy="1020.2" r="2.7"/><circle cx="164.4" cy="1017.0" r="2.7"/><circle cx="166.3" cy="987.4" r="2.7"/><circle cx="165.6" cy="989.4" r="2.7"/><circle cx="166.2" cy="990.2" r="2.7"/><circle cx="165.4" cy="1018.3" r="2.7"/><circle cx="167.9" cy="969.2" r="2.7"/><circle cx="169.3" cy="970.1" r="2.7"/><circle cx="168.0" cy="971.6" r="2.7"/><circle cx="167.6" cy="974.8" r="2.7"/><circle cx="169.5" cy="1025.8" r="2.7"/><circle cx="167.4" cy="1015.1" r="2.7"/><circle cx="171.5" cy="928.8" r="2.7"/><circle cx="171.9" cy="930.9" r="2.7"/><circle cx="170.8" cy="937.1" r="2.7"/><circle cx="172.1" cy="939.7" r="2.7"/><circle cx="171.7" cy="1018.8" r="2.7"/><circle cx="171.7" cy="1016.6" r="2.7"/><circle cx="174.0" cy="925.7" r="2.7"/><circle cx="173.4" cy="927.0" r="2.7"/><circle cx="173.6" cy="933.5" r="2.7"/><circle cx="174.9" cy="934.0" r="2.7"/><circle cx="173.3" cy="1024.9" r="2.7"/><circle cx="173.8" cy="1015.0" r="2.7"/><circle cx="176.6" cy="926.2" r="2.7"/><circle cx="177.4" cy="928.5" r="2.7"/><circle cx="175.5" cy="931.3" r="2.7"/><circle cx="175.9" cy="1022.5" r="2.7"/><circle cx="176.6" cy="1020.3" r="2.7"/><circle cx="177.0" cy="1017.3" r="2.7"/><circle cx="177.2" cy="1015.7" r="2.7"/><circle cx="178.9" cy="919.5" r="2.7"/><circle cx="179.6" cy="921.3" r="2.7"/><circle cx="180.2" cy="923.2" r="2.7"/><circle cx="179.2" cy="925.4" r="2.7"/><circle cx="180.1" cy="1019.7" r="2.7"/><circle cx="178.8" cy="1015.9" r="2.7"/><circle cx="180.5" cy="920.7" r="2.7"/><circle cx="182.6" cy="922.3" r="2.7"/><circle cx="181.0" cy="927.4" r="2.7"/><circle cx="180.5" cy="1025.7" r="2.7"/><circle cx="180.6" cy="1024.0" r="2.7"/><circle cx="182.7" cy="1021.6" r="2.7"/><circle cx="182.5" cy="1018.2" r="2.7"/><circle cx="181.6" cy="1015.5" r="2.7"/><circle cx="183.3" cy="932.5" r="2.7"/><circle cx="184.6" cy="937.2" r="2.7"/><circle cx="184.1" cy="937.8" r="2.7"/><circle cx="183.1" cy="1025.5" r="2.7"/><circle cx="183.3" cy="1023.5" r="2.7"/><circle cx="184.6" cy="1016.6" r="2.7"/><circle cx="185.7" cy="934.7" r="2.7"/><circle cx="186.4" cy="938.2" r="2.7"/><circle cx="186.5" cy="940.8" r="2.7"/><circle cx="186.6" cy="1020.8" r="2.7"/><circle cx="189.8" cy="976.0" r="2.7"/><circle cx="189.4" cy="979.9" r="2.7"/><circle cx="189.5" cy="983.4" r="2.7"/><circle cx="188.1" cy="1019.2" r="2.7"/><circle cx="191.1" cy="971.6" r="2.7"/><circle cx="192.0" cy="974.2" r="2.7"/><circle cx="191.3" cy="1018.5" r="2.7"/><circle cx="192.4" cy="1016.3" r="2.7"/><circle cx="194.3" cy="964.4" r="2.7"/><circle cx="194.9" cy="965.3" r="2.7"/><circle cx="193.9" cy="969.6" r="2.7"/><circle cx="194.0" cy="1027.0" r="2.7"/><circle cx="195.6" cy="1021.4" r="2.7"/><circle cx="195.2" cy="1017.2" r="2.7"/><circle cx="197.0" cy="959.8" r="2.7"/><circle cx="197.0" cy="962.1" r="2.7"/><circle cx="197.3" cy="964.8" r="2.7"/><circle cx="197.4" cy="968.5" r="2.7"/><circle cx="197.4" cy="1028.0" r="2.7"/><circle cx="196.3" cy="1021.2" r="2.7"/><circle cx="195.8" cy="1018.9" r="2.7"/><circle cx="199.2" cy="958.1" r="2.7"/><circle cx="200.3" cy="960.5" r="2.7"/><circle cx="199.5" cy="964.1" r="2.7"/><circle cx="199.9" cy="964.8" r="2.7"/><circle cx="200.0" cy="967.8" r="2.7"/><circle cx="199.9" cy="1027.7" r="2.7"/><circle cx="200.5" cy="1022.9" r="2.7"/><circle cx="199.2" cy="1020.6" r="2.7"/><circle cx="198.9" cy="1017.6" r="2.7"/><circle cx="201.6" cy="965.8" r="2.7"/><circle cx="202.7" cy="968.0" r="2.7"/><circle cx="203.5" cy="1018.9" r="2.7"/><circle cx="202.0" cy="1016.1" r="2.7"/><circle cx="202.4" cy="1015.2" r="2.7"/><circle cx="206.0" cy="957.9" r="2.7"/><circle cx="205.4" cy="959.6" r="2.7"/><circle cx="203.8" cy="962.3" r="2.7"/><circle cx="205.6" cy="964.9" r="2.7"/><circle cx="205.5" cy="966.4" r="2.7"/><circle cx="204.8" cy="1021.3" r="2.7"/><circle cx="204.4" cy="1019.9" r="2.7"/><circle cx="206.0" cy="1014.0" r="2.7"/><circle cx="203.8" cy="1013.0" r="2.7"/><circle cx="207.0" cy="947.3" r="2.7"/><circle cx="208.6" cy="949.0" r="2.7"/><circle cx="208.6" cy="952.0" r="2.7"/><circle cx="208.2" cy="953.8" r="2.7"/><circle cx="208.7" cy="1008.9" r="2.7"/><circle cx="211.0" cy="936.3" r="2.7"/><circle cx="211.0" cy="943.7" r="2.7"/><circle cx="210.4" cy="946.9" r="2.7"/><circle cx="208.9" cy="1015.1" r="2.7"/><circle cx="210.5" cy="1009.6" r="2.7"/><circle cx="212.0" cy="935.8" r="2.7"/><circle cx="213.7" cy="938.9" r="2.7"/><circle cx="211.6" cy="941.6" r="2.7"/><circle cx="211.4" cy="1019.4" r="2.7"/><circle cx="213.1" cy="1013.8" r="2.7"/><circle cx="212.8" cy="1012.2" r="2.7"/><circle cx="211.7" cy="1009.9" r="2.7"/><circle cx="215.3" cy="931.3" r="2.7"/><circle cx="216.5" cy="934.6" r="2.7"/><circle cx="215.5" cy="1016.2" r="2.7"/><circle cx="214.0" cy="1015.2" r="2.7"/><circle cx="215.5" cy="1009.3" r="2.7"/><circle cx="217.3" cy="929.7" r="2.7"/><circle cx="219.1" cy="933.5" r="2.7"/><circle cx="216.7" cy="934.7" r="2.7"/><circle cx="218.1" cy="1013.2" r="2.7"/><circle cx="218.4" cy="1010.0" r="2.7"/><circle cx="217.8" cy="1008.3" r="2.7"/><circle cx="221.7" cy="937.9" r="2.7"/><circle cx="220.5" cy="940.6" r="2.7"/><circle cx="220.9" cy="943.2" r="2.7"/><circle cx="220.7" cy="1014.8" r="2.7"/><circle cx="220.8" cy="1005.6" r="2.7"/><circle cx="223.9" cy="938.5" r="2.7"/><circle cx="223.5" cy="941.6" r="2.7"/><circle cx="223.1" cy="944.8" r="2.7"/><circle cx="222.8" cy="947.0" r="2.7"/><circle cx="223.5" cy="1012.8" r="2.7"/><circle cx="225.6" cy="939.9" r="2.7"/><circle cx="226.0" cy="946.2" r="2.7"/><circle cx="226.6" cy="947.6" r="2.7"/><circle cx="225.9" cy="1024.0" r="2.7"/><circle cx="224.6" cy="1018.2" r="2.7"/><circle cx="225.7" cy="1017.5" r="2.7"/><circle cx="225.2" cy="1014.6" r="2.7"/><circle cx="228.5" cy="944.0" r="2.7"/><circle cx="227.4" cy="946.6" r="2.7"/><circle cx="227.7" cy="1012.1" r="2.7"/><circle cx="227.6" cy="1010.6" r="2.7"/><circle cx="230.2" cy="928.0" r="2.7"/><circle cx="231.1" cy="931.5" r="2.7"/><circle cx="231.1" cy="934.5" r="2.7"/><circle cx="230.6" cy="1015.3" r="2.7"/><circle cx="230.1" cy="1012.2" r="2.7"/><circle cx="231.2" cy="1006.4" r="2.7"/><circle cx="232.7" cy="887.0" r="2.7"/><circle cx="232.4" cy="889.5" r="2.7"/><circle cx="232.7" cy="891.0" r="2.7"/><circle cx="234.5" cy="895.6" r="2.7"/><circle cx="234.7" cy="1005.1" r="2.7"/><circle cx="233.4" cy="1002.2" r="2.7"/><circle cx="235.2" cy="884.0" r="2.7"/><circle cx="236.9" cy="886.5" r="2.7"/><circle cx="234.9" cy="892.2" r="2.7"/><circle cx="235.9" cy="892.8" r="2.7"/><circle cx="234.9" cy="1012.5" r="2.7"/><circle cx="235.4" cy="1008.3" r="2.7"/><circle cx="239.8" cy="902.0" r="2.7"/><circle cx="237.7" cy="1022.3" r="2.7"/><circle cx="242.5" cy="905.9" r="2.7"/><circle cx="241.4" cy="906.6" r="2.7"/><circle cx="241.6" cy="910.6" r="2.7"/><circle cx="241.9" cy="911.6" r="2.7"/><circle cx="240.7" cy="1015.6" r="2.7"/><circle cx="242.5" cy="1013.4" r="2.7"/><circle cx="244.8" cy="906.9" r="2.7"/><circle cx="244.1" cy="911.0" r="2.7"/><circle cx="242.8" cy="913.6" r="2.7"/><circle cx="243.5" cy="1019.6" r="2.7"/><circle cx="243.7" cy="1018.0" r="2.7"/><circle cx="244.8" cy="1015.4" r="2.7"/><circle cx="245.7" cy="910.5" r="2.7"/><circle cx="245.3" cy="912.3" r="2.7"/><circle cx="246.3" cy="914.9" r="2.7"/><circle cx="245.9" cy="1024.8" r="2.7"/><circle cx="247.4" cy="1020.4" r="2.7"/><circle cx="246.9" cy="1017.8" r="2.7"/><circle cx="246.6" cy="1014.6" r="2.7"/><circle cx="249.0" cy="923.1" r="2.7"/><circle cx="248.4" cy="925.3" r="2.7"/><circle cx="249.2" cy="928.7" r="2.7"/><circle cx="249.2" cy="930.1" r="2.7"/><circle cx="248.1" cy="1023.5" r="2.7"/><circle cx="248.2" cy="1014.3" r="2.7"/><circle cx="248.9" cy="1011.7" r="2.7"/><circle cx="250.4" cy="952.6" r="2.7"/><circle cx="251.2" cy="953.5" r="2.7"/><circle cx="251.1" cy="1020.7" r="2.7"/><circle cx="251.7" cy="1019.6" r="2.7"/><circle cx="251.5" cy="1016.5" r="2.7"/><circle cx="252.9" cy="1010.9" r="2.7"/><circle cx="254.5" cy="926.7" r="2.7"/><circle cx="253.2" cy="930.2" r="2.7"/><circle cx="255.3" cy="933.7" r="2.7"/><circle cx="255.2" cy="1021.3" r="2.7"/><circle cx="253.6" cy="1014.9" r="2.7"/><circle cx="255.5" cy="1011.5" r="2.7"/><circle cx="257.9" cy="930.2" r="2.7"/><circle cx="257.7" cy="932.6" r="2.7"/><circle cx="257.5" cy="936.3" r="2.7"/><circle cx="257.6" cy="1020.2" r="2.7"/><circle cx="256.4" cy="1015.3" r="2.7"/><circle cx="257.6" cy="1012.6" r="2.7"/><circle cx="258.8" cy="937.6" r="2.7"/><circle cx="258.2" cy="940.9" r="2.7"/><circle cx="260.2" cy="1015.7" r="2.7"/><circle cx="258.9" cy="1015.1" r="2.7"/><circle cx="259.4" cy="1010.8" r="2.7"/><circle cx="261.7" cy="922.4" r="2.7"/><circle cx="261.6" cy="930.6" r="2.7"/><circle cx="261.8" cy="1020.9" r="2.7"/><circle cx="262.6" cy="1017.6" r="2.7"/><circle cx="262.8" cy="1013.1" r="2.7"/><circle cx="263.3" cy="1011.0" r="2.7"/><circle cx="264.3" cy="905.0" r="2.7"/><circle cx="265.8" cy="912.1" r="2.7"/><circle cx="264.9" cy="912.5" r="2.7"/><circle cx="263.9" cy="1020.5" r="2.7"/><circle cx="263.5" cy="1009.8" r="2.7"/><circle cx="267.5" cy="890.8" r="2.7"/><circle cx="267.7" cy="895.0" r="2.7"/><circle cx="267.1" cy="896.4" r="2.7"/><circle cx="268.3" cy="899.9" r="2.7"/><circle cx="266.7" cy="1016.2" r="2.7"/><circle cx="266.5" cy="1014.8" r="2.7"/><circle cx="266.4" cy="1013.0" r="2.7"/><circle cx="268.5" cy="1009.8" r="2.7"/><circle cx="270.4" cy="893.4" r="2.7"/><circle cx="268.9" cy="895.6" r="2.7"/><circle cx="268.9" cy="897.3" r="2.7"/><circle cx="269.1" cy="899.2" r="2.7"/><circle cx="270.7" cy="1018.9" r="2.7"/><circle cx="270.6" cy="1015.0" r="2.7"/><circle cx="269.4" cy="1008.1" r="2.7"/><circle cx="273.7" cy="924.0" r="2.7"/><circle cx="272.6" cy="1013.8" r="2.7"/><circle cx="272.8" cy="1010.2" r="2.7"/><circle cx="272.8" cy="1008.6" r="2.7"/><circle cx="274.3" cy="932.4" r="2.7"/><circle cx="274.3" cy="937.1" r="2.7"/><circle cx="274.1" cy="940.1" r="2.7"/><circle cx="274.6" cy="941.1" r="2.7"/><circle cx="274.1" cy="1016.9" r="2.7"/><circle cx="274.3" cy="1011.0" r="2.7"/><circle cx="276.7" cy="938.7" r="2.7"/><circle cx="278.8" cy="947.5" r="2.7"/><circle cx="276.8" cy="950.3" r="2.7"/><circle cx="278.2" cy="1016.0" r="2.7"/><circle cx="277.1" cy="1014.2" r="2.7"/><circle cx="278.4" cy="1010.7" r="2.7"/><circle cx="280.8" cy="947.6" r="2.7"/><circle cx="279.3" cy="951.5" r="2.7"/><circle cx="280.7" cy="956.1" r="2.7"/><circle cx="279.2" cy="1017.0" r="2.7"/><circle cx="281.0" cy="1014.5" r="2.7"/><circle cx="282.1" cy="963.8" r="2.7"/><circle cx="283.2" cy="974.4" r="2.7"/><circle cx="283.1" cy="1024.6" r="2.7"/><circle cx="282.8" cy="1020.9" r="2.7"/><circle cx="283.7" cy="1018.0" r="2.7"/><circle cx="283.5" cy="1016.1" r="2.7"/><circle cx="285.2" cy="1000.5" r="2.7"/><circle cx="285.9" cy="1026.1" r="2.7"/><circle cx="284.5" cy="1023.4" r="2.7"/><circle cx="289.3" cy="1015.1" r="2.7"/><circle cx="287.2" cy="1029.7" r="2.7"/><circle cx="290.1" cy="1022.3" r="2.7"/><circle cx="290.5" cy="1031.6" r="2.7"/><circle cx="289.7" cy="1030.8" r="2.7"/><circle cx="292.5" cy="1022.0" r="2.7"/><circle cx="292.6" cy="1022.5" r="2.7"/><circle cx="293.3" cy="1030.7" r="2.7"/><circle cx="293.1" cy="1030.5" r="2.7"/><circle cx="295.3" cy="1020.6" r="2.7"/><circle cx="295.3" cy="1031.8" r="2.7"/><circle cx="295.1" cy="1030.4" r="2.7"/><circle cx="299.7" cy="1022.9" r="2.7"/><circle cx="298.2" cy="1031.1" r="2.7"/><circle cx="298.6" cy="1031.2" r="2.7"/><circle cx="301.0" cy="1023.3" r="2.7"/><circle cx="300.2" cy="1023.3" r="2.7"/><circle cx="301.2" cy="1030.1" r="2.7"/><circle cx="300.7" cy="1031.1" r="2.7"/><circle cx="304.0" cy="1024.2" r="2.7"/><circle cx="304.0" cy="1029.4" r="2.7"/><circle cx="306.5" cy="1025.9" r="2.7"/><circle cx="305.1" cy="1026.2" r="2.7"/><circle cx="306.5" cy="1030.4" r="2.7"/><circle cx="307.0" cy="1030.5" r="2.7"/><circle cx="309.1" cy="1025.6" r="2.7"/><circle cx="309.0" cy="1030.7" r="2.7"/><circle cx="309.7" cy="1030.3" r="2.7"/><circle cx="311.4" cy="1027.0" r="2.7"/><circle cx="310.2" cy="1032.3" r="2.7"/><circle cx="312.1" cy="1031.9" r="2.7"/><circle cx="314.4" cy="1027.8" r="2.7"/><circle cx="314.8" cy="1032.8" r="2.7"/><circle cx="312.8" cy="1030.3" r="2.7"/><circle cx="317.8" cy="1026.3" r="2.7"/><circle cx="317.8" cy="1030.8" r="2.7"/><circle cx="319.7" cy="1026.7" r="2.7"/><circle cx="320.1" cy="1027.2" r="2.7"/><circle cx="320.0" cy="1030.8" r="2.7"/><circle cx="322.1" cy="1028.3" r="2.7"/><circle cx="321.6" cy="1032.7" r="2.7"/><circle cx="324.2" cy="1029.3" r="2.7"/><circle cx="324.3" cy="1031.6" r="2.7"/><circle cx="328.2" cy="1030.0" r="2.7"/><circle cx="327.1" cy="1032.6" r="2.7"/><circle cx="328.1" cy="1031.2" r="2.7"/><circle cx="330.5" cy="1028.9" r="2.7"/><circle cx="330.5" cy="1033.8" r="2.7"/><circle cx="330.4" cy="1031.8" r="2.7"/><circle cx="332.7" cy="1029.6" r="2.7"/><circle cx="332.0" cy="1028.9" r="2.7"/><circle cx="333.2" cy="1031.5" r="2.7"/><circle cx="331.5" cy="1032.7" r="2.7"/><circle cx="335.4" cy="1030.3" r="2.7"/><circle cx="333.8" cy="1031.8" r="2.7"/><circle cx="337.0" cy="1028.2" r="2.7"/><circle cx="337.3" cy="1031.9" r="2.7"/><circle cx="340.0" cy="1027.9" r="2.7"/><circle cx="340.9" cy="1029.1" r="2.7"/><circle cx="341.2" cy="1031.9" r="2.7"/><circle cx="343.7" cy="1028.7" r="2.7"/><circle cx="343.2" cy="1030.2" r="2.7"/><circle cx="342.1" cy="1031.5" r="2.7"/><circle cx="344.5" cy="1029.7" r="2.7"/><circle cx="344.1" cy="1028.3" r="2.7"/><circle cx="346.5" cy="1032.3" r="2.7"/><circle cx="344.6" cy="1031.4" r="2.7"/><circle cx="347.9" cy="1029.4" r="2.7"/><circle cx="348.5" cy="1033.6" r="2.7"/><circle cx="347.4" cy="1032.1" r="2.7"/><circle cx="351.2" cy="1028.9" r="2.7"/><circle cx="349.3" cy="1031.9" r="2.7"/><circle cx="354.1" cy="1029.5" r="2.7"/><circle cx="352.1" cy="1031.6" r="2.7"/><circle cx="356.2" cy="1028.1" r="2.7"/><circle cx="356.2" cy="1032.2" r="2.7"/><circle cx="358.4" cy="1032.9" r="2.7"/><circle cx="360.4" cy="1029.4" r="2.7"/><circle cx="361.1" cy="1031.6" r="2.7"/><circle cx="361.5" cy="1033.2" r="2.7"/><circle cx="362.7" cy="1027.9" r="2.7"/><circle cx="363.2" cy="1032.4" r="2.7"/><circle cx="365.6" cy="1029.3" r="2.7"/><circle cx="366.3" cy="1032.1" r="2.7"/><circle cx="369.4" cy="1028.3" r="2.7"/><circle cx="369.1" cy="1032.7" r="2.7"/><circle cx="367.6" cy="1031.1" r="2.7"/><circle cx="370.2" cy="1028.9" r="2.7"/><circle cx="371.0" cy="1028.9" r="2.7"/><circle cx="371.6" cy="1031.6" r="2.7"/><circle cx="374.0" cy="1028.1" r="2.7"/><circle cx="373.1" cy="1029.5" r="2.7"/><circle cx="373.3" cy="1032.1" r="2.7"/><circle cx="373.9" cy="1032.4" r="2.7"/><circle cx="376.6" cy="1028.6" r="2.7"/><circle cx="377.3" cy="1032.2" r="2.7"/><circle cx="376.3" cy="1031.4" r="2.7"/><circle cx="377.8" cy="1028.4" r="2.7"/><circle cx="380.4" cy="1030.1" r="2.7"/><circle cx="380.3" cy="1031.9" r="2.7"/><circle cx="379.2" cy="1032.7" r="2.7"/><circle cx="381.4" cy="1029.0" r="2.7"/><circle cx="382.4" cy="1033.4" r="2.7"/><circle cx="381.6" cy="1032.7" r="2.7"/><circle cx="385.5" cy="1029.6" r="2.7"/><circle cx="385.2" cy="1033.1" r="2.7"/><circle cx="384.5" cy="1032.8" r="2.7"/><circle cx="387.6" cy="1028.9" r="2.7"/><circle cx="387.0" cy="1031.4" r="2.7"/><circle cx="388.7" cy="1028.0" r="2.7"/><circle cx="390.3" cy="1031.4" r="2.7"/><circle cx="392.8" cy="1027.4" r="2.7"/><circle cx="391.2" cy="1029.8" r="2.7"/><circle cx="391.1" cy="1031.9" r="2.7"/><circle cx="392.6" cy="1031.3" r="2.7"/><circle cx="394.0" cy="1027.4" r="2.7"/><circle cx="395.4" cy="1029.2" r="2.7"/><circle cx="393.5" cy="1033.3" r="2.7"/><circle cx="394.8" cy="1033.4" r="2.7"/><circle cx="397.8" cy="1028.4" r="2.7"/><circle cx="397.0" cy="1029.7" r="2.7"/><circle cx="398.1" cy="1031.5" r="2.7"/><circle cx="399.8" cy="1028.8" r="2.7"/><circle cx="398.9" cy="1028.9" r="2.7"/><circle cx="399.2" cy="1032.9" r="2.7"/><circle cx="402.6" cy="1028.4" r="2.7"/><circle cx="402.0" cy="1032.0" r="2.7"/><circle cx="405.4" cy="1028.8" r="2.7"/><circle cx="404.6" cy="1031.1" r="2.7"/><circle cx="408.5" cy="1028.5" r="2.7"/><circle cx="406.5" cy="1029.9" r="2.7"/><circle cx="408.8" cy="1032.4" r="2.7"/><circle cx="407.3" cy="1032.5" r="2.7"/><circle cx="409.7" cy="1027.8" r="2.7"/><circle cx="410.4" cy="1030.5" r="2.7"/><circle cx="411.3" cy="1032.2" r="2.7"/><circle cx="409.1" cy="1031.7" r="2.7"/><circle cx="412.9" cy="1028.6" r="2.7"/><circle cx="413.9" cy="1029.5" r="2.7"/><circle cx="413.5" cy="1032.6" r="2.7"/><circle cx="416.7" cy="1029.2" r="2.7"/><circle cx="416.6" cy="1032.2" r="2.7"/><circle cx="414.7" cy="1031.1" r="2.7"/><circle cx="418.5" cy="1029.7" r="2.7"/><circle cx="418.8" cy="1032.7" r="2.7"/><circle cx="418.3" cy="1031.7" r="2.7"/><circle cx="420.0" cy="1028.8" r="2.7"/><circle cx="420.5" cy="1031.8" r="2.7"/><circle cx="423.3" cy="1030.2" r="2.7"/><circle cx="425.9" cy="1028.4" r="2.7"/><circle cx="424.8" cy="1030.1" r="2.7"/><circle cx="425.8" cy="1031.3" r="2.7"/><circle cx="428.6" cy="1028.9" r="2.7"/><circle cx="429.3" cy="1032.3" r="2.7"/><circle cx="430.1" cy="1028.2" r="2.7"/><circle cx="429.8" cy="1032.8" r="2.7"/><circle cx="434.9" cy="1030.0" r="2.7"/><circle cx="433.7" cy="1032.7" r="2.7"/><circle cx="437.1" cy="1028.5" r="2.7"/><circle cx="435.6" cy="1033.0" r="2.7"/><circle cx="438.0" cy="1028.2" r="2.7"/><circle cx="439.1" cy="1033.6" r="2.7"/><circle cx="438.9" cy="1031.8" r="2.7"/><circle cx="442.4" cy="1028.9" r="2.7"/><circle cx="440.8" cy="1031.0" r="2.7"/><circle cx="444.1" cy="1029.1" r="2.7"/><circle cx="444.6" cy="1032.2" r="2.7"/><circle cx="446.5" cy="1029.8" r="2.7"/><circle cx="447.4" cy="1032.3" r="2.7"/><circle cx="446.8" cy="1032.3" r="2.7"/><circle cx="448.7" cy="1029.7" r="2.7"/><circle cx="449.8" cy="1028.9" r="2.7"/><circle cx="448.4" cy="1032.9" r="2.7"/><circle cx="451.6" cy="1029.2" r="2.7"/><circle cx="452.2" cy="1033.9" r="2.7"/><circle cx="451.8" cy="1031.2" r="2.7"/><circle cx="455.0" cy="1030.0" r="2.7"/><circle cx="453.5" cy="1033.9" r="2.7"/><circle cx="455.5" cy="1032.4" r="2.7"/><circle cx="457.7" cy="1029.3" r="2.7"/><circle cx="458.3" cy="1032.0" r="2.7"/><circle cx="458.9" cy="1028.3" r="2.7"/><circle cx="460.2" cy="1028.9" r="2.7"/><circle cx="458.4" cy="1032.3" r="2.7"/><circle cx="462.9" cy="1028.2" r="2.7"/><circle cx="463.5" cy="1032.5" r="2.7"/><circle cx="465.9" cy="1030.1" r="2.7"/><circle cx="465.1" cy="1032.0" r="2.7"/><circle cx="465.8" cy="1033.2" r="2.7"/><circle cx="467.8" cy="1027.8" r="2.7"/><circle cx="467.6" cy="1033.4" r="2.7"/><circle cx="466.2" cy="1031.1" r="2.7"/><circle cx="469.8" cy="1029.2" r="2.7"/><circle cx="471.1" cy="1029.4" r="2.7"/><circle cx="469.4" cy="1032.9" r="2.7"/><circle cx="472.7" cy="1028.7" r="2.7"/><circle cx="471.9" cy="1033.1" r="2.7"/><circle cx="476.0" cy="1029.6" r="2.7"/><circle cx="474.7" cy="1031.5" r="2.7"/><circle cx="478.3" cy="1029.1" r="2.7"/><circle cx="478.6" cy="1032.7" r="2.7"/><circle cx="477.1" cy="1032.5" r="2.7"/><circle cx="481.3" cy="1028.4" r="2.7"/><circle cx="480.2" cy="1031.1" r="2.7"/><circle cx="483.0" cy="1029.8" r="2.7"/><circle cx="483.3" cy="1032.6" r="2.7"/><circle cx="482.7" cy="1032.8" r="2.7"/><circle cx="485.1" cy="1028.0" r="2.7"/><circle cx="485.5" cy="1029.8" r="2.7"/><circle cx="484.7" cy="1032.3" r="2.7"/><circle cx="489.5" cy="1029.0" r="2.7"/><circle cx="489.2" cy="1034.0" r="2.7"/><circle cx="491.3" cy="1027.4" r="2.7"/><circle cx="491.6" cy="1029.7" r="2.7"/><circle cx="490.8" cy="1031.7" r="2.7"/><circle cx="492.7" cy="1029.3" r="2.7"/><circle cx="492.7" cy="1029.7" r="2.7"/><circle cx="492.8" cy="1032.3" r="2.7"/><circle cx="497.2" cy="1027.8" r="2.7"/><circle cx="495.7" cy="1032.6" r="2.7"/><circle cx="499.1" cy="1029.5" r="2.7"/><circle cx="499.0" cy="1033.3" r="2.7"/><circle cx="501.1" cy="1027.9" r="2.7"/><circle cx="501.2" cy="1028.0" r="2.7"/><circle cx="501.7" cy="1032.8" r="2.7"/><circle cx="502.1" cy="1031.6" r="2.7"/><circle cx="504.2" cy="1028.7" r="2.7"/><circle cx="502.8" cy="1027.7" r="2.7"/><circle cx="502.6" cy="1032.3" r="2.7"/><circle cx="506.4" cy="1028.8" r="2.7"/><circle cx="506.2" cy="1029.4" r="2.7"/><circle cx="506.8" cy="1031.7" r="2.7"/><circle cx="505.8" cy="1032.0" r="2.7"/><circle cx="508.3" cy="1029.6" r="2.7"/><circle cx="509.1" cy="1032.2" r="2.7"/><circle cx="510.3" cy="1031.8" r="2.7"/><circle cx="512.5" cy="1027.4" r="2.7"/><circle cx="510.7" cy="1027.8" r="2.7"/><circle cx="512.1" cy="1031.2" r="2.7"/><circle cx="513.1" cy="1029.1" r="2.7"/><circle cx="515.4" cy="1030.0" r="2.7"/><circle cx="513.7" cy="1031.9" r="2.7"/><circle cx="514.2" cy="1032.1" r="2.7"/><circle cx="516.0" cy="1028.8" r="2.7"/><circle cx="515.7" cy="1032.4" r="2.7"/><circle cx="515.8" cy="1033.2" r="2.7"/><circle cx="520.2" cy="1031.2" r="2.7"/><circle cx="522.2" cy="1029.6" r="2.7"/><circle cx="523.0" cy="1031.8" r="2.7"/><circle cx="522.3" cy="1033.0" r="2.7"/><circle cx="524.1" cy="1029.0" r="2.7"/><circle cx="524.4" cy="1028.2" r="2.7"/><circle cx="524.4" cy="1033.2" r="2.7"/><circle cx="526.2" cy="1029.5" r="2.7"/><circle cx="526.0" cy="1031.5" r="2.7"/><circle cx="530.3" cy="1029.5" r="2.7"/><circle cx="530.9" cy="1032.6" r="2.7"/><circle cx="530.2" cy="1032.5" r="2.7"/><circle cx="532.3" cy="1031.6" r="2.7"/><circle cx="534.7" cy="1029.4" r="2.7"/><circle cx="534.4" cy="1028.1" r="2.7"/><circle cx="534.9" cy="1031.2" r="2.7"/><circle cx="537.4" cy="1029.0" r="2.7"/><circle cx="537.8" cy="1033.1" r="2.7"/><circle cx="537.3" cy="1033.2" r="2.7"/><circle cx="541.2" cy="1028.5" r="2.7"/><circle cx="541.2" cy="1033.0" r="2.7"/><circle cx="543.6" cy="1028.5" r="2.7"/><circle cx="542.9" cy="1032.4" r="2.7"/><circle cx="544.9" cy="1030.1" r="2.7"/><circle cx="546.0" cy="1032.2" r="2.7"/><circle cx="544.3" cy="1031.6" r="2.7"/><circle cx="548.5" cy="1029.4" r="2.7"/><circle cx="547.2" cy="1029.3" r="2.7"/><circle cx="548.6" cy="1031.5" r="2.7"/><circle cx="550.8" cy="1029.4" r="2.7"/><circle cx="549.9" cy="1029.4" r="2.7"/><circle cx="551.3" cy="1032.9" r="2.7"/><circle cx="551.0" cy="1031.8" r="2.7"/><circle cx="554.1" cy="1028.5" r="2.7"/><circle cx="552.5" cy="1033.2" r="2.7"/><circle cx="556.8" cy="1028.0" r="2.7"/><circle cx="556.8" cy="1029.4" r="2.7"/><circle cx="556.2" cy="1031.8" r="2.7"/><circle cx="558.6" cy="1030.2" r="2.7"/><circle cx="558.3" cy="1033.2" r="2.7"/><circle cx="559.2" cy="1032.9" r="2.7"/><circle cx="560.8" cy="1029.7" r="2.7"/><circle cx="559.9" cy="1030.1" r="2.7"/><circle cx="561.0" cy="1033.8" r="2.7"/><circle cx="561.7" cy="1031.1" r="2.7"/><circle cx="562.7" cy="1029.9" r="2.7"/><circle cx="562.8" cy="1029.9" r="2.7"/><circle cx="563.8" cy="1033.2" r="2.7"/><circle cx="567.2" cy="1028.2" r="2.7"/><circle cx="566.6" cy="1031.6" r="2.7"/><circle cx="569.1" cy="1028.4" r="2.7"/><circle cx="569.2" cy="1033.0" r="2.7"/><circle cx="572.3" cy="1028.7" r="2.7"/><circle cx="572.3" cy="1033.4" r="2.7"/><circle cx="572.1" cy="1032.7" r="2.7"/><circle cx="574.8" cy="1030.2" r="2.7"/><circle cx="573.8" cy="1032.7" r="2.7"/><circle cx="573.0" cy="1031.4" r="2.7"/><circle cx="576.4" cy="1028.7" r="2.7"/><circle cx="575.8" cy="1033.8" r="2.7"/><circle cx="577.6" cy="1031.5" r="2.7"/><circle cx="579.8" cy="1030.1" r="2.7"/><circle cx="579.3" cy="1031.6" r="2.7"/><circle cx="582.1" cy="1029.0" r="2.7"/><circle cx="582.9" cy="1033.0" r="2.7"/><circle cx="583.9" cy="1031.8" r="2.7"/><circle cx="583.6" cy="1032.9" r="2.7"/><circle cx="586.3" cy="1028.4" r="2.7"/><circle cx="586.4" cy="1028.7" r="2.7"/><circle cx="587.3" cy="1032.1" r="2.7"/><circle cx="589.0" cy="1028.6" r="2.7"/><circle cx="589.0" cy="1032.3" r="2.7"/><circle cx="591.8" cy="1029.1" r="2.7"/><circle cx="592.5" cy="1032.2" r="2.7"/><circle cx="594.5" cy="1026.6" r="2.7"/><circle cx="595.9" cy="1028.1" r="2.7"/><circle cx="596.0" cy="1032.2" r="2.7"/><circle cx="594.8" cy="1031.1" r="2.7"/><circle cx="596.5" cy="1024.1" r="2.7"/><circle cx="597.6" cy="1030.7" r="2.7"/><circle cx="600.8" cy="1017.8" r="2.7"/><circle cx="599.5" cy="1019.7" r="2.7"/><circle cx="600.0" cy="1030.1" r="2.7"/><circle cx="602.7" cy="1015.9" r="2.7"/><circle cx="601.7" cy="1016.4" r="2.7"/><circle cx="602.8" cy="1031.6" r="2.7"/><circle cx="602.0" cy="1028.9" r="2.7"/><circle cx="606.0" cy="1015.0" r="2.7"/><circle cx="605.2" cy="1028.9" r="2.7"/><circle cx="608.8" cy="1011.5" r="2.7"/><circle cx="606.8" cy="1012.4" r="2.7"/><circle cx="607.4" cy="1029.1" r="2.7"/><circle cx="607.8" cy="1027.8" r="2.7"/><circle cx="609.4" cy="1010.0" r="2.7"/><circle cx="611.1" cy="1024.9" r="2.7"/><circle cx="614.0" cy="994.7" r="2.7"/><circle cx="613.0" cy="996.4" r="2.7"/><circle cx="613.6" cy="1025.7" r="2.7"/><circle cx="612.7" cy="1023.0" r="2.7"/><circle cx="616.9" cy="977.9" r="2.7"/><circle cx="616.5" cy="978.8" r="2.7"/><circle cx="614.4" cy="984.6" r="2.7"/><circle cx="616.1" cy="1025.3" r="2.7"/><circle cx="616.8" cy="1023.9" r="2.7"/><circle cx="616.1" cy="1020.4" r="2.7"/><circle cx="615.4" cy="1018.5" r="2.7"/><circle cx="617.7" cy="809.7" r="2.7"/><circle cx="618.7" cy="815.3" r="2.7"/><circle cx="617.6" cy="819.9" r="2.7"/><circle cx="617.8" cy="820.2" r="2.7"/><circle cx="619.0" cy="823.3" r="2.7"/><circle cx="617.4" cy="1009.4" r="2.7"/><circle cx="618.5" cy="1002.8" r="2.7"/><circle cx="622.2" cy="762.1" r="2.7"/><circle cx="620.8" cy="765.5" r="2.7"/><circle cx="620.7" cy="767.2" r="2.7"/><circle cx="621.5" cy="771.0" r="2.7"/><circle cx="620.3" cy="996.4" r="2.7"/><circle cx="620.7" cy="993.5" r="2.7"/><circle cx="622.3" cy="767.9" r="2.7"/><circle cx="624.4" cy="770.4" r="2.7"/><circle cx="622.9" cy="772.8" r="2.7"/><circle cx="622.8" cy="988.0" r="2.7"/><circle cx="623.2" cy="987.6" r="2.7"/><circle cx="626.1" cy="752.2" r="2.7"/><circle cx="625.5" cy="761.3" r="2.7"/><circle cx="625.2" cy="766.0" r="2.7"/><circle cx="626.3" cy="769.5" r="2.7"/><circle cx="626.7" cy="771.3" r="2.7"/><circle cx="625.3" cy="986.5" r="2.7"/><circle cx="626.9" cy="984.3" r="2.7"/><circle cx="629.8" cy="759.2" r="2.7"/><circle cx="628.7" cy="764.5" r="2.7"/><circle cx="628.3" cy="766.1" r="2.7"/><circle cx="627.7" cy="769.8" r="2.7"/><circle cx="629.8" cy="772.8" r="2.7"/><circle cx="629.5" cy="997.9" r="2.7"/><circle cx="629.1" cy="993.7" r="2.7"/><circle cx="632.4" cy="752.4" r="2.7"/><circle cx="630.8" cy="757.4" r="2.7"/><circle cx="630.0" cy="759.4" r="2.7"/><circle cx="632.6" cy="761.2" r="2.7"/><circle cx="631.9" cy="772.3" r="2.7"/><circle cx="632.5" cy="1007.0" r="2.7"/><circle cx="630.7" cy="1004.7" r="2.7"/><circle cx="630.8" cy="1002.0" r="2.7"/><circle cx="632.8" cy="757.3" r="2.7"/><circle cx="633.7" cy="761.3" r="2.7"/><circle cx="634.6" cy="763.5" r="2.7"/><circle cx="633.9" cy="767.9" r="2.7"/><circle cx="633.9" cy="772.7" r="2.7"/><circle cx="632.9" cy="1008.5" r="2.7"/><circle cx="634.1" cy="1005.5" r="2.7"/><circle cx="633.5" cy="1001.6" r="2.7"/><circle cx="636.6" cy="754.7" r="2.7"/><circle cx="636.1" cy="757.2" r="2.7"/><circle cx="637.7" cy="759.3" r="2.7"/><circle cx="635.3" cy="761.2" r="2.7"/><circle cx="635.3" cy="764.5" r="2.7"/><circle cx="637.0" cy="769.6" r="2.7"/><circle cx="636.3" cy="770.8" r="2.7"/><circle cx="635.5" cy="1010.8" r="2.7"/><circle cx="635.7" cy="1007.7" r="2.7"/><circle cx="637.7" cy="1007.2" r="2.7"/><circle cx="635.2" cy="1003.6" r="2.7"/><circle cx="638.0" cy="819.4" r="2.7"/><circle cx="638.8" cy="825.4" r="2.7"/><circle cx="638.0" cy="826.3" r="2.7"/><circle cx="638.8" cy="1015.1" r="2.7"/><circle cx="639.7" cy="1010.1" r="2.7"/><circle cx="638.3" cy="1005.1" r="2.7"/><circle cx="641.9" cy="859.6" r="2.7"/><circle cx="641.3" cy="868.2" r="2.7"/><circle cx="641.6" cy="868.3" r="2.7"/><circle cx="642.5" cy="871.9" r="2.7"/><circle cx="642.0" cy="1007.6" r="2.7"/><circle cx="642.7" cy="1006.9" r="2.7"/><circle cx="643.7" cy="877.6" r="2.7"/><circle cx="645.0" cy="880.1" r="2.7"/><circle cx="645.2" cy="887.0" r="2.7"/><circle cx="644.5" cy="888.8" r="2.7"/><circle cx="643.0" cy="890.8" r="2.7"/><circle cx="644.4" cy="1012.0" r="2.7"/><circle cx="643.9" cy="1010.7" r="2.7"/><circle cx="643.7" cy="1009.4" r="2.7"/><circle cx="646.0" cy="873.4" r="2.7"/><circle cx="647.5" cy="888.6" r="2.7"/><circle cx="646.5" cy="890.9" r="2.7"/><circle cx="647.5" cy="893.4" r="2.7"/><circle cx="647.2" cy="1018.0" r="2.7"/><circle cx="646.1" cy="1010.9" r="2.7"/><circle cx="646.2" cy="1010.4" r="2.7"/><circle cx="649.6" cy="828.1" r="2.7"/><circle cx="650.6" cy="829.2" r="2.7"/><circle cx="649.2" cy="831.1" r="2.7"/><circle cx="650.0" cy="835.3" r="2.7"/><circle cx="649.7" cy="1016.2" r="2.7"/><circle cx="648.3" cy="1011.1" r="2.7"/><circle cx="650.3" cy="1009.5" r="2.7"/><circle cx="652.8" cy="783.0" r="2.7"/><circle cx="653.2" cy="793.9" r="2.7"/><circle cx="653.3" cy="796.1" r="2.7"/><circle cx="652.6" cy="800.5" r="2.7"/><circle cx="651.9" cy="1016.9" r="2.7"/><circle cx="652.6" cy="1015.3" r="2.7"/><circle cx="652.9" cy="1013.2" r="2.7"/><circle cx="651.6" cy="1008.2" r="2.7"/><circle cx="654.8" cy="783.9" r="2.7"/><circle cx="654.1" cy="795.3" r="2.7"/><circle cx="655.5" cy="797.2" r="2.7"/><circle cx="653.7" cy="799.9" r="2.7"/><circle cx="655.0" cy="802.3" r="2.7"/><circle cx="654.6" cy="1017.0" r="2.7"/><circle cx="654.8" cy="1013.3" r="2.7"/><circle cx="655.2" cy="1009.6" r="2.7"/><circle cx="654.4" cy="1008.1" r="2.7"/><circle cx="657.8" cy="790.9" r="2.7"/><circle cx="658.0" cy="793.7" r="2.7"/><circle cx="656.5" cy="797.1" r="2.7"/><circle cx="657.3" cy="801.4" r="2.7"/><circle cx="657.3" cy="801.8" r="2.7"/><circle cx="656.7" cy="1014.8" r="2.7"/><circle cx="657.8" cy="1008.4" r="2.7"/><circle cx="657.5" cy="1007.2" r="2.7"/><circle cx="659.8" cy="869.7" r="2.7"/><circle cx="661.2" cy="878.8" r="2.7"/><circle cx="660.5" cy="882.7" r="2.7"/><circle cx="659.3" cy="885.0" r="2.7"/><circle cx="660.7" cy="1013.9" r="2.7"/><circle cx="659.8" cy="1011.0" r="2.7"/><circle cx="661.1" cy="1009.8" r="2.7"/><circle cx="658.8" cy="1008.0" r="2.7"/><circle cx="662.0" cy="871.2" r="2.7"/><circle cx="663.5" cy="876.1" r="2.7"/><circle cx="661.7" cy="883.7" r="2.7"/><circle cx="661.3" cy="1015.4" r="2.7"/><circle cx="662.4" cy="1009.5" r="2.7"/><circle cx="662.1" cy="1006.6" r="2.7"/><circle cx="665.6" cy="863.0" r="2.7"/><circle cx="664.0" cy="865.9" r="2.7"/><circle cx="665.4" cy="877.5" r="2.7"/><circle cx="666.3" cy="883.6" r="2.7"/><circle cx="664.9" cy="1012.3" r="2.7"/><circle cx="663.8" cy="1008.6" r="2.7"/><circle cx="667.9" cy="788.1" r="2.7"/><circle cx="668.2" cy="791.4" r="2.7"/><circle cx="666.8" cy="799.5" r="2.7"/><circle cx="667.1" cy="1017.6" r="2.7"/><circle cx="667.5" cy="1007.2" r="2.7"/><circle cx="671.1" cy="764.4" r="2.7"/><circle cx="669.1" cy="767.9" r="2.7"/><circle cx="670.6" cy="769.1" r="2.7"/><circle cx="670.4" cy="772.0" r="2.7"/><circle cx="671.1" cy="1018.3" r="2.7"/><circle cx="671.5" cy="1013.3" r="2.7"/><circle cx="670.1" cy="1010.6" r="2.7"/><circle cx="673.7" cy="751.2" r="2.7"/><circle cx="672.8" cy="757.8" r="2.7"/><circle cx="672.3" cy="761.2" r="2.7"/><circle cx="672.1" cy="764.0" r="2.7"/><circle cx="672.1" cy="766.9" r="2.7"/><circle cx="673.5" cy="769.1" r="2.7"/><circle cx="673.4" cy="1012.6" r="2.7"/><circle cx="673.5" cy="1012.3" r="2.7"/><circle cx="676.1" cy="891.6" r="2.7"/><circle cx="676.4" cy="896.3" r="2.7"/><circle cx="676.3" cy="898.7" r="2.7"/><circle cx="675.6" cy="903.9" r="2.7"/><circle cx="676.5" cy="907.6" r="2.7"/><circle cx="674.4" cy="908.6" r="2.7"/><circle cx="674.9" cy="1023.2" r="2.7"/><circle cx="676.6" cy="1019.8" r="2.7"/><circle cx="675.8" cy="1019.1" r="2.7"/><circle cx="675.8" cy="1015.1" r="2.7"/><circle cx="676.4" cy="1012.4" r="2.7"/><circle cx="679.4" cy="913.3" r="2.7"/><circle cx="678.9" cy="915.9" r="2.7"/><circle cx="679.0" cy="920.3" r="2.7"/><circle cx="677.2" cy="923.9" r="2.7"/><circle cx="677.6" cy="1018.4" r="2.7"/><circle cx="677.1" cy="1015.7" r="2.7"/><circle cx="679.2" cy="1013.4" r="2.7"/><circle cx="681.1" cy="907.6" r="2.7"/><circle cx="681.7" cy="926.2" r="2.7"/><circle cx="681.4" cy="1021.4" r="2.7"/><circle cx="680.5" cy="1018.4" r="2.7"/><circle cx="680.2" cy="1013.0" r="2.7"/><circle cx="682.0" cy="910.3" r="2.7"/><circle cx="682.2" cy="911.5" r="2.7"/><circle cx="684.4" cy="913.2" r="2.7"/><circle cx="683.3" cy="916.5" r="2.7"/><circle cx="684.4" cy="923.1" r="2.7"/><circle cx="682.6" cy="1020.7" r="2.7"/><circle cx="684.1" cy="1018.7" r="2.7"/><circle cx="684.3" cy="1016.4" r="2.7"/><circle cx="682.3" cy="1014.0" r="2.7"/><circle cx="683.7" cy="1011.6" r="2.7"/><circle cx="687.2" cy="908.0" r="2.7"/><circle cx="686.3" cy="912.4" r="2.7"/><circle cx="686.3" cy="918.3" r="2.7"/><circle cx="685.1" cy="922.4" r="2.7"/><circle cx="686.9" cy="1017.8" r="2.7"/><circle cx="685.8" cy="1016.9" r="2.7"/><circle cx="685.3" cy="1013.3" r="2.7"/><circle cx="687.0" cy="1011.0" r="2.7"/><circle cx="689.3" cy="910.7" r="2.7"/><circle cx="687.6" cy="919.2" r="2.7"/><circle cx="687.7" cy="919.6" r="2.7"/><circle cx="687.4" cy="1011.1" r="2.7"/><circle cx="689.3" cy="1009.6" r="2.7"/><circle cx="691.7" cy="910.8" r="2.7"/><circle cx="691.1" cy="919.6" r="2.7"/><circle cx="690.3" cy="922.6" r="2.7"/><circle cx="690.4" cy="924.1" r="2.7"/><circle cx="689.9" cy="927.5" r="2.7"/><circle cx="690.7" cy="1010.7" r="2.7"/><circle cx="692.4" cy="934.0" r="2.7"/><circle cx="694.2" cy="940.9" r="2.7"/><circle cx="693.6" cy="942.1" r="2.7"/><circle cx="692.5" cy="948.5" r="2.7"/><circle cx="694.9" cy="1019.4" r="2.7"/><circle cx="693.3" cy="1014.6" r="2.7"/><circle cx="692.9" cy="1010.0" r="2.7"/><circle cx="696.5" cy="948.7" r="2.7"/><circle cx="697.3" cy="954.3" r="2.7"/><circle cx="696.1" cy="956.7" r="2.7"/><circle cx="695.0" cy="1019.7" r="2.7"/><circle cx="695.4" cy="1016.6" r="2.7"/><circle cx="695.6" cy="1015.6" r="2.7"/><circle cx="697.4" cy="1011.7" r="2.7"/><circle cx="699.8" cy="931.7" r="2.7"/><circle cx="699.2" cy="935.1" r="2.7"/><circle cx="699.2" cy="945.4" r="2.7"/><circle cx="699.8" cy="945.7" r="2.7"/><circle cx="699.0" cy="949.7" r="2.7"/><circle cx="699.4" cy="950.6" r="2.7"/><circle cx="699.8" cy="1013.5" r="2.7"/><circle cx="700.4" cy="814.4" r="2.7"/><circle cx="701.9" cy="822.3" r="2.7"/><circle cx="701.5" cy="826.1" r="2.7"/><circle cx="701.9" cy="828.7" r="2.7"/><circle cx="701.8" cy="830.1" r="2.7"/><circle cx="701.1" cy="1024.7" r="2.7"/><circle cx="702.7" cy="1014.7" r="2.7"/><circle cx="704.2" cy="813.8" r="2.7"/><circle cx="704.0" cy="828.5" r="2.7"/><circle cx="705.2" cy="829.9" r="2.7"/><circle cx="702.9" cy="1022.0" r="2.7"/><circle cx="705.3" cy="1019.8" r="2.7"/><circle cx="704.6" cy="1017.4" r="2.7"/><circle cx="703.3" cy="1016.1" r="2.7"/><circle cx="707.4" cy="823.4" r="2.7"/><circle cx="707.2" cy="826.1" r="2.7"/><circle cx="706.7" cy="828.3" r="2.7"/><circle cx="707.4" cy="831.6" r="2.7"/><circle cx="706.3" cy="832.8" r="2.7"/><circle cx="706.3" cy="1020.2" r="2.7"/><circle cx="707.0" cy="1018.1" r="2.7"/><circle cx="706.1" cy="1015.8" r="2.7"/><circle cx="709.9" cy="817.2" r="2.7"/><circle cx="708.5" cy="824.8" r="2.7"/><circle cx="709.8" cy="826.2" r="2.7"/><circle cx="708.0" cy="827.5" r="2.7"/><circle cx="710.2" cy="830.0" r="2.7"/><circle cx="708.3" cy="833.8" r="2.7"/><circle cx="709.1" cy="1017.1" r="2.7"/><circle cx="713.0" cy="869.4" r="2.7"/><circle cx="712.2" cy="879.8" r="2.7"/><circle cx="710.7" cy="882.6" r="2.7"/><circle cx="711.3" cy="1024.1" r="2.7"/><circle cx="711.8" cy="1019.1" r="2.7"/><circle cx="712.4" cy="1017.4" r="2.7"/><circle cx="714.4" cy="876.1" r="2.7"/><circle cx="713.9" cy="877.7" r="2.7"/><circle cx="713.4" cy="883.8" r="2.7"/><circle cx="713.6" cy="887.8" r="2.7"/><circle cx="715.0" cy="894.2" r="2.7"/><circle cx="713.8" cy="1026.8" r="2.7"/><circle cx="713.3" cy="1021.6" r="2.7"/><circle cx="713.5" cy="1020.1" r="2.7"/><circle cx="714.9" cy="1016.4" r="2.7"/><circle cx="716.8" cy="859.7" r="2.7"/><circle cx="716.3" cy="870.0" r="2.7"/><circle cx="717.5" cy="876.7" r="2.7"/><circle cx="716.0" cy="880.2" r="2.7"/><circle cx="718.0" cy="1020.6" r="2.7"/><circle cx="717.5" cy="1018.0" r="2.7"/><circle cx="720.1" cy="888.6" r="2.7"/><circle cx="719.4" cy="895.0" r="2.7"/><circle cx="719.4" cy="895.6" r="2.7"/><circle cx="718.9" cy="898.6" r="2.7"/><circle cx="719.8" cy="901.6" r="2.7"/><circle cx="719.7" cy="907.4" r="2.7"/><circle cx="718.5" cy="1021.3" r="2.7"/><circle cx="719.6" cy="1016.6" r="2.7"/><circle cx="722.4" cy="951.8" r="2.7"/><circle cx="721.6" cy="959.0" r="2.7"/><circle cx="721.7" cy="962.2" r="2.7"/><circle cx="721.1" cy="1027.8" r="2.7"/><circle cx="722.7" cy="1020.4" r="2.7"/><circle cx="722.9" cy="1016.6" r="2.7"/><circle cx="725.8" cy="956.9" r="2.7"/><circle cx="724.3" cy="958.8" r="2.7"/><circle cx="725.1" cy="960.5" r="2.7"/><circle cx="725.2" cy="964.0" r="2.7"/><circle cx="724.7" cy="1017.5" r="2.7"/><circle cx="726.5" cy="957.2" r="2.7"/><circle cx="728.1" cy="958.2" r="2.7"/><circle cx="726.3" cy="960.6" r="2.7"/><circle cx="727.1" cy="963.2" r="2.7"/><circle cx="728.5" cy="1020.7" r="2.7"/><circle cx="728.7" cy="1017.4" r="2.7"/><circle cx="728.9" cy="958.8" r="2.7"/><circle cx="731.1" cy="964.9" r="2.7"/><circle cx="729.4" cy="969.9" r="2.7"/><circle cx="729.7" cy="1025.9" r="2.7"/><circle cx="729.1" cy="1020.6" r="2.7"/><circle cx="729.8" cy="1019.1" r="2.7"/><circle cx="731.3" cy="1016.9" r="2.7"/><circle cx="733.0" cy="964.8" r="2.7"/><circle cx="731.6" cy="965.4" r="2.7"/><circle cx="731.7" cy="973.7" r="2.7"/><circle cx="732.9" cy="1021.3" r="2.7"/><circle cx="732.2" cy="1018.8" r="2.7"/><circle cx="733.3" cy="1015.4" r="2.7"/><circle cx="734.7" cy="979.6" r="2.7"/><circle cx="735.6" cy="982.7" r="2.7"/><circle cx="735.2" cy="1024.6" r="2.7"/><circle cx="734.9" cy="1023.2" r="2.7"/><circle cx="734.6" cy="1019.1" r="2.7"/><circle cx="735.5" cy="1018.1" r="2.7"/><circle cx="737.4" cy="984.4" r="2.7"/><circle cx="738.2" cy="985.9" r="2.7"/><circle cx="738.0" cy="987.0" r="2.7"/><circle cx="737.5" cy="989.0" r="2.7"/><circle cx="738.7" cy="1019.5" r="2.7"/><circle cx="739.9" cy="994.6" r="2.7"/><circle cx="740.7" cy="996.9" r="2.7"/><circle cx="741.5" cy="1022.6" r="2.7"/><circle cx="740.0" cy="1020.6" r="2.7"/><circle cx="744.2" cy="990.8" r="2.7"/><circle cx="742.5" cy="994.8" r="2.7"/><circle cx="743.3" cy="994.8" r="2.7"/><circle cx="742.0" cy="1019.1" r="2.7"/><circle cx="745.5" cy="991.6" r="2.7"/><circle cx="744.6" cy="992.6" r="2.7"/><circle cx="744.9" cy="995.0" r="2.7"/><circle cx="745.4" cy="1022.0" r="2.7"/><circle cx="745.5" cy="1020.2" r="2.7"/><circle cx="747.5" cy="977.8" r="2.7"/><circle cx="748.6" cy="980.0" r="2.7"/><circle cx="748.2" cy="1019.3" r="2.7"/><circle cx="748.7" cy="1014.5" r="2.7"/><circle cx="751.9" cy="967.3" r="2.7"/><circle cx="749.9" cy="971.5" r="2.7"/><circle cx="750.1" cy="974.3" r="2.7"/><circle cx="750.3" cy="1023.1" r="2.7"/><circle cx="750.5" cy="1021.0" r="2.7"/><circle cx="751.9" cy="1019.4" r="2.7"/><circle cx="751.9" cy="1016.6" r="2.7"/><circle cx="749.8" cy="1014.0" r="2.7"/><circle cx="753.5" cy="975.6" r="2.7"/><circle cx="753.0" cy="976.1" r="2.7"/><circle cx="753.5" cy="982.0" r="2.7"/><circle cx="753.7" cy="1023.2" r="2.7"/><circle cx="753.5" cy="1018.1" r="2.7"/><circle cx="754.2" cy="1015.0" r="2.7"/><circle cx="756.8" cy="974.2" r="2.7"/><circle cx="755.5" cy="976.3" r="2.7"/><circle cx="755.4" cy="978.1" r="2.7"/><circle cx="755.3" cy="1017.3" r="2.7"/><circle cx="756.5" cy="1015.3" r="2.7"/><circle cx="757.5" cy="967.5" r="2.7"/><circle cx="759.7" cy="974.0" r="2.7"/><circle cx="757.5" cy="976.4" r="2.7"/><circle cx="758.5" cy="1022.1" r="2.7"/><circle cx="758.8" cy="1018.8" r="2.7"/><circle cx="757.6" cy="1016.3" r="2.7"/><circle cx="759.8" cy="1013.5" r="2.7"/><circle cx="761.3" cy="961.6" r="2.7"/><circle cx="761.5" cy="963.8" r="2.7"/><circle cx="760.3" cy="968.9" r="2.7"/><circle cx="762.4" cy="971.7" r="2.7"/><circle cx="761.3" cy="1015.8" r="2.7"/><circle cx="761.8" cy="1012.8" r="2.7"/><circle cx="764.4" cy="959.6" r="2.7"/><circle cx="764.9" cy="963.2" r="2.7"/><circle cx="764.5" cy="964.8" r="2.7"/><circle cx="764.9" cy="1018.4" r="2.7"/><circle cx="764.0" cy="1014.2" r="2.7"/><circle cx="765.1" cy="1011.5" r="2.7"/><circle cx="767.2" cy="948.1" r="2.7"/><circle cx="765.7" cy="952.2" r="2.7"/><circle cx="767.5" cy="954.7" r="2.7"/><circle cx="767.7" cy="957.3" r="2.7"/><circle cx="765.8" cy="1016.4" r="2.7"/><circle cx="765.6" cy="1011.4" r="2.7"/><circle cx="768.1" cy="928.5" r="2.7"/><circle cx="768.5" cy="931.0" r="2.7"/><circle cx="769.8" cy="934.1" r="2.7"/><circle cx="768.2" cy="1020.0" r="2.7"/><circle cx="769.4" cy="1015.8" r="2.7"/><circle cx="769.5" cy="1014.0" r="2.7"/><circle cx="769.5" cy="1012.4" r="2.7"/><circle cx="771.6" cy="910.4" r="2.7"/><circle cx="772.4" cy="916.1" r="2.7"/><circle cx="771.1" cy="918.3" r="2.7"/><circle cx="772.8" cy="1019.6" r="2.7"/><circle cx="771.4" cy="1017.0" r="2.7"/><circle cx="772.1" cy="1014.2" r="2.7"/><circle cx="771.3" cy="1010.0" r="2.7"/><circle cx="773.2" cy="916.7" r="2.7"/><circle cx="775.4" cy="920.0" r="2.7"/><circle cx="775.3" cy="1020.0" r="2.7"/><circle cx="775.5" cy="1015.7" r="2.7"/><circle cx="775.1" cy="1012.5" r="2.7"/><circle cx="773.7" cy="1009.5" r="2.7"/><circle cx="776.8" cy="919.9" r="2.7"/><circle cx="777.9" cy="1020.2" r="2.7"/><circle cx="776.2" cy="1018.1" r="2.7"/><circle cx="776.7" cy="1014.1" r="2.7"/><circle cx="776.0" cy="1012.0" r="2.7"/><circle cx="777.2" cy="1010.3" r="2.7"/><circle cx="780.5" cy="925.5" r="2.7"/><circle cx="780.2" cy="929.8" r="2.7"/><circle cx="779.2" cy="932.6" r="2.7"/><circle cx="778.3" cy="933.0" r="2.7"/><circle cx="778.7" cy="1010.4" r="2.7"/><circle cx="783.3" cy="965.6" r="2.7"/><circle cx="781.3" cy="1013.8" r="2.7"/><circle cx="780.9" cy="1013.3" r="2.7"/><circle cx="783.1" cy="1009.8" r="2.7"/><circle cx="783.7" cy="955.3" r="2.7"/><circle cx="785.6" cy="958.1" r="2.7"/><circle cx="784.8" cy="960.3" r="2.7"/><circle cx="785.2" cy="1018.0" r="2.7"/><circle cx="785.0" cy="1016.5" r="2.7"/><circle cx="785.7" cy="1011.6" r="2.7"/><circle cx="785.7" cy="1008.9" r="2.7"/><circle cx="787.0" cy="927.7" r="2.7"/><circle cx="786.4" cy="933.2" r="2.7"/><circle cx="788.3" cy="936.8" r="2.7"/><circle cx="786.6" cy="1019.2" r="2.7"/><circle cx="787.5" cy="1012.5" r="2.7"/><circle cx="787.5" cy="1010.7" r="2.7"/><circle cx="786.3" cy="1010.0" r="2.7"/><circle cx="788.9" cy="922.8" r="2.7"/><circle cx="789.1" cy="929.5" r="2.7"/><circle cx="790.7" cy="1015.5" r="2.7"/><circle cx="789.1" cy="1014.2" r="2.7"/><circle cx="789.6" cy="1012.0" r="2.7"/><circle cx="790.6" cy="1009.6" r="2.7"/><circle cx="791.3" cy="915.0" r="2.7"/><circle cx="791.3" cy="916.8" r="2.7"/><circle cx="793.8" cy="921.6" r="2.7"/><circle cx="792.7" cy="926.1" r="2.7"/><circle cx="791.8" cy="1021.0" r="2.7"/><circle cx="793.1" cy="1014.1" r="2.7"/><circle cx="793.0" cy="1012.1" r="2.7"/><circle cx="791.3" cy="1009.4" r="2.7"/><circle cx="795.5" cy="922.5" r="2.7"/><circle cx="795.5" cy="924.2" r="2.7"/><circle cx="794.3" cy="1016.7" r="2.7"/><circle cx="794.7" cy="1011.4" r="2.7"/><circle cx="798.8" cy="914.5" r="2.7"/><circle cx="796.9" cy="923.9" r="2.7"/><circle cx="798.5" cy="1014.4" r="2.7"/><circle cx="798.9" cy="1011.8" r="2.7"/><circle cx="799.1" cy="930.3" r="2.7"/><circle cx="800.9" cy="933.0" r="2.7"/><circle cx="799.3" cy="935.2" r="2.7"/><circle cx="800.7" cy="938.6" r="2.7"/><circle cx="801.6" cy="1018.7" r="2.7"/><circle cx="800.5" cy="1013.9" r="2.7"/><circle cx="802.7" cy="955.9" r="2.7"/><circle cx="802.4" cy="962.8" r="2.7"/><circle cx="801.8" cy="964.8" r="2.7"/><circle cx="802.0" cy="1022.8" r="2.7"/><circle cx="803.6" cy="1020.4" r="2.7"/><circle cx="801.7" cy="1017.4" r="2.7"/><circle cx="802.8" cy="1014.8" r="2.7"/><circle cx="806.4" cy="992.2" r="2.7"/><circle cx="804.8" cy="993.5" r="2.7"/><circle cx="806.2" cy="997.7" r="2.7"/><circle cx="805.6" cy="1021.0" r="2.7"/><circle cx="809.0" cy="1006.3" r="2.7"/><circle cx="807.3" cy="1008.2" r="2.7"/><circle cx="807.8" cy="1024.6" r="2.7"/><circle cx="809.3" cy="1024.1" r="2.7"/><circle cx="809.6" cy="1006.6" r="2.7"/><circle cx="809.4" cy="1010.4" r="2.7"/><circle cx="811.0" cy="1024.7" r="2.7"/><circle cx="811.3" cy="1024.7" r="2.7"/><circle cx="814.1" cy="1010.1" r="2.7"/><circle cx="812.2" cy="1024.2" r="2.7"/><circle cx="813.2" cy="1024.7" r="2.7"/><circle cx="815.0" cy="1007.0" r="2.7"/><circle cx="816.2" cy="1024.1" r="2.7"/><circle cx="819.1" cy="1001.3" r="2.7"/><circle cx="818.0" cy="1023.3" r="2.7"/><circle cx="818.0" cy="1022.6" r="2.7"/><circle cx="821.1" cy="985.7" r="2.7"/><circle cx="820.5" cy="989.8" r="2.7"/><circle cx="819.8" cy="991.5" r="2.7"/><circle cx="821.4" cy="1022.8" r="2.7"/><circle cx="822.4" cy="1020.4" r="2.7"/><circle cx="821.1" cy="1019.9" r="2.7"/><circle cx="824.6" cy="973.2" r="2.7"/><circle cx="824.9" cy="975.7" r="2.7"/><circle cx="823.9" cy="979.3" r="2.7"/><circle cx="823.1" cy="981.5" r="2.7"/><circle cx="824.4" cy="1019.1" r="2.7"/><circle cx="824.4" cy="1017.4" r="2.7"/><circle cx="825.8" cy="967.6" r="2.7"/><circle cx="827.0" cy="970.5" r="2.7"/><circle cx="827.3" cy="976.0" r="2.7"/><circle cx="825.5" cy="1021.9" r="2.7"/><circle cx="826.0" cy="1020.4" r="2.7"/><circle cx="825.9" cy="1018.6" r="2.7"/><circle cx="825.1" cy="1013.8" r="2.7"/><circle cx="828.3" cy="967.5" r="2.7"/><circle cx="828.5" cy="973.4" r="2.7"/><circle cx="829.7" cy="974.7" r="2.7"/><circle cx="830.1" cy="1019.1" r="2.7"/><circle cx="828.6" cy="1018.2" r="2.7"/><circle cx="829.4" cy="1012.8" r="2.7"/><circle cx="828.4" cy="1012.4" r="2.7"/><circle cx="832.0" cy="962.4" r="2.7"/><circle cx="830.2" cy="967.8" r="2.7"/><circle cx="832.4" cy="969.5" r="2.7"/><circle cx="832.2" cy="1013.3" r="2.7"/><circle cx="831.8" cy="1009.2" r="2.7"/><circle cx="831.3" cy="1007.0" r="2.7"/><circle cx="833.4" cy="915.8" r="2.7"/><circle cx="833.1" cy="917.3" r="2.7"/><circle cx="834.1" cy="924.4" r="2.7"/><circle cx="833.2" cy="1017.2" r="2.7"/><circle cx="833.0" cy="1010.8" r="2.7"/><circle cx="834.9" cy="1008.4" r="2.7"/><circle cx="837.0" cy="940.5" r="2.7"/><circle cx="835.4" cy="942.3" r="2.7"/><circle cx="836.2" cy="1012.1" r="2.7"/><circle cx="836.0" cy="1009.1" r="2.7"/><circle cx="837.8" cy="1007.1" r="2.7"/><circle cx="840.5" cy="945.8" r="2.7"/><circle cx="839.3" cy="950.7" r="2.7"/><circle cx="839.3" cy="1013.5" r="2.7"/><circle cx="838.1" cy="1009.9" r="2.7"/><circle cx="840.5" cy="1007.0" r="2.7"/><circle cx="841.3" cy="930.0" r="2.7"/><circle cx="841.3" cy="939.1" r="2.7"/><circle cx="841.0" cy="941.1" r="2.7"/><circle cx="842.3" cy="1016.5" r="2.7"/><circle cx="841.5" cy="1010.9" r="2.7"/><circle cx="842.6" cy="1007.8" r="2.7"/><circle cx="843.5" cy="930.2" r="2.7"/><circle cx="845.2" cy="933.1" r="2.7"/><circle cx="844.2" cy="934.9" r="2.7"/><circle cx="843.8" cy="1013.4" r="2.7"/><circle cx="843.8" cy="1008.1" r="2.7"/><circle cx="846.0" cy="926.5" r="2.7"/><circle cx="847.2" cy="928.4" r="2.7"/><circle cx="848.2" cy="930.3" r="2.7"/><circle cx="845.8" cy="934.0" r="2.7"/><circle cx="846.1" cy="1011.3" r="2.7"/><circle cx="848.1" cy="1009.0" r="2.7"/><circle cx="849.5" cy="924.2" r="2.7"/><circle cx="850.1" cy="934.0" r="2.7"/><circle cx="850.7" cy="1012.8" r="2.7"/><circle cx="849.3" cy="1011.0" r="2.7"/><circle cx="849.0" cy="1008.4" r="2.7"/><circle cx="851.3" cy="956.3" r="2.7"/><circle cx="853.2" cy="959.2" r="2.7"/><circle cx="851.6" cy="1016.9" r="2.7"/><circle cx="851.7" cy="1015.8" r="2.7"/><circle cx="853.3" cy="1013.0" r="2.7"/><circle cx="853.3" cy="1007.9" r="2.7"/><circle cx="855.8" cy="917.7" r="2.7"/><circle cx="854.1" cy="924.7" r="2.7"/><circle cx="854.6" cy="925.8" r="2.7"/><circle cx="854.4" cy="1011.6" r="2.7"/><circle cx="855.4" cy="1007.2" r="2.7"/><circle cx="858.8" cy="899.2" r="2.7"/><circle cx="856.9" cy="902.7" r="2.7"/><circle cx="856.4" cy="905.5" r="2.7"/><circle cx="858.5" cy="1013.9" r="2.7"/><circle cx="856.6" cy="1010.7" r="2.7"/><circle cx="857.4" cy="1008.4" r="2.7"/><circle cx="861.0" cy="928.9" r="2.7"/><circle cx="860.4" cy="931.4" r="2.7"/><circle cx="861.2" cy="933.2" r="2.7"/><circle cx="860.9" cy="1011.8" r="2.7"/><circle cx="859.3" cy="1010.4" r="2.7"/><circle cx="859.0" cy="1007.9" r="2.7"/><circle cx="861.7" cy="956.5" r="2.7"/><circle cx="863.8" cy="960.2" r="2.7"/><circle cx="862.5" cy="1016.8" r="2.7"/><circle cx="862.6" cy="1012.0" r="2.7"/><circle cx="862.4" cy="1008.9" r="2.7"/><circle cx="861.5" cy="1006.3" r="2.7"/><circle cx="865.4" cy="931.7" r="2.7"/><circle cx="865.5" cy="939.5" r="2.7"/><circle cx="866.3" cy="942.3" r="2.7"/><circle cx="865.7" cy="1012.9" r="2.7"/><circle cx="865.4" cy="1008.2" r="2.7"/><circle cx="865.1" cy="1006.6" r="2.7"/><circle cx="868.6" cy="924.3" r="2.7"/><circle cx="867.0" cy="926.8" r="2.7"/><circle cx="868.6" cy="929.2" r="2.7"/><circle cx="868.4" cy="1010.8" r="2.7"/><circle cx="867.8" cy="1008.6" r="2.7"/><circle cx="868.5" cy="1006.1" r="2.7"/><circle cx="869.4" cy="929.2" r="2.7"/><circle cx="871.5" cy="931.1" r="2.7"/><circle cx="869.9" cy="934.1" r="2.7"/><circle cx="870.5" cy="936.8" r="2.7"/><circle cx="870.5" cy="1014.4" r="2.7"/><circle cx="869.2" cy="1004.7" r="2.7"/><circle cx="872.4" cy="924.7" r="2.7"/><circle cx="872.0" cy="927.7" r="2.7"/><circle cx="873.8" cy="931.3" r="2.7"/><circle cx="874.2" cy="933.1" r="2.7"/><circle cx="872.6" cy="1013.5" r="2.7"/><circle cx="872.5" cy="1007.7" r="2.7"/><circle cx="874.1" cy="1004.2" r="2.7"/><circle cx="875.5" cy="913.3" r="2.7"/><circle cx="876.9" cy="919.5" r="2.7"/><circle cx="876.7" cy="1010.9" r="2.7"/><circle cx="876.8" cy="1008.8" r="2.7"/><circle cx="874.8" cy="1004.9" r="2.7"/><circle cx="878.5" cy="914.1" r="2.7"/><circle cx="877.1" cy="920.5" r="2.7"/><circle cx="878.6" cy="921.6" r="2.7"/><circle cx="879.3" cy="1010.7" r="2.7"/><circle cx="877.1" cy="1010.1" r="2.7"/><circle cx="877.5" cy="1007.4" r="2.7"/><circle cx="880.5" cy="911.1" r="2.7"/><circle cx="879.9" cy="915.3" r="2.7"/><circle cx="880.6" cy="917.8" r="2.7"/><circle cx="881.4" cy="918.2" r="2.7"/><circle cx="880.0" cy="922.5" r="2.7"/><circle cx="881.4" cy="1017.8" r="2.7"/><circle cx="880.9" cy="1012.7" r="2.7"/><circle cx="879.8" cy="1010.8" r="2.7"/><circle cx="880.1" cy="1007.0" r="2.7"/><circle cx="883.9" cy="919.0" r="2.7"/><circle cx="883.3" cy="922.7" r="2.7"/><circle cx="882.8" cy="925.3" r="2.7"/><circle cx="884.8" cy="926.5" r="2.7"/><circle cx="884.3" cy="1010.4" r="2.7"/><circle cx="883.9" cy="1009.7" r="2.7"/><circle cx="885.9" cy="937.3" r="2.7"/><circle cx="885.0" cy="943.9" r="2.7"/><circle cx="886.4" cy="1018.3" r="2.7"/><circle cx="885.8" cy="1013.2" r="2.7"/><circle cx="885.2" cy="1011.1" r="2.7"/><circle cx="886.4" cy="1008.4" r="2.7"/><circle cx="889.6" cy="949.2" r="2.7"/><circle cx="888.1" cy="952.5" r="2.7"/><circle cx="889.3" cy="953.4" r="2.7"/><circle cx="888.4" cy="956.5" r="2.7"/><circle cx="889.6" cy="958.8" r="2.7"/><circle cx="889.7" cy="1018.6" r="2.7"/><circle cx="890.0" cy="1013.7" r="2.7"/><circle cx="889.0" cy="1007.3" r="2.7"/><circle cx="891.2" cy="956.6" r="2.7"/><circle cx="890.0" cy="960.3" r="2.7"/><circle cx="890.9" cy="960.7" r="2.7"/><circle cx="891.9" cy="963.5" r="2.7"/><circle cx="890.1" cy="967.3" r="2.7"/><circle cx="891.2" cy="1012.6" r="2.7"/><circle cx="890.2" cy="1009.4" r="2.7"/><circle cx="892.2" cy="1007.8" r="2.7"/><circle cx="892.8" cy="953.9" r="2.7"/><circle cx="894.9" cy="959.8" r="2.7"/><circle cx="894.9" cy="961.5" r="2.7"/><circle cx="893.7" cy="963.1" r="2.7"/><circle cx="894.2" cy="1016.7" r="2.7"/><circle cx="893.9" cy="1012.6" r="2.7"/><circle cx="892.9" cy="1010.1" r="2.7"/><circle cx="893.0" cy="1007.6" r="2.7"/><circle cx="897.7" cy="939.5" r="2.7"/><circle cx="895.6" cy="947.7" r="2.7"/><circle cx="895.9" cy="1013.5" r="2.7"/><circle cx="896.8" cy="1008.6" r="2.7"/><circle cx="897.7" cy="1006.8" r="2.7"/><circle cx="898.4" cy="929.1" r="2.7"/><circle cx="899.0" cy="930.5" r="2.7"/><circle cx="899.3" cy="932.4" r="2.7"/><circle cx="898.3" cy="936.4" r="2.7"/><circle cx="899.8" cy="1014.6" r="2.7"/><circle cx="899.3" cy="1011.2" r="2.7"/><circle cx="898.1" cy="1006.9" r="2.7"/><circle cx="901.2" cy="934.1" r="2.7"/><circle cx="901.4" cy="935.3" r="2.7"/><circle cx="902.9" cy="1014.1" r="2.7"/><circle cx="901.1" cy="1011.7" r="2.7"/><circle cx="902.1" cy="1006.3" r="2.7"/><circle cx="903.2" cy="925.4" r="2.7"/><circle cx="904.1" cy="930.1" r="2.7"/><circle cx="904.4" cy="931.7" r="2.7"/><circle cx="904.9" cy="1010.8" r="2.7"/><circle cx="904.7" cy="1007.6" r="2.7"/><circle cx="907.4" cy="925.9" r="2.7"/><circle cx="906.7" cy="928.0" r="2.7"/><circle cx="907.1" cy="1015.9" r="2.7"/><circle cx="905.8" cy="1012.1" r="2.7"/><circle cx="907.7" cy="1007.0" r="2.7"/><circle cx="908.3" cy="951.9" r="2.7"/><circle cx="909.9" cy="953.0" r="2.7"/><circle cx="908.4" cy="955.4" r="2.7"/><circle cx="909.6" cy="1014.7" r="2.7"/><circle cx="909.0" cy="1012.3" r="2.7"/><circle cx="909.4" cy="1006.9" r="2.7"/><circle cx="911.2" cy="947.5" r="2.7"/><circle cx="911.4" cy="957.6" r="2.7"/><circle cx="910.9" cy="1016.7" r="2.7"/><circle cx="911.0" cy="1009.4" r="2.7"/><circle cx="912.8" cy="1005.9" r="2.7"/><circle cx="915.0" cy="945.3" r="2.7"/><circle cx="913.9" cy="947.5" r="2.7"/><circle cx="915.0" cy="1016.6" r="2.7"/><circle cx="915.0" cy="1008.4" r="2.7"/><circle cx="917.8" cy="930.5" r="2.7"/><circle cx="917.7" cy="931.6" r="2.7"/><circle cx="917.0" cy="933.7" r="2.7"/><circle cx="916.6" cy="1014.3" r="2.7"/><circle cx="918.4" cy="1009.5" r="2.7"/><circle cx="918.5" cy="1006.6" r="2.7"/><circle cx="918.7" cy="933.4" r="2.7"/><circle cx="920.4" cy="934.2" r="2.7"/><circle cx="919.3" cy="1015.6" r="2.7"/><circle cx="919.5" cy="1014.1" r="2.7"/><circle cx="920.6" cy="1011.7" r="2.7"/><circle cx="918.9" cy="1009.6" r="2.7"/><circle cx="923.2" cy="931.5" r="2.7"/><circle cx="923.6" cy="934.7" r="2.7"/><circle cx="922.2" cy="936.6" r="2.7"/><circle cx="921.4" cy="1015.5" r="2.7"/><circle cx="921.3" cy="1012.1" r="2.7"/><circle cx="922.8" cy="1010.3" r="2.7"/><circle cx="925.7" cy="930.1" r="2.7"/><circle cx="924.5" cy="1016.1" r="2.7"/><circle cx="925.7" cy="1013.8" r="2.7"/><circle cx="926.3" cy="1011.8" r="2.7"/><circle cx="928.2" cy="901.5" r="2.7"/><circle cx="926.8" cy="905.5" r="2.7"/><circle cx="928.8" cy="909.2" r="2.7"/><circle cx="927.9" cy="1016.1" r="2.7"/><circle cx="927.6" cy="1011.7" r="2.7"/><circle cx="930.4" cy="892.8" r="2.7"/><circle cx="929.4" cy="896.5" r="2.7"/><circle cx="930.7" cy="897.5" r="2.7"/><circle cx="931.4" cy="1020.2" r="2.7"/><circle cx="929.2" cy="1013.5" r="2.7"/><circle cx="931.1" cy="1010.2" r="2.7"/><circle cx="932.6" cy="889.1" r="2.7"/><circle cx="933.3" cy="892.7" r="2.7"/><circle cx="932.4" cy="896.4" r="2.7"/><circle cx="932.8" cy="897.5" r="2.7"/><circle cx="931.8" cy="1016.2" r="2.7"/><circle cx="933.0" cy="1011.3" r="2.7"/><circle cx="934.1" cy="1008.3" r="2.7"/><circle cx="934.8" cy="959.5" r="2.7"/><circle cx="936.6" cy="961.2" r="2.7"/><circle cx="935.7" cy="1011.3" r="2.7"/><circle cx="934.7" cy="1008.6" r="2.7"/><circle cx="939.1" cy="954.3" r="2.7"/><circle cx="938.2" cy="956.1" r="2.7"/><circle cx="939.2" cy="957.7" r="2.7"/><circle cx="937.4" cy="1011.5" r="2.7"/><circle cx="939.3" cy="1009.6" r="2.7"/><circle cx="940.3" cy="958.4" r="2.7"/><circle cx="941.2" cy="959.8" r="2.7"/><circle cx="941.8" cy="1019.3" r="2.7"/><circle cx="940.0" cy="1011.5" r="2.7"/><circle cx="940.4" cy="1009.6" r="2.7"/><circle cx="943.8" cy="954.0" r="2.7"/><circle cx="943.5" cy="956.0" r="2.7"/><circle cx="942.6" cy="959.7" r="2.7"/><circle cx="942.2" cy="962.1" r="2.7"/><circle cx="942.1" cy="1016.1" r="2.7"/><circle cx="942.1" cy="1009.0" r="2.7"/><circle cx="945.0" cy="959.4" r="2.7"/><circle cx="945.0" cy="961.0" r="2.7"/><circle cx="947.0" cy="966.0" r="2.7"/><circle cx="945.7" cy="1017.7" r="2.7"/><circle cx="944.8" cy="1013.0" r="2.7"/><circle cx="946.4" cy="1010.6" r="2.7"/><circle cx="947.8" cy="965.2" r="2.7"/><circle cx="949.5" cy="967.6" r="2.7"/><circle cx="949.8" cy="970.5" r="2.7"/><circle cx="949.1" cy="972.0" r="2.7"/><circle cx="949.4" cy="1013.9" r="2.7"/><circle cx="948.2" cy="1012.1" r="2.7"/><circle cx="951.8" cy="970.3" r="2.7"/><circle cx="951.7" cy="972.8" r="2.7"/><circle cx="951.2" cy="1012.4" r="2.7"/><circle cx="952.3" cy="1010.5" r="2.7"/><circle cx="952.4" cy="963.8" r="2.7"/><circle cx="953.6" cy="968.6" r="2.7"/><circle cx="953.2" cy="970.6" r="2.7"/><circle cx="953.6" cy="971.6" r="2.7"/><circle cx="953.4" cy="1015.1" r="2.7"/><circle cx="954.1" cy="1014.6" r="2.7"/><circle cx="954.7" cy="1010.6" r="2.7"/><circle cx="955.3" cy="969.3" r="2.7"/><circle cx="955.6" cy="970.1" r="2.7"/><circle cx="955.4" cy="1019.8" r="2.7"/><circle cx="955.7" cy="1017.0" r="2.7"/><circle cx="957.5" cy="1013.0" r="2.7"/><circle cx="955.9" cy="1010.4" r="2.7"/><circle cx="957.6" cy="961.1" r="2.7"/><circle cx="960.1" cy="962.3" r="2.7"/><circle cx="960.0" cy="966.8" r="2.7"/><circle cx="957.8" cy="969.7" r="2.7"/><circle cx="960.0" cy="1021.4" r="2.7"/><circle cx="957.9" cy="1012.6" r="2.7"/><circle cx="962.3" cy="959.6" r="2.7"/><circle cx="961.1" cy="962.0" r="2.7"/><circle cx="961.0" cy="964.9" r="2.7"/><circle cx="962.2" cy="969.7" r="2.7"/><circle cx="960.5" cy="1014.8" r="2.7"/><circle cx="960.7" cy="1011.9" r="2.7"/><circle cx="964.4" cy="962.5" r="2.7"/><circle cx="963.2" cy="968.3" r="2.7"/><circle cx="963.9" cy="971.5" r="2.7"/><circle cx="963.6" cy="1019.4" r="2.7"/><circle cx="963.1" cy="1014.6" r="2.7"/><circle cx="963.1" cy="1012.7" r="2.7"/><circle cx="966.2" cy="963.2" r="2.7"/><circle cx="965.7" cy="966.8" r="2.7"/><circle cx="967.3" cy="968.5" r="2.7"/><circle cx="967.9" cy="970.1" r="2.7"/><circle cx="966.4" cy="1014.3" r="2.7"/><circle cx="966.5" cy="1013.4" r="2.7"/><circle cx="968.8" cy="1019.2" r="2.7"/><circle cx="970.4" cy="1015.8" r="2.7"/><circle cx="968.3" cy="1015.2" r="2.7"/><circle cx="968.2" cy="1012.4" r="2.7"/><circle cx="973.0" cy="943.7" r="2.7"/><circle cx="971.8" cy="951.4" r="2.7"/><circle cx="972.6" cy="1021.1" r="2.7"/><circle cx="973.0" cy="1017.5" r="2.7"/><circle cx="970.7" cy="1011.4" r="2.7"/><circle cx="973.3" cy="945.1" r="2.7"/><circle cx="974.3" cy="947.4" r="2.7"/><circle cx="973.3" cy="1023.9" r="2.7"/><circle cx="974.8" cy="1020.2" r="2.7"/><circle cx="975.2" cy="1018.6" r="2.7"/><circle cx="975.5" cy="1015.7" r="2.7"/><circle cx="974.6" cy="1014.0" r="2.7"/><circle cx="978.2" cy="942.3" r="2.7"/><circle cx="977.6" cy="945.5" r="2.7"/><circle cx="977.2" cy="1022.3" r="2.7"/><circle cx="977.6" cy="1019.4" r="2.7"/><circle cx="978.0" cy="1016.4" r="2.7"/><circle cx="977.3" cy="1014.5" r="2.7"/><circle cx="979.7" cy="947.7" r="2.7"/><circle cx="979.7" cy="950.2" r="2.7"/><circle cx="980.5" cy="951.9" r="2.7"/><circle cx="980.0" cy="955.2" r="2.7"/><circle cx="979.0" cy="1021.0" r="2.7"/><circle cx="978.8" cy="1019.5" r="2.7"/><circle cx="980.6" cy="1016.8" r="2.7"/><circle cx="979.5" cy="1013.5" r="2.7"/><circle cx="981.5" cy="966.1" r="2.7"/><circle cx="983.3" cy="969.0" r="2.7"/><circle cx="982.2" cy="972.4" r="2.7"/><circle cx="982.5" cy="974.1" r="2.7"/><circle cx="983.2" cy="975.9" r="2.7"/><circle cx="981.9" cy="1023.0" r="2.7"/><circle cx="981.0" cy="1015.9" r="2.7"/><circle cx="981.9" cy="1014.6" r="2.7"/><circle cx="985.3" cy="975.3" r="2.7"/><circle cx="984.5" cy="979.1" r="2.7"/><circle cx="984.3" cy="1018.4" r="2.7"/><circle cx="985.1" cy="1013.7" r="2.7"/><circle cx="987.3" cy="982.9" r="2.7"/><circle cx="986.4" cy="1022.8" r="2.7"/><circle cx="988.5" cy="1019.3" r="2.7"/><circle cx="987.2" cy="1015.1" r="2.7"/><circle cx="989.2" cy="982.9" r="2.7"/><circle cx="989.1" cy="985.3" r="2.7"/><circle cx="990.1" cy="987.4" r="2.7"/><circle cx="989.3" cy="1025.2" r="2.7"/><circle cx="991.3" cy="1020.9" r="2.7"/><circle cx="989.4" cy="1018.2" r="2.7"/><circle cx="991.4" cy="995.5" r="2.7"/><circle cx="992.8" cy="998.6" r="2.7"/><circle cx="994.0" cy="999.7" r="2.7"/><circle cx="991.7" cy="1024.7" r="2.7"/><circle cx="993.4" cy="1021.9" r="2.7"/><circle cx="994.2" cy="1007.3" r="2.7"/><circle cx="995.4" cy="1026.4" r="2.7"/><circle cx="996.5" cy="1023.9" r="2.7"/><circle cx="997.4" cy="1007.0" r="2.7"/><circle cx="996.7" cy="1026.3" r="2.7"/><circle cx="998.4" cy="1025.1" r="2.7"/><circle cx="1000.4" cy="1008.3" r="2.7"/><circle cx="999.5" cy="1025.9" r="2.7"/><circle cx="999.9" cy="1023.6" r="2.7"/><circle cx="1003.2" cy="1004.8" r="2.7"/><circle cx="1002.4" cy="1008.2" r="2.7"/><circle cx="1002.8" cy="1023.8" r="2.7"/><circle cx="1006.1" cy="1024.1" r="2.7"/><circle cx="1008.4" cy="1006.6" r="2.7"/><circle cx="1008.1" cy="1008.5" r="2.7"/><circle cx="1008.6" cy="1025.5" r="2.7"/><circle cx="1009.2" cy="1024.1" r="2.7"/><circle cx="1010.3" cy="1009.2" r="2.7"/><circle cx="1010.6" cy="1026.0" r="2.7"/><circle cx="1012.1" cy="1024.2" r="2.7"/><circle cx="1014.2" cy="1003.7" r="2.7"/><circle cx="1014.2" cy="1006.2" r="2.7"/><circle cx="1012.8" cy="1023.4" r="2.7"/><circle cx="1016.2" cy="1001.6" r="2.7"/><circle cx="1015.3" cy="1026.7" r="2.7"/><circle cx="1015.6" cy="1025.6" r="2.7"/><circle cx="1018.8" cy="1001.7" r="2.7"/><circle cx="1018.2" cy="1028.0" r="2.7"/><circle cx="1018.9" cy="1026.6" r="2.7"/><circle cx="1017.7" cy="1023.7" r="2.7"/><circle cx="1020.6" cy="999.4" r="2.7"/><circle cx="1020.3" cy="1002.8" r="2.7"/><circle cx="1021.8" cy="1029.3" r="2.7"/><circle cx="1022.5" cy="1027.5" r="2.7"/><circle cx="1020.9" cy="1024.2" r="2.7"/><circle cx="1022.9" cy="1003.8" r="2.7"/><circle cx="1023.9" cy="1024.5" r="2.7"/><circle cx="1027.6" cy="1008.2" r="2.7"/><circle cx="1027.6" cy="1028.7" r="2.7"/><circle cx="1026.5" cy="1026.5" r="2.7"/><circle cx="1030.3" cy="1009.0" r="2.7"/><circle cx="1028.1" cy="1010.6" r="2.7"/><circle cx="1029.1" cy="1026.7" r="2.7"/><circle cx="1031.1" cy="1008.4" r="2.7"/><circle cx="1031.3" cy="1011.4" r="2.7"/><circle cx="1032.7" cy="1027.5" r="2.7"/><circle cx="1032.2" cy="1026.5" r="2.7"/><circle cx="1033.7" cy="1007.3" r="2.7"/><circle cx="1035.5" cy="1008.7" r="2.7"/><circle cx="1034.3" cy="1025.5" r="2.7"/><circle cx="1036.4" cy="1005.6" r="2.7"/><circle cx="1036.4" cy="1007.9" r="2.7"/><circle cx="1037.6" cy="1027.9" r="2.7"/><circle cx="1035.7" cy="1025.2" r="2.7"/><circle cx="1038.2" cy="1003.3" r="2.7"/><circle cx="1038.2" cy="1024.6" r="2.7"/><circle cx="1040.8" cy="995.2" r="2.7"/><circle cx="1043.3" cy="1027.5" r="2.7"/><circle cx="1043.3" cy="1024.6" r="2.7"/><circle cx="1045.1" cy="995.1" r="2.7"/><circle cx="1045.4" cy="998.3" r="2.7"/><circle cx="1045.0" cy="1027.4" r="2.7"/><circle cx="1046.3" cy="1007.5" r="2.7"/><circle cx="1046.3" cy="1027.2" r="2.7"/><circle cx="1050.5" cy="1009.9" r="2.7"/><circle cx="1049.2" cy="1013.5" r="2.7"/><circle cx="1049.1" cy="1026.9" r="2.7"/><circle cx="1051.7" cy="1011.3" r="2.7"/><circle cx="1053.2" cy="1026.8" r="2.7"/><circle cx="1054.4" cy="1012.6" r="2.7"/><circle cx="1055.7" cy="1026.7" r="2.7"/><circle cx="1057.9" cy="1013.1" r="2.7"/><circle cx="1057.5" cy="1014.2" r="2.7"/><circle cx="1056.8" cy="1028.4" r="2.7"/><circle cx="1059.8" cy="1017.7" r="2.7"/><circle cx="1061.4" cy="1029.0" r="2.7"/><circle cx="1059.5" cy="1027.1" r="2.7"/><circle cx="1061.7" cy="1017.1" r="2.7"/><circle cx="1062.2" cy="1028.9" r="2.7"/><circle cx="1065.0" cy="1014.7" r="2.7"/><circle cx="1066.3" cy="1014.2" r="2.7"/><circle cx="1065.2" cy="1030.0" r="2.7"/><circle cx="1066.3" cy="1028.1" r="2.7"/><circle cx="1067.2" cy="1011.7" r="2.7"/><circle cx="1068.7" cy="1028.3" r="2.7"/><circle cx="1067.1" cy="1027.0" r="2.7"/><circle cx="1071.3" cy="1006.9" r="2.7"/><circle cx="1070.3" cy="1027.5" r="2.7"/><circle cx="1073.6" cy="1008.6" r="2.7"/><circle cx="1072.1" cy="1009.6" r="2.7"/><circle cx="1073.4" cy="1028.8" r="2.7"/><circle cx="1073.0" cy="1027.8" r="2.7"/><circle cx="1075.6" cy="1014.0" r="2.7"/><circle cx="1076.6" cy="1014.4" r="2.7"/><circle cx="1075.7" cy="1028.7" r="2.7"/><circle cx="1078.6" cy="1015.4" r="2.7"/><circle cx="1078.1" cy="1017.3" r="2.7"/><circle cx="1078.9" cy="1027.6" r="2.7"/><circle cx="1081.1" cy="1018.6" r="2.7"/><circle cx="1080.6" cy="1018.6" r="2.7"/><circle cx="1080.3" cy="1029.0" r="2.7"/><circle cx="1082.3" cy="1029.9" r="2.7"/><circle cx="1083.0" cy="1014.5" r="2.7"/><circle cx="1083.2" cy="1016.1" r="2.7"/><circle cx="1082.7" cy="1029.3" r="2.7"/><circle cx="1087.6" cy="1010.5" r="2.7"/><circle cx="1086.0" cy="1029.9" r="2.7"/><circle cx="1086.5" cy="1027.8" r="2.7"/><circle cx="1088.9" cy="1013.6" r="2.7"/><circle cx="1087.7" cy="1029.2" r="2.7"/><circle cx="1090.0" cy="1028.6" r="2.7"/><circle cx="1092.1" cy="1019.4" r="2.7"/><circle cx="1090.5" cy="1028.6" r="2.7"/><circle cx="1094.2" cy="1018.4" r="2.7"/><circle cx="1093.1" cy="1029.2" r="2.7"/><circle cx="1094.0" cy="1029.4" r="2.7"/><circle cx="1097.1" cy="1019.7" r="2.7"/><circle cx="1095.7" cy="1030.9" r="2.7"/><circle cx="1098.9" cy="1016.6" r="2.7"/><circle cx="1100.4" cy="1017.5" r="2.7"/><circle cx="1099.8" cy="1028.6" r="2.7"/><circle cx="1102.3" cy="1016.4" r="2.7"/><circle cx="1101.7" cy="1017.3" r="2.7"/><circle cx="1102.1" cy="1028.7" r="2.7"/><circle cx="1104.6" cy="1017.0" r="2.7"/><circle cx="1103.3" cy="1028.6" r="2.7"/><circle cx="1108.3" cy="1016.4" r="2.7"/><circle cx="1106.7" cy="1028.6" r="2.7"/><circle cx="1109.0" cy="1015.8" r="2.7"/><circle cx="1109.3" cy="1017.4" r="2.7"/><circle cx="1109.7" cy="1030.9" r="2.7"/><circle cx="1109.9" cy="1029.0" r="2.7"/><circle cx="1111.5" cy="1009.9" r="2.7"/><circle cx="1112.9" cy="1011.1" r="2.7"/><circle cx="1113.3" cy="1027.8" r="2.7"/><circle cx="1114.5" cy="1000.0" r="2.7"/><circle cx="1114.3" cy="1004.7" r="2.7"/><circle cx="1115.8" cy="1027.8" r="2.7"/><circle cx="1117.3" cy="1001.4" r="2.7"/><circle cx="1117.7" cy="1005.8" r="2.7"/><circle cx="1118.6" cy="1030.1" r="2.7"/><circle cx="1118.4" cy="1027.0" r="2.7"/><circle cx="1118.4" cy="1025.9" r="2.7"/><circle cx="1121.2" cy="1015.5" r="2.7"/><circle cx="1123.6" cy="1018.3" r="2.7"/><circle cx="1123.0" cy="1018.0" r="2.7"/><circle cx="1122.2" cy="1029.0" r="2.7"/><circle cx="1124.7" cy="1016.9" r="2.7"/><circle cx="1126.6" cy="1017.4" r="2.7"/><circle cx="1124.4" cy="1027.9" r="2.7"/><circle cx="1128.6" cy="1015.9" r="2.7"/><circle cx="1128.7" cy="1015.2" r="2.7"/><circle cx="1127.6" cy="1028.7" r="2.7"/><circle cx="1127.4" cy="1027.5" r="2.7"/><circle cx="1130.2" cy="1015.9" r="2.7"/><circle cx="1129.6" cy="1017.8" r="2.7"/><circle cx="1129.3" cy="1028.7" r="2.7"/><circle cx="1131.3" cy="1027.8" r="2.7"/><circle cx="1132.0" cy="1019.4" r="2.7"/><circle cx="1133.2" cy="1029.3" r="2.7"/><circle cx="1135.3" cy="1015.7" r="2.7"/><circle cx="1137.9" cy="1009.9" r="2.7"/><circle cx="1138.6" cy="1011.8" r="2.7"/><circle cx="1137.8" cy="1028.2" r="2.7"/><circle cx="1138.4" cy="1027.4" r="2.7"/><circle cx="1142.2" cy="1005.6" r="2.7"/><circle cx="1141.3" cy="1008.0" r="2.7"/><circle cx="1140.7" cy="1028.6" r="2.7"/><circle cx="1141.3" cy="1026.0" r="2.7"/><circle cx="1143.6" cy="990.4" r="2.7"/><circle cx="1143.0" cy="992.1" r="2.7"/><circle cx="1143.0" cy="1028.3" r="2.7"/><circle cx="1143.0" cy="1026.0" r="2.7"/><circle cx="1143.8" cy="1021.3" r="2.7"/><circle cx="1147.0" cy="1003.7" r="2.7"/><circle cx="1147.3" cy="1007.4" r="2.7"/><circle cx="1146.6" cy="1025.8" r="2.7"/><circle cx="1148.6" cy="1011.7" r="2.7"/><circle cx="1148.1" cy="1027.8" r="2.7"/><circle cx="1149.9" cy="1025.4" r="2.7"/><circle cx="1151.7" cy="1015.7" r="2.7"/><circle cx="1150.3" cy="1027.6" r="2.7"/><circle cx="1154.6" cy="1017.0" r="2.7"/><circle cx="1154.5" cy="1027.4" r="2.7"/><circle cx="1155.3" cy="1015.4" r="2.7"/><circle cx="1156.8" cy="1016.7" r="2.7"/><circle cx="1157.3" cy="1027.6" r="2.7"/><circle cx="1159.6" cy="1015.3" r="2.7"/><circle cx="1159.3" cy="1029.3" r="2.7"/><circle cx="1161.1" cy="1011.9" r="2.7"/><circle cx="1161.4" cy="1012.0" r="2.7"/><circle cx="1163.0" cy="1029.0" r="2.7"/><circle cx="1161.3" cy="1027.7" r="2.7"/><circle cx="1164.8" cy="1028.2" r="2.7"/><circle cx="1168.0" cy="1018.5" r="2.7"/><circle cx="1166.7" cy="1028.5" r="2.7"/><circle cx="1170.5" cy="1016.5" r="2.7"/><circle cx="1169.1" cy="1030.0" r="2.7"/><circle cx="1170.8" cy="1029.2" r="2.7"/><circle cx="1172.8" cy="1015.8" r="2.7"/><circle cx="1172.0" cy="1015.4" r="2.7"/><circle cx="1172.6" cy="1027.3" r="2.7"/><circle cx="1174.6" cy="1017.1" r="2.7"/><circle cx="1174.7" cy="1016.6" r="2.7"/><circle cx="1174.3" cy="1029.6" r="2.7"/><circle cx="1175.1" cy="1027.6" r="2.7"/><circle cx="1177.7" cy="980.0" r="2.7"/><circle cx="1176.9" cy="983.7" r="2.7"/><circle cx="1177.6" cy="1029.5" r="2.7"/><circle cx="1176.8" cy="1020.6" r="2.7"/><circle cx="1178.6" cy="967.6" r="2.7"/><circle cx="1180.2" cy="970.1" r="2.7"/><circle cx="1179.7" cy="971.4" r="2.7"/><circle cx="1179.1" cy="1020.5" r="2.7"/><circle cx="1179.8" cy="1019.6" r="2.7"/><circle cx="1182.7" cy="992.2" r="2.7"/><circle cx="1182.8" cy="996.9" r="2.7"/><circle cx="1181.3" cy="1028.8" r="2.7"/><circle cx="1181.9" cy="1023.6" r="2.7"/><circle cx="1185.2" cy="1014.1" r="2.7"/><circle cx="1186.4" cy="1027.4" r="2.7"/><circle cx="1188.3" cy="1016.1" r="2.7"/><circle cx="1186.6" cy="1028.6" r="2.7"/><circle cx="1188.4" cy="1028.1" r="2.7"/><circle cx="1189.6" cy="1019.0" r="2.7"/><circle cx="1189.6" cy="1027.5" r="2.7"/><circle cx="1191.7" cy="1020.4" r="2.7"/><circle cx="1192.5" cy="1030.2" r="2.7"/><circle cx="1192.2" cy="1027.7" r="2.7"/><circle cx="1194.9" cy="1018.5" r="2.7"/><circle cx="1195.1" cy="1018.8" r="2.7"/><circle cx="1196.7" cy="1029.8" r="2.7"/><circle cx="1195.5" cy="1028.3" r="2.7"/><circle cx="1197.3" cy="1019.3" r="2.7"/><circle cx="1197.4" cy="1018.4" r="2.7"/><circle cx="1196.9" cy="1029.8" r="2.7"/><circle cx="1201.8" cy="1015.3" r="2.7"/><circle cx="1201.3" cy="1028.6" r="2.7"/><circle cx="1202.8" cy="1003.2" r="2.7"/><circle cx="1203.7" cy="1006.1" r="2.7"/><circle cx="1202.1" cy="1027.3" r="2.7"/><circle cx="1203.4" cy="1027.2" r="2.7"/><circle cx="1204.6" cy="1001.3" r="2.7"/><circle cx="1206.8" cy="1004.0" r="2.7"/><circle cx="1206.1" cy="1028.1" r="2.7"/><circle cx="1206.9" cy="1026.4" r="2.7"/><circle cx="1209.4" cy="1010.2" r="2.7"/><circle cx="1207.8" cy="1012.5" r="2.7"/><circle cx="1207.9" cy="1028.7" r="2.7"/><circle cx="1209.2" cy="1027.1" r="2.7"/><circle cx="1211.0" cy="1012.8" r="2.7"/><circle cx="1211.8" cy="1028.8" r="2.7"/><circle cx="1210.0" cy="1026.7" r="2.7"/><circle cx="1213.4" cy="1011.1" r="2.7"/><circle cx="1212.6" cy="1028.4" r="2.7"/><circle cx="1214.2" cy="1027.1" r="2.7"/><circle cx="1216.6" cy="1007.0" r="2.7"/><circle cx="1216.2" cy="1026.3" r="2.7"/><circle cx="1218.9" cy="1007.8" r="2.7"/><circle cx="1219.3" cy="1008.7" r="2.7"/><circle cx="1218.2" cy="1027.1" r="2.7"/><circle cx="1220.8" cy="1007.3" r="2.7"/><circle cx="1221.8" cy="1025.0" r="2.7"/><circle cx="1224.0" cy="1004.6" r="2.7"/><circle cx="1223.3" cy="1007.1" r="2.7"/><circle cx="1223.2" cy="1025.9" r="2.7"/><circle cx="1226.5" cy="1004.1" r="2.7"/><circle cx="1227.3" cy="1006.2" r="2.7"/><circle cx="1225.8" cy="1006.9" r="2.7"/><circle cx="1227.3" cy="1025.4" r="2.7"/><circle cx="1230.0" cy="1006.1" r="2.7"/><circle cx="1229.3" cy="1023.8" r="2.7"/><circle cx="1232.4" cy="1000.8" r="2.7"/><circle cx="1232.5" cy="1000.8" r="2.7"/><circle cx="1232.7" cy="1002.7" r="2.7"/><circle cx="1230.7" cy="1027.9" r="2.7"/><circle cx="1231.8" cy="1023.8" r="2.7"/><circle cx="1235.4" cy="996.6" r="2.7"/><circle cx="1235.7" cy="997.4" r="2.7"/><circle cx="1234.8" cy="1023.2" r="2.7"/><circle cx="1238.2" cy="991.1" r="2.7"/><circle cx="1237.4" cy="996.4" r="2.7"/><circle cx="1236.2" cy="1022.8" r="2.7"/><circle cx="1238.7" cy="997.9" r="2.7"/><circle cx="1240.8" cy="1027.1" r="2.7"/><circle cx="1240.3" cy="1022.5" r="2.7"/><circle cx="1241.3" cy="996.9" r="2.7"/><circle cx="1241.7" cy="999.7" r="2.7"/><circle cx="1242.8" cy="1026.7" r="2.7"/><circle cx="1243.0" cy="1021.2" r="2.7"/><circle cx="1245.6" cy="998.6" r="2.7"/><circle cx="1243.8" cy="1027.1" r="2.7"/><circle cx="1244.5" cy="1024.6" r="2.7"/><circle cx="1244.9" cy="1022.8" r="2.7"/><circle cx="1246.6" cy="998.0" r="2.7"/><circle cx="1248.5" cy="1021.2" r="2.7"/><circle cx="1249.6" cy="993.4" r="2.7"/><circle cx="1251.3" cy="997.0" r="2.7"/><circle cx="1250.7" cy="1024.7" r="2.7"/><circle cx="1249.0" cy="1022.9" r="2.7"/><circle cx="1248.8" cy="1021.0" r="2.7"/><circle cx="1252.3" cy="994.6" r="2.7"/><circle cx="1252.8" cy="998.4" r="2.7"/><circle cx="1251.6" cy="1023.7" r="2.7"/><circle cx="1252.5" cy="1021.4" r="2.7"/><circle cx="1255.9" cy="990.9" r="2.7"/><circle cx="1255.9" cy="995.6" r="2.7"/><circle cx="1256.0" cy="1025.7" r="2.7"/><circle cx="1256.5" cy="1022.2" r="2.7"/><circle cx="1255.1" cy="1020.0" r="2.7"/><circle cx="1258.8" cy="991.2" r="2.7"/><circle cx="1257.8" cy="993.2" r="2.7"/><circle cx="1257.0" cy="1025.8" r="2.7"/><circle cx="1257.9" cy="1021.5" r="2.7"/><circle cx="1257.0" cy="1020.8" r="2.7"/><circle cx="1259.7" cy="986.3" r="2.7"/><circle cx="1260.2" cy="990.8" r="2.7"/><circle cx="1259.9" cy="1022.7" r="2.7"/><circle cx="1260.3" cy="1019.7" r="2.7"/><circle cx="1259.4" cy="1018.0" r="2.7"/><circle cx="1261.9" cy="985.5" r="2.7"/><circle cx="1261.9" cy="987.2" r="2.7"/><circle cx="1262.2" cy="988.2" r="2.7"/><circle cx="1262.4" cy="1019.6" r="2.7"/><circle cx="1264.9" cy="982.4" r="2.7"/><circle cx="1266.6" cy="985.1" r="2.7"/><circle cx="1265.4" cy="988.2" r="2.7"/><circle cx="1264.4" cy="1024.5" r="2.7"/><circle cx="1265.2" cy="1019.6" r="2.7"/><circle cx="1266.2" cy="1018.3" r="2.7"/><circle cx="1268.8" cy="979.7" r="2.7"/><circle cx="1267.9" cy="980.9" r="2.7"/><circle cx="1269.3" cy="983.3" r="2.7"/><circle cx="1268.8" cy="985.9" r="2.7"/><circle cx="1267.2" cy="1018.1" r="2.7"/><circle cx="1270.7" cy="979.9" r="2.7"/><circle cx="1270.7" cy="982.5" r="2.7"/><circle cx="1271.2" cy="984.8" r="2.7"/><circle cx="1271.8" cy="1022.9" r="2.7"/><circle cx="1270.0" cy="1018.7" r="2.7"/><circle cx="1271.3" cy="1016.3" r="2.7"/><circle cx="1274.5" cy="979.1" r="2.7"/><circle cx="1274.4" cy="983.5" r="2.7"/><circle cx="1273.5" cy="1020.4" r="2.7"/><circle cx="1274.5" cy="1016.2" r="2.7"/><circle cx="1276.3" cy="975.8" r="2.7"/><circle cx="1277.1" cy="977.1" r="2.7"/><circle cx="1276.5" cy="980.2" r="2.7"/><circle cx="1275.6" cy="983.3" r="2.7"/><circle cx="1276.1" cy="1023.5" r="2.7"/><circle cx="1274.9" cy="1016.8" r="2.7"/><circle cx="1278.1" cy="978.7" r="2.7"/><circle cx="1278.3" cy="982.2" r="2.7"/><circle cx="1278.1" cy="982.4" r="2.7"/><circle cx="1279.4" cy="1017.8" r="2.7"/><circle cx="1280.0" cy="980.6" r="2.7"/><circle cx="1281.5" cy="983.2" r="2.7"/><circle cx="1282.5" cy="1019.3" r="2.7"/><circle cx="1281.1" cy="1017.3" r="2.7"/><circle cx="1283.6" cy="979.3" r="2.7"/><circle cx="1284.0" cy="982.8" r="2.7"/><circle cx="1283.4" cy="985.9" r="2.7"/><circle cx="1282.6" cy="1021.1" r="2.7"/><circle cx="1284.0" cy="1018.6" r="2.7"/><circle cx="1284.5" cy="1016.1" r="2.7"/><circle cx="1285.8" cy="979.3" r="2.7"/><circle cx="1285.5" cy="984.7" r="2.7"/><circle cx="1285.6" cy="986.1" r="2.7"/><circle cx="1285.3" cy="1019.1" r="2.7"/><circle cx="1290.2" cy="992.5" r="2.7"/><circle cx="1287.9" cy="1024.0" r="2.7"/><circle cx="1290.2" cy="1019.5" r="2.7"/><circle cx="1290.6" cy="985.0" r="2.7"/><circle cx="1291.6" cy="986.7" r="2.7"/><circle cx="1290.7" cy="1019.8" r="2.7"/><circle cx="1291.1" cy="1019.0" r="2.7"/><circle cx="1290.8" cy="1016.3" r="2.7"/><circle cx="1295.3" cy="974.6" r="2.7"/><circle cx="1294.7" cy="977.8" r="2.7"/><circle cx="1293.7" cy="979.8" r="2.7"/><circle cx="1293.1" cy="1017.5" r="2.7"/><circle cx="1295.0" cy="1014.7" r="2.7"/><circle cx="1297.7" cy="969.9" r="2.7"/><circle cx="1297.9" cy="976.5" r="2.7"/><circle cx="1297.4" cy="978.9" r="2.7"/><circle cx="1296.6" cy="1019.5" r="2.7"/><circle cx="1296.4" cy="1014.6" r="2.7"/><circle cx="1299.5" cy="978.8" r="2.7"/><circle cx="1300.3" cy="981.3" r="2.7"/><circle cx="1299.5" cy="982.2" r="2.7"/><circle cx="1298.6" cy="1023.2" r="2.7"/><circle cx="1299.2" cy="1019.7" r="2.7"/><circle cx="1299.2" cy="1017.0" r="2.7"/><circle cx="1300.4" cy="1015.9" r="2.7"/><circle cx="1302.3" cy="993.0" r="2.7"/><circle cx="1303.1" cy="1020.9" r="2.7"/><circle cx="1301.4" cy="1018.2" r="2.7"/><circle cx="1305.0" cy="984.0" r="2.7"/><circle cx="1304.4" cy="986.5" r="2.7"/><circle cx="1305.2" cy="989.5" r="2.7"/><circle cx="1303.7" cy="1018.4" r="2.7"/><circle cx="1305.3" cy="1016.9" r="2.7"/><circle cx="1307.7" cy="981.0" r="2.7"/><circle cx="1306.6" cy="1020.7" r="2.7"/><circle cx="1307.5" cy="1015.5" r="2.7"/><circle cx="1310.6" cy="973.8" r="2.7"/><circle cx="1310.8" cy="979.5" r="2.7"/><circle cx="1308.8" cy="980.4" r="2.7"/><circle cx="1310.8" cy="1022.4" r="2.7"/><circle cx="1308.6" cy="1016.3" r="2.7"/><circle cx="1309.4" cy="1015.9" r="2.7"/><circle cx="1311.6" cy="976.9" r="2.7"/><circle cx="1311.9" cy="979.9" r="2.7"/><circle cx="1312.4" cy="982.1" r="2.7"/><circle cx="1311.7" cy="984.5" r="2.7"/><circle cx="1312.4" cy="1019.9" r="2.7"/><circle cx="1313.0" cy="1015.7" r="2.7"/><circle cx="1314.4" cy="983.5" r="2.7"/><circle cx="1314.3" cy="987.1" r="2.7"/><circle cx="1314.9" cy="988.8" r="2.7"/><circle cx="1316.0" cy="1020.6" r="2.7"/><circle cx="1314.1" cy="1019.6" r="2.7"/><circle cx="1315.2" cy="1018.0" r="2.7"/><circle cx="1313.8" cy="1016.4" r="2.7"/><circle cx="1317.7" cy="981.5" r="2.7"/><circle cx="1316.5" cy="1016.4" r="2.7"/><circle cx="1318.8" cy="1015.3" r="2.7"/><circle cx="1319.4" cy="963.6" r="2.7"/><circle cx="1319.6" cy="968.8" r="2.7"/><circle cx="1319.0" cy="1021.0" r="2.7"/><circle cx="1319.9" cy="1015.6" r="2.7"/><circle cx="1320.2" cy="1014.6" r="2.7"/><circle cx="1319.8" cy="1012.6" r="2.7"/><circle cx="1322.3" cy="954.0" r="2.7"/><circle cx="1324.0" cy="959.0" r="2.7"/><circle cx="1322.2" cy="961.0" r="2.7"/><circle cx="1323.9" cy="1012.5" r="2.7"/><circle cx="1324.1" cy="1010.2" r="2.7"/><circle cx="1324.4" cy="938.8" r="2.7"/><circle cx="1326.3" cy="940.3" r="2.7"/><circle cx="1325.2" cy="949.7" r="2.7"/><circle cx="1325.4" cy="1012.2" r="2.7"/><circle cx="1325.2" cy="1011.7" r="2.7"/><circle cx="1328.7" cy="947.4" r="2.7"/><circle cx="1329.3" cy="1015.1" r="2.7"/><circle cx="1327.9" cy="1013.4" r="2.7"/><circle cx="1327.4" cy="1010.5" r="2.7"/><circle cx="1329.9" cy="940.9" r="2.7"/><circle cx="1331.0" cy="943.6" r="2.7"/><circle cx="1330.4" cy="945.9" r="2.7"/><circle cx="1329.9" cy="1016.2" r="2.7"/><circle cx="1330.6" cy="1012.3" r="2.7"/><circle cx="1331.9" cy="1009.2" r="2.7"/><circle cx="1334.0" cy="949.6" r="2.7"/><circle cx="1332.7" cy="1017.2" r="2.7"/><circle cx="1333.8" cy="1014.9" r="2.7"/><circle cx="1332.6" cy="1010.6" r="2.7"/><circle cx="1336.2" cy="945.5" r="2.7"/><circle cx="1336.0" cy="948.0" r="2.7"/><circle cx="1334.9" cy="953.3" r="2.7"/><circle cx="1335.3" cy="954.4" r="2.7"/><circle cx="1336.2" cy="1012.8" r="2.7"/><circle cx="1336.9" cy="1010.5" r="2.7"/><circle cx="1334.9" cy="1008.9" r="2.7"/><circle cx="1338.8" cy="919.9" r="2.7"/><circle cx="1338.6" cy="928.3" r="2.7"/><circle cx="1337.7" cy="1017.9" r="2.7"/><circle cx="1338.1" cy="1015.0" r="2.7"/><circle cx="1338.2" cy="1009.6" r="2.7"/><circle cx="1340.3" cy="918.6" r="2.7"/><circle cx="1341.0" cy="923.4" r="2.7"/><circle cx="1340.7" cy="1014.9" r="2.7"/><circle cx="1339.9" cy="1013.2" r="2.7"/><circle cx="1341.6" cy="1011.3" r="2.7"/><circle cx="1343.6" cy="925.7" r="2.7"/><circle cx="1343.0" cy="931.1" r="2.7"/><circle cx="1343.9" cy="936.3" r="2.7"/><circle cx="1344.9" cy="1014.7" r="2.7"/><circle cx="1344.2" cy="1011.6" r="2.7"/><circle cx="1345.8" cy="960.7" r="2.7"/><circle cx="1345.1" cy="962.0" r="2.7"/><circle cx="1346.3" cy="964.5" r="2.7"/><circle cx="1346.2" cy="1017.3" r="2.7"/><circle cx="1345.2" cy="1013.4" r="2.7"/><circle cx="1345.7" cy="1011.7" r="2.7"/><circle cx="1348.1" cy="968.4" r="2.7"/><circle cx="1349.6" cy="972.5" r="2.7"/><circle cx="1348.8" cy="975.8" r="2.7"/><circle cx="1349.4" cy="1015.0" r="2.7"/><circle cx="1350.0" cy="1011.0" r="2.7"/><circle cx="1352.1" cy="968.1" r="2.7"/><circle cx="1352.1" cy="970.7" r="2.7"/><circle cx="1351.1" cy="972.5" r="2.7"/><circle cx="1352.5" cy="975.3" r="2.7"/><circle cx="1350.6" cy="1018.0" r="2.7"/><circle cx="1351.5" cy="1014.9" r="2.7"/><circle cx="1352.6" cy="1009.7" r="2.7"/><circle cx="1353.2" cy="932.8" r="2.7"/><circle cx="1353.9" cy="933.6" r="2.7"/><circle cx="1353.9" cy="936.7" r="2.7"/><circle cx="1352.8" cy="941.4" r="2.7"/><circle cx="1353.2" cy="1016.9" r="2.7"/><circle cx="1354.0" cy="1010.9" r="2.7"/><circle cx="1354.5" cy="1010.0" r="2.7"/><circle cx="1353.9" cy="1008.1" r="2.7"/><circle cx="1355.7" cy="955.4" r="2.7"/><circle cx="1356.2" cy="962.3" r="2.7"/><circle cx="1357.4" cy="966.1" r="2.7"/><circle cx="1355.7" cy="1016.6" r="2.7"/><circle cx="1356.2" cy="1014.9" r="2.7"/><circle cx="1357.1" cy="1007.5" r="2.7"/><circle cx="1358.8" cy="973.6" r="2.7"/><circle cx="1358.4" cy="1015.8" r="2.7"/><circle cx="1359.8" cy="1009.0" r="2.7"/><circle cx="1360.9" cy="966.4" r="2.7"/><circle cx="1361.2" cy="970.3" r="2.7"/><circle cx="1360.7" cy="974.8" r="2.7"/><circle cx="1362.1" cy="1014.2" r="2.7"/><circle cx="1361.4" cy="1009.7" r="2.7"/><circle cx="1363.6" cy="931.6" r="2.7"/><circle cx="1364.6" cy="932.2" r="2.7"/><circle cx="1363.5" cy="1016.1" r="2.7"/><circle cx="1363.9" cy="1012.6" r="2.7"/><circle cx="1364.4" cy="1010.9" r="2.7"/><circle cx="1364.0" cy="1006.6" r="2.7"/><circle cx="1366.0" cy="943.4" r="2.7"/><circle cx="1366.1" cy="946.5" r="2.7"/><circle cx="1367.7" cy="1016.9" r="2.7"/><circle cx="1367.9" cy="1012.3" r="2.7"/><circle cx="1366.7" cy="1006.6" r="2.7"/><circle cx="1368.8" cy="949.4" r="2.7"/><circle cx="1370.3" cy="954.9" r="2.7"/><circle cx="1369.1" cy="1012.6" r="2.7"/><circle cx="1368.9" cy="1008.1" r="2.7"/><circle cx="1371.6" cy="961.4" r="2.7"/><circle cx="1372.4" cy="965.0" r="2.7"/><circle cx="1371.2" cy="968.2" r="2.7"/><circle cx="1372.6" cy="1017.4" r="2.7"/><circle cx="1372.7" cy="1013.0" r="2.7"/><circle cx="1372.6" cy="1009.1" r="2.7"/><circle cx="1374.7" cy="969.0" r="2.7"/><circle cx="1374.4" cy="973.2" r="2.7"/><circle cx="1373.8" cy="1015.0" r="2.7"/><circle cx="1375.1" cy="1010.3" r="2.7"/><circle cx="1373.8" cy="1006.8" r="2.7"/><circle cx="1377.5" cy="955.3" r="2.7"/><circle cx="1376.3" cy="963.1" r="2.7"/><circle cx="1378.1" cy="1012.3" r="2.7"/><circle cx="1378.6" cy="1009.4" r="2.7"/><circle cx="1377.8" cy="1006.9" r="2.7"/><circle cx="1377.0" cy="1006.3" r="2.7"/><circle cx="1376.3" cy="1004.6" r="2.7"/><circle cx="1379.6" cy="925.1" r="2.7"/><circle cx="1380.3" cy="933.8" r="2.7"/><circle cx="1379.5" cy="934.2" r="2.7"/><circle cx="1380.0" cy="1009.3" r="2.7"/><circle cx="1379.8" cy="999.9" r="2.7"/><circle cx="1383.8" cy="903.9" r="2.7"/><circle cx="1382.5" cy="906.1" r="2.7"/><circle cx="1383.3" cy="908.9" r="2.7"/><circle cx="1383.3" cy="1011.0" r="2.7"/><circle cx="1383.3" cy="1007.6" r="2.7"/><circle cx="1381.5" cy="1006.5" r="2.7"/><circle cx="1382.2" cy="1003.3" r="2.7"/><circle cx="1381.5" cy="1001.2" r="2.7"/><circle cx="1384.6" cy="913.1" r="2.7"/><circle cx="1385.6" cy="917.4" r="2.7"/><circle cx="1384.8" cy="1009.0" r="2.7"/><circle cx="1386.2" cy="1004.7" r="2.7"/><circle cx="1384.4" cy="1000.7" r="2.7"/><circle cx="1387.2" cy="916.5" r="2.7"/><circle cx="1387.5" cy="917.7" r="2.7"/><circle cx="1388.2" cy="919.5" r="2.7"/><circle cx="1389.2" cy="922.9" r="2.7"/><circle cx="1387.8" cy="925.3" r="2.7"/><circle cx="1387.3" cy="1007.0" r="2.7"/><circle cx="1388.2" cy="1005.6" r="2.7"/><circle cx="1388.1" cy="1002.8" r="2.7"/><circle cx="1389.6" cy="931.2" r="2.7"/><circle cx="1389.7" cy="936.2" r="2.7"/><circle cx="1391.1" cy="1015.3" r="2.7"/><circle cx="1391.0" cy="1008.3" r="2.7"/><circle cx="1390.1" cy="1005.3" r="2.7"/><circle cx="1394.4" cy="953.7" r="2.7"/><circle cx="1391.8" cy="957.7" r="2.7"/><circle cx="1391.9" cy="960.1" r="2.7"/><circle cx="1393.1" cy="1010.7" r="2.7"/><circle cx="1392.6" cy="1008.5" r="2.7"/><circle cx="1391.8" cy="1007.6" r="2.7"/><circle cx="1394.3" cy="1005.6" r="2.7"/><circle cx="1395.0" cy="957.7" r="2.7"/><circle cx="1396.0" cy="959.3" r="2.7"/><circle cx="1396.1" cy="962.9" r="2.7"/><circle cx="1395.4" cy="964.2" r="2.7"/><circle cx="1396.4" cy="1005.0" r="2.7"/><circle cx="1394.9" cy="1003.0" r="2.7"/><circle cx="1397.9" cy="909.7" r="2.7"/><circle cx="1398.6" cy="912.4" r="2.7"/><circle cx="1397.7" cy="1004.9" r="2.7"/><circle cx="1397.5" cy="1000.3" r="2.7"/><circle cx="1397.8" cy="997.6" r="2.7"/><circle cx="1397.9" cy="995.3" r="2.7"/><circle cx="1400.7" cy="866.2" r="2.7"/><circle cx="1400.6" cy="1000.1" r="2.7"/><circle cx="1401.7" cy="994.4" r="2.7"/><circle cx="1399.9" cy="991.7" r="2.7"/><circle cx="1404.6" cy="851.7" r="2.7"/><circle cx="1404.6" cy="853.3" r="2.7"/><circle cx="1403.3" cy="856.5" r="2.7"/><circle cx="1402.9" cy="859.1" r="2.7"/><circle cx="1403.8" cy="860.5" r="2.7"/><circle cx="1403.4" cy="991.5" r="2.7"/><circle cx="1404.2" cy="989.2" r="2.7"/><circle cx="1402.4" cy="984.6" r="2.7"/><circle cx="1407.0" cy="861.0" r="2.7"/><circle cx="1406.1" cy="863.6" r="2.7"/><circle cx="1406.0" cy="994.5" r="2.7"/><circle cx="1407.3" cy="992.8" r="2.7"/><circle cx="1406.4" cy="989.8" r="2.7"/><circle cx="1405.5" cy="988.1" r="2.7"/><circle cx="1406.2" cy="984.6" r="2.7"/><circle cx="1409.5" cy="858.5" r="2.7"/><circle cx="1409.1" cy="864.2" r="2.7"/><circle cx="1409.2" cy="867.6" r="2.7"/><circle cx="1407.7" cy="997.2" r="2.7"/><circle cx="1408.7" cy="988.9" r="2.7"/><circle cx="1409.8" cy="987.5" r="2.7"/><circle cx="1411.7" cy="880.7" r="2.7"/><circle cx="1411.2" cy="884.9" r="2.7"/><circle cx="1411.8" cy="885.3" r="2.7"/><circle cx="1412.3" cy="888.2" r="2.7"/><circle cx="1410.9" cy="892.3" r="2.7"/><circle cx="1410.9" cy="994.6" r="2.7"/><circle cx="1412.6" cy="877.6" r="2.7"/><circle cx="1413.2" cy="880.4" r="2.7"/><circle cx="1414.8" cy="1000.3" r="2.7"/><circle cx="1414.3" cy="997.7" r="2.7"/><circle cx="1413.7" cy="996.4" r="2.7"/><circle cx="1415.8" cy="833.7" r="2.7"/><circle cx="1415.5" cy="1001.6" r="2.7"/><circle cx="1416.9" cy="994.6" r="2.7"/><circle cx="1415.8" cy="993.8" r="2.7"/><circle cx="1418.4" cy="870.3" r="2.7"/><circle cx="1419.6" cy="872.3" r="2.7"/><circle cx="1418.2" cy="878.7" r="2.7"/><circle cx="1418.9" cy="880.2" r="2.7"/><circle cx="1420.1" cy="1005.4" r="2.7"/><circle cx="1418.2" cy="1004.6" r="2.7"/><circle cx="1419.8" cy="1000.8" r="2.7"/><circle cx="1420.0" cy="998.5" r="2.7"/><circle cx="1422.6" cy="922.4" r="2.7"/><circle cx="1420.7" cy="925.3" r="2.7"/><circle cx="1421.1" cy="928.8" r="2.7"/><circle cx="1421.6" cy="1011.4" r="2.7"/><circle cx="1422.4" cy="1009.7" r="2.7"/><circle cx="1422.1" cy="1008.4" r="2.7"/><circle cx="1421.6" cy="1004.6" r="2.7"/><circle cx="1421.2" cy="1001.7" r="2.7"/><circle cx="1424.1" cy="949.6" r="2.7"/><circle cx="1424.8" cy="954.8" r="2.7"/><circle cx="1423.5" cy="1007.5" r="2.7"/><circle cx="1424.1" cy="1005.6" r="2.7"/><circle cx="1426.5" cy="952.4" r="2.7"/><circle cx="1426.6" cy="959.1" r="2.7"/><circle cx="1427.3" cy="960.5" r="2.7"/><circle cx="1427.4" cy="1010.6" r="2.7"/><circle cx="1427.2" cy="1007.5" r="2.7"/><circle cx="1430.5" cy="942.3" r="2.7"/><circle cx="1428.5" cy="948.1" r="2.7"/><circle cx="1430.4" cy="949.1" r="2.7"/><circle cx="1430.4" cy="1008.8" r="2.7"/><circle cx="1428.4" cy="1006.5" r="2.7"/><circle cx="1432.7" cy="932.6" r="2.7"/><circle cx="1431.4" cy="935.9" r="2.7"/><circle cx="1431.4" cy="1009.9" r="2.7"/><circle cx="1432.9" cy="1007.0" r="2.7"/><circle cx="1432.4" cy="1003.9" r="2.7"/><circle cx="1434.8" cy="917.4" r="2.7"/><circle cx="1434.5" cy="925.9" r="2.7"/><circle cx="1433.9" cy="927.1" r="2.7"/><circle cx="1435.7" cy="1007.7" r="2.7"/><circle cx="1435.8" cy="1005.5" r="2.7"/><circle cx="1434.7" cy="1003.8" r="2.7"/><circle cx="1436.7" cy="924.9" r="2.7"/><circle cx="1437.5" cy="931.3" r="2.7"/><circle cx="1437.8" cy="1013.1" r="2.7"/><circle cx="1436.4" cy="1011.0" r="2.7"/><circle cx="1438.4" cy="1008.1" r="2.7"/><circle cx="1437.3" cy="1005.9" r="2.7"/><circle cx="1437.7" cy="1003.2" r="2.7"/><circle cx="1439.1" cy="920.5" r="2.7"/><circle cx="1440.5" cy="925.5" r="2.7"/><circle cx="1438.7" cy="930.2" r="2.7"/><circle cx="1441.1" cy="1012.6" r="2.7"/><circle cx="1439.7" cy="1006.5" r="2.7"/><circle cx="1441.2" cy="1005.4" r="2.7"/><circle cx="1440.7" cy="1002.2" r="2.7"/><circle cx="1442.1" cy="922.1" r="2.7"/><circle cx="1442.6" cy="928.8" r="2.7"/><circle cx="1443.1" cy="931.8" r="2.7"/><circle cx="1441.2" cy="1008.4" r="2.7"/><circle cx="1441.7" cy="1003.6" r="2.7"/><circle cx="1443.2" cy="999.3" r="2.7"/><circle cx="1446.3" cy="912.7" r="2.7"/><circle cx="1445.3" cy="916.7" r="2.7"/><circle cx="1443.8" cy="1002.3" r="2.7"/><circle cx="1445.0" cy="998.5" r="2.7"/><circle cx="1445.9" cy="998.2" r="2.7"/><circle cx="1445.6" cy="995.7" r="2.7"/><circle cx="1447.7" cy="880.5" r="2.7"/><circle cx="1448.0" cy="882.5" r="2.7"/><circle cx="1448.8" cy="887.3" r="2.7"/><circle cx="1447.9" cy="998.9" r="2.7"/><circle cx="1448.7" cy="996.5" r="2.7"/><circle cx="1448.3" cy="994.6" r="2.7"/><circle cx="1450.5" cy="845.6" r="2.7"/><circle cx="1449.2" cy="846.3" r="2.7"/><circle cx="1450.7" cy="851.2" r="2.7"/><circle cx="1450.2" cy="995.3" r="2.7"/><circle cx="1449.6" cy="992.2" r="2.7"/><circle cx="1449.2" cy="988.7" r="2.7"/><circle cx="1451.3" cy="986.6" r="2.7"/><circle cx="1450.2" cy="985.7" r="2.7"/><circle cx="1452.9" cy="847.9" r="2.7"/><circle cx="1451.9" cy="849.9" r="2.7"/><circle cx="1453.4" cy="852.0" r="2.7"/><circle cx="1452.0" cy="990.7" r="2.7"/><circle cx="1452.8" cy="987.8" r="2.7"/><circle cx="1452.9" cy="982.1" r="2.7"/><circle cx="1452.8" cy="979.6" r="2.7"/><circle cx="1454.4" cy="841.6" r="2.7"/><circle cx="1454.4" cy="846.3" r="2.7"/><circle cx="1455.6" cy="850.6" r="2.7"/><circle cx="1455.1" cy="851.9" r="2.7"/><circle cx="1454.9" cy="984.7" r="2.7"/><circle cx="1457.9" cy="845.1" r="2.7"/><circle cx="1457.5" cy="847.3" r="2.7"/><circle cx="1458.1" cy="1005.9" r="2.7"/><circle cx="1458.1" cy="1001.1" r="2.7"/><circle cx="1456.9" cy="1000.0" r="2.7"/><circle cx="1458.7" cy="996.9" r="2.7"/><circle cx="1461.9" cy="848.3" r="2.7"/><circle cx="1460.4" cy="848.4" r="2.7"/><circle cx="1461.7" cy="852.2" r="2.7"/><circle cx="1460.9" cy="1008.8" r="2.7"/><circle cx="1460.7" cy="1005.3" r="2.7"/><circle cx="1460.6" cy="1001.5" r="2.7"/><circle cx="1459.7" cy="998.7" r="2.7"/></g>
<g fill="#1f77b4"><circle cx="619.4" cy="634.2" r="2.7"/><circle cx="620.1" cy="637.2" r="2.7"/><circle cx="620.0" cy="640.1" r="2.7"/><circle cx="619.3" cy="643.5" r="2.7"/><circle cx="620.5" cy="647.0" r="2.7"/><circle cx="620.2" cy="651.7" r="2.7"/><circle cx="619.8" cy="655.2" r="2.7"/><circle cx="620.6" cy="657.5" r="2.7"/><circle cx="619.4" cy="660.9" r="2.7"/><circle cx="620.1" cy="668.2" r="2.7"/><circle cx="620.1" cy="670.7" r="2.7"/><circle cx="619.5" cy="675.1" r="2.7"/><circle cx="619.7" cy="678.3" r="2.7"/><circle cx="619.7" cy="682.1" r="2.7"/><circle cx="620.1" cy="688.4" r="2.7"/><circle cx="620.8" cy="698.0" r="2.7"/><circle cx="620.4" cy="701.4" r="2.7"/><circle cx="619.3" cy="705.7" r="2.7"/><circle cx="620.6" cy="711.9" r="2.7"/><circle cx="620.1" cy="718.9" r="2.7"/><circle cx="620.3" cy="728.5" r="2.7"/><circle cx="619.8" cy="746.5" r="2.7"/><circle cx="619.9" cy="749.1" r="2.7"/><circle cx="619.3" cy="753.4" r="2.7"/><circle cx="619.6" cy="756.2" r="2.7"/><circle cx="622.9" cy="634.1" r="2.7"/><circle cx="622.9" cy="647.4" r="2.7"/><circle cx="622.5" cy="657.4" r="2.7"/><circle cx="623.0" cy="661.3" r="2.7"/><circle cx="622.2" cy="664.5" r="2.7"/><circle cx="623.1" cy="668.7" r="2.7"/><circle cx="623.2" cy="675.1" r="2.7"/><circle cx="623.6" cy="678.6" r="2.7"/><circle cx="622.8" cy="687.8" r="2.7"/><circle cx="622.3" cy="694.7" r="2.7"/><circle cx="622.7" cy="697.9" r="2.7"/><circle cx="622.4" cy="701.4" r="2.7"/><circle cx="622.2" cy="706.0" r="2.7"/><circle cx="622.6" cy="712.0" r="2.7"/><circle cx="622.4" cy="716.2" r="2.7"/><circle cx="623.0" cy="721.7" r="2.7"/><circle cx="622.7" cy="725.4" r="2.7"/><circle cx="622.2" cy="733.3" r="2.7"/><circle cx="622.4" cy="736.1" r="2.7"/><circle cx="623.0" cy="740.2" r="2.7"/><circle cx="622.8" cy="749.1" r="2.7"/><circle cx="623.4" cy="756.1" r="2.7"/><circle cx="623.5" cy="760.6" r="2.7"/><circle cx="626.0" cy="647.4" r="2.7"/><circle cx="625.2" cy="650.6" r="2.7"/><circle cx="626.3" cy="655.1" r="2.7"/><circle cx="626.7" cy="658.6" r="2.7"/><circle cx="625.6" cy="664.2" r="2.7"/><circle cx="625.5" cy="668.2" r="2.7"/><circle cx="626.2" cy="678.7" r="2.7"/><circle cx="626.3" cy="682.3" r="2.7"/><circle cx="625.5" cy="692.3" r="2.7"/><circle cx="626.5" cy="696.0" r="2.7"/><circle cx="625.8" cy="699.3" r="2.7"/><circle cx="625.4" cy="704.8" r="2.7"/><circle cx="626.5" cy="716.4" r="2.7"/><circle cx="626.1" cy="721.8" r="2.7"/><circle cx="626.8" cy="726.0" r="2.7"/><circle cx="626.7" cy="729.1" r="2.7"/><circle cx="625.6" cy="739.1" r="2.7"/><circle cx="626.1" cy="742.4" r="2.7"/><circle cx="625.4" cy="746.9" r="2.7"/><circle cx="625.9" cy="749.7" r="2.7"/><circle cx="626.7" cy="756.4" r="2.7"/><circle cx="626.0" cy="759.0" r="2.7"/><circle cx="628.5" cy="633.2" r="2.7"/><circle cx="629.0" cy="641.2" r="2.7"/><circle cx="628.7" cy="644.2" r="2.7"/><circle cx="629.5" cy="647.0" r="2.7"/><circle cx="628.6" cy="650.6" r="2.7"/><circle cx="629.1" cy="658.2" r="2.7"/><circle cx="629.2" cy="664.6" r="2.7"/><circle cx="629.3" cy="667.9" r="2.7"/><circle cx="629.0" cy="672.1" r="2.7"/><circle cx="629.1" cy="685.7" r="2.7"/><circle cx="628.4" cy="691.7" r="2.7"/><circle cx="628.6" cy="694.5" r="2.7"/><circle cx="629.3" cy="709.1" r="2.7"/><circle cx="629.6" cy="712.9" r="2.7"/><circle cx="629.7" cy="715.4" r="2.7"/><circle cx="629.8" cy="719.5" r="2.7"/><circle cx="628.9" cy="722.4" r="2.7"/><circle cx="628.5" cy="725.5" r="2.7"/><circle cx="629.1" cy="732.5" r="2.7"/><circle cx="628.7" cy="736.2" r="2.7"/><circle cx="628.3" cy="740.2" r="2.7"/><circle cx="628.6" cy="748.9" r="2.7"/><circle cx="628.4" cy="756.3" r="2.7"/><circle cx="669.9" cy="641.4" r="2.7"/><circle cx="670.6" cy="649.9" r="2.7"/><circle cx="670.6" cy="654.8" r="2.7"/><circle cx="671.0" cy="659.4" r="2.7"/><circle cx="669.6" cy="664.1" r="2.7"/><circle cx="670.9" cy="667.7" r="2.7"/><circle cx="670.4" cy="672.8" r="2.7"/><circle cx="669.7" cy="676.4" r="2.7"/><circle cx="669.7" cy="680.2" r="2.7"/><circle cx="669.8" cy="684.7" r="2.7"/><circle cx="670.7" cy="689.0" r="2.7"/><circle cx="669.8" cy="693.4" r="2.7"/><circle cx="669.9" cy="697.1" r="2.7"/><circle cx="670.4" cy="701.7" r="2.7"/><circle cx="671.0" cy="705.9" r="2.7"/><circle cx="670.2" cy="710.8" r="2.7"/><circle cx="670.1" cy="715.1" r="2.7"/><circle cx="671.1" cy="719.1" r="2.7"/><circle cx="670.6" cy="723.9" r="2.7"/><circle cx="670.1" cy="727.3" r="2.7"/><circle cx="669.6" cy="732.7" r="2.7"/><circle cx="669.8" cy="735.9" r="2.7"/><circle cx="670.9" cy="741.2" r="2.7"/><circle cx="669.9" cy="744.9" r="2.7"/><circle cx="669.8" cy="749.4" r="2.7"/><circle cx="671.0" cy="754.6" r="2.7"/><circle cx="669.9" cy="758.8" r="2.7"/><circle cx="670.1" cy="761.6" r="2.7"/><circle cx="670.3" cy="766.7" r="2.7"/><circle cx="670.3" cy="770.2" r="2.7"/><circle cx="669.6" cy="775.1" r="2.7"/><circle cx="669.5" cy="779.3" r="2.7"/><circle cx="670.4" cy="783.9" r="2.7"/><circle cx="670.6" cy="788.5" r="2.7"/><circle cx="670.1" cy="792.2" r="2.7"/><circle cx="650.9" cy="781.2" r="2.7"/><circle cx="651.0" cy="785.2" r="2.7"/><circle cx="650.9" cy="788.7" r="2.7"/><circle cx="650.5" cy="791.8" r="2.7"/><circle cx="651.1" cy="806.5" r="2.7"/><circle cx="650.1" cy="809.0" r="2.7"/><circle cx="650.3" cy="812.8" r="2.7"/><circle cx="650.7" cy="820.8" r="2.7"/><circle cx="650.5" cy="823.4" r="2.7"/><circle cx="650.6" cy="835.3" r="2.7"/><circle cx="650.9" cy="838.2" r="2.7"/><circle cx="653.1" cy="781.4" r="2.7"/><circle cx="653.9" cy="785.4" r="2.7"/><circle cx="653.3" cy="788.2" r="2.7"/><circle cx="653.9" cy="792.0" r="2.7"/><circle cx="652.8" cy="794.8" r="2.7"/><circle cx="653.9" cy="798.7" r="2.7"/><circle cx="652.7" cy="801.9" r="2.7"/><circle cx="653.8" cy="806.5" r="2.7"/><circle cx="653.2" cy="809.8" r="2.7"/><circle cx="653.4" cy="812.8" r="2.7"/><circle cx="654.3" cy="821.3" r="2.7"/><circle cx="653.4" cy="824.7" r="2.7"/><circle cx="653.1" cy="830.9" r="2.7"/><circle cx="653.6" cy="838.0" r="2.7"/><circle cx="657.2" cy="780.4" r="2.7"/><circle cx="657.1" cy="788.5" r="2.7"/><circle cx="657.1" cy="791.8" r="2.7"/><circle cx="655.7" cy="795.4" r="2.7"/><circle cx="656.2" cy="798.4" r="2.7"/><circle cx="656.2" cy="803.1" r="2.7"/><circle cx="656.9" cy="806.7" r="2.7"/><circle cx="657.2" cy="810.1" r="2.7"/><circle cx="656.3" cy="816.8" r="2.7"/><circle cx="656.3" cy="824.1" r="2.7"/><circle cx="655.8" cy="827.2" r="2.7"/><circle cx="657.2" cy="834.6" r="2.7"/><circle cx="656.5" cy="838.1" r="2.7"/><circle cx="702.2" cy="809.6" r="2.7"/><circle cx="702.2" cy="816.9" r="2.7"/><circle cx="701.9" cy="819.1" r="2.7"/><circle cx="701.4" cy="823.8" r="2.7"/><circle cx="701.2" cy="826.3" r="2.7"/><circle cx="701.5" cy="833.9" r="2.7"/><circle cx="701.9" cy="838.6" r="2.7"/><circle cx="701.7" cy="841.1" r="2.7"/><circle cx="701.3" cy="844.5" r="2.7"/><circle cx="701.0" cy="849.2" r="2.7"/><circle cx="704.1" cy="809.7" r="2.7"/><circle cx="703.9" cy="815.7" r="2.7"/><circle cx="704.2" cy="819.1" r="2.7"/><circle cx="704.1" cy="823.5" r="2.7"/><circle cx="704.4" cy="830.5" r="2.7"/><circle cx="704.3" cy="833.9" r="2.7"/><circle cx="704.1" cy="838.5" r="2.7"/><circle cx="704.5" cy="841.6" r="2.7"/><circle cx="704.1" cy="848.2" r="2.7"/><circle cx="707.4" cy="809.7" r="2.7"/><circle cx="706.8" cy="820.1" r="2.7"/><circle cx="707.6" cy="826.2" r="2.7"/><circle cx="708.2" cy="831.1" r="2.7"/><circle cx="706.9" cy="840.8" r="2.7"/><circle cx="707.8" cy="845.7" r="2.7"/><circle cx="707.7" cy="849.0" r="2.7"/><circle cx="636.1" cy="776.3" r="2.7"/><circle cx="636.7" cy="784.4" r="2.7"/><circle cx="635.4" cy="787.4" r="2.7"/><circle cx="635.3" cy="798.6" r="2.7"/><circle cx="635.8" cy="801.8" r="2.7"/><circle cx="635.7" cy="809.3" r="2.7"/><circle cx="635.6" cy="823.4" r="2.7"/><circle cx="635.2" cy="834.6" r="2.7"/><circle cx="635.6" cy="842.1" r="2.7"/><circle cx="635.3" cy="848.7" r="2.7"/><circle cx="639.3" cy="776.5" r="2.7"/><circle cx="638.5" cy="788.6" r="2.7"/><circle cx="639.5" cy="791.0" r="2.7"/><circle cx="639.4" cy="794.7" r="2.7"/><circle cx="638.5" cy="801.8" r="2.7"/><circle cx="639.3" cy="806.5" r="2.7"/><circle cx="638.8" cy="808.9" r="2.7"/><circle cx="638.3" cy="815.9" r="2.7"/><circle cx="639.6" cy="820.8" r="2.7"/><circle cx="638.5" cy="835.3" r="2.7"/><circle cx="639.3" cy="841.6" r="2.7"/><circle cx="638.7" cy="844.9" r="2.7"/><circle cx="638.6" cy="848.8" r="2.7"/><circle cx="1450.2" cy="781.9" r="2.7"/><circle cx="1450.0" cy="786.3" r="2.7"/><circle cx="1448.8" cy="789.2" r="2.7"/><circle cx="1450.2" cy="792.1" r="2.7"/><circle cx="1450.1" cy="795.2" r="2.7"/><circle cx="1450.0" cy="799.8" r="2.7"/><circle cx="1448.8" cy="802.1" r="2.7"/><circle cx="1449.9" cy="810.2" r="2.7"/><circle cx="1449.1" cy="813.7" r="2.7"/><circle cx="1449.8" cy="819.5" r="2.7"/><circle cx="1448.7" cy="823.6" r="2.7"/><circle cx="1449.1" cy="836.8" r="2.7"/><circle cx="1449.1" cy="846.9" r="2.7"/><circle cx="1450.2" cy="849.9" r="2.7"/><circle cx="1452.2" cy="792.4" r="2.7"/><circle cx="1452.0" cy="799.8" r="2.7"/><circle cx="1451.8" cy="802.1" r="2.7"/><circle cx="1452.2" cy="807.0" r="2.7"/><circle cx="1451.8" cy="815.8" r="2.7"/><circle cx="1452.8" cy="819.7" r="2.7"/><circle cx="1452.4" cy="823.4" r="2.7"/><circle cx="1453.0" cy="839.9" r="2.7"/><circle cx="1452.3" cy="844.0" r="2.7"/><circle cx="1452.1" cy="846.6" r="2.7"/><circle cx="1453.1" cy="850.5" r="2.7"/><circle cx="1452.3" cy="854.6" r="2.7"/><circle cx="1455.1" cy="779.5" r="2.7"/><circle cx="1455.5" cy="789.7" r="2.7"/><circle cx="1455.2" cy="798.8" r="2.7"/><circle cx="1456.3" cy="802.9" r="2.7"/><circle cx="1456.1" cy="809.5" r="2.7"/><circle cx="1455.9" cy="813.7" r="2.7"/><circle cx="1455.7" cy="816.6" r="2.7"/><circle cx="1455.3" cy="819.2" r="2.7"/><circle cx="1455.1" cy="823.4" r="2.7"/><circle cx="1454.7" cy="829.7" r="2.7"/><circle cx="1455.2" cy="836.3" r="2.7"/><circle cx="1454.8" cy="843.0" r="2.7"/><circle cx="1455.6" cy="847.2" r="2.7"/><circle cx="1455.0" cy="850.7" r="2.7"/><circle cx="1455.2" cy="853.5" r="2.7"/><circle cx="117.6" cy="760.3" r="2.7"/><circle cx="118.1" cy="764.8" r="2.7"/><circle cx="117.0" cy="767.9" r="2.7"/><circle cx="116.7" cy="771.6" r="2.7"/><circle cx="118.0" cy="774.3" r="2.7"/><circle cx="117.0" cy="780.7" r="2.7"/><circle cx="117.7" cy="785.7" r="2.7"/><circle cx="117.7" cy="788.3" r="2.7"/><circle cx="116.9" cy="791.7" r="2.7"/><circle cx="118.2" cy="794.9" r="2.7"/><circle cx="118.0" cy="799.7" r="2.7"/><circle cx="116.9" cy="803.2" r="2.7"/><circle cx="116.8" cy="810.2" r="2.7"/><circle cx="118.1" cy="813.2" r="2.7"/><circle cx="118.0" cy="819.6" r="2.7"/><circle cx="118.1" cy="824.0" r="2.7"/><circle cx="117.0" cy="826.8" r="2.7"/><circle cx="120.3" cy="756.4" r="2.7"/><circle cx="120.9" cy="761.1" r="2.7"/><circle cx="120.6" cy="764.4" r="2.7"/><circle cx="121.0" cy="766.9" r="2.7"/><circle cx="120.6" cy="771.2" r="2.7"/><circle cx="120.4" cy="774.6" r="2.7"/><circle cx="120.8" cy="777.9" r="2.7"/><circle cx="119.7" cy="781.7" r="2.7"/><circle cx="120.1" cy="785.4" r="2.7"/><circle cx="120.0" cy="792.0" r="2.7"/><circle cx="119.9" cy="795.4" r="2.7"/><circle cx="120.4" cy="799.0" r="2.7"/><circle cx="120.7" cy="801.8" r="2.7"/><circle cx="119.8" cy="813.0" r="2.7"/><circle cx="121.2" cy="815.9" r="2.7"/><circle cx="124.3" cy="760.5" r="2.7"/><circle cx="124.0" cy="771.7" r="2.7"/><circle cx="123.3" cy="774.9" r="2.7"/><circle cx="124.1" cy="777.6" r="2.7"/><circle cx="123.5" cy="785.7" r="2.7"/><circle cx="123.1" cy="788.5" r="2.7"/><circle cx="122.8" cy="791.5" r="2.7"/><circle cx="124.2" cy="795.8" r="2.7"/><circle cx="124.0" cy="801.9" r="2.7"/><circle cx="123.7" cy="805.8" r="2.7"/><circle cx="123.6" cy="813.6" r="2.7"/><circle cx="124.3" cy="816.7" r="2.7"/><circle cx="124.0" cy="819.6" r="2.7"/><circle cx="123.3" cy="827.4" r="2.7"/><circle cx="117.0" cy="830.4" r="2.7"/><circle cx="118.0" cy="833.1" r="2.7"/><circle cx="118.3" cy="837.1" r="2.7"/><circle cx="117.2" cy="839.7" r="2.7"/><circle cx="116.9" cy="844.2" r="2.7"/><circle cx="117.5" cy="848.1" r="2.7"/><circle cx="117.1" cy="851.2" r="2.7"/><circle cx="116.7" cy="854.3" r="2.7"/><circle cx="117.3" cy="857.6" r="2.7"/><circle cx="117.6" cy="861.0" r="2.7"/><circle cx="117.5" cy="864.4" r="2.7"/><circle cx="116.9" cy="871.4" r="2.7"/><circle cx="121.1" cy="830.5" r="2.7"/><circle cx="120.1" cy="832.7" r="2.7"/><circle cx="120.6" cy="836.8" r="2.7"/><circle cx="120.4" cy="841.2" r="2.7"/><circle cx="121.1" cy="846.8" r="2.7"/><circle cx="120.3" cy="850.6" r="2.7"/><circle cx="120.9" cy="853.7" r="2.7"/><circle cx="121.2" cy="857.4" r="2.7"/><circle cx="120.7" cy="861.5" r="2.7"/><circle cx="121.0" cy="864.5" r="2.7"/><circle cx="120.2" cy="867.8" r="2.7"/><circle cx="124.1" cy="837.4" r="2.7"/><circle cx="123.9" cy="840.4" r="2.7"/><circle cx="122.9" cy="843.6" r="2.7"/><circle cx="123.2" cy="847.9" r="2.7"/><circle cx="124.1" cy="851.3" r="2.7"/><circle cx="123.6" cy="854.4" r="2.7"/><circle cx="123.1" cy="861.7" r="2.7"/><circle cx="124.1" cy="867.7" r="2.7"/><circle cx="123.1" cy="872.4" r="2.7"/><circle cx="127.1" cy="836.7" r="2.7"/><circle cx="127.2" cy="840.7" r="2.7"/><circle cx="126.8" cy="844.8" r="2.7"/><circle cx="127.0" cy="847.8" r="2.7"/><circle cx="126.9" cy="854.6" r="2.7"/><circle cx="126.0" cy="858.2" r="2.7"/><circle cx="127.2" cy="860.9" r="2.7"/><circle cx="125.9" cy="865.7" r="2.7"/><circle cx="125.9" cy="867.7" r="2.7"/><circle cx="126.8" cy="872.2" r="2.7"/><circle cx="1458.6" cy="833.6" r="2.7"/><circle cx="1459.1" cy="848.1" r="2.7"/><circle cx="1458.0" cy="853.6" r="2.7"/><circle cx="1459.1" cy="858.1" r="2.7"/><circle cx="1460.9" cy="836.6" r="2.7"/><circle cx="1461.2" cy="843.9" r="2.7"/><circle cx="1461.1" cy="847.1" r="2.7"/><circle cx="1461.2" cy="854.9" r="2.7"/><circle cx="1462.1" cy="857.8" r="2.7"/><circle cx="619.9" cy="759.9" r="2.7"/><circle cx="620.3" cy="766.9" r="2.7"/><circle cx="620.6" cy="769.5" r="2.7"/><circle cx="619.2" cy="776.5" r="2.7"/><circle cx="620.0" cy="787.2" r="2.7"/><circle cx="620.0" cy="793.8" r="2.7"/><circle cx="623.7" cy="759.7" r="2.7"/><circle cx="623.3" cy="763.4" r="2.7"/><circle cx="623.2" cy="766.1" r="2.7"/><circle cx="622.8" cy="783.6" r="2.7"/><circle cx="623.6" cy="789.8" r="2.7"/><circle cx="622.6" cy="794.6" r="2.7"/><circle cx="626.6" cy="759.6" r="2.7"/><circle cx="626.1" cy="763.8" r="2.7"/><circle cx="625.7" cy="773.0" r="2.7"/><circle cx="625.9" cy="787.6" r="2.7"/><circle cx="625.9" cy="794.6" r="2.7"/><circle cx="625.5" cy="797.1" r="2.7"/><circle cx="628.4" cy="766.4" r="2.7"/><circle cx="629.0" cy="769.7" r="2.7"/><circle cx="628.5" cy="774.4" r="2.7"/><circle cx="629.7" cy="779.8" r="2.7"/><circle cx="629.8" cy="784.3" r="2.7"/><circle cx="628.5" cy="790.8" r="2.7"/><circle cx="628.5" cy="793.8" r="2.7"/><circle cx="628.8" cy="797.9" r="2.7"/></g>
<polygon points="1449.0,850.0 1457.0,850.0 1457.0,862.0 1449.0,862.0" fill="#1f77b4" stroke="#1f77b4" stroke-width="2.2" stroke-linejoin="round"/>
<g fill="#1f77b4"><circle cx="116.9" cy="608.6" r="2.6"/><circle cx="116.9" cy="613.5" r="2.6"/><circle cx="116.2" cy="622.2" r="2.6"/><circle cx="116.9" cy="627.1" r="2.6"/><circle cx="117.4" cy="640.2" r="2.6"/><circle cx="117.4" cy="650.6" r="2.6"/><circle cx="118.2" cy="654.4" r="2.6"/><circle cx="117.4" cy="672.4" r="2.6"/><circle cx="117.4" cy="676.6" r="2.6"/><circle cx="117.9" cy="685.3" r="2.6"/><circle cx="117.9" cy="691.5" r="2.6"/><circle cx="117.9" cy="696.4" r="2.6"/><circle cx="117.4" cy="707.6" r="2.6"/><circle cx="117.4" cy="713.8" r="2.6"/><circle cx="117.9" cy="727.4" r="2.6"/><circle cx="119.9" cy="733.1" r="2.6"/><circle cx="119.4" cy="742.2" r="2.6"/><circle cx="119.9" cy="750.4" r="2.6"/><circle cx="120.4" cy="760.3" r="2.6"/><circle cx="119.4" cy="770.7" r="2.6"/><circle cx="119.4" cy="781.8" r="2.6"/><circle cx="119.9" cy="791.7" r="2.6"/><circle cx="121.1" cy="802.9" r="2.6"/><circle cx="121.9" cy="823.9" r="2.6"/><circle cx="122.4" cy="837.5" r="2.6"/><circle cx="123.6" cy="858.6" r="2.6"/><circle cx="126.1" cy="872.2" r="2.6"/><circle cx="115.9" cy="617.2" r="2.6"/><circle cx="115.9" cy="634.6" r="2.6"/><circle cx="116.4" cy="664.3" r="2.6"/><circle cx="116.4" cy="701.4" r="2.6"/><circle cx="116.4" cy="721.2" r="2.6"/><circle cx="246.1" cy="893.2" r="2.6"/><circle cx="247.0" cy="900.5" r="2.6"/><circle cx="247.0" cy="906.2" r="2.6"/><circle cx="161.5" cy="971.8" r="2.6"/><circle cx="161.5" cy="981.6" r="2.6"/><circle cx="118.1" cy="1012.4" r="2.6"/><circle cx="135.9" cy="887.6" r="2.6"/><circle cx="144.8" cy="950.8" r="2.6"/><circle cx="622.1" cy="598.0" r="2.6"/><circle cx="629.7" cy="604.2" r="2.6"/><circle cx="629.7" cy="612.8" r="2.6"/><circle cx="622.1" cy="614.8" r="2.6"/><circle cx="622.9" cy="618.5" r="2.6"/><circle cx="629.7" cy="616.9" r="2.6"/><circle cx="629.7" cy="626.1" r="2.6"/><circle cx="796.6" cy="892.9" r="2.6"/><circle cx="796.6" cy="901.0" r="2.6"/><circle cx="836.5" cy="883.2" r="2.6"/><circle cx="836.5" cy="893.4" r="2.6"/><circle cx="880.5" cy="796.1" r="2.6"/><circle cx="880.5" cy="812.3" r="2.6"/><circle cx="880.5" cy="830.2" r="2.6"/><circle cx="880.5" cy="842.2" r="2.6"/><circle cx="880.5" cy="880.2" r="2.6"/><circle cx="880.5" cy="888.3" r="2.6"/><circle cx="880.5" cy="895.2" r="2.6"/><circle cx="880.5" cy="901.0" r="2.6"/><circle cx="905.3" cy="819.6" r="2.6"/><circle cx="905.3" cy="828.4" r="2.6"/><circle cx="905.3" cy="841.8" r="2.6"/><circle cx="905.3" cy="846.8" r="2.6"/><circle cx="905.3" cy="855.1" r="2.6"/><circle cx="905.3" cy="862.9" r="2.6"/><circle cx="905.3" cy="873.3" r="2.6"/><circle cx="905.3" cy="884.8" r="2.6"/><circle cx="905.3" cy="892.9" r="2.6"/><circle cx="905.3" cy="899.8" r="2.6"/><circle cx="905.3" cy="905.6" r="2.6"/><circle cx="905.3" cy="912.5" r="2.6"/><circle cx="918.2" cy="881.4" r="2.6"/><circle cx="918.2" cy="886.0" r="2.6"/><circle cx="918.2" cy="896.4" r="2.6"/><circle cx="925.2" cy="901.0" r="2.6"/><circle cx="925.2" cy="918.2" r="2.6"/><circle cx="846.4" cy="916.6" r="2.6"/><circle cx="939.0" cy="932.1" r="2.6"/><circle cx="976.3" cy="929.3" r="2.6"/><circle cx="835.3" cy="918.2" r="2.6"/><circle cx="835.3" cy="922.9" r="2.6"/><circle cx="835.3" cy="936.7" r="2.6"/><circle cx="835.3" cy="941.3" r="2.6"/><circle cx="797.0" cy="892.9" r="2.6"/><circle cx="797.0" cy="899.8" r="2.6"/><circle cx="1015.5" cy="982.9" r="2.6"/><circle cx="1015.5" cy="986.8" r="2.6"/><circle cx="976.7" cy="928.9" r="2.6"/><circle cx="1142.9" cy="979.0" r="2.6"/><circle cx="1178.3" cy="949.5" r="2.6"/><circle cx="1365.4" cy="883.0" r="2.6"/><circle cx="1365.4" cy="897.3" r="2.6"/><circle cx="1365.4" cy="906.3" r="2.6"/><circle cx="1382.4" cy="882.5" r="2.6"/><circle cx="1384.2" cy="893.2" r="2.6"/><circle cx="1386.5" cy="892.3" r="2.6"/><circle cx="1354.6" cy="927.8" r="2.6"/><circle cx="1354.6" cy="937.6" r="2.6"/><circle cx="1434.4" cy="856.5" r="2.6"/><circle cx="1434.4" cy="865.1" r="2.6"/><circle cx="1434.4" cy="880.3" r="2.6"/><circle cx="1434.4" cy="888.0" r="2.6"/><circle cx="1443.3" cy="868.7" r="2.6"/><circle cx="1443.3" cy="873.1" r="2.6"/><circle cx="1443.3" cy="887.5" r="2.6"/><circle cx="1340.3" cy="907.2" r="2.6"/><circle cx="1454.1" cy="674.5" r="2.6"/><circle cx="1450.2" cy="689.0" r="2.6"/><circle cx="1454.5" cy="692.4" r="2.6"/><circle cx="1450.2" cy="695.8" r="2.6"/><circle cx="1454.1" cy="701.0" r="2.6"/><circle cx="1454.1" cy="706.1" r="2.6"/><circle cx="1453.6" cy="716.3" r="2.6"/><circle cx="1453.6" cy="719.7" r="2.6"/><circle cx="1453.6" cy="727.4" r="2.6"/><circle cx="1453.6" cy="734.2" r="2.6"/><circle cx="1450.2" cy="736.8" r="2.6"/><circle cx="1453.6" cy="745.3" r="2.6"/><circle cx="1454.1" cy="752.5" r="2.6"/><circle cx="1451.1" cy="767.5" r="2.6"/><circle cx="1453.6" cy="769.2" r="2.6"/><circle cx="1454.1" cy="777.7" r="2.6"/><circle cx="1404.1" cy="782.0" r="2.6"/><circle cx="1404.1" cy="792.3" r="2.6"/><circle cx="1403.3" cy="800.8" r="2.6"/><circle cx="1404.1" cy="811.4" r="2.6"/><circle cx="1402.4" cy="822.1" r="2.6"/><circle cx="1403.3" cy="828.1" r="2.6"/><circle cx="1402.4" cy="836.6" r="2.6"/><circle cx="1404.1" cy="847.7" r="2.6"/><circle cx="1404.1" cy="854.5" r="2.6"/><circle cx="1416.1" cy="829.8" r="2.6"/><circle cx="1416.1" cy="839.2" r="2.6"/><circle cx="1415.2" cy="846.0" r="2.6"/><circle cx="1416.1" cy="852.8" r="2.6"/><circle cx="1434.5" cy="855.9" r="2.6"/><circle cx="796.7" cy="892.7" r="2.6"/><circle cx="796.7" cy="901.2" r="2.6"/><circle cx="836.3" cy="883.3" r="2.6"/><circle cx="836.3" cy="893.5" r="2.6"/><circle cx="835.5" cy="908.0" r="2.6"/><circle cx="835.5" cy="916.6" r="2.6"/><circle cx="835.5" cy="923.4" r="2.6"/><circle cx="880.3" cy="880.4" r="2.6"/><circle cx="880.3" cy="888.4" r="2.6"/><circle cx="880.3" cy="899.5" r="2.6"/><circle cx="905.4" cy="855.1" r="2.6"/><circle cx="905.4" cy="863.7" r="2.6"/><circle cx="905.4" cy="873.0" r="2.6"/><circle cx="905.4" cy="885.0" r="2.6"/><circle cx="905.4" cy="892.7" r="2.6"/><circle cx="905.4" cy="899.5" r="2.6"/><circle cx="905.4" cy="906.3" r="2.6"/><circle cx="918.6" cy="881.6" r="2.6"/><circle cx="918.6" cy="896.1" r="2.6"/><circle cx="918.6" cy="906.3" r="2.6"/><circle cx="925.1" cy="901.2" r="2.6"/><circle cx="925.1" cy="906.3" r="2.6"/><circle cx="925.9" cy="916.6" r="2.6"/><circle cx="846.2" cy="916.6" r="2.6"/><circle cx="857.6" cy="889.2" r="2.6"/><circle cx="868.7" cy="916.6" r="2.6"/><circle cx="886.7" cy="926.8" r="2.6"/><circle cx="899.5" cy="925.1" r="2.6"/><circle cx="939.6" cy="933.6" r="2.6"/><circle cx="939.6" cy="938.7" r="2.6"/><circle cx="944.7" cy="949.0" r="2.6"/><circle cx="976.2" cy="929.4" r="2.6"/><circle cx="651.2" cy="782.0" r="2.6"/><circle cx="651.2" cy="788.4" r="2.6"/><circle cx="653.8" cy="796.1" r="2.6"/><circle cx="655.1" cy="798.7" r="2.6"/><circle cx="651.2" cy="811.5" r="2.6"/><circle cx="716.5" cy="858.8" r="2.6"/><circle cx="716.5" cy="872.9" r="2.6"/><circle cx="622.3" cy="598.4" r="2.6"/><circle cx="629.4" cy="604.4" r="2.6"/><circle cx="629.4" cy="612.2" r="2.6"/><circle cx="622.7" cy="614.4" r="2.6"/><circle cx="622.7" cy="618.8" r="2.6"/><circle cx="629.4" cy="617.7" r="2.6"/><circle cx="629.4" cy="626.6" r="2.6"/><circle cx="629.4" cy="633.3" r="2.6"/><circle cx="621.6" cy="643.2" r="2.6"/><circle cx="629.4" cy="643.2" r="2.6"/><circle cx="625.0" cy="636.6" r="2.6"/></g>
<polyline points="116.9,785.5 116.9,812.8 117.1,859.8 118.9,879.4 121.3,902.1 123.0,931.3 124.6,963.7 126.2,952.4 127.8,973.5 129.9,978.9 131.9,983.2 133.5,973.5 135.6,960.5 138.4,979.9 140.8,994.5 144.0,992.9 147.3,996.1 150.5,1002.6 153.8,1007.5 156.2,1014.0 158.6,1010.7 161.1,1009.1 163.5,1017.2 165.5,1015.8 167.5,1012.4 170.0,1009.1 173.2,992.9 174.8,1002.6 178.1,979.9 179.7,970.2 182.1,992.9 184.6,994.5 187.8,999.4 189.8,1006.4 191.8,1010.7 194.3,994.5 196.7,1002.6 199.1,991.3 201.6,1005.9 204.0,992.9 205.6,1004.2 207.2,983.2 209.7,997.8 212.9,981.6 216.2,965.3 218.6,965.3 220.2,999.4 221.8,957.2 224.3,999.4 225.9,984.8 229.1,986.4 231.6,952.4 233.2,971.8 236.4,950.8 239.7,996.1 242.1,962.1 244.5,986.4 246.1,968.6 249.4,992.9 251.4,1002.1 253.4,1007.5 255.9,994.5 259.1,975.1 262.4,989.7 264.8,965.3 266.4,988.0 268.8,928.1 271.3,984.8 273.7,979.9 276.9,997.8 279.4,991.3 281.8,1009.1 285.0,1015.6 288.3,1025.3 291.5,1029.4 294.8,1028.6 298.0,1026.1 300.2,1028.0 302.3,1029.6 304.5,1028.6 306.5,1026.5 308.6,1028.5 310.6,1030.7 312.6,1029.4 314.7,1030.6 316.7,1028.9 353.4,1030.6 402.3,1030.9 451.2,1030.6 500.1,1030.9 549.0,1030.6 590.6,1030.1 593.0,1027.6 595.5,1028.4 597.9,1027.7 600.0,1027.8 602.0,1025.5 604.1,1025.5 606.1,1024.3 608.2,1020.6 610.2,1021.4 612.8,1016.4 615.4,1013.8 617.4,929.3 620.5,839.6 623.0,811.5 625.6,857.6 628.7,751.3 632.0,967.7 635.9,870.4 638.4,888.6 641.0,908.8 643.5,944.6 644.8,924.1 647.4,990.7 649.9,885.7 652.5,954.9 655.1,883.2 657.6,980.5 660.2,903.6 664.0,944.6 667.9,893.4 669.7,796.1 673.0,929.3 675.5,980.5 676.8,944.6 679.4,1001.0 681.9,924.1 684.5,1006.1 688.3,934.4 692.2,975.4 696.0,995.8 697.3,965.1 699.9,920.8 702.4,872.9 705.0,915.1 707.6,954.9 710.1,903.6 714.0,995.8 716.5,934.4 720.4,970.2 722.9,1003.5 725.5,996.9 728.0,993.3 730.6,999.7 733.2,1003.5 735.3,1003.6 737.4,1007.5 739.6,1008.6 743.4,1018.9 746.0,1009.6 748.5,1003.5 751.1,1002.6 753.6,1006.1 756.2,993.3 758.8,1006.1 761.3,1004.3 763.9,998.0 766.5,995.8 769.0,979.2 771.6,965.1 774.1,963.4 776.7,957.4 779.3,995.8 780.0,996.8 783.4,1000.2 786.8,978.0 789.4,989.9 792.3,960.9 794.5,991.6 797.1,962.6 800.5,991.6 803.9,1012.1 806.5,1018.0 809.0,1020.6 811.6,1017.2 814.1,1015.5 816.7,1018.4 819.2,1017.2 821.8,1014.8 824.4,1012.1 827.8,993.3 831.2,989.9 834.6,995.1 836.3,969.5 838.9,1003.6 842.3,986.5 845.7,979.7 848.3,991.6 850.0,981.4 852.5,1005.3 855.9,962.6 859.4,989.9 861.9,993.3 864.0,991.6 866.2,988.2 869.6,964.3 873.0,981.4 875.6,955.8 878.1,962.6 879.8,947.3 882.4,979.7 885.8,981.4 889.2,991.6 892.6,995.1 896.0,972.9 899.5,989.9 902.9,986.5 905.4,950.7 907.6,967.3 909.7,986.5 913.1,993.3 916.5,972.9 919.9,976.3 923.3,989.9 925.9,974.6 929.3,1000.2 931.0,955.8 933.6,993.3 937.0,986.5 939.6,981.4 942.1,991.6 945.5,1000.2 948.9,993.3 952.4,989.9 955.8,1005.3 959.2,996.8 961.3,1000.4 963.4,1000.2 963.9,1000.6 965.9,1004.5 968.8,992.7 970.8,1000.6 972.8,984.9 975.7,980.9 978.6,1000.6 980.6,996.6 984.5,1004.5 986.5,1000.6 989.4,1004.5 991.4,1016.3 995.3,1015.3 997.3,1014.3 999.3,1020.2 1002.2,1016.3 1004.7,1018.1 1007.1,1018.2 1010.0,1021.8 1013.0,1021.2 1015.3,1010.4 1017.9,1022.2 1020.8,1018.2 1024.8,1020.2 1027.7,1022.9 1030.7,1022.2 1033.6,1020.2 1036.1,1021.8 1038.5,1025.1 1042.4,1020.2 1044.4,1010.4 1047.3,1022.2 1049.8,1021.5 1052.2,1022.2 1056.2,1019.2 1060.1,1023.1 1063.0,1023.1 1066.0,1026.1 1068.9,1022.2 1071.9,1019.2 1074.8,1023.1 1077.1,1022.6 1079.4,1023.2 1081.7,1026.1 1084.6,1022.3 1087.6,1020.2 1090.5,1026.1 1092.8,1026.5 1095.1,1023.9 1097.4,1026.1 1101.3,1024.1 1104.3,1024.9 1107.2,1024.1 1111.1,1025.1 1113.1,1020.2 1117.0,1019.2 1120.9,1024.1 1124.9,1026.1 1127.8,1025.9 1130.8,1027.1 1133.7,1024.3 1136.6,1023.1 1139.6,1022.2 1140.0,1020.2 1142.9,1008.4 1145.9,1020.2 1149.8,1022.2 1153.7,1026.1 1156.7,1026.5 1159.6,1024.1 1162.6,1024.5 1165.5,1025.1 1168.5,1023.8 1171.4,1024.1 1173.9,1024.5 1176.3,1025.1 1179.3,999.6 1182.2,1018.2 1186.1,1024.1 1189.1,1022.2 1193.0,1026.1 1195.9,1026.0 1198.9,1024.1 1202.8,1016.3 1206.7,1020.2 1209.7,1019.2 1212.6,1022.2 1215.6,1023.3 1218.5,1020.2 1221.5,1018.1 1224.4,1020.2 1228.3,1016.3 1232.2,1018.2 1236.2,1009.4 1240.1,1016.3 1244.0,1014.3 1247.0,1018.2 1249.4,1017.4 1251.9,1014.3 1255.8,1014.3 1259.7,1002.5 1263.7,1011.4 1266.6,1007.5 1269.5,1000.6 1272.5,1010.4 1274.4,1000.6 1277.4,1011.4 1279.4,1004.5 1281.3,1012.3 1283.8,1006.3 1286.2,1004.5 1288.7,1006.7 1291.1,1006.5 1295.1,994.7 1298.0,1008.4 1300.9,1008.4 1303.6,1012.0 1306.3,1012.0 1309.0,997.6 1311.6,994.1 1314.3,1003.9 1317.9,1002.1 1320.6,1001.2 1323.3,990.5 1326.0,976.2 1328.7,1006.6 1331.4,988.7 1334.0,986.9 1336.7,994.1 1339.4,969.0 1342.1,983.3 1344.8,995.9 1347.5,1010.2 1350.2,999.4 1352.0,995.9 1353.7,980.6 1357.3,1004.8 1360.9,986.9 1364.5,967.2 1367.2,994.1 1369.9,997.6 1372.6,1003.0 1375.2,997.6 1378.8,972.6 1382.0,943.9 1384.2,977.9 1386.9,965.4 1389.6,983.3 1392.3,997.6 1394.9,992.3 1397.6,976.2 1400.3,940.3 1403.9,902.7 1406.6,936.7 1408.4,938.5 1412.0,970.8 1414.0,944.2 1416.1,918.8 1420.0,954.7 1423.6,992.3 1427.2,1003.0 1430.8,977.9 1433.0,969.3 1435.3,960.0 1438.8,986.9 1441.5,979.7 1443.3,963.6 1446.0,976.2 1448.7,960.0 1450.8,911.7 1453.2,843.6 1455.9,911.7 1458.5,963.6 1460.3,938.5 1462.3,920.6" fill="none" stroke="#ff7f0e" stroke-width="2.3" stroke-linejoin="round"/>
</g></svg>
<rect x="115.6" y="575.4" width="1347.0" height="478.5" fill="none" stroke="#000" stroke-width="1.1"/>
<g stroke="#000" stroke-width="1.1"><line x1="115.60" y1="1053.9" x2="115.60" y2="1058.8"/><line x1="284.02" y1="1053.9" x2="284.02" y2="1058.8"/><line x1="452.44" y1="1053.9" x2="452.44" y2="1058.8"/><line x1="620.86" y1="1053.9" x2="620.86" y2="1058.8"/><line x1="789.28" y1="1053.9" x2="789.28" y2="1058.8"/><line x1="957.70" y1="1053.9" x2="957.70" y2="1058.8"/><line x1="1126.12" y1="1053.9" x2="1126.12" y2="1058.8"/><line x1="1294.54" y1="1053.9" x2="1294.54" y2="1058.8"/><line x1="110.7" y1="1034.10" x2="115.6" y2="1034.10"/><line x1="110.7" y1="957.30" x2="115.6" y2="957.30"/><line x1="110.7" y1="880.50" x2="115.6" y2="880.50"/><line x1="110.7" y1="803.70" x2="115.6" y2="803.70"/><line x1="110.7" y1="726.90" x2="115.6" y2="726.90"/><line x1="110.7" y1="650.10" x2="115.6" y2="650.10"/></g>
<rect x="1047.3" y="585.10" width="405.9" height="79.9" rx="3.2" ry="3.2" fill="#fff" fill-opacity="0.8" stroke="#cccccc" stroke-opacity="0.8" stroke-width="1.1"/>
<circle cx="1073.5" cy="600.00" r="2.75" fill="#1f77b4"/>
<line x1="1052.9" y1="638.50" x2="1092.0" y2="638.50" stroke="#ff7f0e" stroke-width="2.15"/>
<g opacity="0.999" font-family="Liberation Sans, sans-serif" font-weight="bold" fill="#000" stroke="#000" stroke-width="0.55" style="font-kerning:none;font-variant-ligatures:none" text-rendering="geometricPrecision">
<text transform="translate(66.84,58.73) scale(1.1809,1)" font-size="22.82">2.5</text>
<text transform="translate(66.33,114.86) scale(1.2089,1)" font-size="22.82">2.0</text>
<text transform="translate(66.82,171.00) scale(1.1816,1)" font-size="22.82">1.5</text>
<text transform="translate(66.29,227.13) scale(1.2102,1)" font-size="22.82">1.0</text>
<text transform="translate(65.99,283.27) scale(1.2081,1)" font-size="22.82">0.5</text>
<text transform="translate(65.48,339.40) scale(1.2365,1)" font-size="22.82">0.0</text>
<text transform="translate(48.72,395.54) scale(1.2345,1)" font-size="22.82">−0.5</text>
<text transform="translate(48.22,451.67) scale(1.2543,1)" font-size="22.82">−1.0</text>
<text transform="translate(48.72,507.81) scale(1.2345,1)" font-size="22.82">−1.5</text>
<text transform="translate(50.15,1041.40) scale(1.2282,1)" font-size="22.82">0.00</text>
<text transform="translate(50.65,964.60) scale(1.2083,1)" font-size="22.82">0.05</text>
<text transform="translate(50.15,887.80) scale(1.2282,1)" font-size="22.82">0.10</text>
<text transform="translate(50.65,811.00) scale(1.2083,1)" font-size="22.82">0.15</text>
<text transform="translate(50.15,734.20) scale(1.2282,1)" font-size="22.82">0.20</text>
<text transform="translate(50.65,657.40) scale(1.2083,1)" font-size="22.82">0.25</text>
<text transform="translate(634.64,29.70) scale(1.1463,1)" font-size="28.49">10.0 MHz N0000033</text>
<text transform="translate(116.58,28.29) scale(1.2076,0.9298)" font-size="27.00">(a)</text>
<text transform="translate(116.61,565.47) scale(1.1829,0.9337)" font-size="27.00">(b)</text>
<text transform="translate(1105.83,68.90) scale(1.1893,1)" font-size="18.46">Raw Data</text>
<text transform="translate(1106.00,95.70) scale(1.2159,1)" font-size="18.46">Butterworth Filtered Data</text>
<text transform="translate(1106.38,116.50) scale(1.2136,1)" font-size="18.46">(N=6, Tc=3.3333 min, Type: low)</text>
<text transform="translate(1105.83,605.85) scale(1.1893,1)" font-size="18.46">Raw Data</text>
<text transform="translate(1106.00,632.65) scale(1.2159,1)" font-size="18.46">Butterworth Filtered Data</text>
<text transform="translate(1106.38,653.45) scale(1.2136,1)" font-size="18.46">(N=6, Tc=3.3333 min, Type: low)</text>
<text transform="translate(763.96,1157.60) scale(1.0489,1)" font-size="22.82">UTC</text>
<text transform="translate(36.70,390.00) rotate(-90.0) scale(1.1804,1) translate(-1.52,0)" font-size="22.67">Doppler Shift [Hz]</text>
<text transform="translate(39.90,918.90) rotate(-90.0) scale(1.1768,1) translate(-1.52,0)" font-size="22.67">Peak Voltage [V]</text>
<text transform="translate(18.91,1131.60) rotate(-30.0) scale(1.2313,1) translate(-1.44,0)" font-size="22.82">11-23 00</text>
<text transform="translate(187.33,1131.60) rotate(-30.0) scale(1.2297,1) translate(-1.44,0)" font-size="22.82">11-23 03</text>
<text transform="translate(355.75,1131.60) rotate(-30.0) scale(1.2297,1) translate(-1.44,0)" font-size="22.82">11-23 06</text>
<text transform="translate(524.17,1131.60) rotate(-30.0) scale(1.2300,1) translate(-1.44,0)" font-size="22.82">11-23 09</text>
<text transform="translate(692.59,1131.60) rotate(-30.0) scale(1.2309,1) translate(-1.44,0)" font-size="22.82">11-23 12</text>
<text transform="translate(861.01,1131.60) rotate(-30.0) scale(1.2271,1) translate(-1.44,0)" font-size="22.82">11-23 15</text>
<text transform="translate(1029.43,1131.60) rotate(-30.0) scale(1.2280,1) translate(-1.44,0)" font-size="22.82">11-23 18</text>
<text transform="translate(1197.85,1131.60) rotate(-30.0) scale(1.2271,1) translate(-1.44,0)" font-size="22.82">11-23 21</text>
</g></svg></body></html>
